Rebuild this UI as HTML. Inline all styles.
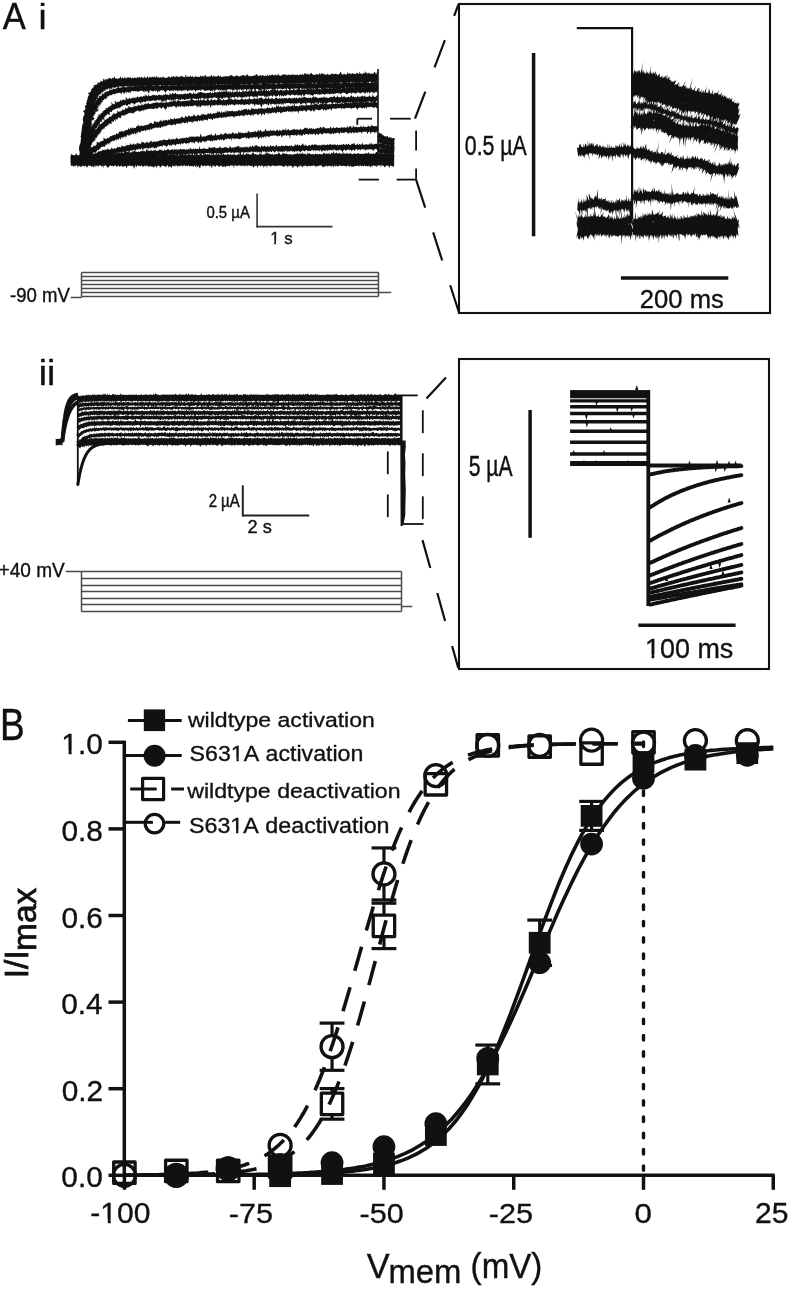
<!DOCTYPE html>
<html><head><meta charset="utf-8"><title>Figure</title>
<style>html,body{margin:0;padding:0;background:#fff}svg{display:block;will-change:transform}text{font-kerning:none;font-family:"Liberation Sans",sans-serif}</style>
</head><body>
<svg width="791" height="1289" viewBox="0 0 791 1289">
<rect width="791" height="1289" fill="#fff"/>
<g transform="translate(2.80,29.00) scale(0.9179,1)"><text font-size="37.68" fill="#111" stroke="#111" stroke-width="0.38">A</text></g>
<g transform="translate(38.62,29.00) scale(1.0344,1)"><text font-size="35.45" fill="#111" stroke="#111" stroke-width="0.34">i</text></g>
<path d="M70.7 155.7l.6-1.6 .6 .1 .6 .9 .6 .2 .6-.2 .6-.1 .6 .6 .6-.8 .6-1.3 .6 .3 .6 1.8 .6-.7 .6 .6 .6-.3 .6-.1 .6-.4 .6 .8 .6 0 .6-.6 .6-.2 .6-.8 .6 1.3 .6-.3 .6-1.5 .6 1.3 .6 .4 .6-.8 .6-.4 .6 1.8 .6-1.1 .6 .8 .6-.6 .6 .4 .6-.4 .6 .5 .6-.3 .6-.6 .6 1.1 .6-.8 .6 .6 .6 .1 .6-1 .6-.2 .6 .7 .6-.2 .6-1.1 .6 1.9 .6-.4 .6-.3 .6-.8 .6 .7 .6 .2 .6 .3 .6-.6 .6-.5 .6 .9 .6 0 .6-1.4 .6 1.7 .6 .1 .6-.6 .6 .4 .6 .5 .6-.4 .6-.7 .6 .4 .6 .6 .6-.5 .6 0 .6-.7 .6 .6 .6 .5 .6-.6 .6-.7 .6-.6 .6 .2 .6 .8 .6 .5 .6 .5 .6-1.1 .6-.3 .6 0 .6 .8 .6-.9 .6-.3 .6 1.5 .6-1.2 .6 1.3 .6-1.5 .6-.6 .6 .3 .6 1.4 .6-.1 .6-1.1 .6 1.4 .6-.4 .6 .5 .6 .4 .6-.2 .6-.7 .6 .4 .6 .1 .6 .3 .6-.2 .6-1.2 .6 .9 .6-.8 .6 1.2 .6-1.5 .6 .1 .6 1 .6-1.9 .6 2.4 .6-.5 .6-1.1 .6 .1 .6-1.5 .6 2.1 .6 .2 .6 .1 .6-.3 .6 .7 .6-.1 .6 .2 .6-1.1 .6 1.3 .6-1.1 .6 .6 .6 .1 .6-2.2 .6 .9 .6 .7 .6 .3 .6 0 .6 0 .6-.9 .6 .6 .6-.2 .6 1.1 .6-.7 .6-.1 .6 .3 .6-.8 .6 .7 .6 .6 .6-.2 .6-.1 .6-1.9 .6 2.2 .6-.2 .6-1 .6 .6 .6-.1 .6-.1 .6-1.5 .6 1.5 .6-1.3 .6-.4 .6 1.6 .6 .5 .6 0 .6-.2 .6 0 .6 .5 .6 0 .6-1.6 .6 1.6 .6-.7 .6 .7 .6-.4 .6-.1 .6-.3 .6 .6 .6 0 .6 .3 .6-.4 .6 .3 .6-.4 .6 .1 .6 .5 .6-.7 .6-.9 .6 .5 .6 .2 .6 0 .6 .7 .6-.5 .6 .4 .6-.4 .6-.6 .6 .3 .6-.6 .6 1.5 .6-1.3 .6 1.4 .6-1.9 .6-.2 .6 .3 .6 1.2 .6-.1 .6-1 .6 1.3 .6-.8 .6 .6 .6 .3 .6-.8 .6 .9 .6-.2 .6 .2 .6-.6 .6-.3 .6 .1 .6 .4 .6-.7 .6 .9 .6-1.6 .6 .8 .6 .6 .6-.2 .6 .3 .6 .4 .6 0 .6-2.7 .6 2.6 .6-1 .6 .4 .6-1 .6 0 .6 .7 .6 .1 .6-1 .6 2 .6-1.3 .6 1 .6-2 .6 2.1 .6-.3 .6 0 .6 .1 .6-.3 .6-.3 .6-.8 .6 1.5 .6 0 .6-.1 .6-.8 .6-.9 .6 1.6 .6-.3 .6-.3 .6 .2 .6-.4 .6 .8 .6-.4 .6-1.5 .6 1.4 .6 .3 .6 0 .6-.8 .6 1.1 .6-.3 .6-1.2 .6 .4 .6 .9 .6 .6 .6-1.4 .6-.1 .6 1.1 .6-1 .6 .7 .6 .2 .6-1.8 .6 1.5 .6 .5 .6-.5 .6 .6 .6 .1 .6-.5 .6 .3 .6-1.1 .6 1.2 .6-.2 .6-.2 .6-.7 .6 .4 .6-.9 .6 1.4 .6 .1 .6-.1 .6-.2 .6 .3 .6-.5 .6 .5 .6-1.6 .6 .3 .6 1 .6-1.3 .6 1.6 .6-.1 .6 .2 .6-1.2 .6 .9 .6-3.8 .6 2.8 .6 1.1 .6 0 .6 .2 .6-2 .6 .8 .6 .8 .6 .6 .6-2 .6 1.2 .6 .6 .6-3.3 .6 2.6 .6-.2 .6 1.1 .6-.1 .6-.9 .6 .8 .6-.7 .6 .6 .6-2.9 .6 1.7 .6-1.8 .6 3.1 .6-.9 .6 .4 .6 .5 .6-2.1 .6 1.2 .6 0 .6 .9 .6 .2 .6-.4 .6-1.2 .6 1 .6 .2 .6-1.1 .6 1.3 .6 .1 .6-.8 .6 .2 .6-.1 .6-2.6 .6 2.2 .6 .5 .6 .4 .6-1 .6 .8 .6 .1 .6-2.6 .6 2.7 .6-.3 .6-1.3 .6-.3 .6 .5 .6 .3 .6-1.2 .6 1.9 .6 .7 .6-1.2 .6 1 .6-.1 .6-1.5 .6 1.3 .6 0 .6 .1 .6-.2 .6 .5 .6-.3 .6 .4 .6-.9 .6 .3 .6-.1 .6 0 .6-1.4 .6 2 .6-1.1 .6 .7 .6-.2 .6-.2 .6 .8 .6-.2 .6-.4 .6-.8 .6 .8 .6 .6 .6-1.8 .6-.9 .6 2.3 .6-.1 .6 .1 .6-.1 .6 .2 .6-1.5 .6 1.5 .6-.1 .6 .1 .6-.5 .6 .2 .6 .4 .6-.7 .6 1 .6-.3 .6-.6 .6 .8 .6-.5 .6-1.1 .6 .5 .6-.3 .6 .8 .6 .6 .6-.4 .6 .2 .6-.8 .6 1 .6-1.7 .6 1.8 .6-1.7 .6 1.5 .6-1.2 .6-.1 .6 1.4 .6 0 .6-1.9 .6 1.1 .6-1.7 .6 .8 .6-.4 .6 1.4 .6 .2 .6 .4 .6-1.5 .6 .1 .6 1 .6-.3 .6 .6 .6-1.5 .6 1.4 .6-.7 .6-1 .6 1.6 .6 .3 .6-1.1 .6-.3 .6 1.1 .6-.4 .6 .4 .6 .1 .6 0 .6-.9 .6-.7 .6 1.7 .6 .1 .6-.5 .6-1.6 .6 2.3 .6-1.3 .6-1.6 .6 2 .6 .7 .6 0 .6-2.8 .6 2.1 .6-1.1 .6 1.1 .6 .1 .6-.1 .6-1 .6 .8 .6-.5 .6 1.3 .6 .2 .6-.8 .6-.9 .6 1.7 .6-1.2 .6-.2 .6 .3 .6 .7 .6-2 .6 2.4 .6-1.1 .6 .8 .6-1 .6 .1 .6 .4 .6 .5 .6-.3 .6 .3 .6-1 .6 1.1 .6-.2 .6-1 .6 .1 .6 .5 .6 .5 .6 .1 .6-.9 .6 0 .6 .2 .6 .6 .6 0 .6-.5 .6 0 .6 0 .6 .7 .6-1 .6 .9 .6 .2 .6-.5 .6 .6 .6-1 .6-.5 .6-.2 .6 .8 .6 .7 .6-1.5 .6 1 .6-.8 .6 .2 .6 .3 .6-.9 .6 1 .6 .3 .6-.5 .6-.2 .6 1.1 .6 .2 .6-.6 .6-.5 .6 0 .6 0 .6 .5 .6 .2 .6-.3 .6-.6 0 5.4-.6-.1-.6 1-.6 .3-.6-.5-.6-.4-.6-.1-.6-.2-.6-.2-.6-.2-.6 2-.6-1.3-.6 .5-.6 .2-.6-.8-.6 1.4-.6-.8-.6 .4-.6-1.3-.6 1.8-.6-1.3-.6 .5-.6 .7-.6 .2-.6-.9-.6-.9-.6 1.1-.6-.9-.6 .8-.6-1-.6 .2-.6 1.1-.6-1.3-.6 0-.6-.1-.6 .2-.6 0-.6-.2-.6 .4-.6-.3-.6 1.3-.6-1.7-.6 2.1-.6-1.9-.6 .8-.6-1.1-.6 0-.6 0-.6 .3-.6 .5-.6 .6-.6-1.1-.6 .2-.6 0-.6 0-.6 1.4-.6-1.7-.6 0-.6 .2-.6 .2-.6-.2-.6 .2-.6 .3-.6 .3-.6-1.1-.6 .5-.6-.3-.6 1-.6-.5-.6 .4-.6 .9-.6-2-.6 1.6-.6-.2-.6-1.3-.6 .2-.6-.2-.6 .3-.6 .5-.6-.5-.6 .5-.6 .4-.6-.4-.6-.7-.6 .9-.6-.2-.6 2.2-.6-3-.6 .5-.6 .3-.6-.7-.6 1.1-.6-1.2-.6 1.3-.6-1-.6 .2-.6-.7-.6 1-.6-.5-.6 0-.6-.4-.6 .9-.6-.9-.6 2-.6-1.9-.6-.2-.6 .9-.6-.5-.6 0-.6 .1-.6 .1-.6-.4-.6 .4-.6 0-.6-.1-.6 .8-.6-1-.6 1.1-.6-.6-.6 .8-.6 .6-.6-1.9-.6-.3-.6 2-.6-1.2-.6-.1-.6-.3-.6-.2-.6 .2-.6 .4-.6 .2-.6 .1-.6 .3-.6 0-.6 .7-.6-.8-.6-.4-.6 0-.6 1-.6-1.2-.6 .2-.6 .5-.6 0-.6-1-.6 .8-.6-.2-.6-.3-.6 .6-.6-.7-.6 1-.6-1.2-.6-.1-.6 1.1-.6-.3-.6-.7-.6 .1-.6-.2-.6 2-.6-1.7-.6 .3-.6-.9-.6 .5-.6 1.2-.6-.6-.6-.9-.6 .6-.6-.5-.6 .3-.6 .3-.6 .2-.6 .6-.6 2-.6-3-.6 1.4-.6-1.8-.6-.1-.6 1.1-.6 .7-.6-1.1-.6 .8-.6 1.1-.6-2.1-.6 .3-.6 1-.6-1.5-.6 .9-.6 .3-.6-1.3-.6 1.4-.6-1.1-.6-.3-.6 1-.6-.8-.6 1.7-.6-.8-.6-1-.6 .7-.6 .6-.6-1.2-.6 0-.6 0-.6 .2-.6 .6-.6-.3-.6 .1-.6-.6-.6-.2-.6 .8-.6-.6-.6-.4-.6-.1-.6 .3-.6 .9-.6-.6-.6-.3-.6 1.2-.6-1.4-.6 .2-.6 .4-.6-.1-.6 .3-.6 .4-.6-1.4-.6 1.3-.6 .6-.6-.6-.6-1.2-.6 .3-.6 1.1-.6 .4-.6-.4-.6 .2-.6-.2-.6 .5-.6-1.2-.6-.5-.6 .9-.6-.7-.6 .8-.6 .2-.6-1.4-.6 1.1-.6 .3-.6-.9-.6 1.4-.6-1.3-.6 .5-.6 1.5-.6-.7-.6-2-.6 1.9-.6-1.1-.6 1.1-.6-1.1-.6 0-.6 1.4-.6-1.9-.6-.2-.6 .6-.6 .7-.6 .2-.6-1.2-.6 3.4-.6-2.8-.6 .5-.6-.6-.6-.1-.6 .6-.6 .6-.6-1.7-.6 .1-.6 0-.6 1.4-.6-.9-.6 1.5-.6-1.8-.6-.4-.6 .2-.6 .1-.6-.3-.6 .5-.6 .2-.6 1.2-.6-1.2-.6-.4-.6-.4-.6 .7-.6 .5-.6-1.1-.6 0-.6 2.3-.6-1.4-.6-.9-.6 .2-.6 .9-.6 0-.6-1.1-.6 1.1-.6 .9-.6-1.7-.6-.2-.6 .8-.6 .1-.6-1.1-.6 .2-.6 1.9-.6-1.6-.6 .8-.6-1.3-.6 3.1-.6-2.1-.6-.9-.6 .4-.6 1.3-.6-1.9-.6 1.7-.6-.4-.6-1.2-.6 .1-.6 .7-.6-.7-.6 1-.6 1-.6-1.7-.6-.2-.6-.2-.6 2.5-.6-1.5-.6-1-.6 1.7-.6-.7-.6-.7-.6-.4-.6 1-.6 0-.6-.2-.6-.3-.6 0-.6-.4-.6 .3-.6 .6-.6 1.6-.6-2-.6-.4-.6 0-.6 .8-.6-.3-.6 .2-.6-.1-.6-.4-.6 1.3-.6 0-.6-1.6-.6 0-.6 2.3-.6-.7-.6-1-.6 .9-.6-1.4-.6 .4-.6 .3-.6-.3-.6-.6-.6 .3-.6 .2-.6 1.1-.6-.9-.6 .2-.6 .4-.6-1.3-.6 1.1-.6-.5-.6-.5-.6 .6-.6 1.4-.6 .4-.6-1.6-.6 1.8-.6-2.5-.6 .8-.6 .3-.6-.2-.6 .3-.6-.7-.6 .9-.6-1.2-.6 .4-.6-.4-.6 .1-.6 .5-.6-.1-.6-.4-.6 .1-.6-.2-.6-.3-.6 1.4-.6-1.5-.6 1.8-.6-1.4-.6-.1-.6 2.7-.6-1.7-.6-.6-.6 .1-.6-.3-.6 2.4-.6-1.6-.6-1-.6 1.1-.6-.1-.6-.9-.6 .4-.6-.6-.6 1.6-.6-.9-.6 1.2-.6-1.6-.6-.2-.6 .5-.6-.4-.6-.3-.6 .4-.6 .4-.6-.4-.6 2.7-.6-1.7-.6-1.1-.6 1.7-.6-.4-.6-.6-.6-.1-.6-.5-.6 .1-.6 1.7-.6-1.7-.6 1.4-.6-.9-.6 .5-.6-.6-.6-.8-.6 2.1-.6-1.8-.6-.4-.6 1.3-.6-.5-.6-.7-.6 .8-.6-.8-.6 .4-.6 1.2-.6-.7-.6 .2-.6 .6-.6-1.8-.6 0-.6-.1-.6 .6-.6 0-.6 1.4-.6-1.7-.6 2-.6-1.6-.6-.2-.6-.2-.6 0-.6-.2-.6 .5-.6-.1-.6 .2-.6-.1-.6 .1-.6 .3-.6 .7-.6-.6-.6 .5-.6 .1-.6 1.3-.6-2.1-.6 .7-.6-1.2-.6-.1-.6 3.4-.6-3.6-.6 1.1-.6-.9-.6 .1-.6 .8-.6-.8-.6 .1-.6-.1-.6 1.3-.6-.1-.6-1.4-.6 .8-.6-.4-.6-.5-.6 .6-.6 .4-.6-1.1-.6 .8-.6-.6-.6 1.2-.6-1.2-.6 .6-.6-.3-.6 .7-.6-.8-.6 .8-.6-1-.6 .2-.6-.1-.6 0-.6 .9-.6-.5-.6 .4-.6-.3-.6 1.2-.6-1.5-.6-.2-.6-.1-.6-.2-.6 1.6-.6-1.4-.6 .1-.6 .1-.6-.1-.6 .9-.6 1.1-.6-1.6-.6 .2-.6 0-.6 0-.6 .8-.6-1.4-.6 .4-.6-.3-.6-.1-.6 .9-.6 2.3-.6-3.1z" fill="#111"/>
<path d="M70.7 155.8l.6 2.7 .6-.1 .6-1.8 .6 1.3 .6 .2 .6 .3 .6-.1 .6-1.3 .6 1.4 .6-.6 .6-.9 .6 1.3 .6 .5 .6-2.9 .6 2.5 .6 .4 .6-.5 .6 .2 .6-.1 .6 0 .6-.2 .6 .5 .6-.4 .6-.1 .6-.3 .6-.2 .6 .6 .6-.3 .6 .5 .6 .1 .6-1.2 .6-.8 .6 1.6 .6-3.3 .6 1.8 .6 .2 .6-.1 .6 1.4 .6-1.5 .6 .2 .6 .9 .6-.5 .6-.1 .6 .7 .6 .5 .6 .3 .6-.3 .6-.2 .6-.1 .6 .5 .6-1.7 .6 .1 .6-1.4 .6 1.7 .6 .8 .6 .5 .6-.4 .6 .2 .6 .4 .6-.3 .6-1 .6 .2 .6 .5 .6-1.1 .6 1.6 .6-.7 .6 .2 .6-.5 .6 0 .6 .8 .6-1.5 .6 .6 .6 .2 .6 .8 .6-1.2 .6-1.5 .6 .9 .6 1.5 .6-.3 .6 0 .6 .3 .6-.9 .6 .5 .6-.5 .6 .6 .6-.4 .6 .8 .6 .1 .6-.2 .6-1.2 .6-.1 .6 .8 .6 .9 .6-.4 .6-.1 .6 0 .6 .5 .6-1.6 .6 1.3 .6 0 .6-3 .6 3.1 .6 0 .6-.7 .6 0 .6 .2 .6-.5 .6-1 .6 .9 .6 .6 .6 .4 .6-1.2 .6 .7 .6 .4 .6-.2 .6 .6 .6-.2 .6-.4 .6-.9 .6-2.2 .6 2.8 .6-.3 .6 1.1 .6-.2 .6-2.3 .6 2.3 .6-.1 .6 .4 .6-.7 .6 .8 .6-.8 .6-.7 .6 1.4 .6-1.6 .6 .5 .6 .5 .6-1 .6 1.2 .6-.8 .6-1.3 .6 2.4 .6-1.3 .6-.1 .6 1.1 .6-1 .6-.2 .6 .4 .6 .6 .6 .6 .6-1.5 .6-1.2 .6 2 .6 .4 .6-.2 .6-2.2 .6 .1 .6 2.2 .6 0 .6-1.1 .6 .2 .6 .7 .6-1 .6 .9 .6 .3 .6-1.1 .6 .7 .6 0 .6-.1 .6-.5 .6 .8 .6-1.5 .6 2 .6-.5 .6 .5 .6-.4 .6 .4 .6-2 .6 1.8 .6 .2 .6-.8 .6-.6 .6 .3 .6 .7 .6-1.4 .6 .4 .6 1 .6 .1 .6 .3 .6-1.1 .6 0 .6-.1 .6 .5 .6-1 .6-.1 .6 1.8 .6-1 .6 .6 .6 .4 .6-1.5 .6 .4 .6-.1 .6 .3 .6 .8 .6-.5 .6-.8 .6 .4 .6 .5 .6-1.2 .6 .8 .6 .8 .6-2.5 .6 1.6 .6 1 .6-.5 .6-1.7 .6 2.3 .6-.2 .6-1 .6 0 .6 .5 .6 0 .6 .5 .6-.1 .6 .1 .6-.9 .6-.4 .6 1.3 .6 0 .6-1.6 .6 1.6 .6-.1 .6-.6 .6 .5 .6 0 .6-.3 .6 .3 .6 .5 .6-.7 .6-.7 .6 .3 .6 .7 .6-1.9 .6 .5 .6 1.3 .6-.3 .6-2.2 .6 2.2 .6 .1 .6 .2 .6 .3 .6-.8 .6 .3 .6-.3 .6-.5 .6 1.1 .6-.8 .6 0 .6 1 .6-.7 .6 .2 .6 .3 .6-1.6 .6 1.6 .6-1.4 .6 1.6 .6-2.9 .6 3 .6-.8 .6 .3 .6-.8 .6 .1 .6-.6 .6 0 .6 .4 .6 .5 .6 .3 .6 .7 .6-.2 .6-2.8 .6 2.3 .6 .4 .6-.9 .6 .1 .6 .7 .6-1 .6 .8 .6 .2 .6-1 .6 .4 .6 .4 .6-1.4 .6 1.3 .6 0 .6 .4 .6-1.8 .6 1.8 .6 .1 .6-.3 .6-.6 .6 .9 .6-.6 .6-2 .6 .6 .6 1.3 .6 .4 .6 .3 .6-1.6 .6 1.1 .6-.2 .6 .8 .6-.5 .6-1.2 .6 1.7 .6-.3 .6-1 .6-.7 .6 1.4 .6-.7 .6 .4 .6 .2 .6 .7 .6 0 .6-.3 .6 .2 .6-1.5 .6-.3 .6 1.1 .6 0 .6 .4 .6-.8 .6 .6 .6 .7 .6-1 .6-1.2 .6-1 .6 1.7 .6 1.5 .6-1.2 .6-.5 .6 1 .6-1.7 .6 .7 .6-.6 .6 2.2 .6-.3 .6 0 .6-1.1 .6-.2 .6 1.7 .6-.3 .6 0 .6-.2 .6-1.1 .6 1.3 .6-.1 .6 .1 .6-.4 .6 .2 .6 .1 .6 .4 .6-1.6 .6 .2 .6-.3 .6 1.5 .6-.7 .6 .4 .6-.5 .6 .6 .6-.3 .6 .6 .6-.3 .6-.2 .6-1.2 .6 .7 .6-.1 .6-.8 .6 1.6 .6-.1 .6 .3 .6-.4 .6-.3 .6-.1 .6 .6 .6-1.5 .6 1.7 .6 .1 .6-.2 .6 .2 .6 .1 .6-1.8 .6-1 .6 1.4 .6 1.1 .6-.6 .6-.2 .6 .3 .6 .3 .6-2.4 .6 2.1 .6 .8 .6-.1 .6 0 .6-.2 .6-2.5 .6 2.6 .6-.8 .6 .4 .6 .2 .6 0 .6 .2 .6-.9 .6 .1 .6 .4 .6-.3 .6 .3 .6-.2 .6 .4 .6-2.6 .6 1.8 .6 1.2 .6-.3 .6-1.1 .6 .9 .6-.7 .6 .7 .6-.2 .6 .2 .6 .1 .6-1.4 .6 1 .6 .1 .6 .3 .6 0 .6-2.9 .6 2.6 .6-1.7 .6 1.6 .6-1.1 .6 1.3 .6 .5 .6-1 .6 .3 .6-1.4 .6 1.9 .6-.6 .6-.4 .6 0 .6 .3 .6 .6 .6 .3 .6-.9 .6-1 .6 2 .6-2.3 .6 2.2 .6-.2 .6 .3 .6-1.4 .6 .2 .6 .8 .6 .2 .6-.7 .6-.1 .6-1.2 .6 1.6 .6-.1 .6 .5 .6-.6 .6-.2 .6-.2 .6 1.2 .6-.3 .6 0 .6 .1 .6 .2 .6-2.8 .6 1.8 .6 .8 .6-.8 .6-.7 .6 .6 .6-1.3 .6 2.2 .6-.5 .6 .1 .6 0 .6-1.2 .6 1.6 .6 .2 .6-1.5 .6-.7 .6 .5 .6 1.6 .6 0 .6-2.2 .6-.8 .6 3.1 .6-.6 .6-.5 .6-.4 .6 1.2 .6-.8 .6 .4 .6-2.4 .6 1.6 .6 1.1 .6-.7 .6-1.5 .6 .5 .6 2 .6-3.8 .6 3.1 .6-.6 .6-2.1 .6 2.4 .6 1 .6-1.7 .6 1.3 .6 .4 .6-.2 .6-1 .6 .9 .6 .2 .6-1.4 .6 .9 .6 .5 .6-2.2 .6 2.3 .6 0 .6-.5 .6-.4 .6 .9 .6-.6 .6-1.4 .6-.2 .6 1.9 .6-.7 .6-.4 .6 .7 0 4.6-.6 .1-.6-.3-.6 .9-.6 .3-.6-1-.6-.1-.6 .5-.6 .9-.6-1.3-.6 .2-.6 1.5-.6-1.7-.6 .1-.6-.2-.6 1.1-.6-.7-.6 1.2-.6 .3-.6-.9-.6 .6-.6-.3-.6 0-.6 1.8-.6-3.1-.6 1-.6-.8-.6 .9-.6-.6-.6 .4-.6 .2-.6-.6-.6 .2-.6-.2-.6 1-.6-.3-.6-.9-.6-.1-.6 .9-.6-.1-.6 .7-.6-1.5-.6 1.5-.6-1-.6 .4-.6-.9-.6 .1-.6 .8-.6-.5-.6-.1-.6 1-.6 .7-.6-2-.6-.3-.6 .2-.6 1.2-.6 .3-.6-.8-.6 .2-.6-.7-.6 1.3-.6-1.3-.6 1-.6-1.2-.6-.1-.6 .7-.6 .2-.6 .6-.6-1-.6-.3-.6 .7-.6-.1-.6-.8-.6 .4-.6 .8-.6 .6-.6-1.6-.6 1.3-.6 .2-.6-1.5-.6 .5-.6 .3-.6 .5-.6-1.4-.6 1.8-.6-1-.6-.5-.6 .8-.6 .2-.6-.2-.6-1.2-.6 .2-.6 1.1-.6-.8-.6-.1-.6 .2-.6 1.2-.6-1-.6 1.9-.6-1.8-.6-.3-.6 1.9-.6-1.5-.6-.7-.6 0-.6 0-.6 1.6-.6-1.7-.6-.1-.6-.2-.6 .7-.6-.6-.6 1.5-.6 .9-.6-1.4-.6-.2-.6-.7-.6 1-.6-1-.6 2.9-.6-1.1-.6-1.4-.6 1.1-.6-.6-.6-.4-.6-.1-.6 .3-.6-.2-.6 .2-.6-.1-.6 1.3-.6-1.6-.6-.3-.6 .2-.6 .1-.6 0-.6-.4-.6 .8-.6 1.3-.6-1.6-.6 1.6-.6-1.9-.6-.1-.6 .3-.6-.4-.6 0-.6 1.1-.6 .5-.6-.4-.6-.3-.6-.5-.6 .7-.6-.1-.6-.9-.6 .7-.6-.8-.6 1.9-.6 .4-.6-1.7-.6 .8-.6-.4-.6-.4-.6 .9-.6-1.3-.6-.1-.6 2.5-.6-1.3-.6 .1-.6 .2-.6-1.6-.6 0-.6 1.2-.6-1.2-.6 .7-.6-.6-.6 .8-.6-.9-.6 3.3-.6-2.2-.6-.6-.6-.1-.6 1.2-.6 .5-.6-1.8-.6 0-.6 .2-.6 .2-.6-.4-.6 .3-.6 .2-.6 1.2-.6-1.5-.6 1-.6-.4-.6-1-.6 .1-.6 .1-.6 1.4-.6-.8-.6-.5-.6-.2-.6-.3-.6 .6-.6-.3-.6 .1-.6 .3-.6 1-.6-.9-.6-.6-.6 .8-.6 .1-.6-.6-.6 .9-.6-1-.6 1.7-.6-1.6-.6-.4-.6 .8-.6 .6-.6-.8-.6 1-.6-1-.6-.2-.6-.1-.6-.3-.6 1.4-.6-.9-.6 .4-.6 .4-.6-.2-.6 .8-.6-2-.6 .8-.6-.2-.6 .8-.6 .9-.6-1.2-.6-.5-.6 .4-.6-.8-.6 .2-.6 .4-.6 .9-.6-1.2-.6-.4-.6 1-.6-1.1-.6 1.8-.6-1.5-.6-.1-.6 1.3-.6-.4-.6-.4-.6 1.8-.6-1.6-.6 .3-.6-.7-.6-.1-.6 .7-.6 1.2-.6-.9-.6-.9-.6 1-.6-1.3-.6 .3-.6 .7-.6-.7-.6 .3-.6-.3-.6 1-.6-.3-.6-.3-.6-.4-.6 .1-.6 .1-.6-.4-.6 3.2-.6-3.3-.6 1.4-.6-1-.6 .8-.6 .2-.6 .8-.6-2-.6-.1-.6 1.1-.6 0-.6-.8-.6 1-.6-1.1-.6 1.9-.6-2.3-.6 2-.6-1.7-.6 .4-.6-.4-.6 .2-.6 .2-.6 .6-.6 0-.6-1.1-.6 0-.6 0-.6 1.5-.6-.8-.6-.1-.6-.6-.6 0-.6 .9-.6-.5-.6 .5-.6-.6-.6 .9-.6-1.5-.6 .6-.6-.5-.6 2.5-.6-1.9-.6 .2-.6 0-.6-.7-.6 .8-.6 .4-.6 1-.6-2.3-.6 1.6-.6-.7-.6-.6-.6-.1-.6 1-.6 .6-.6-1.1-.6 .4-.6 .2-.6 .3-.6 1-.6-2.5-.6 1.5-.6-1.3-.6 .8-.6-.9-.6 1.1-.6-.4-.6-.7-.6 .7-.6 .4-.6 .3-.6-.2-.6-.4-.6 1.3-.6-2.3-.6 .8-.6-.7-.6 0-.6 1-.6-.8-.6-.1-.6 .3-.6 .4-.6-.1-.6-.6-.6 .8-.6 .7-.6-.8-.6 0-.6-.8-.6-.1-.6 1.3-.6 .8-.6-1-.6-1-.6 .1-.6 1.3-.6-.9-.6 .2-.6-.3-.6-.5-.6-.1-.6 .3-.6 .7-.6 .5-.6-1.3-.6 .4-.6 .2-.6-.7-.6 1.9-.6 .4-.6-.1-.6-1.8-.6 0-.6-.3-.6-.1-.6 1.6-.6 .5-.6 1.4-.6-2.4-.6-.8-.6 .7-.6-.3-.6-.5-.6 .2-.6-.1-.6 0-.6 1.5-.6-1.1-.6 .6-.6-1.2-.6-.2-.6 .4-.6 1.2-.6-1.3-.6 .5-.6 1.1-.6-1-.6 .3-.6 .5-.6-1.1-.6 .3-.6-.2-.6 .2-.6-.9-.6 .1-.6 .7-.6-.6-.6-.2-.6 2.5-.6-1.8-.6-.6-.6 .3-.6 3.2-.6-2.5-.6-.9-.6 1.4-.6-1.1-.6 1-.6-1-.6-.3-.6 1.8-.6-.8-.6-.6-.6-.1-.6-.3-.6-.1-.6 0-.6 .3-.6-.2-.6-.2-.6 .5-.6-.4-.6 3.3-.6-2.7-.6-.4-.6-.2-.6 1.7-.6-.9-.6-.6-.6 .2-.6 .8-.6 .6-.6-1.4-.6 .2-.6 1.6-.6 .3-.6-1.1-.6-1.5-.6 .3-.6 1.8-.6-1.9-.6 .4-.6 .4-.6 .4-.6-1.2-.6 .5-.6 1.4-.6 .1-.6-1.3-.6-.7-.6-.1-.6 1.4-.6 .6-.6-1-.6-.3-.6-.6-.6 .3-.6 .7-.6-.2-.6 .7-.6-1.4-.6 2.3-.6-1.4-.6-.1-.6-.9-.6 .6-.6 .3-.6 1-.6-1.2-.6-.2-.6-.2-.6-.3-.6 .5-.6-.4-.6 .3-.6 .2-.6 .1-.6 1.8-.6-2-.6 .6-.6 2.1-.6-2.7-.6 .1-.6-.1-.6 2.3-.6-2.3-.6-.3-.6 0-.6 0-.6 .7-.6-.9-.6 .5-.6 1.2-.6-1.9-.6 .4-.6 .1-.6 2.3-.6-1.4-.6-.9-.6-.2-.6 .3-.6 1.4-.6-.8-.6 .2-.6-.9-.6 1.9-.6-.6-.6-.9-.6-.4-.6 1.7-.6-1-.6-.5-.6-.3z" fill="#111"/>
<path d="M70.7 161.1l.6-1.1 .6 0 .6-1.2 .6 1.4 .6 1.3 .6-2.1 .6 1.5 .6-1.4 .6 .6 .6 .5 .6-.4 .6 .9 .6-.5 .6-1.2 .6 1.1 .6 .8 .6 .1 .6-.7 .6 .4 .6-.2 .6-.9 .6 .2 .6 .4 .6 .6 .6-.7 .6 .9 .6-1.3 .6 .1 .6 .4 .6-.7 .6-.2 .6 .6 .6 1.1 .6-.7 .6-.8 .6 .2 .6 .3 .6 1 .6-.2 .6-.3 .6 .2 .6-.3 .6 .6 .6-1.1 .6 .5 .6-.6 .6 1.1 .6-1 .6 .7 .6 .4 .6-.5 .6-.1 .6 .1 .6-2.9 .6 3.1 .6 .2 .6-.4 .6 0 .6-.8 .6 1.2 .6-.6 .6-1.7 .6 .7 .6 1.1 .6-2.4 .6 2.4 .6-.3 .6-.3 .6 1.1 .6-.9 .6 .6 .6-.3 .6-.8 .6 1.5 .6-1.2 .6 .8 .6-.1 .6-1.2 .6 1.1 .6 .5 .6-2.7 .6 1.9 .6 0 .6 .6 .6-.3 .6 .5 .6-1.6 .6 1.5 .6-1.6 .6 1.5 .6 0 .6-.6 .6-1.7 .6 .7 .6 .6 .6 .2 .6 .5 .6-.4 .6 .7 .6-.3 .6-.7 .6 .6 .6 .3 .6 .4 .6-1.6 .6 1.6 .6-.6 .6 .3 .6-1.1 .6 .5 .6 0 .6 .6 .6-1.1 .6-.3 .6 1.8 .6-1.2 .6-.4 .6 .5 .6 0 .6 .3 .6-.8 .6 .5 .6-.3 .6 0 .6 1.3 .6-.4 .6-1.4 .6 1.4 .6-1.4 .6 1.8 .6-.4 .6-.3 .6 .6 .6-1.8 .6 1.9 .6 0 .6-.5 .6-2.1 .6 .1 .6 1.8 .6-.4 .6-.4 .6 .7 .6 .5 .6-1.3 .6 .9 .6 .5 .6-.4 .6-1.3 .6 .8 .6-.5 .6 1.7 .6-.2 .6-.6 .6 .1 .6-1.2 .6 1.4 .6-.8 .6-.4 .6 .4 .6-.8 .6 .1 .6 1.6 .6-1.7 .6 1.8 .6-1.1 .6 .6 .6-.2 .6 .7 .6 .1 .6-.4 .6-.8 .6 .5 .6-.6 .6 .1 .6-1 .6 2.3 .6-.6 .6-.8 .6 .6 .6-.1 .6-.5 .6 1.3 .6-.2 .6 .2 .6-.6 .6-.3 .6 .6 .6 .5 .6-2.1 .6 1.4 .6-1.5 .6 1.7 .6-.2 .6-1.3 .6 1 .6-1.1 .6 1.4 .6-.1 .6 .7 .6-.6 .6-.5 .6 .4 .6-.9 .6 .2 .6-.8 .6 2 .6-.8 .6 .3 .6-1 .6 1 .6 .7 .6-1.4 .6-.4 .6 .2 .6-2.4 .6 3.2 .6-1.1 .6 .3 .6 .4 .6 .7 .6-1.2 .6 1.4 .6 .1 .6-.6 .6 .5 .6-.2 .6 .3 .6-.2 .6 .3 .6-2.2 .6 2.3 .6-1.6 .6 .7 .6-1 .6 1 .6 .6 .6-.1 .6-1 .6 .7 .6 .5 .6-2.2 .6 1.7 .6 .5 .6-.1 .6-.5 .6 .1 .6 .7 .6-1 .6 .4 .6 0 .6-1 .6 .3 .6-.9 .6 2.2 .6-.2 .6-1 .6 .8 .6 .3 .6 .1 .6-.3 .6-.4 .6 0 .6 .3 .6 .1 .6-1.3 .6 1.6 .6-1.9 .6 .4 .6-.8 .6 1.4 .6 .1 .6 .8 .6 0 .6-.1 .6 .1 .6-1.1 .6-.2 .6 .2 .6 1 .6-1.6 .6 .5 .6 1.3 .6 0 .6-.7 .6 .1 .6 .3 .6-1.3 .6 1.1 .6-.2 .6 .2 .6 0 .6 .2 .6-.6 .6 .7 .6 .1 .6-.4 .6-2.1 .6 1.7 .6 0 .6 .3 .6 .4 .6-.2 .6-.7 .6 .2 .6 0 .6-.1 .6-.1 .6-1.1 .6 1.5 .6 .2 .6-.9 .6 .1 .6 .3 .6 .9 .6-3.3 .6 3.4 .6-1.2 .6 0 .6-.5 .6-.6 .6 1 .6-.3 .6 .3 .6 .8 .6-1 .6 .8 .6 0 .6 .5 .6-.3 .6-.3 .6-.1 .6 .5 .6-.5 .6 .8 .6-1 .6-.8 .6-.6 .6 1.2 .6 .3 .6 .2 .6-.3 .6 .2 .6 .2 .6 .3 .6-.9 .6 1.1 .6-1.2 .6 1.2 .6-.7 .6 .7 .6-.9 .6 .6 .6 .3 .6-.2 .6-2.3 .6 .5 .6 1.6 .6 .5 .6 .1 .6-.3 .6 .1 .6-.3 .6 .4 .6-.7 .6 .4 .6 .4 .6-1.2 .6 .9 .6-1.1 .6 .6 .6 .6 .6 .1 .6-1.2 .6 .3 .6 .4 .6 .2 .6 .4 .6-.3 .6-1.8 .6 1.6 .6-.3 .6-.2 .6-.5 .6 .5 .6 .6 .6 .2 .6-1.1 .6 .3 .6 .5 .6 .3 .6-.7 .6-.7 .6 1.5 .6-.2 .6-.7 .6-.7 .6 1.5 .6-1 .6-.2 .6-.5 .6-.1 .6 1 .6 0 .6 .9 .6-1.1 .6 1.2 .6-.6 .6-.7 .6 .4 .6-.1 .6-.5 .6 .6 .6 .6 .6-1.3 .6 .2 .6 .5 .6 .3 .6 .6 .6-.2 .6-.2 .6-.9 .6 .6 .6-.4 .6 .7 .6-.8 .6-.5 .6 .8 .6 .9 .6-1.5 .6 .7 .6-.6 .6 .7 .6-1.3 .6-.8 .6 1.7 .6-.7 .6 1.3 .6-.1 .6 .3 .6-.4 .6-.5 .6 .6 .6-.4 .6-1.1 .6 2 .6-2.1 .6 .7 .6 .4 .6 1.1 .6-3.1 .6 3 .6-.8 .6-1.1 .6 .2 .6 1.2 .6-.3 .6-.8 .6 1.6 .6-.9 .6 1 .6-1.3 .6-1.2 .6 .3 .6 1.9 .6-1.1 .6 1 .6-.8 .6-.6 .6-.9 .6 2.4 .6-.1 .6-1.2 .6 1.3 .6-.9 .6 .1 .6 .5 .6-.8 .6 .3 .6-.2 .6 .5 .6 .3 .6-2.1 .6 1.9 .6-.1 .6-.1 .6-.6 .6 .9 .6 .5 .6-1.8 .6 .9 .6 .8 .6-.5 .6 .5 .6-1.1 .6-1.3 .6 2.6 .6-.2 .6-1 .6 1.1 .6-.8 .6 .4 .6 .1 .6-.2 .6-.5 .6-.4 .6 1 .6-1.6 .6 1.9 .6-.4 .6 .4 .6-.4 .6-.6 .6 1.2 .6-.1 .6-.7 .6 .3 .6-.7 .6 1 .6-1.4 .6-.4 .6 2 .6-1.1 .6-.3 .6 1 .6 .2 .6-1 .6 .2 .6-1 .6 .6 .6-.4 .6 .2 .6 1.5 .6-1.3 .6 .6 .6 .8 .6-1.2 .6 .3 .6 .3 0 5.4-.6 .4-.6-.5-.6 .3-.6-.4-.6-.2-.6-.6-.6 1-.6 1.7-.6-1.5-.6-.7-.6-.1-.6-.5-.6 .3-.6 1.5-.6-.5-.6 .9-.6-1.4-.6-.1-.6-.6-.6 .3-.6-.3-.6 2.1-.6-2.3-.6 .2-.6 .4-.6-.5-.6 .1-.6 .9-.6 1.2-.6-2.1-.6 1-.6-.3-.6-.5-.6-.1-.6-.1-.6 .8-.6 1.1-.6-1.6-.6 2.2-.6-1.3-.6-.4-.6-.7-.6 1-.6 .1-.6-.6-.6 0-.6 0-.6 .4-.6-.8-.6 .1-.6 .7-.6 .1-.6-.9-.6 .6-.6 .5-.6-1.2-.6-.3-.6 1.6-.6-.6-.6 .1-.6-.6-.6 .2-.6 .1-.6 .5-.6-.4-.6 .1-.6 .1-.6 .8-.6 .1-.6-.9-.6 .7-.6-1-.6-.5-.6 1.5-.6-.7-.6-.6-.6 .9-.6-1.2-.6 1-.6 .5-.6-.5-.6-.2-.6-.3-.6 .1-.6-.3-.6 .4-.6 .3-.6-.5-.6 .1-.6-.5-.6 0-.6-.2-.6 1.5-.6-.1-.6-.5-.6-.5-.6 1.1-.6-.9-.6-.2-.6 .9-.6 .3-.6-.4-.6-1.1-.6 .6-.6 1.6-.6-1.8-.6 .3-.6-.2-.6 0-.6 .4-.6 .3-.6-.3-.6-.7-.6 .2-.6 1-.6-.4-.6 1.4-.6-1.6-.6 1.5-.6-1.3-.6-.8-.6 .2-.6-.6-.6 .7-.6-.6-.6 1.4-.6-1.2-.6 1-.6-.9-.6 2.3-.6-2-.6 .6-.6-1-.6 0-.6-.1-.6 .8-.6 .2-.6-.6-.6 .4-.6 .2-.6-.3-.6-.8-.6 1.3-.6 0-.6-.4-.6 .4-.6-.4-.6-1-.6 .7-.6 .6-.6-.6-.6 .4-.6 1.5-.6-2.2-.6 1.4-.6-1.6-.6 .1-.6 1.7-.6-1-.6 .7-.6 1.1-.6-1.1-.6-.8-.6 .3-.6-.9-.6 1.4-.6-1.5-.6 2.5-.6 .1-.6-1.6-.6 0-.6-.4-.6-.6-.6 1.1-.6-.8-.6-.2-.6 2.4-.6-1.9-.6-.3-.6 .4-.6-.7-.6 1.8-.6-1-.6 .7-.6-.1-.6-.6-.6 .4-.6-1.2-.6 .8-.6-.9-.6 .4-.6 1-.6-1.5-.6 1.1-.6-.9-.6 .9-.6-.6-.6 .8-.6-1.2-.6 1-.6-.3-.6-.5-.6-.2-.6 1-.6-.8-.6 1.7-.6-1.6-.6 .8-.6-.6-.6-.5-.6 .3-.6 2.6-.6-2.5-.6 .5-.6-.3-.6 .3-.6 1.8-.6-1.7-.6-.3-.6-.6-.6 .1-.6 .9-.6 .1-.6-1-.6-.2-.6 .7-.6 .2-.6 2.1-.6-2.4-.6-.5-.6 .6-.6 .1-.6 .2-.6 1.5-.6-.6-.6-1.7-.6 .6-.6 .5-.6-.4-.6-.7-.6 .3-.6-.5-.6 .4-.6 .4-.6 .3-.6-1.2-.6 .4-.6 1.3-.6-1.6-.6 1.6-.6-1.6-.6 1.1-.6-1.1-.6 .7-.6-.1-.6 .2-.6-.7-.6 .5-.6-.5-.6 .2-.6 .3-.6 .7-.6-.9-.6 0-.6-.3-.6 .3-.6 2.8-.6-3.1-.6 .5-.6-.2-.6-.2-.6 .2-.6-.4-.6 1.6-.6-1.1-.6 .1-.6 .5-.6-.2-.6-.5-.6 1.1-.6 .2-.6 .2-.6-1.3-.6 .4-.6 1-.6-.1-.6-.6-.6-1.3-.6 .7-.6-.1-.6 1.1-.6 .1-.6-1.2-.6 .1-.6-.8-.6 .2-.6 1.2-.6 .6-.6-1.9-.6 1.6-.6-1.6-.6 .3-.6 1.5-.6 1.2-.6-2.1-.6-.8-.6 1.6-.6-.9-.6-.3-.6-.4-.6 0-.6 .9-.6-.6-.6 .9-.6-.7-.6-.3-.6 .2-.6 .6-.6 .2-.6-1-.6-.4-.6 .3-.6 2.4-.6 .8-.6-1.6-.6-1.4-.6 2-.6-1.2-.6-1.3-.6 2.3-.6-.6-.6-1-.6-.6-.6 2.1-.6-1.1-.6-.3-.6 .2-.6-.2-.6 .4-.6 .2-.6-.2-.6-1-.6 .1-.6 1.2-.6-.8-.6-.3-.6 .8-.6-.2-.6-.8-.6 .2-.6 .4-.6-.3-.6 1.2-.6-1.3-.6-.3-.6 1.5-.6-1.2-.6 .4-.6 .4-.6-.1-.6 .5-.6-1.5-.6 .6-.6-.6-.6 1.7-.6-1.5-.6 .9-.6-.1-.6-.6-.6 .3-.6 2.3-.6-1.4-.6 .2-.6-.8-.6 .1-.6 1.7-.6-2.8-.6 .3-.6 0-.6 2.1-.6-.9-.6-.3-.6-.4-.6-.3-.6 .3-.6-.7-.6 .8-.6 .2-.6 1.3-.6-.3-.6-1.1-.6-1-.6 .9-.6 .1-.6-.4-.6 2.6-.6-2.7-.6 .5-.6 1.2-.6-1.6-.6 2.1-.6-.9-.6-.6-.6 .2-.6-.2-.6-.6-.6 1.5-.6-2.1-.6 2-.6-.8-.6-1-.6 .4-.6 .3-.6-.7-.6 1.7-.6-1.8-.6 .7-.6 .8-.6-.7-.6 1.2-.6-2.2-.6 .6-.6 .9-.6-.9-.6 .3-.6 .1-.6-.5-.6-.4-.6 1.1-.6 1.2-.6-2.2-.6 .2-.6 3.5-.6-1.5-.6-1-.6-1.1-.6 .4-.6 .5-.6-.6-.6 .5-.6-1.1-.6 .6-.6 .5-.6-.7-.6 1.8-.6 .9-.6-2-.6-.2-.6 0-.6 .6-.6-.2-.6 0-.6 .5-.6-1.6-.6 .9-.6-.2-.6 .6-.6 .2-.6-.9-.6-.7-.6 .8-.6 1.3-.6-.9-.6-1.2-.6 .5-.6-.2-.6 .5-.6 .6-.6-.3-.6-.9-.6 .8-.6-.7-.6 .1-.6 .2-.6 .3-.6 1.6-.6-.5-.6 .4-.6-.9-.6-1.3-.6-.3-.6 1-.6-.6-.6-.1-.6 3-.6-2.9-.6 1.4-.6-1.1-.6-.3-.6-.2-.6 .1-.6-.1-.6 2-.6-1.8-.6 .4-.6-.3-.6 1.8-.6-2-.6-.1-.6 2.1-.6-.2-.6-1.1-.6 .6-.6 .4-.6-1.5-.6 .3-.6-.2-.6 .2-.6-.6-.6 .4-.6 1.2-.6 .7-.6-.7-.6-1.7-.6 .8-.6 .2-.6 .5-.6-1.2-.6 .8-.6-.8-.6 1.6-.6-1.1-.6 1.4-.6-.9-.6-1.2-.6 1.7-.6-1.7-.6 2.6-.6-2.7-.6 0-.6 1.2-.6-1.3-.6 2-.6-1.4-.6 1-.6-1.2-.6 .6-.6-.5-.6 .2z" fill="#111"/>
<path d="M79.4 160.3l0-3.8 .7-3.7-1.2-3.6 .4-3.3 1.2-3.1 .3-3 .4-2.9-.2-2.8 .5-2.6 .3-2.4 .2-2.4 .5-2.2 .8-2.1-.4-2.1 0-2 .5-1.8 1-1.7 .3-1.6-1.7-2 1.7-1.3 1-1.3-.7-1.6 .1-1.3 1.6-1-.8-1.5 1-.9-.3-1.3 .6-.9 .4-1-.1-1.1 .5-.8 .1-1 .4-.8 1.1-.5-1.8-1.6 .9-.5 1.1-.4 .7-.4 .3-.7 .5-.5-.6-1.1 .5-.5 .9-.2-.3-.8 1.3 .1-.6-1.2 1.5 .5-.1-.8-.2-.9-.3-1 1.4 .6 0-.6 .7 0 .3-.4 .9 .3 .4-.2 .1-.6 0-.7 .9 .5-.8-1.9 1.4 1.4-.3-1.3 .9 .7 .3-.2 .5 0-.2-1.2 .8 .9 .2-.7-.3-1.4 .8 .9 .6 .5 .4 0 .2-.5 .4 .2 0-1.1 .1-1 .5 .5 0-1.3 .8 1.4 .6 1 .2-.8-.1-1.8 .7 1.6 0-.6 .8 .4 .7 .2 .4-1.4 .7 .7 .5-1.3 .8 .7 .6-.4 .6 .4 .8 .7 .5-.8 .6-.7 .7 .9 .5-1.1 .6-1.2 .7 2.3 .6-.2 .6 .1 .7 .6 .6-.2 .6-.3 .6-.5 .6 .4 .6-1.1 .5-1.1 .7 2.2 .6-.1 .6-1.4 .6 1 .6 .6 .6-.4 .6-1.8 .6 2.1 .6-.4 .6 .3 .6-.5 .6-1.4 .6 1.4 .6 .3 .6-.6 .6-.7 .6 1.5 .7 .1 .5-1 .6 .5 .6 .3 .6-.7 .6 .6 .6-.6 .6 .4 .7 .6 .5-1.4 .6-.2 .7 1.3 .5-1.1 .6 .2 .6-.6 .7 1.4 .5-.4 .6-1.5 .6 1.4 .7 .5 .6 0 .5-2.5 .7 2.5 .6-.3 .5-.5 .7 .8 .5-1.5 .6 0 .7 1.7 .6-.5 .5-1.3 .7 1.3 .5-1 .6 .7 .6-.5 .6-.2 .6 .7 .6-1.1 .6 1.1 .6-1.8 .7 2.6 .5-1.2 .6-1.3 .7 2 .5-.4 .6-.7 .7 1.5 .5-.9 .6 .1 .6-.7 .7 1.4 .5-1.7 .7 1.7 .5-2 .7 1.7 .6 0 .6 0 .6 .1 .6-.5 .6 .5 .5-.7 .6-.3 .6-.9 .6 .8 .7 1 .6-.4 .5-1.2 .6 .9 .7 .2 .5-1.8 .6 .4 .7 1.5 .5-1.1 .7 1.1 .5-2.1 .6 1.2 .6 0 .6 .4 .6-.4 .6 0 .7 1 .5-2 .7 1.7 .5-2 .7 2 .5-1.7 .7 1.7 .5-.5 .7 .4 .6 .5 .5-3 .6 1 .7 1.9 .6-.4 .5-1.6 .6 1.2 .7 .4 .5-.4 .6-1.5 .6 1.6 .7 .3 .5-.5 .6-.5 .7 1.1 .6 .2 .5-.9 .7 .8 .5-2.1 .6 1.5 .7 .3 .6-.2 .6 0 .6 .2 .6 0 .5-.6 .6-.6 .6-.3 .7 1.7 .5-1.4 .6 .5 .6 .2 .6-1.2 .7 1.6 .5-2.3 .6 1 .7 1.7 .5-.9 .7 .2 .6 .4 .5-1 .6 .3 .7 .5 .5-.5 .6-1.6 .6 .9 .7 1.3 .6-.2 .5-1.8 .6 1.1 .7 1 .5-1.1 .7 1.2 .5-1 .7 .3 .5-1.2 .6 0 .7 1.8 .5-.9 .6-.4 .7 1.2 .6 0 .6-.2 .6 .1 .6-.4 .6-.1 .6 .1 .6 .3 .5-1.2 .7 1.1 .6-.3 .5-.3 .7 .7 .5-.7 .6-.2 .6 .1 .6-.8 .6 .4 .6-.4 .6 .3 .7 1 .6 .1 .6 0 .6-.5 .6 .5 .5-1 .6 0 .6 .1 .7 .5 .6 .5 .6-.4 .6 .4 .6-.2 .5-1.2 .7 .9 .5-.7 .6-.1 .6-.3 .6 .1 .6 .4 .7 .9 .5-1 .6-1 .6 1.3 .6-2.1 .7 2.7 .6-.2 .5-1.1 .7 1.4 .6 0 .5-.7 .7 .6 .6-.3 .6-.2 .6 .5 .5-1.4 .6 .7 .6 0 .6-.7 .6-1 .6 .4 .7 1.5 .6 0 .6 .2 .6-.2 .5-.5 .6-.3 .7 1.2 .5-.9 .6-.5 .6 .6 .7 .4 .6 .2 .6 0 .5-1 .7 1.1 .6 .1 .5-2.3 .7 2.1 .6-.2 .6 0 .5-1.2 .7 .9 .6 0 .5-.7 .6-.1 .6-.3 .6 .6 .7 .5 .6-.2 .6 .2 .5-1.4 .7 1.6 .5-1 .7 1 .5-2.7 .6 1.7 .7 .8 .6 .1 .6 .3 .6-.4 .5-1 .7 1.3 .5-1.9 .6 .9 .6-.9 .6 .6 .6 .3 .6 0 .7 .3 .5-.6 .7 1.1 .5-.7 .6-.5 .6 .1 .7 .7 .6-.1 .5-.9 .7 1.1 .5-.6 .6-1.1 .7 1.8 .5-1.1 .7 1.3 .5-1.1 .7 .6 .6-.1 .5-.5 .6 0 .7 1 .6-.5 .6-.1 .5-1 .6 .6 .7 .3 .6 .2 .5-1.4 .6 .7 .7 .9 .5-2.3 .6 .6 .6-.3 .6 1.3 .6-.2 .6-1 .7 1.4 .5-.5 .6-.6 .7 1.6 .5-1.7 .6-.5 .6-.2 .7 2 .5-.7 .7 .8 .6 .1 .6 0 .5-.9 .7 .8 .5-1 .7 .8 .5-.9 .7 1.3 .5-.7 .6-1.4 .6 .5 .7 1.6 .5-2.1 .6 .5 .6 0 .7 .9 .5-1.1 .6 .8 .7 .7 .6-.3 .6 .3 .6 .1 .5-1.6 .7 1.3 .6-.2 .6 .5 .6-.3 .5-.6 .7 .9 .5-1.7 .6 .7 .6-.4 .7 .9 .5-.7 .6 .3 .6 .1 .6-.7 .7 .9 .5-.6 .7 .9 .6-.3 .6 .3 .5-.7 .6-.4 .6-1.6 .6-.4 .7 2.7 .6 .4 .6-.2 .6 0 .5-1.5 .7 1.7 .6-.4 .6 .3 .6 .1 .6-.5 .5-2.3 .6 1.3 .7 1.1 .5-1.1 .7 1.3 .5-1.7 .7 1.8 .5-.9 .6-.7 .7 .9 .5-.1 .6 0 .6 0 .7 .1 .6 .6 .5-1.9 .6 .5 .6 .1 .7 1.1 .6-.4 .5-2.3 .7 2.3 .5-.5 .7 .5 .6 .4 .6 .1 .5-1.3 .6 .1 .7 .7 .5-3 .6 2.3 .6-1 .7 1.5 .6 .5 .5-1.9 .7 1.4 .5-.8 .6 .6 .7 .8 .6-.4 .5-.6 .7 .6 .6 0 .6 0 .5-1.3 .6-.8 .6 .7 .7 1.6 .6 0 .5-3.1 .6 1.9 .1 5.2-.6-.1-.5 .8-.6 .4-.7-.5-.5 .8-.6 .5-.6-1.1-.6 0-.6 0-.6 0-.7-.6-.5 2-.6-1.3-.6 .1-.7-.8-.5 1.2-.7-.9-.5 .5-.7-.8-.6 0-.5 1.6-.6-.4-.6 .9-.6-1.2-.6 .5-.6-.5-.7-.3-.6-.3-.6 .1-.6 0-.6 0-.5 .8-.7-.5-.6-.1-.5 .9-.7-1.1-.6 0-.5 .8-.7-.7-.5 1.5-.6-.1-.7-1.4-.5 1.1-.6 1.2-.7-2.6-.5 1.2-.6-.1-.7-.9-.5 2.7-.7-2.7-.6 .2-.6-.1-.6 .4-.6-.1-.5 1.1-.7-1.3-.6-.2-.5 2.4-.6 .6-.7-2.6-.5 .5-.6-.2-.6 .4-.6-.2-.7-.7-.6 0-.6 .3-.5 1.3-.6-.8-.7-.9-.5 2.2-.6-1.2-.7-.3-.5 .1-.7-.5-.5 .7-.6 .4-.7-.7-.6-.2-.6-.1-.5 1.6-.7-1.7-.5 1.5-.7-1-.6-.3-.6 .2-.5 .9-.6 .1-.6-.5-.6 .2-.7-.8-.6 0-.6 .3-.6-.6-.5 2-.6 .5-.7-2.3-.5 .8-.7-1-.5 1.1-.6 .3-.6 .5-.6-.3-.6-.4-.6 .4-.7-1.3-.5 1.3-.6-.3-.6 .8-.7-1.9-.6 .4-.6-.4-.6 .6-.5 .3-.6 .3-.6-.3-.6 .5-.6-.4-.6 0-.6 1.9-.6-1.9-.6 .2-.6-.4-.7-.3-.5 .5-.7-.7-.6 .5-.5 .2-.7-.8-.6 .3-.5 1.4-.6-.7-.6 .6-.7-1.5-.5 1.6-.6-.8-.6-.1-.6 1-.7-1.2-.5 .5-.6 .1-.7-.7-.6 .1-.6 0-.6 .1-.5 1-.7-1-.5 .9-.6-.6-.6 .1-.7-.2-.6-.6-.5 .7-.6 .1-.7-.8-.6 .2-.5 1.1-.7-.7-.5 .2-.6 .9-.7-1.4-.6-.1-.6 .5-.5 1.9-.6-.9-.6-.7-.6-.1-.6-.1-.6 2.6-.7-3.2-.6 .3-.6-.1-.6-.1-.5 1-.6 .3-.7-1.1-.6-.1-.5 1.9-.7-1.7-.6-.1-.6-.1-.5 1.1-.6 .3-.7-1.2-.5 1.6-.6-.3-.6 .4-.6-1.2-.7-.4-.6-.1-.6 0-.5 1.1-.6-.6-.6 .4-.7-.5-.6 0-.6-.6-.6 .7-.5 .3-.6 .6-.7-1.3-.6 0-.6 .5-.5 .9-.6 .3-.6-.9-.6-.1-.7-.4-.6 0-.5 1.8-.6-1.2-.7-.5-.5 .9-.6-.7-.6 .6-.6 0-.7-.8-.5 1.2-.6 .5-.6-1-.6-.1-.7-.4-.5 2.8-.6-2.4-.6 1.2-.6-1.1-.6 .2-.7-.8-.5 1.1-.6-.3-.6 1-.7-1.8-.5 1.8-.6-1.3-.6 .2-.7-1.1-.6 .4-.6-.1-.6-.1-.5 .7-.7-.1-.5 .1-.7-.3-.5 .4-.7-.8-.5 .8-.6 .2-.6 .4-.7-.7-.5 .3-.7-.7-.6 .2-.6-.3-.5 1.6-.6-1-.7-.4-.6 .4-.5 .6-.6-.5-.6 .2-.7-.8-.5 1.4-.6-.6-.7-.3-.6-.5-.6 0-.5 1.2-.6-.4-.6-.1-.6 .8-.6-.3-.6 .1-.6 .6-.6-.7-.7-.7-.5 .6-.6 .2-.6 .2-.6 .4-.7-1.5-.6-.1-.6 .4-.6 0-.6 .1-.6-.7-.6 .1-.5 2-.6-1.1-.6 .4-.7-.8-.6 0-.6-.2-.6-.1-.6 0-.5 2-.7-1.6-.5 1-.6-.3-.6 0-.7-1.1-.5 1.1-.7-.6-.5 .3-.6 0-.6 0-.6 .9-.6-.4-.6 .4-.7-1.5-.5 1.9-.6-1-.6 .9-.6 .6-.7-2.5-.5 2.3-.6-1-.6 .7-.6-.4-.6 0-.7-1-.5 .5-.7-.9-.5 1.8-.7-1.9-.5 1-.7-.4-.5 2.6-.6-.7-.7-1.8-.6 0-.6-.3-.5 .5-.6 .1-.7-.5-.6 .1-.5 1.6-.6-1-.7-.6-.6 .1-.6 .1-.5 .9-.7-1.1-.5 .4-.6 1.4-.7-2.1-.6 .2-.6 .3-.6-.5-.6 .4-.5 1.4-.6 .3-.6-.5-.6 0-.7-1.4-.6-.1-.6-.1-.6 .7-.5 .4-.7-.6-.6-.4-.5 1.2-.6 .4-.6 .3-.7-1.6-.5 .7-.7-.4-.5 .2-.6 2.1-.6-2.1-.6 .3-.7-.6-.5 2.2-.7-2.3-.5 1-.6 .5-.6-.7-.7-.7-.6 .1-.6-.2-.5 1.8-.6-.6-.6 .4-.6-.5-.7-1.2-.6 .1-.5 3.1-.6-2.1-.6-.1-.7-.9-.6 .3-.6 .1-.6-.4-.6 .3-.5 .7-.7-.9-.5 .7-.7-.6-.5 1.3-.7-1-.5 .3-.6 .4-.6 .3-.6-.5-.6-.1-.6 1.7-.6-1.6-.7-.5-.5 .3-.6 .9-.6-1.1-.6 2-.6-1.7-.6 .4-.7-1-.6 0-.5 .4-.6 .3-.6 .4-.6-.8-.6 1-.6-.5-.6-.6-.6 .3-.6 .1-.5 3.1-.7-2.2-.6-.6-.6 0-.5 1.7-.7-2-.5 1.5-.7-1.8-.5 3-.6-1.3-.6-.6-.7-.7-.6-.2-.5 .9-.5 1.8-.6-.7-.7-.9-.6-.8-.4 1.7-.7-.9-.6-.2-.6-.2-.5 .6-.7-.5-.2 2-.9-1.7-.4 .7-.5 .8 0 0-.1 .8-.7-1.7-.3-.1-.1 .9-.4-.6-.3 .1 0 .9-.4-.2-.5-.7-.2 .1-.3 .3 0 .5-.5-.3-.2 .2 0 .7-.6-.7 .3 1.3-.6-.6-.5-.3-.2 .2-.3 .1 0 .6 .3 .9-1.1-1 0 .5 .8 1.6-1.3-1.1-.6-.3 .3 .9-.1 .3-.4 .2-.1 .4-.2 .3-.5 0-.1 .4-.7 0 .1 .6-.9-.1 .8 1.2-.9-.1-.3 .4 1.3 1.4-1.7-.4-.8 .3-.3 .5-.6 .4-.1 .7-.4 .6 3 2-1.1 .3-2.3 0 1.3 1.3-1.8 .3 .2 1.1-.5 .8-.1 1 .9 1.4-1.3 .8-.5 1-.9 1.1-.2 1.3-.4 1.3-.4 1.3 1.4 1.9-1 1.4-1 1.5 .7 1.8-1.2 1.7 .2 2-1.2 1.8 .5 2.2-1.2 2.1-.5 2.3 .5 2.6-.5 2.5-.6 2.7 .3 2.9-.6 3-.7 3.1-.3 3.3 .2 3.5 .2 3.7-1.3 3.8z" fill="#111"/>
<path d="M81.5 160.5l.3-3.9 .3-3.6 .3-3.5 .3-3.3 .3-3.2 .3-3 .3-2.8 .3-2.8 .3-2.5 .3-2.5 .3-2.3 .3-2.3 .3-2.1 .3-2 .3-1.9 .3-1.8 .3-1.8 .3-1.6 .3-1.6 .3-1.5 .3-1.4 .3-1.4 .3-1.3 .3-1.2 .3-1.1 .3-1.2 .3-1 .3-1 .3-1 .3-.9 .3-.8 .3-.9 .3-.7 .3-.8 .3-.7 .3-.7 .3-.6 .3-.6 .3-.6 .3-.6 .3-.5 .3-.5 .3-.5 .3-.4 .3-.4 .3-.5 .3-.4 .3-.3 .3-.4 .3-.3 .3-.3 .3-.3 .3-.3 .3-.3 .3-.3 .3-.2 .3-.3 .3-.2 .3-.2 .3-.2 .3-.2 .3-.2 .3-.2 .3-.2 .3-.1 .3-.2 .3-.1 .3-.2 .3-.1 .3-.1 .3-.1 .3-.2 .3-.1 .3-.1 .3-.1 .3-.1 .3-.1 .3-.1 .3 0 .3-.1 .3-.1 .3-.1 .3 0 .1-.1 .6-.1 .6-.1 .6-.1 .6-.1 .6-.1 .6-.1 .6-.1 .6 0 .6-.1 .6 0 .6-.1 .6-.1 .6 0 .6 0 .6-.1 .6 0 .6-.1 .6 0 .6 0 .6 0 .6-.1 .6 0 .6 0 .6 0 .6-.1" fill="none" stroke="#111" stroke-width="2.6"/>
<path d="M77.8 160.1l1-2.9 1.1-2.8 .5-2.7 0-2.7-.4-2.7 .8-2.4 .3-2.3 .7-2.3 .5-2.1 0-2.2 .1-2-.3-2 1-1.8-.2-1.9 .7-1.6 .4-1.7 .3-1.6-.2-1.6 .7-1.4 .8-1.3 .3-1.4 .3-1.3-2-1.8 2.3-.8-.6-1.4 1.4-.8-.1-1.2-1.9-1.7 2.4-.4-.2-1.1 .7-.8 .5-.8 .5-.8 .5-.8-.2-1 .6-.7-1.6-1.5 2.6 .2-.3-.9-1-1.3 2.2 .3-.5-1.1 .5-.5-.5-1-.4-1.1 2.2 .6 .4-.4 .5-.4-1.1-1.5 .7-.2 .2-.5 .7-.2 .5-.3 .8-.1 0-.6 0-.7 0-.7 .6-.1 1.2 .5-.3-.9 .8 .1-.3-1 1.1 .7 .2-.5-1-2 .6 0 1 .7 .2-.5 .8 .5 .1-.5 .8 .4-.3-1.2 .6 .3 .3-.3 .7 .4-.4-1.6 .1-.7 1.2 1.8-.4-1.8 .6 .3 .6 .7 .2-.5 .3-.3 .5 .8 .1-1.5 1.1 .9 .6-.4-.5-4.1 1.7 3.5 .8 .6 .5-1 .5-.6 .7-.1 .5-1.1 .9 1.4 .5-.5 .6-.7 .8 1.6 .5-1.1 .6-.5 .5-.7 .8 .7 .6 .2 .6-.3 .7 1.3 .5-1.5 .7 .8 .6 0 .5-2.3 .7 1.4 .7 1 .5-2.1 .6 .8 .7 .5 .6 0 .6 0 .5-.7 .7 .6 .6 .1 .6 .7 .6-1.3 .6 .9 .6 .6 .6-.8 .6-.5 .6-.7 .6 1.4 .6 0 .6 .1 .6-.1 .6-.3 .6-.1 .6 .6 .6-1.9 .7 2 .5-.4 .6-.3 .6 .2 .6-.2 .6 0 .7 .2 .6 .5 .6-.1 .5-1.7 .6 0 .6-1 .6 1.3 .7 1.2 .5-.7 .7 .8 .6-.5 .5-2.2 .6 1.4 .7 .6 .6 .5 .6 .1 .6-.7 .6 .1 .6 .4 .6-.2 .6-.3 .6 0 .6 .6 .5-1.2 .6 .3 .6-.4 .6-1.1 .7 2.5 .6-.8 .5-.4 .7 .3 .5-.8 .7 1.4 .5-2 .7 1.3 .5-1.1 .7 1.5 .5-1.2 .6-.4 .6 .6 .7 1.4 .6-.6 .5-1.3 .7 .9 .5-1 .6 .4 .7 .6 .6 .6 .6-.2 .6 .4 .5-1.7 .6-.3 .6-.2 .7 2.3 .6-1 .6 .7 .5-1.4 .6-1 .7 2 .6 .5 .6-.4 .5-1.3 .6 .2 .7 .7 .5-.5 .7 1.4 .6-1 .5-.1 .7 0 .5-1.4 .6 0 .7 1.5 .6 .5 .5-1.4 .7 1.8 .5-1.4 .7 .5 .5-.6 .7 .8 .6 .1 .6 .5 .5-1.2 .7 .8 .5-1.3 .7 1.5 .5-1.1 .6-.4 .6-.2 .6 .5 .6-1.2 .7 1.6 .5-.8 .6 .6 .7 .1 .6 0 .6 .7 .5-1.8 .6 .8 .6-.6 .7 1 .5-1 .7 1.6 .6-.7 .6 0 .6 .4 .6 .5 .5-1.4 .7 1.1 .5-.8 .7 .1 .6 .3 .5-3 .7 3.5 .6 0 .5-1 .6 0 .7 .6 .6-.1 .6 .3 .5-1.3 .6-.1 .7 1.5 .6-.1 .6 .1 .6 .1 .5-2.7 .6 1.2 .7 .5 .6 0 .6 .8 .6 0 .6-.4 .5-1.5 .7 2 .6-.6 .6 .1 .5-2.4 .7 1.9 .5-.1 .7 .7 .5-1.2 .7 .6 .6 .6 .6 .2 .6 .1 .6-.3 .6-.4 .5-.8 .7 .5 .5-.8 .7 1.6 .6-.2 .6-.1 .6 .1 .6 .3 .5-1.9 .6 .5 .7 .3 .5-.2 .7 .8 .6 .1 .6-.1 .6 .2 .5-1 .6 .1 .7 .5 .6 .3 .5-1.5 .6 .4 .6-.5 .6 .4 .6 0 .7 1.4 .6-.6 .5-2.1 .7 2.5 .5-.9 .6-1.4 .6 1.2 .7 1.3 .5-1.7 .7 1.7 .6-.7 .6-.1 .6 0 .6 .3 .6-.3 .6 .5 .5-1.1 .7 1.3 .6-.2 .6-.6 .6 .7 .5-1.1 .6-.3 .7 1.4 .5-2.7 .7 1.8 .5-1.3 .7 2 .6-.8 .6 .6 .6 .1 .6-.8 .6 .3 .5-1.4 .6 1 .6-.1 .6 0 .7 1.1 .6-.8 .6 .4 .6 .4 .6-.3 .6-.1 .6-.4 .6 .6 .6-.1 .6-.2 .6 .3 .5-1.7 .7 .9 .6 1 .6-1.1 .6 .2 .6 .5 .6-.4 .5-1 .6-.2 .6-.4 .7 1.5 .6 .2 .6-.3 .6 .5 .5-1.6 .7 1.5 .5-.9 .7 .4 .6 .1 .6-.1 .6 .9 .6-.4 .6 0 .5-1.2 .7 1.5 .6-.3 .5-1.6 .7 1.5 .6-.2 .6 .4 .5-1.2 .7 .9 .6-.4 .5-.6 .6-.2 .6-.9 .6 1.4 .6-1.1 .7 2 .6 .1 .6-.2 .6-.3 .5-.6 .6 0 .6-1.1 .7 1.3 .6 .6 .6 .3 .6-.6 .5-1.2 .6 .6 .7 .5 .5-.7 .6-1.1 .7 2.1 .6 .2 .5-2.6 .7 2.4 .6 .2 .6-.8 .6 .4 .6-.2 .6 .2 .6 .1 .6-.6 .5-.2 .7 .5 .5-1 .7 1.6 .6-.5 .6 .4 .6-.9 .5-.8 .6-.2 .7 1 .6 .2 .5-.4 .6-.5 .7 .9 .5-.8 .7 1 .6-.1 .5-1.2 .6 .4 .7 .7 .6 .6 .5-1.5 .6 .3 .7 .6 .6 .6 .5-1.3 .7 1.1 .6-.6 .5-.6 .7 1.4 .5-2 .6-.4 .7 1.5 .6 .2 .6-.2 .6 .5 .5-3.1 .7 2.6 .5-1.4 .6 .4 .7 1.3 .6-.1 .6 .5 .5-1.6 .7 .9 .5-.6 .7 1 .6-.4 .5-.7 .7 .7 .6 .5 .5-1.8 .7 .9 .6 .1 .6 0 .5-.7 .7 1.5 .5-1.1 .6-1.7 .7 2.5 .5-1 .6 .2 .6-.4 .6 .1 .7 .4 .5-.4 .6-.8 .7 1.6 .5-1.4 .7 1.6 .5-1.2 .7 .8 .6-.3 .6 .6 .6-.3 .6-.1 .6 .6 .5-2.8 .7 2.5 .6-.1 .6 0 .6-.3 .5-1.3 .7 1.4 .6 .4 .5-1.9 .7 2.2 .5-2 .6 .6 .7 1 .6-.5 .6 .6 .6-.6 .6 .5 .5-1 .7 1 .5-.9 .7 .2 .5-1.2 .6 .5 .7 .7 .5-.5 .7 .4 .6 .4 .6-.2 .5-1.3 .7 1 .6 .7 .6-.2 .6 .2 .6-.1 0 5.1-.5 1.5-.7-1.8-.6-.3-.5 2.3-.6-.4-.7-1.8-.6 .2-.5 1.5-.7-1.7-.6 .8-.6-1-.6 .5-.6-.5-.6 .6-.5 .8-.7-1.2-.6 .7-.6-.4-.5 .9-.6 .3-.7-1.4-.5 1.4-.7-1.5-.5 2.4-.6-.9-.6 .4-.7-2-.6 .5-.6 .3-.5 1-.6-.4-.7-.6-.5 .5-.6 .7-.6 2.3-.7-3.2-.5 .8-.7-1.4-.5 1.3-.7-1.2-.6 .5-.6-.1-.5 .7-.7-1.3-.6 .2-.6 .1-.5 .7-.6 .2-.7-.5-.6-.5-.6-.1-.6 .7-.5 .4-.7-.9-.6 0-.6 .4-.5 .4-.6 1.6-.7-2.7-.6 .6-.6 .2-.6-.2-.6 .3-.6-.3-.5 2.2-.6-.9-.7-.8-.6-.4-.5 1.4-.7-1.4-.5 2.4-.7-2.3-.6-.1-.5 2.5-.6-1.2-.7-1.7-.6 .9-.6-.3-.5 1.1-.6-.3-.7-1.2-.6 .3-.6 .1-.6 .1-.5 .4-.6 .3-.6-.2-.6 .7-.6-.3-.7-.9-.6 .3-.6-.6-.6 .3-.6-.3-.6 .2-.6 .2-.5 1.5-.7-2.2-.6 .5-.6-.5-.6 .8-.6-.6-.6 .4-.5 .7-.7-.9-.6 .2-.6-.4-.6 .5-.6-.6-.5 1.2-.7-1.2-.6 .9-.5 .3-.6 .6-.7-1.5-.6 .1-.5 .9-.6 2.6-.7-3.1-.5 .4-.6 .1-.7-.8-.6 .5-.6 0-.6-.4-.6 .2-.5 .9-.7-1.1-.6-.2-.5 1.7-.7-1-.5 .5-.6-.1-.7-.7-.6-.2-.5 .8-.6 .1-.7-.4-.6 0-.6-.8-.6 .4-.6 .4-.5 1-.6 .2-.7-1-.6-.5-.6 .5-.5 .5-.7-1.2-.5 2.6-.7-2.2-.6-.5-.5 1.3-.7-.8-.5 1.1-.6-.1-.6-.2-.7-1.2-.5 1.5-.7-.6-.6-.9-.6 .1-.5 1.3-.7-1.4-.6 .6-.5 1.8-.6-1.1-.7-1.2-.6 .6-.6-.7-.5 1.2-.7-.6-.6 .5-.5 1.4-.7-1.6-.6-.7-.5 1.3-.7-1.4-.5 1.7-.7-1.4-.6 .6-.5 .4-.7-.3-.6-.9-.6 .8-.6-.1-.5 .3-.7-.9-.5 1.8-.7-1.3-.5 .9-.7-.9-.6 0-.6-.4-.6 0-.6 .3-.6 .3-.6-.7-.5 2.1-.7-1.9-.5 1.2-.7-1.3-.5 1.1-.6 .4-.7-.6-.6-.9-.5 1.6-.7-1.7-.6 .7-.6 0-.6-.5-.6 .7-.5 .7-.7-.8-.5 1.4-.7-1.6-.6 .1-.5 1.5-.7-1.4-.6 .3-.6 .1-.6-.1-.5 1.4-.6-1-.7-1.3-.6 .9-.5 2.4-.7-2.4-.6-.5-.6 .5-.5 2.6-.7-3.2-.6 0-.6 .5-.6-.1-.5 1.2-.7-1-.5 .5-.6 .4-.7-.7-.5 .4-.6 0-.7-.5-.6 .3-.6-1-.6 .6-.5 1-.7-.9-.5 .5-.7-.8-.6 .4-.6-.7-.6 0-.5 1-.7 0-.6-.8-.6 .1-.5 1.6-.7-.9-.5 .7-.7-1.7-.6 .4-.6 .4-.6-.7-.5 1.3-.6-.1-.7-.3-.6-.8-.6 .4-.6 .3-.6 .2-.6-.9-.6 .7-.6-.2-.5 1-.7-1.3-.5 .9-.7-.4-.5 1.9-.6-1.5-.6 .4-.7-.7-.6-.6-.5 1-.7-.6-.5 .9-.7-.7-.6-.1-.6 .1-.6-.4-.5 1.1-.7-1.1-.5 1-.7-.5-.6-.4-.5 .8-.6 .3-.6 .5-.6-.5-.6 1.2-.6-1.4-.7-.7-.6 .4-.6-.9-.6 .6-.6-.5-.5 1.5-.7-1-.6-.4-.5 1.2-.6 .3-.6-.4-.6 .8-.7-1.9-.5 1.2-.6 .2-.7-.7-.5 1.1-.7-1.3-.6-.3-.6 .4-.6-.1-.6 .3-.5 .7-.6 .2-.7-1.4-.6-.1-.6 .2-.5 2-.7-1.4-.6-.9-.6 .6-.6-.4-.6 .9-.6-.2-.6-.5-.6 .6-.6-.6-.5 1.8-.6-.8-.7-1-.6 0-.5 3-.6-2-.7-1.2-.6 .6-.6 0-.5 1.6-.7-2.1-.6 .9-.5 .9-.7-1.4-.6-.4-.5 1-.7-.2-.6-.7-.6-.1-.6 .8-.5 1.3-.7-1.5-.6 .1-.6-.6-.6 0-.6 .4-.6 0-.6-.2-.5 2.2-.7-1.9-.6 .1-.5 .6-.7-1-.6 .1-.6 .5-.6-.7-.6 .1-.5 1-.7-1.1-.6 .9-.6-.6-.5 1.8-.6-1-.7-.9-.6 0-.6 .1-.6 .5-.6 0-.6-.4-.6 .3-.6-.4-.5 1.7-.7-1.5-.5 .5-.6 .8-.6-1.1-.7-.5-.5 .7-.7-.3-.5 1.5-.6-1.1-.6-.1-.6 .1-.6 .2-.7-.9-.5 .4-.6 .4-.6-.2-.6 .9-.6-1.1-.6 .6-.6 0-.6 .5-.6-.6-.6-.2-.6 .2-.6-.2-.6 .8-.6-.7-.6 1.1-.6-1.6-.6 .4-.6 .4-.6-.4-.6-.3-.6 .7-.5 .8-.7-1.1-.5 .1-.7-.2-.5 .4-.6-.3-.6 .2-.5 1.5-.6-.9-.7-.5-.5 .4-.6 .1-.5 .9-.7-1.3-.4 1.7-.8-1.4-.4 1.1-.6-.3-.7-.6-.4 .9-.2 1.7-1-1.7-.3 1.3-.9-1.2-.2 1.2-1-1.2-.5 .4-.2 1-.4-.9 .2 1.3-.5-.3-.3-.2-.4-.1-.4-.1-.1 .5-.5-.4 .6 1.8-.5-.3 0 .5-1.1-1.2-.3 .1-.2 .2 .4 1.3-.9-.8 .2 .8 .1 .7-1.1-1 .4 1 0 .5-1.4-1-.1 .4 .8 1.4-1.1-.7-.2 .3 .3 .9-1.2-.6 .4 .8-.1 .5-1.3-.5-.2 .4 .4 .8-1-.1-.3 .4 .9 1.2-.9 0-.6 .2 .5 1-.3 .4-.8 .2-.2 .6 0 .6 1.5 1.5-2.9-.7 .1 .8 0 .8-.6 .6 .4 .9-.8 .6 .2 .9-.4 .8-.2 .8-.8 .7-.8 .8 .6 1.2-.7 .9 .7 1.3-1.4 .8-.2 1.1 .3 1.3-1.2 1.1 .1 1.3-.4 1.3-.5 1.4 .5 1.5 0 1.6-.4 1.5-.6 1.6 .4 1.8-1.6 1.6-.2 1.8 .1 2 1.6 2.2-3 1.7 .2 2.2 1.6 2.6-2.2 2 1 2.6-1.6 2.4 .1 2.7 1 2.9-2.4 2.6 .6 3.1z" fill="#111"/>
<path d="M81.5 160.5l.3-3 .3-2.9 .3-2.7 .3-2.7 .3-2.5 .3-2.5 .3-2.3 .3-2.3 .3-2.2 .3-2 .3-2 .3-2 .3-1.8 .3-1.8 .3-1.7 .3-1.7 .3-1.5 .3-1.6 .3-1.4 .3-1.4 .3-1.4 .3-1.2 .3-1.3 .3-1.2 .3-1.1 .3-1.1 .3-1.1 .3-1 .3-1 .3-.9 .3-.9 .3-.9 .3-.8 .3-.8 .3-.8 .3-.8 .3-.7 .3-.7 .3-.6 .3-.6 .3-.6 .3-.6 .3-.6 .3-.5 .3-.6 .3-.5 .3-.4 .3-.5 .3-.4 .3-.5 .3-.4 .3-.4 .3-.3 .3-.4 .3-.4 .3-.3 .3-.3 .3-.3 .3-.3 .3-.3 .3-.3 .3-.2 .3-.3 .3-.2 .3-.3 .3-.2 .3-.2 .3-.2 .3-.2 .3-.2 .3-.2 .3-.2 .3-.2 .3-.1 .3-.2 .3-.1 .3-.2 .3-.1 .3-.2 .3-.1 .3-.1 .3-.2 .3-.1 .1 0 .6-.2 .6-.2 .6-.2 .6-.2 .6-.2 .6-.1 .6-.1 .6-.2 .6-.1 .6-.1 .6-.1 .6-.1 .6-.1 .6-.1 .6-.1 .6 0 .6-.1 .6-.1 .6 0 .6-.1 .6 0 .6-.1 .6 0 .6-.1 .6 0" fill="none" stroke="#111" stroke-width="2.6"/>
<path d="M79.4 160.2l-.7-2.3 .7-2 .2-2 .1-1.9 .2-2 .3-1.8 .7-1.7 .8-1.6 .2-1.7 0-1.7 .1-1.6 .4-1.5-2.2-2.1 2.5-1-.3-1.5 1.7-1.1-.1-1.4-.2-1.4-.1-1.3 1.7-.9 .2-1.2 .1-1.2 .7-1-1.3-1.5 1.4-.8 .1-1-.8-1.4 .4-1 .9-.7 .2-.9 .6-.8 1.3-.5 .2-.9-1.4-1.5 2.2 0 0-.9-.2-1-1.4-1.4 1.6-.2 .7-.5 .5-.6 .4-.6 .5-.5-2.1-1.9 3 .8 .1-.7-.2-.8 0-.8 .2-.6 1.5 .3-.9-1.4-.3-.9 1.3 .2 .8-.1-.5-1.1 .1-.6 1.4 .4 .2-.5 .2-.5-.6-1.2 1.1 .3-.2-.9 .9 .2 .8 0-.3-.8 .6-.2-1.2-1.9 2.2 1.7-.3-1 .9 .3 .1-.5 .8 .2 0-.5-.2-1 .6 0-.2-.9 1.3 1.1 .2-.5 .3-.2 .4-.1-.3-1.2 .9 .7 .2-.3-.3-.9 1.1 .4 .6-.5 .4-.7 1.1 .4 .6-.3 .6-.4 .2-1.4 1 .6 .5-.5 .9 .6 .7-.2 .2-1.5 .7 .1 .9 .7 .7-.1 .7 .1 .2-1.7 .9 1 .6-.4 .2-2.3 .9 1.3 .8 1.1 .6-.5 .6-.2 .7 .6 .3-2.2 .9 2 .5-1 .5-1.7 .8 1.4 .6 .5 .7 .4 .5-.7 .7 .6 .6 0 .6-.7 .6 .5 .6-1.3 .6 .6 .7 .6 .5-1.1 .6 .6 .7 0 .6 .3 .6 0 .6 .1 .5-3.1 .7 1.9 .5-1.1 .7 2.1 .6-1.6 .6 1 .6-1.3 .6 1.5 .6-.1 .6-.5 .6-.4 .6-.3 .6 .7 .6-1.4 .6 1.2 .6-.4 .6 .2 .6 .8 .7 .4 .5-2 .6 1.5 .6-.5 .6-1.2 .6 .8 .6-.5 .6 1.3 .6-.9 .6-.4 .6 .6 .6 .3 .6-.4 .6 .6 .7 .5 .5-.8 .6 .1 .6-.1 .6-.8 .6 .6 .6-.9 .6-.4 .7 2 .5-.7 .7 .7 .6 .2 .6-.9 .6 0 .5-.5 .6-.1 .7 1.2 .6-.4 .5-1.1 .7 .9 .5-.4 .7 .8 .6 .1 .6 0 .6 .3 .6-.1 .6-.4 .6-.4 .6 .7 .6 0 .6-.4 .6-.6 .6 .9 .6-.5 .5-1.4 .7 1.9 .6 0 .6-1.1 .6 1.3 .5-1.5 .6-.9 .7 1.8 .5-1.4 .6 0 .6-.6 .7 1.6 .6 .3 .6 .4 .6-1.3 .6 .9 .6 .6 .6-.9 .6 .3 .5-1.1 .7 .3 .6 .6 .6 .6 .6-.5 .6 .3 .6-.9 .6 .5 .6-.5 .6 1.1 .6-.6 .6-.6 .6 .9 .6-.2 .6-.5 .5-1.1 .7 1.7 .6-.7 .6 0 .6-.3 .6 .9 .6 .1 .6 .3 .6-.3 .6-.2 .6-.4 .6-.1 .6 .1 .5-.8 .6-.6 .7 1.9 .6-.3 .6 .6 .6-.3 .6-.9 .6 .3 .6 .2 .6-.6 .6 1.3 .6-.3 .6-.7 .6-.4 .5-1.2 .6 .7 .7 .8 .6 .7 .6 .1 .5-1.3 .7 .8 .6-.6 .6-.2 .6 1 .6 .3 .6-1.3 .6 .4 .6 .8 .5-1.9 .7 1.5 .6 .2 .6-.1 .6-.5 .5-2.1 .7 3.1 .6-.4 .6-.6 .5-1.1 .6-.4 .7 1.9 .5-1.1 .7 1.7 .5-2.1 .7 1.5 .6-1 .6 .5 .6-.1 .6 .7 .6-1 .6 .8 .6 .2 .6 .1 .6-.4 .6 .1 .6-.6 .6 .2 .6-.4 .6 .3 .6-.5 .6 .7 .6-.7 .6 .9 .6-.7 .6 .4 .6 .8 .6-.2 .6-.6 .6 .8 .5-2 .6 .3 .7 .4 .6 1 .6-.1 .6 .3 .6 .1 .6-.9 .6 .4 .6-.4 .6 .1 .5-.8 .7 1.5 .5-2.1 .7 2 .6 .1 .5-1.6 .6-.1 .6 .1 .7 .2 .5-.6 .7 1.2 .5-1.5 .7 1.6 .5-.9 .7 1.2 .6-.7 .6 .7 .6 .1 .6-1 .6 .4 .6 .6 .6-1 .6 .8 .5-1.8 .6-.2 .7 1.1 .5-.6 .7 .8 .6 .5 .6-.1 .6-.2 .6-.4 .6-.1 .6-.1 .6 1.3 .6-.2 .6-.4 .6 .4 .5-2 .7 1.6 .5-2.3 .7 2.9 .6-1.3 .6 1.2 .6-.3 .6 .4 .6-.3 .6-.7 .6 .4 .5-1.7 .7 1.3 .6 .4 .6 0 .6 .3 .6-.6 .6 .4 .6-.8 .6-.4 .5-1.4 .7 2.9 .6-1.2 .6 .1 .5-.5 .7 .5 .5-.7 .6 .1 .7 1.1 .6-.8 .6 .8 .6 0 .5-1.5 .7 1.8 .6-1.3 .5-1 .7 2.1 .6-.3 .6-.4 .6 1 .6-1.3 .6 .6 .6 .2 .6-.8 .6 1.1 .6 .2 .6-1.4 .6 1.4 .6-.6 .5-1.4 .7 2 .6-.2 .6-1.3 .6 .6 .6 .6 .6-.9 .5-.9 .7 .8 .6-.3 .5-.1 .6-.3 .7 .9 .6 0 .6-.1 .5-1.4 .7 1.5 .6 .8 .6-.9 .5-1.7 .7 1.7 .5-.9 .7 2 .6-.2 .6-.5 .6-.5 .5-1.3 .7 1.1 .5-.7 .6-.2 .7 .8 .5-1.2 .7 1.1 .6 1.2 .6-1.2 .6 .1 .5-.4 .7 1.2 .6-.8 .5-1.3 .7 1.5 .6 0 .6 .9 .5-1.5 .7 .6 .6 .4 .6 .1 .6-.7 .6 .2 .6 1 .6-.9 .6-.5 .6 .8 .6 .3 .6-.8 .6 .2 .6-.7 .6 1.6 .6-1.3 .5-.6 .7 1.8 .6-.5 .6 .1 .6-.2 .6-.1 .6 .4 .6 .1 .6-1 .5-.8 .7 1.4 .5-2 .6 .5 .7 .7 .5-.7 .7 1.1 .5-.8 .7 1.2 .6-.3 .6-.7 .6 .6 .6 .3 .6-.1 .6 .5 .5-1.9 .7 .7 .6 1.1 .6-.7 .6 .3 .6-.4 .6 .1 .6-.5 .6 .9 .6-.5 .6-.1 .6 .1 .6 .6 .6 .1 .5-2.1 .7 2.1 .6-.6 .5-1.2 .7 1.3 .6 .3 .6-.6 .6-.4 .6-.1 .6-.1 .6 .1 .5-.6 .7 1.9 .6-1.5 .6 .6 .6 1 .6-.1 .6-.4 .6-.2 .5-2.6 .7 1.8 .6 .9 .6 .3 .5-1.8 .6-.9 .7 1.3 .6 1.4 .6-1.2 .6 1.1 .6-1 .1 6.9-.6 1.6-.6-1.1-.7-1.5-.6 .2-.6 .1-.6-1-.6 1.2-.5 .9-.7-1.8-.6 .3-.5 1.4-.7-1.9-.5 1.5-.7-1.6-.6 .7-.6 .3-.6 0-.6-.6-.6 .2-.6 .5-.6-.9-.6 .2-.6 .4-.5 .9-.7-1.4-.6 .5-.5 1.4-.7-.6-.5 .2-.7-1.3-.6 .9-.5 .4-.7-.8-.6-.3-.6 .2-.5 1.6-.6 .2-.6-.8-.7-1.1-.5 1.4-.7-1.9-.6 1.1-.6-.8-.5 1.3-.7-.6-.6-.6-.6-.3-.6 .2-.6 1.1-.6-.3-.5 .8-.7-.6-.6-1.2-.6 .4-.6-.1-.6 1-.5 1.1-.7-1.8-.6 .2-.6 .2-.6-.5-.5 1.3-.6 0-.6 1.9-.7-3-.6 .1-.5 1.4-.7-1.4-.5 1.5-.7-2.2-.5 2.1-.7-1.5-.5 1.7-.7-1-.6-.2-.5 .8-.7-.9-.6-.4-.5 2.4-.7-2.9-.5 1.9-.7-1.5-.6 .1-.6 0-.6-.4-.6-.1-.6 1.4-.5 .4-.6 .3-.7-1.3-.6 .6-.5 .4-.7-.3-.5 .4-.7-1.3-.6 .1-.6-.5-.6 .4-.6 0-.5 2.2-.6-.7-.7-.6-.6-.4-.6 .4-.6-.9-.6 .4-.5 .8-.6 .2-.7-1.4-.6-.3-.6 .5-.6 1-.5 .8-.7-2.1-.6 1-.6 0-.6-.8-.6 .9-.6-.8-.6 .1-.6 .6-.6-.7-.6 .5-.6-.3-.5 1.2-.7-1-.6-.1-.6-.1-.6-.4-.6 .1-.6 .7-.5 1.6-.7-2.6-.6 .5-.6 .1-.6-.2-.6 .3-.6 0-.6-.3-.5 1.4-.7-1.5-.6 1-.6-.3-.6-.7-.6 .7-.5 2.8-.6-1.6-.7-1.1-.6 0-.6-.5-.6-.4-.6 1.4-.6-1-.6 .3-.6-.5-.6 .3-.6 .6-.6-.5-.5 1-.7-.5-.6-.6-.6 .1-.6-.2-.6 .4-.6-.5-.6 1-.6-.2-.6-.6-.6-.1-.6 .2-.5 2-.6-.8-.7-.8-.6 0-.6 .7-.6-.1-.6-.5-.6-.5-.6-.4-.6 1.1-.6-.8-.6 .8-.6-.2-.6 .3-.6-.9-.6 .1-.6 1-.6-.3-.5 1.6-.7-1.9-.6 .1-.6 .5-.6-.1-.6-1.1-.6 1.5-.5 1.1-.6-.8-.7-.8-.6 .3-.6-1-.6-.1-.6 0-.6 1.1-.6-.1-.5 1.3-.7-1.8-.6-.7-.6 .3-.6 .8-.5 1-.6 .4-.7-1.7-.6 .2-.6-.8-.6 .9-.6-.2-.6-.4-.5 2-.7-.9-.6-.9-.6-.1-.6-.4-.6 1.6-.6-.7-.6-.1-.6 .3-.5 .9-.7-1.3-.6-.5-.6 0-.5 1.7-.7-1.5-.6 .7-.6-.1-.5 .7-.7-1-.6 .3-.6-.7-.6 1.1-.5 .9-.7-1.8-.5 1.7-.7-1.3-.6-.2-.6 .5-.6-1-.6 .2-.6 .2-.6-.4-.6 1-.6-.4-.5 1.4-.7-1.4-.5 1.8-.7-1.6-.6 .6-.6 .1-.6-.3-.6-.1-.6-.6-.5 1.4-.6-.1-.7-1.1-.6-.2-.6 .7-.6 .4-.6-1-.6-.1-.6-.1-.6 .6-.6 .5-.5 1-.6-.5-.7-1.7-.6 1.2-.5 1.7-.7-2.3-.5 1.9-.7-1.1-.6-.5-.6 .4-.6-.7-.6 .4-.6 .2-.6-.1-.6 .1-.6 .3-.6 .1-.6-.1-.6-1.2-.6 .5-.6-.5-.6-.2-.6 .5-.5 1.4-.7-1.4-.6 .1-.6 0-.6 .2-.6 .5-.6-1-.6 .5-.5 1.1-.6 .5-.7-1.4-.6-.8-.6 .1-.5 1.4-.7-1.2-.6 .7-.6-.1-.6-.6-.6 .9-.6-1-.5 1.4-.7-1-.5 1.5-.7-1.3-.6-.7-.6 1-.6-.9-.6-.1-.5 2-.7-1.8-.6 .8-.6-.8-.5 1.8-.7-1.2-.6-.1-.6 .5-.6-1.1-.6 .9-.5 1.3-.7-1.7-.6 .2-.6-.3-.6 .7-.6-1.1-.6 .4-.6 .7-.6 .3-.6-1-.6 .1-.5 1-.7-.7-.6 .2-.5 .5-.7-.8-.6-.6-.6 0-.6 .5-.6 .5-.5 1-.6 1-.7-2.2-.5 1.1-.7-1.5-.6-.2-.6 .7-.6-.6-.6-.1-.6 .3-.5 .8-.6 .6-.7-1.6-.5 1.7-.6 .8-.6-1.4-.7-1.2-.5 1.8-.7-1.7-.5 .9-.7-.6-.5 1-.6-.1-.6-.3-.6 0-.7-.5-.6-.3-.6 0-.5 2.8-.6 .3-.6-1.5-.6-.8-.6-.6-.6 1.7-.6-1.8-.6 2.8-.6-2.6-.6 1-.6 .4-.6-1.4-.6 .5-.6-.3-.6-.2-.6 .3-.6 .2-.6 .6-.6-.5-.6 .8-.6-.4-.6-.3-.6-.6-.6 1-.6-.5-.6-.3-.6 .5-.6-.4-.6 .1-.6-.2-.6 .4-.5 1.1-.5 .4-.7-1-.5 1.6-.6-1.1-.7-.6-.5 .5-.5 .9-.8-1.3-.5 .3-.4 2-.7-1.4-.5 1-.8-1.3-.6-.5-.5 .7-.3 2.1-.9-1.8-.5 .1-.7-.3-.5 .3-.6-.2-.4 1-.8-.8-.6 0-.5 .6-.5 .1-.4 .9-.8-.5-.5 .2-.8-.5-.5 .4-.4 .7-.5 .2-.6 .2-.6 0-.7 0-.6 .3-.3 .7-.7-.1-.7 .2 .3 .7-.6-.3-.4 0 .6 1.4-1-1 .1 .9 .2 .7-.4 .1-.9-.7 .7 1.4-1.2-.8-.4 0-.3 .2-.1 .4-.1 .5-.2 .3-.7-.2-.3 .2-.4 .3 .6 1.1-.4 .1-.2 .4-1.1-.4 .1 .6 .6 1-.9-.1-.2 .4-.5 .2 .4 .9-1.1-.2-.4 .3 1.6 1.6-2.4-.9-.3 .4 .1 .8-.6 .2 2 1.9-2.4-.7-.4 .4 2.4 1.9-1.1 .2-1.1 .1 .7 1.1-2.2-.3-.1 .7 0 .7 .1 .9-1.5 .2 .9 1.2-1.1 .4-.7 .6 .2 1 1.1 1.3-.5 .8-.7 .7-1.4 .5-.3 .9 .1 1.1 .3 1.2-.5 .9 .3 1.2-.8 .9 1.2 1.5-1.6 .8-1.4 .9 .3 1.4 .1 1.3-.7 1.2-1 1.2 .4 1.5-.3 1.5-.9 1.3 0 1.6 .9 1.7-1.2 1.5-.8 1.5 .6 1.9 1.3 2-2.9 1.4 .7 2-1.1 1.8 .6 2.1-.9 1.9 1 2.3z" fill="#111"/>
<path d="M81.5 160.5l.3-2.1 .3-2.1 .3-2 .3-1.9 .3-1.9 .3-1.8 .3-1.7 .3-1.7 .3-1.7 .3-1.6 .3-1.6 .3-1.5 .3-1.5 .3-1.4 .3-1.4 .3-1.4 .3-1.3 .3-1.2 .3-1.3 .3-1.2 .3-1.1 .3-1.1 .3-1.1 .3-1.1 .3-1 .3-1 .3-1 .3-.9 .3-1 .3-.8 .3-.9 .3-.8 .3-.9 .3-.7 .3-.8 .3-.7 .3-.8 .3-.7 .3-.6 .3-.7 .3-.6 .3-.7 .3-.6 .3-.5 .3-.6 .3-.6 .3-.5 .3-.5 .3-.5 .3-.5 .3-.5 .3-.4 .3-.5 .3-.4 .3-.4 .3-.5 .3-.4 .3-.3 .3-.4 .3-.4 .3-.3 .3-.4 .3-.3 .3-.3 .3-.3 .3-.3 .3-.3 .3-.3 .3-.3 .3-.3 .3-.2 .3-.3 .3-.2 .3-.3 .3-.2 .3-.2 .3-.3 .3-.2 .3-.2 .3-.2 .3-.2 .3-.2 .3-.2 .1 0 .6-.4 .6-.3 .6-.3 .6-.3 .6-.3 .6-.2 .6-.3 .6-.2 .6-.2 .6-.2 .6-.2 .6-.2 .6-.2 .6-.2 .6-.1 .6-.2 .6-.1 .6-.1 .6-.2 .6-.1 .6-.1 .6-.1 .6-.1 .6-.1 .6-.1" fill="none" stroke="#111" stroke-width="2.6"/>
<path d="M77.8 159.5l2.1-.6-2.1-1.8 2.2-.6 0-1.2 1-.9-.8-1.3 .3-1.1 0-1.1 .5-.9 1.3-.7 .1-1 .1-1-.4-1.1 1.4-.6-.6-1.2 1.4-.5-.2-1 .9-.6 .3-.9-.6-1.1 1.2-.5 .4-.7 .2-.8 .3-.8 .4-.7-.5-1-.9-1.3 .6-.6 1.8 0-.7-1.1-.3-1 .4-.6 1.3-.2-1.7-1.6 1.9 .2 1.1-.3 .1-.6 .3-.7-.4-.9 1-.2 0-.8 .9-.2 .3-.5-.2-.8 .5-.5 .6-.3 .5-.4-.3-.9 1 0-.2-.8 .9-.1-1.3-1.6 1.7 .5 .4-.3 .4-.4-.8-1.2 1.4 .4 .3-.5-.2-.7 .2-.6 .9 .1-1.3-1.7 1.8 .9 .1-.6-.2-.8-.4-1 1.5 .7 .5-.1 .4-.4 .1-.5-.1-.7 .7 .1 .3-.4 .7 .1 .2-.5-.2-.7 .4-.3 .5-.1 .5-.1 .1-.5-.1-.7 .7 .1 .7 .2-.2-.5 1-.1-.6-2 1.4 .5 .9-.1 .5-.6 .3-.9 1.2 .4 .2-1 1 .1-.2-1.7 1.5 1-1.2-3.6 2.2 2.4 .8 0 .7-.1 .3-.8-.4-2.6 1.2 .7 1.4 1.6 .1-1.6 .9 .6 .7-.2 .7-.1 .4-.7 .2-1.5 1.4 1.9 .3-1.1 .4-.7 1 .7 .3-1.3 .9 1.1 .8 .1 .5-.3 0-2.7 .7 .2 1.1 1.9 .6-.3 .6-.1 .4-1.3 .9 1 .7 .3 .4-.8 .8 .5 .4-1.3 .8 1.2 .5-1.2 .8 1 .4-1 .8 .7 .5-.9 .7 .8 .3-2.1 .8 1.1 .7 .4 .5-.3 .7 .1 .5-.6 .6-.2 .7 .1 .7 .7 .5-.7 .5-.7 .7 .6 .7 .3 .3-2.9 .8 2.2 .5-.7 .7 .4 .7 1 .6-.6 .4-2.3 .8 2.6 .6-.4 .6 .1 .6-.1 .6-.8 .6 .5 .5-1.4 .7 1.1 .6-.1 .6-.1 .6 .6 .6-1 .6 .7 .7 .2 .6 0 .5-.6 .6-.7 .6 .7 .6 .2 .6-.5 .7 .9 .6-.3 .6 .1 .5-1 .7 .8 .6-.2 .5-1.3 .6 .1 .7 1.1 .6-.4 .5-.2 .7 .9 .6-.3 .6 .2 .5-2.9 .6 1.8 .7 .5 .6-.2 .5-2.1 .7 1.8 .5-.4 .6-.2 .7 .6 .5-1.6 .6 .9 .7 .9 .6 .4 .6-1.1 .6 1 .6-.1 .6-.3 .6 .4 .6-.4 .6-.2 .6 .4 .6 .3 .6-1.2 .6 1.1 .6-.7 .6-.6 .6 .3 .6 .5 .6 .3 .6-1.5 .6 1.4 .6-.4 .6-1.1 .6 .4 .6-.2 .6-.2 .6 1.4 .6-.2 .6 .1 .5-2.7 .7 2.8 .6-.1 .6-1.2 .6 .9 .6 .3 .6-.2 .6-1.2 .6 .6 .5-1.5 .7 1 .6-.6 .6-.2 .6 .3 .6 .1 .6 .5 .6-.2 .6 .3 .6-.4 .6 .8 .6-.1 .6-.5 .6 .7 .6-1 .6 .6 .6-.1 .6-.3 .6 .5 .6-1 .6 .5 .6 .8 .6-.3 .6-1 .6 1.1 .6-.1 .6-1 .6-.7 .6 1.2 .6-.7 .6 1.1 .6-1 .6-.1 .6 .2 .6-.6 .6-.2 .6 .7 .6 .5 .6-1.5 .6 1 .6-.7 .6 .8 .5-2.3 .7 1.6 .6 .5 .6-.7 .6-.1 .5-.8 .7 2.3 .6-1.5 .6 1.2 .6 .3 .5-2.4 .7 1.7 .6 .7 .6-.3 .5-2 .7 2.2 .6 .1 .6-1.3 .6 1 .6-.9 .6 .5 .6-.4 .5-2.3 .7 2.5 .6 .5 .6-.3 .6-1.3 .6 1.8 .6-.7 .6 .4 .6 0 .6-1.7 .6 1.2 .6-1.4 .6 1.8 .6-.6 .6-.3 .6 0 .6 .5 .6 .3 .6-1.5 .6 1.3 .6-1.6 .6-.1 .6 1.8 .5-2.2 .6-.3 .7 2.5 .6-2.1 .6 2.2 .6-1.1 .6-.2 .6-.1 .6-.6 .6 1.1 .6 .7 .6-.5 .6-.1 .6-.8 .6 .3 .6 1 .6-1.9 .5-1.1 .7 1.9 .6 1 .6-1.7 .6 .5 .5-1.9 .7 1.7 .6 1.1 .6-1.2 .5-1.3 .7 2.4 .6-.2 .6-1 .6 1 .6 .4 .6-1.4 .6-.1 .6 0 .6 .2 .5-2 .7 2.7 .5-2.1 .6 .1 .7 1.7 .6-1.3 .6 1.1 .6 .4 .6-1.4 .6 .8 .6 .9 .6 .1 .6-1.1 .6-.2 .6 .3 .6-.2 .6 .8 .6 .1 .6 0 .6-1 .6 1 .6-.5 .6-.4 .6-.8 .6 .4 .6 1 .6 .2 .6-.1 .6-1.5 .6 .7 .6 .8 .6-.8 .6 .2 .6 .3 .6-.5 .6-1 .6 1.2 .6-.9 .6 1.2 .6-.5 .6 .4 .5-3.1 .7 2.8 .6-.7 .6-.9 .5-.4 .7 2 .6 0 .6-.3 .6 .2 .6-.2 .6-.3 .6 .6 .6-.7 .6-.8 .6 1.6 .6 .1 .6-2.2 .5-.8 .7 1.7 .5-1.1 .7 .5 .6 1.8 .6-1.4 .6 .8 .5-2 .7 1.2 .6 1.3 .6-.5 .6-1.6 .6 1.8 .6 .2 .6-1.3 .6 .7 .6-.6 .6 .1 .6 .4 .6-.3 .6-.7 .6 1.4 .6-.7 .6 .7 .6-.1 .6-.6 .6 .4 .6-.1 .6-.9 .6 .1 .6-.4 .6 1.3 .6-1.5 .6 .3 .6 .7 .6 .5 .6-1.3 .6 .3 .6-.2 .6 0 .6 1.2 .6-1.2 .6 1.2 .6-.2 .6-1 .6 0 .6 .7 .6-.4 .5-2.7 .7 3.2 .6-1 .6-.5 .6 .5 .6-.1 .6 .9 .6-1.3 .6 1.6 .6-.4 .6-.4 .6-.3 .6 .7 .6-.8 .6-.4 .6 1 .6 0 .6-.2 .6 .2 .6-1.5 .6 1.8 .6-1.4 .6 .1 .6-.1 .6-.1 .6 .4 .6 .6 .6-.9 .6 .6 .6 .3 .6 .2 .6-1.5 .6-.6 .6 .1 .6 .3 .6 .9 .6 .7 .6-.3 .6-.6 .6-.5 .6 1 .6-.5 .6-1.1 .6 .6 .6 1 .6 .2 .6-.5 .6-.4 .6-.5 .6 .1 .6 .6 .6-.6 .6 1 .6 .1 .6-1.6 .6 0 .6 1.2 .6-.9 .6 .2 .6 0 .6 .9 .6-.7 .6 .2 .6 .6 .5-2.6 .7 2.5 .6-.5 .6 .1 .6-.8 .6-.3 .2 6.7-.6-1.3-.6 1.1-.6-1.1-.6 .8-.6 1.2-.6-1.4-.6 .8-.6 .8-.6-1.4-.6-.6-.6 1.1-.6-.4-.6-.1-.5 2-.7-1.9-.6-.6-.6 1.9-.6-1.2-.6-.3-.6 .4-.5 1.7-.7-.8-.6-1.4-.6 .7-.6-.2-.6-.5-.6 .7-.6 .6-.6 .2-.6-.7-.6 .3-.6-.9-.6 .5-.6-.6-.6 1-.6 .4-.6-.3-.6 .8-.6-1.8-.6 1.2-.6-1.2-.6 1-.6-.9-.5 2.3-.7-1.7-.6-.3-.6 .5-.6 .3-.6-.6-.6 1.1-.6 .2-.6 .2-.6-.1-.6-1.1-.6-.1-.6-.3-.6-.2-.6 .3-.6 .1-.6 0-.6 1.2-.6 .2-.6-.5-.6-1-.6 .6-.6 .1-.6-.5-.6 .5-.6-.4-.6 .2-.6 1-.6-1.4-.6 1.3-.6-.3-.6 .7-.6-1.6-.6 1.1-.6 0-.6-.4-.6 .6-.6-.1-.6-1-.6 1.6-.6-1.5-.6 .5-.6 .1-.6-.2-.6 1.5-.6-.8-.6-.4-.6 .2-.6-.1-.6-.5-.6 1.3-.6-1.4-.6 1.6-.6-.6-.6 .6-.6-1.1-.6 1.1-.6-1.6-.6 .5-.6 .3-.6 .1-.6-.3-.6 .2-.6 .8-.6 .1-.5 .8-.7-.7-.6-.2-.6-.7-.6 1.6-.6-2.2-.6 .7-.6-.1-.6 .6-.6-.9-.6 .1-.6 .1-.6 .1-.6 1.2-.5 1.2-.7-1.1-.6-1.5-.6 .4-.5 2.9-.7-2.7-.6 .8-.6-.1-.6-.8-.6 .3-.5 1.5-.7-2.1-.6 .1-.6 .7-.6-.1-.6 .4-.6 0-.6-.8-.6 0-.6-.1-.6 .3-.6-.4-.6 .6-.6 .9-.6-.5-.6-.9-.6 .5-.6-.5-.6 .2-.6 .4-.6 1-.6-.5-.6-.6-.6 1-.6 .2-.6 0-.6-1.2-.5 2-.7-1.6-.6 0-.6-.7-.5 2.6-.7-2.5-.6 .2-.6 1.1-.6-.3-.6 .5-.6 0-.6 0-.6-1.2-.6 .2-.6-.3-.6 1.8-.6-.5-.6-1-.6 .4-.6-.2-.6 1-.6-.9-.6-.3-.5 2.4-.7-2.1-.5 2.1-.7-1.5-.6 .3-.6 .4-.6-.3-.6-.9-.6-.1-.6 .1-.6-.1-.6 .3-.6-.3-.6 .9-.6-1-.6 .2-.6-.2-.6 .5-.5 2.7-.7-2.1-.6-.1-.6-.2-.6 1.1-.6-1.4-.6 1.4-.6-.5-.6-.4-.6-.3-.6-.3-.6 0-.6 .8-.6 .6-.6-.1-.6-1.3-.6 .9-.6-.8-.6 1.6-.6-.7-.6-.5-.6 .8-.6 .1-.6-.4-.6 1.1-.6-.9-.6 .2-.6 .9-.6-1.5-.6 .4-.6-.9-.6 .7-.6 .8-.6 .2-.6-1.4-.6 .3-.6-.2-.6 .3-.6 1.6-.6-1.4-.6-.1-.6 0-.6 .5-.6-.2-.6 .4-.6-.9-.6 1.5-.5 1.3-.6-.6-.7-1-.6-.9-.6 0-.6 .5-.6-.8-.5 2.2-.7-2.2-.6 .7-.6 .7-.6 .6-.6 .2-.6-.7-.6-.7-.6-.2-.6 1.2-.5 1.7-.6-1-.7-.5-.6-1.3-.6 .8-.6-1.2-.6 .6-.6-.4-.6 .2-.6-.4-.6 1.5-.6-.8-.6 .1-.6 .2-.6-.4-.6 .8-.6-1.1-.6 1.6-.6 .3-.6-1.4-.6-.3-.6 1.4-.6-.7-.6 .3-.6 .3-.6 .5-.6-1.9-.6 1-.6-.7-.6-.1-.6 1.6-.6-.9-.6 .2-.6-.5-.5 2-.7-.9-.6-.9-.6 .9-.6-.2-.6-.3-.6-.3-.6 .5-.6-.6-.6-.3-.6 1.3-.5 .7-.6 .5-.7-1.7-.6-.6-.6 .4-.5 1.3-.7-1.3-.6 .3-.6 .2-.6 0-.6 .3-.6-.1-.5 .9-.7-.3-.6-1.2-.6 .6-.6 .4-.6-1.4-.6 1.5-.5 .2-.6 .1-.7-.9-.5 1.1-.7-1.7-.6 .2-.6-.2-.6 .1-.5 1.8-.7-1.8-.6 .7-.5 .9-.6 .2-.7-.7-.5 .7-.7-.7-.6-.9-.5 1.7-.6-.1-.7-1.1-.5 .6-.7-.4-.6-.4-.5 1.1-.6-.1-.6 .8-.5 1.5-.8-2.8-.5 .9-.5 1-.6 0-.7-.2-.6-.2-.7-1.6-.6 0-.6 .2-.4 1.6-.8-1.7-.6 .1-.6 0-.5 .3-.5 1.5-.8-1.8-.4 1.7-.7-1-.6-.5-.6 .3-.6 .3-.6 .3-.6-.8-.5 1.3-.6 .1-.7-.9-.6 0-.6 0-.6 .2-.5 .6-.7-.5-.5 .8-.5 .3-.6 .5-.8-1.6-.5 .5-.5 1.1-.6 0-.7-.7-.5 .5-.4 1.3-.7-.7-.7-.7-.7-.2-.6 0-.4 .9-.7-.4-.6 0-.4 1.2-.7-.9-.4 1.5-.5 .4-.8-1.2-.8-.9-.4 1-.8-.6-.6-.1-.4 .9-.4 .8-.6 0-.8-.8-.6 .3-.2 1.7-.7-.6-.4 .8-1-1.1-.7-.4-.5 .3-.5 .7-.8-.7-.6 .3-.2 1.3-.7-.3-.5 .3-.5 .6-.6 .1 0 1.7-1.5-2-.2 1.1-.5 .3-.5 .3-1-.6-.2 1-.8-.2-.6 .2-.5 .5-.7 .1-.5 .5-.6 .3-.7 .2 .1 1.3-.9 0-1-.3-.3 .8-.3 .8 .6 1.8-1.2-.3-.6-.5-.8-.5 0 .6-.4 .2-.1 .4-.6-.1 .1 .7-.8-.3 .7 1.3-1.2-.7-.3 .3-.1 .5 .5 1-1-.3-.4 .2 .8 1.2-1.3-.6 1.6 2-.9-.3-1-.3-1.2-.3 .4 .9-.1 .5-.9-.2 .5 1 .4 .9-1.8-.8-.4 .3 .2 .7-.2 .5 .3 .9-1.5-.5 0 .6 1.3 1.5-1.8-.6 .4 .9-1.1 0 .4 .9-1.3-.1 .6 .9 0 .7-1.3-.1-.4 .5-.2 .6 .7 1-.3 .6-.7 .3 0 .7-.4 .5 .6 1.1-1.8-.2-.5 .6-.3 .6 .5 1-1 .3 .2 .9 .8 1.1-1.7 .1-.4 .7 1.3 1.3-1.6 .2-.5 .7-.2 .8-.8 .6 2 1.6-.8 .6-1.7 .3-.5 .8 1.1 1.3 .1 1 .3 1-2.7 .1 .9 1.3-1.4 .6 1.5 1.5-2.2 .4-.4 .9 .7 1.3-1.3 .8-.4 1 1.2 1.5-.5 1-.9 .9 1.9 1.8z" fill="#111"/>
<path d="M81.5 160.5l.3-1.1 .3-1.1 .3-1.1 .3-1.1 .3-1.1 .3-1 .3-1 .3-1 .3-1 .3-1 .3-.9 .3-.9 .3-.9 .3-.9 .3-.9 .3-.9 .3-.8 .3-.8 .3-.8 .3-.8 .3-.8 .3-.8 .3-.7 .3-.8 .3-.7 .3-.7 .3-.7 .3-.7 .3-.7 .3-.7 .3-.6 .3-.6 .3-.7 .3-.6 .3-.6 .3-.6 .3-.6 .3-.5 .3-.6 .3-.6 .3-.5 .3-.5 .3-.6 .3-.5 .3-.5 .3-.5 .3-.5 .3-.4 .3-.5 .3-.5 .3-.4 .3-.4 .3-.5 .3-.4 .3-.4 .3-.4 .3-.4 .3-.4 .3-.4 .3-.4 .3-.4 .3-.4 .3-.3 .3-.4 .3-.3 .3-.4 .3-.3 .3-.3 .3-.4 .3-.3 .3-.3 .3-.3 .3-.3 .3-.3 .3-.3 .3-.3 .3-.3 .3-.2 .3-.3 .3-.3 .3-.2 .3-.3 .3-.2 .1-.1 .6-.5 .6-.5 .6-.4 .6-.5 .6-.4 .6-.4 .6-.4 .6-.4 .6-.4 .6-.3 .6-.3 .6-.4 .6-.3 .6-.3 .6-.3 .6-.3 .6-.3 .6-.2 .6-.3 .6-.2 .6-.3 .6-.2 .6-.2 .6-.3 .6-.2" fill="none" stroke="#111" stroke-width="2.6"/>
<path d="M77.1 158.8l2.6 .1 .2-.8 .2-.8 .8-.5 .1-.8 .2-.8-.5-1 .3-.8 .8-.4 .1-.8 .4-.6-.2-.9 0-.8 .6-.5 .5-.6 1.3-.1 .4-.6-.8-1.2 1.1-.1-.8-1.2 1.5 0-.9-1.2 1.6 .1 .3-.5-.7-1.1 1.1-.2-1-1.3 .4-.5-.5-1 .2-.5 1-.2 1.4 .1 .2-.5 .1-.6-1.2-1.5 2.6 1 .4-.4 .2-.5-.9-1.3 1.6 .4-.1-.8 .4-.3-.3-.9-.9-1.3 1.5 .4 .8-.1 .4-.3 .3-.4 .2-.5 .4-.4 .7-.1-1.8-2 2.2 1.1 .1-.5-.2-.9 1.2 .4-.1-.7 .1-.6 .7 0 .3-.3 .1-.5 .2-.5 .4-.3-.2-.8 1.1 .4-1.1-1.7 1.7 1-.7-1.3 .1-.5 1.6 1 0-.6 .7 0-.3-.9 .5-.1 .6 0 .4-.1-.7-1.5 1 .5 .6 .1 .4-.2-.3-.9 .4-.2 .4-.2 .1-.1 .7-.5 .8-.3 .6-.4 .5-.6 .9-.2 .7-.3-.2-1.6 1.2 .4 .7-.4 .8 0 .4-.7 0-1.5 1.4 .9 .1-1.2 .2-1.1 1.4 .9 .9 .3 .4-.8 .7-.1 .5-.5-.3-2.4 1.6 1.7 .5-.5 .8 .1 .7-.1 .3-.8 .9 .3 .4-.8 .3-1.1 1.1 1 .7 .1 .5-.6 .4-.9 .4-.8 1.1 1.2 .2-1.4 1.1 1.1 .2-1.5 .1-1.7 1.1 1.4 .7 0 .8 .4 .7 .2 .5-.8 .8 .7 .5-.5 .2-1.9 1.1 1.7 .4-.9 .8 .8 .5-.7 .7 .3 .5-.9 .7 .5 .3-1.6 1 1.7 .5-.8 .7 .5 .6 0 .2-2.7 1.1 2.5 .4-1 .8 .8 .3-1.6 .8 .8 .4-1.5 .9 1.5 .4-1.2 .8 1.1 .4-1.6 .6 .1 .8 1.5 .6-.6 .7 .5 .5-.9 .6 .4 .6-.2 .5-.7 .7 .3 .6-.2 .6-.2 .6 .3 .5-1.3 .7 .9 .6-.2 .6 .1 .7 .5 .5-.7 .7 .6 .6-.1 .5-1.5 .7 1.8 .5-1.3 .7 1.1 .6-.7 .6 .7 .6-.3 .6 .1 .7 .1 .3-2.9 .8 2.5 .7 .2 .6 0 .5-.3 .6-.1 .6-.7 .6 0 .7 .6 .4-2.1 .7 1.3 .7 .7 .5-1.5 .5-1.1 .7 1.8 .5-1.8 .8 2.7 .6-.4 .5-.7 .6-1.5 .7 1.6 .5-1.1 .7 1.3 .6-.2 .6 .1 .6 .1 .6 .4 .6-.8 .6 .2 .6-.4 .6 .6 .6-.4 .6-.5 .6 .5 .6 .2 .5-1.4 .7 1.7 .6-.8 .6 .1 .6-.4 .6-.6 .6 0 .5-.4 .7 .6 .5-.9 .7 1.1 .6-.2 .6 .9 .6-.6 .6 .3 .6-.4 .6 .3 .6-.2 .6 .1 .6-1.6 .6 2.2 .6-.8 .6-.9 .6 .2 .6 1.4 .6-.4 .6-1 .6 .2 .6-.3 .6 .9 .6 .7 .6-1.1 .6 .9 .6-2.3 .6-.5 .6 1.9 .6 .3 .6 .6 .6-.3 .6-1 .6-.9 .6 1.3 .6 .8 .6-.9 .6 .3 .6 0 .6-1 .6 1.2 .6 .3 .6-.4 .6-.8 .6 .3 .6 .3 .6-1 .6-.7 .6 .9 .6 .8 .6 .3 .6 0 .6 .1 .6-1.9 .6 1.5 .6 .3 .6-.8 .7 .9 .5-.3 .6-.3 .6-.5 .6-.3 .6 .6 .6-.3 .6-2 .6 1.8 .6 .8 .6-2.1 .6 2.3 .6-.2 .7 .3 .5-1.5 .6 1.1 .6-1.5 .7 1.8 .5-.7 .7 .6 .5-.8 .6 .4 .6 .2 .7 .3 .5-.4 .6-.2 .6-1.1 .6 .3 .6 .3 .6 .5 .7 .3 .5-.4 .6 0 .6-.8 .7 1.3 .6 0 .5-1.1 .7 1.1 .5-1.2 .6-1.1 .6 1.2 .6 .3 .6 .3 .7 .2 .5-.7 .7 .8 .5-.5 .6-1 .6 0 .6 .3 .6 .8 .6-.8 .6-.1 .6 .5 .7 .6 .5-1.4 .6 .1 .6 0 .6 .1 .6-1.5 .6 1.3 .6 .1 .7 1.3 .5-.5 .6 0 .6-.3 .6-.4 .6-1.2 .7 2.3 .5-1.2 .7 1.2 .5-3 .6 2.3 .6 .3 .6-.2 .6-.3 .6 .2 .6-.6 .6 .2 .7 .9 .5-.2 .7 .3 .5-1.1 .6-.2 .6-.9 .6 1.7 .6-1 .7 1.5 .5-.7 .6-.2 .6-.2 .7 .9 .5-1.6 .7 1.3 .5-.7 .6 .4 .6 0 .6-.3 .6 .1 .6 .1 .6 0 .6-.6 .7 1.1 .6-.1 .5-1 .6 .7 .6-.9 .6 .4 .6 .3 .7 .6 .5-.6 .6 .2 .6-.9 .7 1 .5-.8 .6-.3 .7 1.3 .5-1.1 .6-.1 .7 1.2 .5-.7 .7 .5 .5-1.2 .6 .3 .6 .1 .6 .5 .6-.2 .6-1 .6 .9 .6-1.3 .6 1.1 .6-.6 .6-.1 .6 .3 .6 .4 .6 .1 .7 .4 .5-1 .6 .7 .6-.1 .7 .4 .5-1.1 .7 1.2 .6 .1 .5-1.8 .7 1.5 .5-2.9 .7 2.8 .5-.9 .6-.6 .6 .8 .6-.4 .7 1.2 .5-.4 .7 .5 .6-.2 .6-.1 .5-1.1 .7 1.2 .5-.3 .6-.4 .7 .6 .5-1.5 .7 1.4 .5-1.9 .6 1.8 .7 .2 .5-1.4 .7 1.5 .6-.2 .6 0 .6 .2 .6-.1 .5-.8 .6 .2 .6-.5 .6-.1 .6 .6 .6-.4 .6-.3 .6 0 .6-1.4 .6 1.9 .7 .5 .5-.6 .6 .2 .6-2.3 .6 2.2 .6 .1 .7 .4 .5-.9 .6 .6 .7 .2 .5-2.9 .7 3 .5-.8 .6 .1 .6-1.5 .6 1.7 .6-.7 .7 1.3 .6-.2 .5-.4 .6-.1 .7 .3 .5-1.1 .7 1.2 .5-.5 .6-.7 .6-1.2 .6 .8 .7 1.7 .5-1.4 .6 .1 .7 1.1 .5-.4 .7 .3 .5-.7 .7 .9 .5-.6 .6-1.4 .6 1.3 .7 .7 .5-1 .6-.1 .7 1 .5-1.2 .6-.6 .6 .4 .7 1.2 .5-1.3 .6-.4 .7 1.9 .5-1.2 .7 1 .5-.4 .7 .3 .5-.8 .7 .7 .5-2 .6 .6 .7 1.3 .6 .1 .6 .1 .5-1 .6-2 .6 2.5 .6-.2 .7 .6 .6 0 .5-.3 .6-.5 .6-1.1 .6 1.5 .2 6.1-.7-1.4-.6-.2-.5 .4-.6 1.3-.6 .4-.7-1.9-.5 .9-.6-.5-.6 .3-.6-.2-.6 .8-.6 0-.7-1.4-.5 .6-.7-.4-.5 .5-.6 0-.6 .2-.7-.6-.5 1-.6-.3-.6-.1-.6 .5-.6 .1-.6-.4-.6 .8-.6 .7-.7-2.5-.5 1.5-.6-.3-.6 .5-.7-1.3-.5 .4-.6 .4-.6 .4-.6 .7-.6-1.6-.7-.3-.5 2-.6-1.1-.6 1.9-.6-1.3-.6-1-.6-.2-.6 .7-.6 .1-.6-.5-.6 1.3-.7-1.8-.5 .6-.7-.6-.5 1.1-.6 .3-.6-.6-.6 .2-.6 .8-.6-1.1-.6 1.2-.6-1.1-.6-.3-.7-.4-.5 1.9-.6-1.3-.6 1.4-.6-.5-.6-.3-.6-.1-.6-.5-.6 .8-.6 .6-.7-1.9-.5 .9-.7-.7-.5 .3-.6 .7-.6 .1-.6-.1-.7-1-.6 0-.6-.1-.5 1.3-.7-1.1-.5 .4-.6 .4-.6 1.7-.6-1.6-.6 1.4-.6-1.2-.6-.8-.6 .8-.6 1-.6 .9-.6-1.7-.6-1-.6 1.1-.6-.1-.7-1.4-.5 1-.6 1.2-.6 .1-.7-2.2-.6 .3-.6 0-.5 .5-.6-.2-.6 2.1-.6-1.2-.6-.7-.6 .2-.6 1.4-.6 .5-.6-2.2-.7-.2-.5 .5-.7-.6-.6 .1-.5 .6-.7-.8-.5 1-.6 1.2-.6-.9-.6-.7-.6-.1-.6 .5-.6-.3-.6 .1-.6 .8-.6 .2-.6 .4-.7-1.8-.6-.3-.5 .9-.7-.9-.5 1.4-.6-.5-.6 0-.6 .2-.6-.4-.6-.2-.6 1.7-.6-1.4-.7-.3-.5 .6-.6-.4-.6 1.5-.7-1.8-.6-.1-.5 .4-.7-.2-.6-.2-.6 .3-.6-.3-.5 .6-.6 .2-.6-.4-.7-.4-.5 1.9-.6-.2-.6-.9-.7-.5-.5 2.1-.7-2-.5 .9-.6-.2-.6 .9-.6-1.4-.6-.1-.6 1.2-.6-.4-.6 .8-.7-1.6-.5 1.6-.6-1.1-.6 0-.6-.1-.6 0-.6 .2-.6 2-.6-2.3-.7-.5-.5 .8-.6 1.8-.6-.3-.7-2-.5 .8-.6 .5-.7-1.3-.5 .6-.6-.4-.6 1.9-.7-2.2-.5 .9-.6 1.7-.6 1.7-.6-1.8-.6-1.1-.6-.2-.6-.3-.6 .8-.6-.2-.6-.4-.6 0-.6-.4-.6 .1-.6 3-.6-2.4-.7-1.1-.5 .7-.6 .2-.7-1-.6 0-.6 .2-.5 1-.6-.3-.6 .7-.6-1-.6-.1-.6 .5-.6-.4-.6 1.1-.7-1.5-.5 1.4-.6 0-.6-.4-.7-.8-.5 .7-.6 .2-.7-1-.5 1.4-.6-1.1-.6-.1-.6 1.3-.6-1.1-.6 .2-.7-.6-.5 .8-.6-.1-.6 .7-.6 .5-.6-1.2-.6 .7-.6-.7-.7-.5-.6 .1-.5 1.1-.6-.3-.7-.8-.5 .6-.6 1.1-.6-1.4-.6-.1-.6 1.4-.6 .8-.6-2.1-.6 .9-.6 0-.6-.8-.6 1.9-.6-1.1-.6-.4-.6-.6-.6 1-.6-1-.6 .8-.6-.5-.6 .7-.6 0-.6-.2-.6-.7-.6 .3-.6 .8-.6-.2-.6-.2-.6 .4-.6-.9-.6 1.9-.6-2-.6 2.3-.5 1.2-.7-3.4-.6 .5-.6-.1-.6 1.6-.6-1.3-.6-.3-.6 .6-.6-.3-.6 1.1-.6-1.2-.6-.1-.6 .8-.6-1.1-.6 1.6-.6-1.6-.6 1.9-.6 .4-.6-.1-.6-2.2-.6 1.3-.5 1.7-.7-1.8-.6 .5-.6-1-.6-.2-.6 .2-.6-.4-.6 .3-.6 1-.6-.5-.6 .3-.6-.2-.6-.1-.6 .5-.6-1-.6 1.1-.6-.2-.6-.5-.6 0-.6 1.1-.6-1.2-.6 .5-.6 .5-.5 .6-.7-1.4-.5 1-.7-1.3-.6 0-.6 .5-.5 .8-.6 0-.7-1.2-.5 1-.7-.4-.6 .2-.6-.4-.4 2.4-.7-1-.7-1.5-.6 .4-.6-.4-.6 0-.6 .4-.6-.1-.5 .3-.6 0-.6 .6-.7-.7-.6-.1-.5 1.3-.6-1-.7-.3-.4 2.2-.7-.8-.3 2.8-.9-2.8-.4 1.4-.8-1.5-.6-.7-.6 .2-.5 .9-.5 1-.7-1.1-.7-.5-.6-.3-.6-.1-.6 .6-.5 .1-.5 1.4-.6-.4-.8-1.2-.5 .9-.6-.6-.5 1.2-.6-.2-.6 0-.6-.1-.7-.7-.5 .8-.7-.4-.5 .5-.7-.7-.5 .8-.7-.3-.6 0-.6 .1-.4 .9-.8-1.1-.4 1.5-.6 0-.7-.9-.4 1.3-.6 0-.8-1-.4 1.3-.7-.6-.3 1.5-.9-1.3-.5 .6-.4 .8-1-1.7-.5 .6-.7-.3-.4 .6-.6 .4-.6-.2-.3 1.3-.9-1.1 0 2.4-1.1-1.7-.2 1.5-.8-.8-.7 .1-.8-.7-.3 1.2-.8-.8-.5 .6-.8-.4-.2 1.1-.9-.4-.3 1-.8-.7-.3 1-.7 .1-.3 .8-1.1-.9-.3 .9-1-.8-.5 .3-.2 1.2-.7-.1 .3 2.1-1.1-.8-.7 0-1.1-.6-.1 1.1-.6 .3 0 1.3-1.1-.6-1.1-.5 .8 2.6-1.9-1.9-.1 1.1 0 1.3-1.5-1 0 1.2-1.4-.8 1 2.6-1.6-1 .1 1.3-1.5-.8-.7 .3 .7 2.1-1.1-1.2 0 .6-.6-.1-.5-.1 .5 1.2-.5 0-.2 .4-1.1-.7 .6 1.2-1.1-.6-.2 .4-.4 .1 .8 1.5-1.5-1 .7 1.2-.4 .3-1.2-.6-.1 .4-.4 .2 .6 1.2-1.3-.6-.2 .4-.3 .2 .7 1.2-1-.2-.3 .3 .1 .7-.6 .1 .8 1.2-1.7-.8 .3 .8 .1 .7-.6 .1-1.1-.2 .9 1.2-.9-.1-.4 .4-.3 .4 .2 .7-.6 .2-.2 .5 .1 .7-1.3-.3 .3 .8-1 0 1.6 1.6-2-.6 0 .6 1 1.3-1.6-.4-.3 .5-.4 .4-.5 .4-.5 .3-.1 .7 .1 .7 .2 .7-1.2 0-.2 .6 .5 1-.9 .2 1.6 1.6-1.1 .1-1 .2-.8 .3 .2 .8-.9 .3 .5 1-1.2 .2 1.3 1.3-1.8-.1 1.2 1.4-.7 .4-.7 .5 .2 .9 .2 .8-.9 .4-.3 .7-1.4 .2 .8 1.2-1.4 .2 2 1.7-2 .1-.9 .5z" fill="#111"/>
<path d="M81.5 160.5l.3-.8 .3-.7 .3-.7 .3-.8 .3-.7 .3-.7 .3-.7 .3-.7 .3-.6 .3-.7 .3-.7 .3-.6 .3-.7 .3-.6 .3-.6 .3-.6 .3-.6 .3-.6 .3-.6 .3-.6 .3-.6 .3-.6 .3-.5 .3-.6 .3-.5 .3-.5 .3-.6 .3-.5 .3-.5 .3-.5 .3-.5 .3-.5 .3-.5 .3-.5 .3-.5 .3-.4 .3-.5 .3-.5 .3-.4 .3-.5 .3-.4 .3-.4 .3-.5 .3-.4 .3-.4 .3-.4 .3-.4 .3-.4 .3-.4 .3-.4 .3-.4 .3-.4 .3-.4 .3-.3 .3-.4 .3-.3 .3-.4 .3-.3 .3-.4 .3-.3 .3-.4 .3-.3 .3-.3 .3-.4 .3-.3 .3-.3 .3-.3 .3-.3 .3-.3 .3-.3 .3-.3 .3-.3 .3-.3 .3-.3 .3-.2 .3-.3 .3-.3 .3-.3 .3-.2 .3-.3 .3-.2 .3-.3 .3-.2 .1-.1 .6-.5 .6-.5 .6-.5 .6-.4 .6-.4 .6-.5 .6-.4 .6-.4 .6-.4 .6-.4 .6-.4 .6-.3 .6-.4 .6-.3 .6-.4 .6-.3 .6-.3 .6-.3 .6-.3 .6-.3 .6-.3 .6-.3 .6-.3 .6-.2 .6-.3" fill="none" stroke="#111" stroke-width="2.6"/>
<path d="M79 158.1l1-.2-.3-1.5 1.6 .2 .5-.7 .1-1.1 1.7 .5-.7-2 1.5 .3 .1-1.1 1.3 .2 1-.2-.7-1.9 .6-.6 .1-1.2 2.2 1.3 0-1.2 1.2 .2-.8-2.2 1.2 .2 1.3 .4 .7-.3 .4-.8 .2-1 1.6 .9 .3-.8 .8-.1 .4-.8 .6-.5-.5-2 1 0 1.3 .7 .5-.5 .9 .2 .3-1 .5-.6 1 .4 .6-.5 .7-.1 .5-.6-.5-2.3 1 .3 1.4 1.2 .8 0 .2-1.1 .6-.3 1 .3 .5-.4 .8-.1 .2-1 .5-.6 .8 .1 .7 0 .3-1 .8 .2 .7-.2 .6-.3 .5-.5 .9 .6 .5-.6 .2-1.3 1.1 1 .5-.6 .8 .3 .2-1.4 .4-.7 .6-.1 .9 .3 0-1.7 1.4 1.8 .2-1.4 1.1 1.3 .5-.6 .4-.9 .9 .7 .3-1.1 .7 .1 .7 0 .6-.2 .6-.3 .1-1.8 1.1 1.4 .7 .1-.1-2.4 1.4 2.3 .1-1.7 1 .9 .2-1.3 1.1 1.3 .5-.7 .7 .3 .7 .1 .4-.8 .4-.9 .5-.5 .8 .4 0-2.2 1.4 2.5 .3-1.2 .8 .6 .7 .3 .3-1.5 1 1.5 .6-.4 .6-.1 .5-.4 .7 .2 .6-.1 .6-.4 .5-.4 .7 .3 .6-.3 .6-.2 .6-.2 .4-1 .7 .5 .5-.9 .5-.3 .8 .5 .8 .8 .6-.2 .6-.3 .4-.8 .3-1.8 .6 .2 1 1.4 .6-.1 .3-1.4 .9 1.4 .7 .2 .5-.9 .6 .1 .3-1.5 .8 .5 .4-.7 1 1.7 .6-.2 .2-2.1 .9 1.4 .6 0 .5-.9 .7 .3 .6-.2 .5-.4 .9 1.3 .5-.6 .4-1.2 .9 1.4 .5-.4 .2-2.2 .9 1.1 .6 0 .6 0 .7 .7 .5-.7 .6-.4 .5-.8 .9 1.6 .4-1 .7 .1 .6-.1 .7 .6 .4-1.1 .6 0 .7 .5 .7 .1 .4-1.2 .7 .3 .4-1.2 .7 .4 .7 .9 .7 .4 .6-.3 .5-.3 .4-1.9 .7 .6 .7 .7 .6-.2 .7 .6 .3-2.4 .8 1.5 .5-.9 .8 1.5 .5-.9 .7 .4 .5-.8 .7 .8 .5-.4 .3-2.6 .9 2.1 .6-.3 .7 1.1 .6-.2 .6-.1 .4-1.5 .8 1.1 .4-1.2 .8 1.3 .6-.2 .6 .1 .5-1.4 .6 .2 .7 .6 .4-1.3 .7 .3 .7 .6 .6-.2 .6 .1 .6 .3 .6-.1 .6-.3 .5-1 .5-.5 .8 .9 .6 .2 .6-.6 .4-1.1 .8 1.6 .7 .2 .5-.7 .6-.3 .6 .1 .6 0 .7 .5 .4-1 .7 .2 .6-.3 .5-.3 .4-2.2 .9 2.3 .5-.9 .6 .2 .7 .9 .7 .4 .3-2.7 .9 2.4 .5-.2 .5-1 .7 .8 .6-.1 .4-2.1 .9 2.4 .6-.3 .3-2.6 .7 1.3 .7 .5 .5-.6 .7 .1 .6 .6 .6-.6 .5-.5 .7 .9 .5-1 .7 .6 .7 .8 .5-.8 .7 .4 .6 .2 .5-.6 .6-.1 .7 .6 .5-.9 .6-.3 .7 .8 .4-1.6 .8 1.4 .6 0 .4-1.6 .8 1.1 .5-.1 .5-1.4 .7 1.1 .6-.9 .6 0 .6 0 .6 .5 .5-1.6 .8 2.5 .6-.7 .4-1.4 .7 1 .7 .8 .6-.8 .6 .5 .4-2.5 .6 .4 .7 1.2 .6-.5 .7 1.1 .5-.7 .6-.4 .7 .6 .6-.1 .6 .6 .6-.8 .5-.9 .7 .9 .6-.1 .5-.4 .7 .2 .6 .1 .5-1 .7 .8 .6 .4 .6-.1 .6 .1 .6-.5 .6 .6 .6-.3 .6-.5 .6-.3 .5-.7 .7 1.1 .6-.3 .6-.5 .6 1.1 .6-.2 .6-.2 .5-1 .6-.5 .7 1.7 .6-.5 .6-.7 .6 .5 .6 .1 .4-2.6 .7 1.2 .7 .7 .4-1.8 .7 .2 .7 1.4 .6 .8 .5-1.5 .7 .2 .6 .9 .6 0 .6-.4 .6-.5 .6 0 .6 .3 .7 .8 .5-1.4 .7 1.1 .4-2.1 .8 2.1 .5-.8 .5-1.3 .7 1.7 .6-.9 .6 .7 .6-.4 .6 0 .5-1.5 .7 1.7 .7 .3 .3-4.2 .8 3.1 .7 .9 .5-.7 .6 .1 .6 .4 .7 .3 .6-.1 .5-.6 .6-.2 .6 0 .7 .4 .5-1.6 .6 1.2 .6-.9 .6 .5 .7 .8 .5-.4 .6-.3 .7 .5 .4-2.8 .8 2.6 .6 0 .5-.4 .6-.3 .7 .8 .5-1 .6 .4 .6-1.1 .7 1.5 .5-.9 .6-.2 .7 .9 .5-1.7 .6 .8 .5-1.4 .7 1.6 .6-.7 .5-1.7 .8 3 .6-.5 .6 .4 .5-.9 .6-.5 .6 .5 .6-.3 .6-.8 .7 1.7 .5-1.8 .7 1.9 .5-2 .6 1 .6-.1 .7 .3 .6 .2 .6 .4 .5-1.2 .7 1.2 .6-.9 .6 0 .6 .7 .6-.3 .5-.8 .6-.6 .7 .9 .5-.5 .7 .7 .6 .2 .6-.1 .5-.8 .7 .9 .6-.6 .5-1 .7 1.3 .6 .1 .6-.1 .6 .1 .6-.1 .5-1.5 .7 1.3 .6-.4 .6 .4 .6 .1 .6-.4 .6-.5 .6 .3 .5-.9 .7 .8 .5-1.7 .7 2.2 .5-1.3 .7 .7 .6 .5 .6-.4 .5-1.3 .7 1.5 .5-1.1 .7 .8 .5-1.5 .6 0 .7 1.8 .5-1.6 .6-.3 .7 .9 .5-1.1 .7 2 .6-.3 .6-.8 .5-.6 .7 1.6 .6-1.3 .5-.9 .7 1 .6 .9 .6-.1 .6-.2 .6-.4 .6 .7 .6-.3 .5-1.2 .7 1.1 .6-.3 .6-.1 .5-.9 .7 1.4 .6 .2 .6 0 .6-.1 .6 .1 .5-3 .7 3 .6-.3 .5-2.1 .6-.7 .7 1.9 .6 .2 .6 .8 .6-.2 .6 0 .6 0 .2 5.7-.6-1.6-.6 1.4-.5 .8-.7-1.8-.6 .9-.6-.3-.6 .4-.6 .3-.6-1-.6 .2-.6-.5-.6-.1-.6 .7-.6 .2-.6-.9-.6 .9-.6-.7-.6 .2-.5 2.1-.7-1.6-.6-.4-.5 1.3-.6 .1-.7-1.3-.6 1.1-.6 0-.6 0-.6-.4-.6-.8-.6 .9-.6-.8-.6 .9-.6-.2-.5 2.3-.7-1.8-.6 .1-.6-1.3-.6 .3-.6 0-.6 .8-.6-.4-.6 .1-.6 0-.5 1.3-.7-1.4-.6 .2-.6 .1-.6-.1-.6-.4-.6 .9-.6-.9-.6 0-.6 .1-.6 .4-.6 .5-.6-.2-.6-.3-.6 .5-.6-.6-.6 .4-.5 .9-.7-1.4-.6 0-.6 0-.6 .4-.6-.4-.6 .6-.6-.5-.6 .6-.6-.1-.6 .5-.6-.8-.6 .7-.6-.7-.6 .1-.6 .2-.6 .5-.4 2.1-.8-2-.6-.7-.6 .4-.6 .1-.5 1.2-.7-1.5-.5 1.2-.6 0-.6 1.1-.7-1.8-.5 .4-.6 0-.6 1.7-.7-2.3-.6 .1-.6 .1-.6 .3-.5 .6-.6 .2-.6-.2-.6 0-.6 .5-.7-1-.6 .2-.6-.4-.6-.1-.5 .9-.6 .9-.5 .9-.7-1.2-.7-1.3-.5 1.1-.6 .8-.6-1.1-.6 1.3-.6-1.1-.7-.8-.6 .4-.6 .1-.6-.1-.5 1.6-.6-.3-.6-.1-.6-.7-.7-.4-.6 0-.5 .8-.6 .5-.6-.8-.6 .3-.7-.6-.5 .6-.6 0-.6 .3-.4 2.6-.9-3.3-.5 1.6-.6-1.4-.6 1.3-.6-.9-.6 .2-.6-.1-.6-.1-.6 1-.6-1.1-.6 .1-.5 1.6-.7-1.4-.6-.2-.6 .3-.6 .7-.7-1.1-.6 0-.5 .6-.6-.1-.6-.1-.6 .8-.6-.6-.6 .8-.6-1-.6 .7-.6 0-.5 1.2-.7-.8-.5 .8-.7-1.6-.6 .4-.6 .4-.6-.8-.6 .4-.6 .4-.5 1.1-.6-.4-.7-1.1-.6 0-.6 .7-.6-.1-.6-.6-.6 .8-.6-.1-.5 1.4-.7-1.5-.6 0-.5 1.2-.7-.5-.6-.9-.5 1.9-.7-1.7-.6 0-.6 .2-.5 2.1-.6-.2-.7-1.2-.6-.1-.6 .4-.4 2.4-.7-1.6-.7-1.5-.6 .6-.6-.3-.4 2.2-.8-2.1-.5 1.5-.6-.6-.7-1-.6 .3-.6 .4-.6 .1-.6-.6-.4 2.5-.8-2.1-.4 1.7-.8-1.4-.5 .5-.6 .9-.7-1.7-.5 1.1-.7-.8-.6-.1-.5 1.5-.7-.9-.6-.5-.6 .3-.5 1-.6-.2-.6-.2-.5 1.4-.8-1.6-.5 .4-.7-.1-.5 .1-.7-.1-.5 1.2-.7-1.4-.5 .6-.6 0-.6 .2-.6 .4-.7-.6-.5 .2-.5 1.5-.8-1.4-.4 1.2-.7-.4-.7-.9-.5 .5-.7-.5-.5 .4-.7-.3-.5 1.1-.7-1.1-.5 .5-.6 .3-.7-.5-.5 .5-.5 1.6-.8-1.8-.5 .3-.6 .4-.6-.1-.6 0-.7-.1-.4 1.1-.8-1.2-.6 .2-.6 0-.6 .1-.5 .8-.6-.5-.6 .7-.7-.7-.5 .5-.7-.5-.4 1.4-.7-.8-.6-.1-.6 .3-.4 1.7-.7-.5-.7-1.4-.5 1.1-.8-1-.5 .8-.6-.6-.7-.1-.4 1.2-.5 .9-.7-.6-.7-.7-.5 .8-.7-.9-.5 1-.7-.9-.4 2-.7-1-.5 1-.8-1.8-.5 1.1-.6-.3-.5 1.1-.8-1.3-.6 .1-.4 1.8-.7-1.2-.6 .4-.6 .2-.6-.4-.7-.7-.4 1.7-.7-.5-.6 0-.4 1.1-.7-.2-.8-1.3-.5 .7-.6-.3-.6 .4-.7-.7-.5 .9-.3 1.8-1-2.3-.5 .9-.5 .4-.6 0-.6 .5-.7-1.1-.7 0-.6 .1-.5 .7-.7-.6-.3 1.9-.7-1-.7-.5-.5 1.2-.7-.6-.6-.2-.5 .6-.7-.4-.6 .3-.3 1.5-.7-.3-.8-1.1-.6 .2-.5 .5-.6 .2-.6 .3-.6-.3-.7-.2-.5 .7-.7-.8-.7-.1-.5 .7-.6-.2-.6 .2-.4 .9-.7-.3-.5 .8-.8-1-.4 .9-.6 .1-.7-.2-.5 .4-.5 .6-.9-1.2-.2 2.1-.7-.4-.8-.9-.4 1.2-.9-1.3-.2 1.6-.9-1.2-.6 .4-.6-.1-.6 .2-.6-.1-.5 .7-.6 .2-.7-.4-.6 .2-.2 1.8-.9-1.3-.6-.1-.6 .4-.3 1.3-.8-.6-.8-.7-.4 1-.8-.8-.3 1.1-.7-.1-.4 .8-1-1.3-.5 .7-.5 .3-.6 .2-.6 .2-.8-.7-.6 .3 0 2.1-.9-.9-.5 .3-1-1-.5 .5-.4 .8-.4 .8-1-1.2 .2 2.7-1.1-1.3-.9-1.1-.3 1.1-.4 .9-1-1.1-.7-.2-.3 1.1-.5 .5-.7-.2-.9-.7 .1 2.3-1-1.1-.5 .4-1-.9-.4 .7-.1 1.8-1.1-1.5 0 2.1-1-1-.7-.2-.3 1-1-.8 .1 1.9-1.3-1.4-.5 .3 .4 2.7-1.8-2.7-.3 1-.2 1-.6 .2-.9-.5-.9-.4 .1 1.8-1.3-1.2-.4 .6-.4 .6-.4 .7-1.2-1-.5 .5-.5 .4-.7 .1-.1 1.2-1.1-.8 .3 2-1.4-1.1 .3 2-1.5-1.5-.6 .4 .3 1.8-1.4-1.2-.5 .5 0 1.4-.8 0-.1 1.1-1.4-1-.5 .5-.7 .2-.8-.1-.4 .8-.4 .5 0 1.3-1.5-1 .3 1.8-1-.3-.8 .1-.4 .7-.2 .9-.8 .1-.3 .9-.6 .4-1.5-.8-.4 .7-.2 1-.9 .1 0 1.1-1 0 .3 1.5-1.8-.8-.4 .6-.8 .3-.8 .4 .1 1.2-.4 .8-.8 .4 .8 1.9-1.3-.1-1.7-.5-.3 .9-.8 .4z" fill="#111"/>
<path d="M81.5 160.5l.6-.6 .6-.7 .6-.6 .6-.6 .6-.6 .6-.6 .6-.6 .6-.5 .6-.6 .6-.5 .6-.5 .6-.6 .6-.5 .6-.5 .6-.5 .6-.5 .6-.5 .6-.4 .6-.5 .6-.5 .6-.4 .6-.4 .6-.5 .6-.4 .6-.4 .6-.4 .6-.4 .6-.4 .6-.4 .6-.4 .6-.4 .6-.4 .6-.3 .6-.4 .6-.4 .6-.3 .6-.3 .6-.4 .6-.3 .6-.4 .6-.3 .6-.3 .6-.3 .6-.3 .6-.3 .6-.3 .6-.3 .6-.3 .6-.3 .6-.3 .6-.3 .6-.2 .6-.3 .6-.3 .6-.3 .6-.2 .6-.3 .6-.2 .6-.3 .6-.2 .6-.3 .6-.2 .6-.2 .6-.3 .6-.2 .6-.2" fill="none" stroke="#111" stroke-width="2.6"/>
<path d="M80.3 157.7l.9 .3 .7 0-.3-2.6 1.1 1 1 .8 .5-.5 .3-1.1 1.1 1.1 .6-.3 .1-1.6 1 .8 .5-.3 .6-.5 .9 .7-.1-2.2 .6-.2 1 .7 .1-1.6 1.4 2.3 .4-.7 .7-.1 .7 .1 .6-.2 .5-.3 .6-.4 .7 .3 .4-1 .7 .2 .3-1.2 .8 .2 .5-.4 .9 .9 .3-1.3 .8 .5 .6-.1 .4-1.1 .6-.1 .7 .4 .4-1.3 1.1 1.9 .2-1.8 .9 1.2 .6-.2 .3-1.7 .8 .9 .6 0 .7 .2 .7 .3 .5-.5 .8 .4 .1-2.3 .8 .6 .9 1.2 .5-.3 .7 .1 .3-1.3 .9 1.1 .6-.3 .5-.4 .7 .3 .2-2 .8 1 .7 0 .5-.5 .7 .4 .7 .3 .5-.7 .3-1.9 .9 1.9 .4-1.2 .8 1 .7 .1 .5-.8 .7 .7 .3-1.7 .8 1 .4-1.3 .8 .7 .5-.4 .7 0 .7 .6 .2-2.4 .8 1.1 .7 .3 .7 .4 .5-.5 .4-1.2 .7 .6 .9 1.3 .4-1 .7 .2 .6 .4 .4-1.6 .7 .4 .5-.9 .8 1.2 .6-.1 .6-.2 .7 .5 .5-.4 .4-1.6 .5-.8 .9 1.7 .4-1 .7 .3 .8 1.5 .5-.7 .5-.8 .6-.2 .8 1 .3-2 .9 2 .6-.3 .5-.5 .6-.6 .5-.4 .5-.9 .9 2 .6 0 .5-.5 .6-.7 .7 .8 .5-.4 .7 .2 .6-.2 .6 .1 .6-.3 .6 0 .6 0 .5-.5 .6-.4 .6-.4 .7 .8 .5-.5 .7 .5 .5-1.1 .6-.1 .6 .1 .6-.1 .7 .4 .6 .3 .6-.2 .6 0 .6 0 .6 0 .4-1.5 .6 0 .8 1.3 .6-.1 .4-1.5 .9 1.8 .5-.5 .5-1 .7 .4 .6 .3 .7 .4 .5-1.1 .6 .4 .5-1.4 .6 .3 .7 .8 .7 .5 .5-.3 .7 .2 .5-1 .7 .7 .5-.3 .5-.8 .7 .7 .5-.9 .8 .9 .5-.3 .6-.6 .7 1.1 .4-2.1 .8 1.6 .6 0 .5-.6 .6-.4 .7 .8 .4-1.9 .6 .4 .8 1.2 .4-1.5 .7 .9 .5-.8 .7 .5 .6-.1 .7 .7 .5-1.3 .7 1.2 .5-.5 .6-.8 .6 .7 .7 .3 .5-.8 .7 .9 .5-.6 .4-2.8 .7 1.2 .8 2.1 .6-.2 .6-.3 .6-.1 .6 .3 .6-.2 .6 .1 .6-.4 .6-.1 .5-1.2 .7 1.3 .5-1.2 .6 .1 .6-.6 .7 1 .4-1.3 .6-.1 .8 1.3 .6 .1 .6 .3 .6-.7 .6 .4 .5-.7 .5-2.2 .8 3.1 .6-.2 .6-.8 .6 .6 .6 .1 .6-.6 .6 .5 .5-1.8 .6 .1 .7 .7 .6 .2 .6 .5 .6-.5 .5-1.1 .6 .4 .6-.2 .6-.9 .6 .6 .7 1 .6-.3 .6 .5 .5-1.1 .7 .3 .6 .2 .6 .1 .6 .4 .5-1.6 .6-.8 .7 1.3 .6-.1 .7 1 .5-.4 .6-.4 .6-.1 .6 .6 .6-.1 .6-.3 .5-1.9 .6 .8 .7 .7 .5-1.3 .7 1.5 .6 .1 .6-1.1 .6 1.1 .6-.3 .6 .2 .7 0 .5-.8 .6 .4 .6-.2 .7 .6 .5-.4 .5-2.4 .7 1.2 .5-.3 .8 1.6 .5-1 .6 .6 .6-.5 .6-.2 .6 .2 .6 0 .6-.3 .6-.3 .5-.9 .7 1.5 .7 .2 .5-.8 .6-.3 .5-1.1 .7 .8 .6 1.1 .5-2.1 .7 .5 .6 .6 .7 .9 .6 .3 .5-1.4 .6 .9 .7 0 .5-1.6 .5-1.7 .7 2.3 .6 .4 .6-.5 .6 .7 .6-.8 .7 1.1 .5-1 .6-.8 .6 1 .6-.1 .7 .6 .5-.6 .6-1 .7 1.8 .5-1.2 .7 .9 .6 .1 .5-1.1 .6 .5 .6-1.4 .7 1.8 .6-.3 .6 .1 .5-1.9 .7 2.2 .6-.2 .6-.5 .5-1.1 .6 .7 .6-.8 .7 1.4 .5-1.1 .7 1.1 .4-3.2 .8 3.1 .6 0 .5-1 .6-.7 .7 1.2 .6 .6 .6-.2 .6-.1 .6-.5 .6 .2 .6-.2 .5-.6 .6-.2 .6 0 .7 .5 .6 .6 .5-1.1 .7 1.1 .6-.7 .6-.1 .6 .7 .6-.2 .6 0 .5-1.4 .7 1.3 .6-.3 .6 .4 .6-.3 .6-.6 .6 .2 .5-1.3 .6 .1 .6-.4 .7 1 .5-1.1 .6 .8 .7 1.3 .6-.7 .5-1.2 .7 1.4 .6-.6 .6 .1 .5-.7 .7 1.1 .6 .4 .5-1.4 .7 1.3 .6-.1 .6-.2 .5-1.2 .7 1.2 .6-.9 .6 .1 .5-.7 .7 1.4 .6-.7 .5-1 .6 0 .7 1.3 .5-2.1 .7 2.4 .5-2.2 .6 .6 .6-.2 .7 1.6 .6-.5 .6 .6 .6 0 .6-.4 .6-.2 .6 .1 .6 .3 .6 .1 .5-1.9 .7 .7 .6 1.2 .6-.2 .6-.2 .5-1.5 .7 1.7 .6 0 .6-.6 .6 .3 .6-.5 .6-.4 .6 .4 .6 .4 .6 .2 .6 0 .6-.7 .6 .6 .6-.8 .6 0 .6 .6 .6-.3 .6-.1 .6 0 .6-.3 .6 .9 .6-.6 .6 0 .6-.1 .5-1.7 .7 2.4 .6-1.1 .6-.4 .6-.5 .6-.1 .6 1.5 .6 .3 .6-.4 .5-2.4 .7 1.9 .6 .5 .6-.3 .6-.3 .6 .5 .6-1 .6 1.4 .6-.4 .6-.4 .6 .1 .6 .5 .6-1.8 .6 1.9 .6-1.4 .6 1.4 .6-1 .6-.9 .6 1.4 .6 0 .6 .1 .6-.3 .6 .1 .6 .1 .6-.7 .6 .3 .6-1.4 .6 1.4 .6-.1 .6 .3 .6-.7 .5-1.9 .7 1.4 .6 1 .6-.7 .6 0 .6 .3 .6 .1 .6-.3 .6 .3 .6-.1 .6 .7 .2 4.7-.6-.2-.6-.1-.6 1.6-.6-.4-.6-.8-.6 1.7-.6-1.2-.6-.5-.6 0-.6 .6-.6 .2-.5 1.5-.7-1.2-.6-1.6-.6 .7-.6 .1-.6 1.9-.6-.5-.6-1.9-.6-.2-.6 1.1-.6-1-.6 .4-.6 .3-.6-.5-.6 .9-.5 1.5-.7-2-.6 .3-.6-.4-.6 .1-.6 1.2-.6-1.7-.6 1.2-.6 .4-.6-.3-.6-.1-.6-.9-.6 1.1-.6 .5-.6-.6-.6-.9-.6 .7-.6 .9-.6-.3-.6-.9-.6 .5-.6-.3-.5 2.2-.7-2.5-.6 1.1-.6-.8-.6-.4-.6-.1-.6 .3-.6 .8-.6 .1-.6-.4-.6 .2-.6-.8-.6 1.2-.6-1.2-.6 .1-.5 1.9-.7-1-.6 .1-.6-.8-.6 0-.6 .2-.6 1-.6-.5-.6-.2-.6 .6-.6 .3-.6 0-.6-.8-.6 .3-.6 .6-.6-.8-.5 1.6-.7-1.3-.6-.1-.6-.6-.6 .5-.6-.3-.6 .8-.6-.3-.6-.3-.6-.3-.6 .4-.6 0-.6 1-.6 0-.5 .2-.7-.4-.6-1.1-.6 .6-.6 .2-.5 1.8-.7-1.8-.5 1-.7-1.6-.6 1.2-.5 1-.7-1-.6-.4-.6-.6-.6 .5-.6 .5-.6 .2-.6-.3-.6-.9-.6 1.3-.6-1.2-.6 1-.5 .3-.7-.3-.6-.4-.6-.2-.6-.2-.6 .4-.5 .8-.6 0-.7-.9-.6 .6-.5 .8-.6 1.2-.7-1.7-.6-.6-.5 1.6-.6-.4-.7-1.3-.6 .2-.5 .9-.6 0-.6 1-.7-1.8-.5 .7-.6 .4-.7-.7-.5 .5-.7-.3-.6 .1-.6-.2-.6 0-.5 .6-.5 3.1-.8-3.7-.6-.1-.5 1.4-.7-1.7-.5 1.1-.6 .3-.7-1.4-.5 1-.7-.4-.5 .8-.7-1.1-.5 2-.7-1.9-.4 3.3-.8-3.3-.6 0-.5 1.2-.7-.5-.6-.3-.5 1.4-.6-.6-.6-.4-.7-.4-.6 .1-.6 0-.6 .1-.6 0-.6-.3-.5 .8-.7-.6-.5 .6-.7-.3-.6-.1-.5 1.4-.6 .2-.6-.7-.7-.5-.5 .7-.7-.6-.6 0-.4 2-.8-2.3-.5 1-.6 .8-.6-1-.6 .2-.5 1.8-.8-2.3-.5 .7-.5 1-.7-.5-.5 1.5-.6 .1-.8-2.6-.6-.1-.5 .9-.6-.3-.6 1.2-.6-1.3-.6 0-.6 0-.6 .8-.5 .7-.8-1.6-.5 1.4-.7-1.3-.5 .7-.5 1.2-.7-.4-.6-.3-.6-.8-.6 .5-.5 1-.8-1.8-.5 .5-.7-.2-.5 .7-.6-.4-.6-.1-.6 .8-.6-.4-.5 1.2-.7-.8-.5 1.3-.7-1.2-.5 .8-.7-.8-.6-.1-.6 .2-.6 .1-.6 .4-.6-1-.5 1.4-.7-1.1-.6-.3-.6 .2-.4 3.3-.8-3.3-.6 .3-.6 .9-.6-.5-.6-.5-.6 .2-.6-.1-.6 0-.5 1.2-.7-1.1-.6 .5-.5 1-.7-.5-.5 1.2-.7-1.9-.6 .5-.5 .8-.7-.7-.6-.4-.5 1.3-.7-.4-.6-.5-.6-.2-.6 .4-.5 1-.7-.5-.6-.4-.5 1-.6-.1-.7-.6-.6-.2-.4 2.2-.8-1.9-.5 .9-.6 0-.6-.1-.7-.7-.6-.1-.6 .5-.6-.4-.6-.1-.5 1.4-.7-.7-.5 1.2-.7-1.2-.4 2-.8-1.9-.6 .1-.6-.4-.5 1.4-.5 .6-.7-.7-.5 .9-.8-1.9-.4 2.3-.6-.3-.7-1.1-.7-.4-.6 .2-.6-.4-.6 .5-.4 1.8-.7-.8-.6-.6-.7-.6-.4 1.6-.8-1.1-.6-.2-.6 .2-.6-.1-.4 1.6-.7-.4-.6-.2-.6 .1-.6 .1-.5 .7-.7-.4-.6-.3-.7-.7-.5 1.1-.6-.6-.5 1.5-.8-1.6-.5 .3-.5 .9-.6 .8-.8-1.7-.5 .7-.6 .2-.6 0-.6-.2-.7-.3-.4 1.5-.5 .9-.9-2.3-.4 1.6-.7-.7-.6-.3-.6 0-.6 .3-.4 1.7-.7-1.2-.7-.4-.4 1.4-.9-1.8-.5 .2-.4 1.9-.8-1.2-.4 1.1-.6 .6-.8-1.4-.5 .2-.7-.7-.6 .2-.6 .2-.4 1.4-.8-1.1-.5 .6-.7-.3-.6-.2-.5 1.1-.7-.9-.4 1.7-.8-1.9-.4 2.1-.6-.3-.5 .6-.8-.9-.5 .6-.5 1.1-.9-2.1-.4 1.1-.8-1.5-.4 1.4-.7-.3-.5 .5-.6 .2-.8-1.1-.4 1.6-.5 .2-.8-1.2-.7-.2-.6 0-.5 .8-.6 0-.6-.2-.6 0-.4 1.6-.5 .5-1-2.4-.6 .3-.3 1.8-.8-1.1-.6-.2-.6 .2-.6 .2-.5 .5-.7-.4-.6-.1-.5 .9-.5 .9-.9-1.6-.4 .8-.8-.7-.4 1-.6-.1-.7-.3-.4 1.3-.8-1.3-.5 1-.3 1.4-.6 .2-.9-1.7-.7-.1-.5 .5-.6-.2-.7-.3-.2 2.7-.6-.2-.8-.9-.8-.9-.5 .7-.7-.7 0 3.1-1.2-2.8-.5 .7-.4 .8-.9-1.3-.6 .2-.6 .2-.3 1.3-.8-.8-.6 .3-.7-.4 0 2.7-1.1-2.4-.6 .6-.7-.5-.5 .4-.4 1.1-.6-.1-.9-.9-.3 1.4-.5 .4-.4 1-1-1.8-.7 0-.1 2-.7-.3-1-1.6-.5 .6-.7 0-.2 1.4-.5 .8-1.1-2-.1 2-.8-.8-.8-.3-.6-.1-.1 2-.8-.7-1-1.1-.1 2-.8-.7-.8-.7-.6 .2-.6 .4 0 2-.9-1-.7-.1-.7-.3-.3 1.2-.9-.7-.4 .8-.9-.7-.2 1.3-.8-.3-.3 1-1-1.1-.3 1-.8-.4-.6 .1-.4 .9-.3 1-.7-.3-.8-.2-.9-.5 0 1.8-.9-.7-.2 1.1z" fill="#111"/>
<path d="M81.5 160.5l.6-.2 .6-.3 .6-.2 .6-.3 .6-.2 .6-.2 .6-.2 .6-.3 .6-.2 .6-.2 .6-.2 .6-.2 .6-.2 .6-.2 .6-.2 .6-.2 .6-.2 .6-.2 .6-.2 .6-.2 .6-.1 .6-.2 .6-.2 .6-.2 .6-.2 .6-.1 .6-.2 .6-.2 .6-.1 .6-.2 .6-.2 .6-.1 .6-.2 .6-.1 .6-.2 .6-.1 .6-.2 .6-.1 .6-.2 .6-.1 .6-.2 .6-.1 .6-.2 .6-.1 .6-.1 .6-.2 .6-.1 .6-.1 .6-.2 .6-.1 .6-.1 .6-.2 .6-.1 .6-.1 .6-.2 .6-.1 .6-.1 .6-.1 .6-.1 .6-.2 .6-.1 .6-.1 .6-.1 .6-.1 .6-.2 .6-.1" fill="none" stroke="#111" stroke-width="2.6"/>
<path d="M81.1 158.6l.5-.4 .2-2.3 1.1 2.2 .6-.2 .6-.2 .6-.2 .6-.2 .5-.3 .6-.6 .6 .3 .6-.4 .8 .8 .5-.3 .7 0 .5-.2 .7 .2 .6-.2 .5-.7 .4-1.5 .7 .3 .5-.3 .8 1.1 .7 .2 .5-.7 .7 .9 .4-1.8 .6 .1 .9 1.6 .2-3 .9 2 .3-2.4 1 3 .3-2.5 .8 1.9 .5-1.5 .7 1.5 .6-.6 .4-1.8 .9 2.5 .6 0 .5-1.3 .5-.8 .5-.7 .8 1.5 .5-.8 .5-1.2 .9 2.5 .6 .1 .5-1.3 .6-.1 .7 1.3 .4-2.7 .8 2.4 .5-1.7 .6 .7 .7 1 .6-.8 .6 .5 .5-1.5 .7 1.2 .6 .3 .5-1.5 .7 .5 .5-.3 .7 1.1 .6-.8 .6 .6 .6 .1 .5-1.9 .8 2 .5-.2 .5-1.6 .6-.5 .7 .9 .5-1.4 .7 1.9 .6-.6 .6 .3 .6-.3 .7 .9 .6-.1 .5-.2 .6-.4 .7 .4 .5-1.6 .7 1.7 .5-1.6 .6 .2 .5-1 .7 1.9 .6-1.1 .6 .9 .7 .4 .6-.2 .5-.5 .7 .4 .6 .1 .5-.7 .6 0 .6-.2 .7 .4 .5-.9 .6 0 .7 1 .6-.3 .5-.5 .7 .9 .5-1.1 .5-2.1 .7 1 .6 1.2 .6-.2 .6 .2 .7 .4 .6-.2 .5-1.6 .6 1.3 .7 .1 .6 .3 .5-.7 .7 .5 .5-1 .7 1.5 .5-2.6 .7 2.4 .6 0 .6-.3 .6-.2 .6 0 .5-.8 .6-.4 .7 .7 .5-1 .7 1.9 .6-.9 .6 .9 .6-.2 .6-.5 .5-1 .7 1.3 .6-.5 .6 .1 .6-.4 .5-1.2 .7 1 .5-.3 .7 1.2 .6-.6 .6 .2 .6-.6 .6-.3 .5-.1 .7 1.2 .6-.6 .6-.6 .6 .5 .6 .4 .5-1.5 .7 1.7 .6-.8 .6-.5 .6 1.1 .6-.3 .6-.6 .6 .1 .5-1 .7 1.6 .6-.4 .6-.6 .6 .4 .6 .1 .6-.3 .6 .7 .6 .2 .6-.9 .6 .4 .6 .2 .6-.4 .6-.2 .6 .7 .5-1.7 .7 .3 .6 .8 .6 .1 .6 .2 .6-.9 .6 0 .6 .9 .6-.4 .6-.9 .6 1 .6 0 .6-.1 .6-.5 .6 .7 .6-.1 .5-3.6 .7 3.3 .6 .5 .6-.2 .6-.3 .6-.1 .6-.1 .6-.1 .6 .2 .6-1.2 .6 1.6 .6-.2 .6 .2 .6-.4 .6 .2 .6-.6 .5-2.3 .7 2.1 .6-.3 .6 .2 .6-.2 .6-.3 .6 .3 .6-.9 .6 .7 .6-.6 .6 .6 .6 .7 .6-.1 .6-.5 .6 .3 .6 .4 .6-.8 .6-.4 .5-1.1 .7 1.6 .6-.3 .6 1 .6-1 .6 .5 .6 .1 .6-1.6 .6 1.1 .6-.1 .6-.6 .6 .7 .6 .1 .6 .4 .6 .2 .6-.1 .6-1.1 .5-1.6 .7 1.9 .6 .4 .6 .5 .6-1 .6 .1 .6 .5 .6 .2 .6-2.1 .6 1.6 .6-1.1 .6 .6 .6-.5 .6-.3 .6-.5 .6 .6 .6 1.5 .6-.4 .6-1 .6 1.1 .6 0 .6-.1 .6-.4 .6 0 .6 .7 .6-1.7 .6 1.7 .6-.6 .6-1.1 .6 1.5 .6 .2 .6-.5 .6-.2 .6-1.6 .6 1.1 .6 .9 .6-.7 .6-1.5 .6 .7 .6 1 .6-.2 .6-1.2 .6 .5 .6-1.6 .6 .9 .6 1 .6 0 .6 .2 .6-.4 .6 .7 .6 .4 .6 0 .6-2 .6 .7 .6 .4 .6 .5 .6-.3 .6-1 .6 .4 .6 .7 .6 .3 .6 .1 .6-1.6 .6 1.1 .6 .3 .6-.4 .6 .4 .6-1.8 .6 .6 .6 .8 .6-.2 .6-.2 .6-.4 .6 .9 .6 .1 .6 .3 .6-1.6 .6-.6 .6 .7 .6 1.4 .6-.4 .6-.6 .6 .2 .6 .7 .6-.1 .6-1.2 .6-.1 .6 .8 .6 .1 .6-.5 .6 .4 .6-.2 .6-.2 .6-.9 .6 1.5 .6-.2 .6-.4 .6 .4 .6 .2 .6-1.1 .6 1 .6 0 .6-1.4 .6 1.1 .7 .5 .6-.1 .5-.3 .6 .1 .6-2.2 .6 1.1 .6-.2 .6 1.3 .6-2.1 .6 .8 .6 1.1 .6-1.4 .6 .7 .6 .6 .6-.1 .6-.4 .6-2.4 .6 1.3 .6 .5 .6-.2 .7 1.6 .5-.3 .6-1.6 .6 1.3 .7 .5 .6 .1 .5-.8 .6 .4 .6-.9 .6 .5 .7 .7 .5-1.5 .6 .8 .6-1.4 .6 1.2 .6-.1 .6 .1 .6-1.4 .6 1.2 .6-1 .6 1 .6 .4 .7 .2 .5-.2 .6-.7 .7 1 .6 .1 .5-.9 .7 .6 .5-1.4 .7 1.5 .5-1.4 .7 1.4 .5-1.3 .7 1.2 .5-.4 .6-.4 .7 .7 .5-1.3 .6 1 .7 .1 .5-.6 .6-.6 .6-.1 .6 1.2 .6-.3 .6 0 .6-.2 .6 .3 .6-.2 .6-.1 .6 0 .6 .3 .7 .4 .6 .1 .5-1.5 .7 1.5 .6 0 .5-.8 .7 .4 .6-.1 .6 .5 .5-1.6 .7 1.2 .5-.5 .6-.7 .6 .8 .7 .4 .6-.1 .5-.8 .6-.1 .7 1 .6-.4 .5-.9 .6 .4 .7 1.1 .6 0 .6 0 .5-.8 .6-.9 .6 .5 .6 .2 .6-1 .6-.1 .7 1.9 .6 .1 .6-.7 .6 .7 .5-2 .7 1.9 .6 .1 .5-1 .6 .1 .7 .7 .6-.6 .6 .7 .5-2.4 .6 1.2 .7 1.1 .6-.1 .6 0 .6 .1 .6-.8 .6-.1 .6 .6 .6 .2 .6-.1 .6 0 .5-.9 .6-.7 .7 1.9 .5-3.1 .7 3 .6-1.1 .6 .8 .6 .3 .5-1.3 .7 .7 .6-.3 .5-.4 .7 .6 .5-.7 .7 .8 0 5-.6 .5-.6-.2-.6-.5-.6-.1-.6-.2-.6 1.1-.5 .3-.6 1.1-.7-1.8-.6 .3-.6-.2-.6-.2-.6 0-.6-.1-.6 0-.6 .2-.5 .7-.7-1-.5 .9-.7-.5-.5 1.3-.6-.6-.7-1.4-.6 .6-.6-.2-.6-.3-.6 .5-.6-.3-.5 1.6-.7-1.3-.6-.2-.5 1.1-.7-.9-.5 1.2-.7-1.6-.6 .1-.6 .1-.5 .7-.6 1.4-.7-1.7-.5 .7-.7-.8-.5 1.1-.6 1-.6-1.5-.7-.4-.5 1.4-.7-2-.6 .3-.5 .6-.7-.5-.5 1.1-.6-.1-.6 .3-.7-1.6-.6 .7-.5 1.2-.7-1.3-.5 3.3-.6-1.5-.6-.8-.7-1.2-.5 .8-.7-1-.6 .4-.5 1.4-.7-1.4-.5 .4-.6 .7-.6-.4-.6-.3-.7-.7-.6 0-.6 0-.5 1.9-.7-1.6-.6 0-.5 .7-.6-.4-.7-.3-.5 .8-.6 .2-.7-1.2-.5 1.8-.6-.6-.7-1.2-.5 .7-.6 1.5-.6-1.2-.6 .4-.7-1-.5 .2-.6 1.5-.6 .1-.6-1.4-.7-.7-.5 .6-.6 1.8-.6-1.9-.6 .1-.6 .3-.6-.2-.6 .2-.6 .7-.6-1.1-.7-.1-.5 1.7-.7-1.8-.6 0-.5 .3-.6 .2-.6 .6-.6 .2-.6-.9-.6 1.2-.6-.8-.6 .8-.7-1.4-.5 .1-.7-.3-.5 .9-.6 .2-.6 .6-.6-1-.7-.5-.5 .3-.6 .9-.6-.4-.6 2-.6-1.9-.6 1-.6-1.6-.6 .9-.6-.4-.6 .2-.6 .4-.6-.1-.6-.8-.6 2-.6-1.2-.6-.2-.6 .7-.6-1.1-.7-.5-.5 1.4-.7-1.4-.5 .7-.6 .8-.6-.5-.7-.9-.5 2.3-.6-1.4-.6-.6-.7-.3-.5 1.5-.6-.6-.6 0-.6-.2-.6 1.6-.6-1.8-.6 .9-.6-.1-.6-.4-.6 .4-.6-1.1-.6 1.8-.6-.2-.6-1.3-.6-.2-.6 0-.6 1.5-.6-.4-.6 .8-.6-1.1-.6-.5-.6-.3-.6 1.5-.6-.3-.6-.6-.6-.2-.6 .5-.6 .7-.6-.8-.6-.2-.6 .3-.6 .7-.6 .4-.6-1.5-.6 .3-.6-.2-.6 .6-.6-.9-.6 .1-.6 2.3-.6-1.3-.6-.1-.6 .9-.6-1.3-.6 .2-.6-.3-.6 1.2-.6-1.5-.6 1.5-.6-1-.6 .1-.6-.4-.6 .5-.6 .4-.6-.7-.6-.3-.6 .1-.6 .3-.6 .7-.6-.2-.6-.3-.6 .6-.6 .3-.6-1.1-.6 .2-.6 .7-.6-.6-.6-.2-.6 1-.6-.2-.6 .1-.6-1.1-.6 .3-.6 .4-.6 .8-.6 1.1-.6-1.4-.6-.7-.6 .5-.6-.1-.6-.3-.6 .4-.6-.5-.6 .3-.6 1.5-.6-1.6-.6 .7-.6-.9-.6 .3-.6 1.1-.6-1.3-.6 .8-.6-.9-.6 .1-.6 .2-.6 .4-.6-.5-.6 .9-.6-1-.6 .2-.6 .6-.6-.3-.6 .7-.6-.5-.6 0-.6 1.3-.6 .2-.6-.6-.6 0-.6-.8-.6 .9-.6-1-.6 1.1-.6-1.2-.6 1.8-.6-1.8-.6 .3-.6 .3-.6-.4-.6 .9-.6 0-.6 .1-.6 .4-.6-1.5-.6-.1-.6 1.9-.6-1.2-.6-.6-.6-.1-.6 .4-.6-.3-.6 .3-.6 .3-.6-.6-.6 .5-.6 .5-.5 1.5-.7-2.2-.6 .4-.6 .1-.6 .3-.6-.8-.6 .6-.6-.2-.6-.4-.6 .3-.6 .1-.5 1.7-.6-.2-.7-.7-.6-.3-.5 1.4-.7-2-.6 .2-.6 .5-.6 .9-.6-1.4-.6-.1-.6 .1-.6 0-.6 .3-.6-.5-.6 .3-.6 1.2-.6-.8-.6 .3-.5 1.8-.7-2.1-.6 0-.6-.1-.6 1.2-.5 1.8-.7-1.8-.6-1.4-.5 2.7-.7-1.4-.6 .1-.6-1-.6 .2-.5 2.3-.7-1.6-.6 .1-.6-1-.6 .1-.6 1-.5 1.2-.7-1.9-.6 .1-.6-.5-.6 .6-.5 .8-.7-1-.6-.2-.6 .2-.6 .1-.6-.3-.6 .8-.5 2.1-.7-2.1-.6-.3-.6-.4-.6 .2-.6 0-.5 1-.7-1-.5 2.8-.7-2.5-.6 .5-.6-.4-.5 1.1-.6-.3-.7-1-.5 1.2-.7-.5-.6-.3-.5 .7-.7-.1-.6-.1-.5 .7-.7-1-.6-.1-.6 .4-.5 1.6-.6-.5-.7-1-.6-.4-.4 2.9-.7-1.8-.6-.2-.5 1.6-.8-2-.5 1.6-.6-.7-.6-.6-.6 .5-.7-.6-.5 1.5-.6-.9-.5 1.5-.8-2.2-.5 1.4-.6-.8-.6 0-.5 2.9-.8-3.5-.5 1.6-.5 .8-.7-.9-.6 0-.7-1.1-.5 .3-.6-.2-.5 1.9-.8-2.2-.5 .7-.6 0-.7-.6-.5 1.4-.6-.3-.6-.1-.6-.1-.6-.2-.6 .8-.6-.2-.6-.7-.6 .1-.6 .5-.7-.7-.5 .7-.6 .4-.6-.3-.6 .6-.6-.3-.5 .9-.7-1.2-.5 1-.7-1.3-.5 1.5-.7-.8-.4 2.1-.8-2.1-.4 1.8-.7-1.1-.6-.2-.6 .2-.6 .3-.6-.5-.7-.2-.6 .1-.4 1.9-.6 0-.8-2.1-.6 .4-.4 1.7-.7-1.3-.7-.5-.6-.1-.4 1.7-.7-1-.6 .6-.6-.8-.7-.3-.5 1.1-.6-.6-.6 .6-.7-.9-.3 2.4-.8-1.3-.6-.6-.4 1.8-.8-1.1-.5 .1-.4 1.8-.9-2.1-.5 1-.6-.3-.7-.4-.5 .4-.7-.4-.6 .1-.5 .6-.6 .2-.6-.3-.7-.1-.4 .9-.5 .8-.8-1.1-.5 .8-.5 .3-.6 0-.8-.8-.3 1.5-.7-.4-.7-.5-.7-.6-.5 .6-.6 0-.6 .2-.4 1-.5 .5z" fill="#111"/>
<path d="M81.5 160.5l.6-.1 .6-.2 .6-.1 .6-.1 .6-.1 .6-.1 .6-.2 .6-.1 .6-.1 .6-.1 .6-.1 .6-.1 .6-.1 .6-.1 .6-.1 .6-.1 .6-.1 .6-.1 .6-.1 .6-.1 .6-.1 .6 0 .6-.1 .6-.1 .6-.1 .6-.1 .6-.1 .6 0 .6-.1 .6-.1 .6-.1 .6 0 .6-.1 .6-.1 .6 0 .6-.1 .6-.1 .6 0 .6-.1 .6-.1 .6 0 .6-.1 .6-.1 .6 0 .6-.1 .6 0 .6-.1 .6-.1 .6 0 .6-.1 .6 0 .6-.1 .6 0 .6-.1 .6-.1 .6 0 .6-.1 .6 0 .6-.1 .6 0 .6-.1 .6 0 .6-.1 .6 0 .6-.1 .6 0" fill="none" stroke="#111" stroke-width="2.6"/>
<path d="M81.4 158.4l.6-.2 .5-.9 .7 .7 .6-.5 .5-.4 .6-1.6 .7 2.4 .5-1.3 .6-.1 .7 .5 .6 .8 .5-1.4 .6-1 .7 2.3 .6-.6 .6 .3 .6 .4 .6-1.1 .6-.2 .6 .7 .6-.2 .6-1 .6 1.4 .6-.4 .6-.1 .6-.2 .6 .7 .6 .3 .6 .1 .6-.6 .6-1 .6 1 .6-.5 .6 .4 .6-.3 .6 .2 .6 .2 .6-.2 .6-.5 .6 .2 .6 .4 .6 .2 .6-1.8 .6 1.3 .6-.9 .6 1.4 .6-1 .6-.7 .6 1.4 .6 0 .6-1 .6 1.1 .6 .4 .6-.1 .6-.7 .6 0 .6-.1 .6-.8 .6 .8 .6 .2 .6-.3 .6 .2 .6-.4 .6 .3 .6-.1 .6 .3 .6-1.2 .6-.1 .6 .3 .6 .5 .6-1.1 .6 .2 .6 1.1 .6 .3 .6-.6 .7 .9 .5-1.7 .7 1.7 .5-.4 .7 .1 .5-.4 .6 .2 .6-.6 .6 .3 .7 .7 .5-1 .6-.1 .6-1.5 .6 1.6 .6-1.9 .6 2.3 .6-.2 .6-.6 .6 .7 .7 .1 .5-1.2 .7 1.4 .5-1.5 .6 1.1 .6-2 .6 1.6 .7 .7 .6 0 .6-.3 .6 .4 .5-.8 .7 .7 .6-.2 .5-.5 .7 .6 .5-1.5 .6 .2 .7 1.5 .5-1.5 .7 1.1 .6 .4 .6-.1 .5-1.1 .6 .2 .6-.2 .7 .6 .5-.6 .6 .1 .7 .2 .6 .6 .6-.7 .6 .3 .6 .5 .6-.7 .6 0 .6 .3 .6-.4 .6 0 .5-2.7 .7 3.3 .6-.2 .5-2.1 .6 1.3 .7 .8 .6-.4 .6 .7 .5-1.3 .6-.4 .6 .5 .7 .8 .5-.7 .6-2 .7 3 .5-2.1 .6 .8 .6-.1 .6 0 .7 1.3 .5-2 .7 1.8 .6-.7 .6-.1 .5-1 .7 2 .6 0 .6-.2 .6-.1 .6 0 .5-2.2 .7 1.3 .5-.9 .7 1.8 .5-1.9 .7 1.6 .6-.7 .6 1.2 .5-2.6 .7 2.6 .6-.9 .6 .8 .6 0 .6-.4 .6-.3 .6 .4 .5-1.2 .7 1.1 .5-1.3 .7 1.5 .6-.5 .5-2.9 .7 2.7 .6 .2 .6 .1 .5-1 .7 1.2 .6-.9 .6 .1 .6 1.1 .5-1.9 .7 1.6 .6-.6 .6 .6 .5-2.5 .7 2.3 .5-2.2 .7 2.2 .6-.1 .6-.1 .6 .3 .6-1.3 .5-.3 .6-.1 .7 1.5 .6 0 .6-.2 .6-.7 .6 .2 .6 .5 .6-.1 .6 .3 .6-1 .6 1.4 .6-.5 .6-.8 .5-1.6 .7 2.5 .6-.3 .6 .5 .6-1.3 .6 .5 .6-.3 .6 .2 .6-.2 .6-.4 .6 1.5 .6-.6 .6 .3 .6-.9 .5-1.6 .7 2.5 .6-1.1 .6-.3 .6 1.4 .6 .3 .6-1 .6 .8 .6 0 .6-1.3 .6 .8 .6-.1 .6 .3 .6 0 .6-.6 .6 .5 .6 .2 .6 .3 .6-.4 .6-.4 .6 .3 .6 0 .6 .5 .6-.7 .6 .6 .6-.2 .6-.2 .6-.5 .6-1.1 .6 1.9 .6-1 .5-2.3 .7 3.4 .6-.1 .6 .1 .6-.7 .5-2.5 .7 2.6 .6 .7 .6-.3 .6-1.2 .5-1.2 .7 1.7 .6 .3 .6-.2 .6-1 .6 1 .6 .4 .6-.3 .6 .6 .6-1.5 .6-.3 .6 .2 .6-.9 .6 2.2 .6-.7 .6-.1 .6 .9 .6-.2 .6 .4 .6-.6 .6 .4 .6 0 .6 .1 .6-2 .6 1.2 .6-.6 .6 1.3 .6 0 .6-.4 .6-.4 .6 .9 .6-1.1 .6 .8 .6-.2 .6-2.4 .6 1 .6 .2 .6 .6 .6 .2 .6-.9 .6 1.8 .6-1.1 .6 .6 .6-1.3 .6 1.8 .6-.2 .6 .2 .6-.9 .6 .1 .6 .1 .6-.3 .6 .6 .6-.9 .6 .1 .6-1.3 .6 .6 .6 1.3 .6 0 .6 .4 .6-.1 .6-.6 .6-1.2 .6 .6 .6 .1 .6 .5 .6-.2 .6 0 .6 .4 .6-.2 .6 .5 .6-.4 .6 .4 .6-.4 .6-.2 .6 .8 .6-.4 .6 .2 .6 .2 .6-.8 .6 .4 .6-.3 .6 .2 .6-.6 .6 .7 .6-1.3 .6-.3 .6 1 .6 .7 .6-.8 .6-.9 .6 1.1 .6-.1 .6-.1 .6-1.7 .6 2.4 .6-1 .6 .7 .6-.4 .6 .9 .6 .1 .6-.1 .6-.1 .6-2.5 .6 2.1 .6-.7 .6-.5 .6 1 .6 0 .6 .1 .6 .6 .6-.5 .6-.3 .6 .6 .6 0 .6 .2 .6-1.7 .6 1.1 .6 .4 .6-.2 .6 0 .6 .4 .6-1.2 .6 .8 .6-.4 .6 .7 .6 0 .6-.3 .6 .1 .6-1.5 .6 .6 .6-1.2 .6 2.1 .6-.4 .6-.4 .6-.2 .6 .6 .6 .5 .6-1 .6 .7 .6-.3 .6 .7 .6-1.4 .6-.6 .6 1.1 .6-.4 .6-2.2 .6 1.8 .6 1 .6-.5 .6-.1 .6-1.3 .6 1.6 .6-.1 .6-.2 .6 .2 .6-.8 .6 .9 .6 .8 .6-1.4 .6 1.2 .6-.3 .6-1.9 .6 1.7 .6 .3 .6-1.4 .6 1.6 .6-.7 .6-.1 .6 1 .6-1.8 .6 1.4 .6 .4 .6-.9 .6-.6 .6 1.2 .6-.2 .6 .5 .6 0 .6-.3 .6-.9 .6 .8 .6-.3 .6-.3 .6 .8 .6 0 .6-.8 .6 .3 .6-.8 .6 1.3 .6-.4 .6 .2 .6 .3 .6-.6 .6 .4 .6 0 .6-.4 .6 .3 .6-.4 .6-.6 .6 1 .6-1.5 .6 1.4 .6-.4 .6-.7 .6-.6 .6 1.8 .6 .2 .6-.5 .6-.1 .6 .1 .6 .6 .6-.2 .6-1.3 .6 1.2 .6-.1 .6-.5 .6-1.3 .6 0 .6-.2 .6 1.2 0 5.4-.6-.3-.6 1.2-.6 .2-.6-.2-.6-1-.6 1.2-.6-1.1-.6-.1-.6 .5-.6 .7-.6 0-.6-.2-.6-.9-.6 .8-.6-.5-.6 0-.6-.1-.6 .3-.6-.4-.6-.3-.6 .3-.6-.3-.6 .2-.6 .6-.6-.7-.6 .6-.6 .2-.6 .5-.6 1.1-.6-2-.6 .9-.6 1.2-.6-2.5-.6 .8-.6 .4-.6 .3-.6-1.3-.6 1.1-.6 .7-.6-.9-.6 1.7-.6-2.5-.6 .3-.6-.5-.6 .8-.6 .2-.6 .7-.6-1-.6 .2-.6-.2-.6-.6-.6 .5-.6 .1-.6 .5-.6 1-.6-1.2-.6-.7-.6 .2-.6-.5-.6 .3-.6-.2-.6 3.1-.6-2.2-.6 .4-.6-1.4-.6 .5-.6 .2-.6 .5-.6-.9-.6 .5-.6 0-.6-.9-.6 .6-.6 .5-.6-.8-.6 .7-.6 .6-.6-.6-.6-.1-.6-.8-.6 .5-.6-.2-.6 1.6-.6-1.2-.6 .8-.6-1.5-.6 .1-.6 2-.6-1.8-.6 .8-.6 .6-.6-1.6-.6 .1-.6 .4-.6 .1-.6 .4-.6-.8-.6 1.9-.6-1.4-.6 .9-.6-1.2-.6 1.6-.6-1.4-.6 1.1-.6-1-.6-.1-.6 1.9-.6 .3-.6-1.6-.6-.2-.6-.7-.6 0-.6 .8-.6 .9-.6-1.4-.6-.4-.6 .8-.6 1.2-.6-.8-.6-1.3-.6 .6-.6 .1-.6 1.5-.6-1.2-.6 .1-.6-.1-.6 .9-.6-1.4-.6-.1-.6 .1-.6-.4-.6 .2-.6 .3-.6 1-.6-1.4-.6 1.3-.6-1.2-.6 1.1-.6-1.2-.6 .9-.6-.7-.6 .6-.6-.3-.6 0-.6 .2-.6-.8-.6 0-.6 .6-.6-.4-.6 .4-.6 .7-.6-.7-.6 .5-.6-.5-.6 .1-.6-.4-.6 1.1-.6-.4-.6-.4-.6-.1-.6 2.7-.6-2.6-.6-.5-.6 .1-.6 .5-.6 .2-.6 1-.6 .1-.6-1.6-.6 1.4-.6-1.2-.6 .1-.6 .9-.6 0-.6-1.2-.6 1.5-.6 0-.6-1.5-.6 1.3-.6-1.2-.6 .1-.6 0-.6 .3-.6-.1-.6-.1-.6 .7-.6 .8-.6-1.6-.6 .1-.6-.5-.6 .8-.6-.7-.6 .3-.6-.2-.6 .7-.6 1.5-.6-1.8-.6-.3-.6 1-.6-.8-.6 .1-.6 .7-.6 .4-.6-.1-.6-.9-.6 .2-.6-.7-.6 1.6-.6-1-.6-.4-.6 .3-.6 .3-.6 .5-.6-.1-.6-1.2-.6 .3-.6 0-.6 1.7-.6-1.9-.6 .7-.6-.1-.6-.4-.6 .4-.6-.3-.6-.3-.6 .1-.6 1-.6-.9-.6-.2-.6 1.4-.6-1.2-.6 .9-.6 .1-.6 .4-.6-.4-.6-.6-.6-.6-.6 1.8-.6-.8-.6 .8-.6-1.5-.6 1.1-.6-.3-.6-.8-.6 0-.6 .9-.6-.3-.6 1.2-.6-1.2-.6 .1-.6 .2-.6-.3-.6 1.1-.6-1.5-.6-.1-.5 2.5-.7-1.5-.6-.1-.6-.2-.6 .3-.5 1.2-.7-.8-.5 1.7-.6-1-.7-1.2-.6-.9-.6 1.1-.6-1.1-.6 1.1-.6 .5-.6-.8-.6 0-.6 0-.5 1.5-.7-1.8-.6 1.2-.6-.6-.6-.7-.6-.4-.5 2-.7-2.1-.6 .9-.5 1.9-.7-2-.6 .5-.6-.1-.6-.7-.6 .4-.6-.5-.6 .4-.6-.6-.6 .1-.6 0-.6-.1-.6 .5-.5 2.5-.7-2.6-.5 1.4-.7-1.1-.6 .2-.6-.4-.6-.5-.6 .9-.5 1.3-.6-.3-.7-1.1-.6-.2-.5 2.4-.7-1.7-.6-.4-.6-.7-.6 .8-.6-.7-.6 1-.5 2.5-.7-3.5-.5 1.8-.7-1.8-.6 .8-.6 .2-.5 .6-.7-1-.6 .6-.6-1.1-.5 1.7-.7-1.6-.6-.3-.5 3-.7-2.4-.6-.4-.6 .1-.6 1.1-.6-.8-.6 0-.6 .1-.5 1.3-.6-.3-.6 1.4-.6-.8-.7-1.2-.6-.1-.6 .3-.5 .9-.6-.7-.6 .9-.6-.7-.7-1.2-.6-.1-.5 2.4-.7-2.5-.6 .3-.5 3.2-.6-2.3-.7-.2-.6-.8-.6 .4-.6 .1-.5 1-.7-1.2-.6 .1-.6 .3-.6 .1-.6-.2-.6 .2-.5 .4-.7-.4-.5 .1-.7-.8-.6 .4-.5 1.1-.7-1.2-.6 .1-.6-.4-.6 .2-.6 .3-.5 1-.6-.7-.7-.5-.5 .8-.6-.3-.7-.6-.5 1.8-.7-2-.6 .6-.6 .1-.5 .4-.6 1.4-.7-2.2-.5 1.6-.6-1.1-.6 1.5-.6-.9-.7-1.2-.5 3.1-.6-1-.6-.9-.7-1-.5 .8-.7-.7-.5 1.2-.6 .2-.6-1-.6 .8-.6-.8-.6 .9-.7-1.3-.5 .4-.6 .3-.7-.8-.5 2.5-.6-1.5-.6-.2-.6 .5-.6-.8-.6 1-.7-1.2-.5 2.1-.7-2.1-.5 .3-.6 .8-.6-.5-.6 1.8-.6-1.5-.6-.8-.6 .2-.6 0-.6 2.6-.6-.8-.6-1.9-.6 1.4-.6-.6-.6 1-.6-1.8-.6 0-.6 1.3-.6-1-.6-.4-.6 1-.6 0-.6 1.4-.6-1.5-.6 2-.6-2.5-.6 0-.6-.3-.6 1.4-.6-.2-.6 .2-.6-.4-.6-.4-.6-.2-.6 .6-.6-.7-.6 .8-.6 .5-.6-.9-.6-.3-.6 .2-.6 2-.6-1.9-.6-.4-.6 .1-.6 .3-.6-.4-.6 .3-.6-.3-.6 .6-.6-.2-.6-.2-.6 1.6-.6-1-.6 .4-.6-.4-.6 .3-.6-.4-.6-.3-.6 .8-.6-.8-.6 .2-.6 .9-.6 .4-.6-.5-.6-.2-.6-.3-.6-.3-.6-.1-.6 1.1-.6-.7-.6 .7-.5 .5-.7-.8-.6-.5-.6 .8-.6-.2z" fill="#111"/>
<path d="M81.5 160.5l.6 0 .6-.1 .6 0 .6 0 .6 0 .6-.1 .6 0 .6 0 .6-.1 .6 0 .6 0 .6 0 .6-.1 .6 0 .6 0 .6 0 .6 0 .6-.1 .6 0 .6 0 .6 0 .6-.1 .6 0 .6 0 .6 0 .6 0 .6-.1 .6 0 .6 0 .6 0 .6 0 .6-.1 .6 0 .6 0 .6 0 .6 0 .6-.1 .6 0 .6 0 .6 0 .6 0 .6-.1 .6 0 .6 0 .6 0 .6 0 .6 0 .6-.1 .6 0 .6 0 .6 0 .6 0 .6 0 .6 0 .6-.1 .6 0 .6 0 .6 0 .6 0 .6 0 .6-.1 .6 0 .6 0 .6 0 .6 0 .6 0" fill="none" stroke="#111" stroke-width="2.6"/>
<path d="M379.2 132.5l.5 .6 .6 .2 .5 .5 .7-.1 .7-.1 .1 1.6 .6 .3 .9-.6 .2 1.1 .6 .2 .6 .4 .8-.4 .5 .5 1.1-1.2 .2 1.2 .4 .8 .7 0 .7-.2 .8-.5 .1 1.7 1.2-1.4 .1 1.5 .9-.6 .7-.1 .6 .2 .4 .6 .6 .1-1.4 4.6-.8 .2-.6 0-.3-1.2-.8 .2-.9 1-.4-.9-.5-.5-.4-.8-1 .8-.4-.8-.5-.5-.7 0-.6-.1-.9 .5-.9 .5 .1-2-1.3 1.5 0-1.8-.5-.4-.8 .2-.9 .4-.1-1.4-1.2 1.2-.5-.6-.3-1-.5-.5-.7-.1z" fill="#111"/>
<path d="M378.5 138.5l.7 0 .7-.1 .5 .4 .8-.4 .4 .8 .8-.4 .5 .4 .6 .1 .4 .9 1.2-1.7 0 2.1 .6 .1 .8-.7 .4 1 .8-.6 .4 .8 .7-.2 .9-.7 .2 1.3 1-1 .2 1.4 1.3-2.4 0 2.2 .6 .3 .6 .2 .6 .2 .6 .1-1 3.8-.7 .1-.6-.1-.9 .8-.5-.3-.5-.6-.5-.5-.6-.4-.7 .3-.6-.4-.9 1-.7 .2-.4-.9-.3-1.2-.6-.2-1.4 2.4 0-2.2-.6-.1-1.5 2.5 .4-3.5-.6 0-.5-.6-1 1.1-.2-1.4-.9 .7-.4-.9-.8 .3-.4-.6z" fill="#111"/>
<path d="M378.5 143.1l.5 .4 .6 .1 .8-.5 .5 .4 .7-.3 .7 0 .5 .4 .6 .3 .7-.4 .8-1 .2 2.1 .5 .4 .8-.9 .4 1.4 .6-.3 .8-.6 .7-.2 .3 1.2 .6 .3 .7-.6 .5 .6 .7-.3 .5 .6 .7-.2 .5 .5 .8-1.2 .4 1.4-.8 4.1-.8 .6-.3-1.3-1 1.6-.4-1.3-.8 1.2-.4-1.2-.7 .3-.4-1.3-.7 .7-.4-1.1-.7 .3-1 1.5-.4-.9-.4-1.4-.9 1.2-.4-1-.7 .3-.8 .7-.2-1.9-.6 .1-1.2 2 0-2.4-.8 .7-.5-.7-.7 .2-1.1 1.7-.4-1.1z" fill="#111"/>
<path d="M378.4 147.5l.5 .8 .7-.7 .5 .9 .6 0 .7-.4 .5 .5 .8-1.2 .5 .8 .5 1.1 .6-.3 .6 .2 .8-1.2 .4 1.2 .6 .5 .7-.9 .7-.7 .5 .7 .5 1.2 .6-.5 .7-.1 .5 .7 .7-.7 .5 .4 .7-.4 .6 .1 .8-1.9 .2 3.1-.6 4.5-.5-.7-.8 1.2-.4-1.3-.7 .9-.5-1.1-.6 .2-.6-.4-.6-.4-.7 1-.6-.1-.4-1.3-.8 .6-.5-.3-.8 1-.7 .6-.4-1.5-.5-.9-.7 .7-.6-.1-.6-.2-.7 .5-.5-.4-.7-.1-.5-.3-.6-.5-.6 .1-.7 .6z" fill="#111"/>
<path d="M378.2 153.3l.6-.8 .6 .4 .6 .1 .6-.5 .6 .8 .6 .2 .6-1 .5 1.2 .7-.8 .5 1 .7-1 .6 .3 .6 .5 .6-.2 .6-.4 .6 .4 .6-.7 .6 .9 .5 .3 .7-.7 .6-.1 .6 .2 .5 1.1 .7-.7 .5 .7 .6 .1 .6-.1-.2 3.8-.7 .4-.6 .6-.6-.4-.5-1.1-.7 .7-.5-.6-.7 .3-.5-.4-.6-.1-.7 .2-.6 0-.5-.3-.6-.2-.7 .6-.7 .9-.4-1.6-.6-.1-.8 1.3-.5-.3-.6-.3-.5-.9-.7 1-.6-.8-.7 1.6-.5-1.8-.7 1.4-.5-.7z" fill="#111"/>
<line x1="378.00" y1="69.00" x2="378.00" y2="160.00" stroke="#111" stroke-width="1.6" />
<line x1="357.30" y1="118.70" x2="372.00" y2="118.70" stroke="#111" stroke-width="1.8" />
<line x1="357.30" y1="118.70" x2="357.30" y2="124.90" stroke="#111" stroke-width="1.8" />
<line x1="390.10" y1="118.70" x2="410.70" y2="118.70" stroke="#111" stroke-width="1.8" />
<line x1="416.10" y1="130.60" x2="416.10" y2="150.40" stroke="#111" stroke-width="1.8" />
<line x1="416.10" y1="168.60" x2="416.10" y2="179.60" stroke="#111" stroke-width="1.8" />
<line x1="358.60" y1="179.60" x2="379.00" y2="179.60" stroke="#111" stroke-width="1.8" />
<line x1="396.60" y1="179.60" x2="416.10" y2="179.60" stroke="#111" stroke-width="1.8" />
<line x1="415.00" y1="118.70" x2="458.60" y2="4.20" stroke="#111" stroke-width="2.2" stroke-dasharray="29 26"/>
<line x1="416.10" y1="179.60" x2="459.00" y2="312.50" stroke="#111" stroke-width="2.2" stroke-dasharray="29.5 26"/>
<line x1="257.10" y1="193.50" x2="257.10" y2="227.30" stroke="#333" stroke-width="1.6" />
<line x1="256.30" y1="226.60" x2="332.50" y2="226.60" stroke="#333" stroke-width="1.6" />
<g transform="translate(206.40,217.80) scale(0.8943,1)"><text font-size="16.71" fill="#111" stroke="#111" stroke-width="0.39">0.5 µA</text></g>
<g transform="translate(270.14,243.70) scale(0.9669,1)"><text font-size="17.39" fill="#111" stroke="#111" stroke-width="0.36">1 s</text><rect x="0.87" y="-2.26" width="3.39" height="3.30" fill="#fff"/><rect x="6.00" y="-2.26" width="3.13" height="3.30" fill="#fff"/></g>
<g transform="translate(10.06,302.00) scale(0.9494,1)"><text font-size="19.57" fill="#111" stroke="#111" stroke-width="0.37">-90 mV</text></g>
<line x1="70.70" y1="297.50" x2="81.50" y2="297.50" stroke="#4a4a4a" stroke-width="1.5" />
<line x1="81.50" y1="272.50" x2="81.50" y2="297.50" stroke="#4a4a4a" stroke-width="1.5" />
<line x1="81.50" y1="272.50" x2="378.50" y2="272.50" stroke="#4a4a4a" stroke-width="1.5" />
<line x1="81.50" y1="276.50" x2="378.50" y2="276.50" stroke="#4a4a4a" stroke-width="1.5" />
<line x1="81.50" y1="280.50" x2="378.50" y2="280.50" stroke="#4a4a4a" stroke-width="1.5" />
<line x1="81.50" y1="284.50" x2="378.50" y2="284.50" stroke="#4a4a4a" stroke-width="1.5" />
<line x1="81.50" y1="288.50" x2="378.50" y2="288.50" stroke="#4a4a4a" stroke-width="1.5" />
<line x1="81.50" y1="292.50" x2="378.50" y2="292.50" stroke="#4a4a4a" stroke-width="1.5" />
<line x1="81.50" y1="296.50" x2="378.50" y2="296.50" stroke="#4a4a4a" stroke-width="1.5" />
<line x1="378.50" y1="272.50" x2="378.50" y2="296.50" stroke="#4a4a4a" stroke-width="1.5" />
<line x1="378.50" y1="292.50" x2="391.30" y2="292.50" stroke="#4a4a4a" stroke-width="1.5" />
<rect x="459" y="4" width="311" height="309" fill="none" stroke="#111" stroke-width="2.1"/>
<g transform="translate(464.85,155.30) scale(0.7762,1)"><text font-size="27.43" fill="#111" stroke="#111" stroke-width="0.45">0.5 µA</text></g>
<line x1="533.60" y1="53.00" x2="533.60" y2="236.30" stroke="#111" stroke-width="3.5" />
<path d="M576.8,28.2 L632.1,28.2 L632.1,219.0" fill="none" stroke="#111" stroke-width="2.2" />
<path d="M577 148.4l.2-1.9 .7 2 .3-.5 .4-.1 .3-.9 .3-.6-.2-2.6 .7 1.3 .3-.7 .2-1 1.2 3.1 .6 .7 .5-.3 .6 .6 .3-.9-.3-3.4 1.4 4 .2-1.3 .2-1.3 .5-.4 .4-.7 1.1 3.2 .3-1.3 .6 .8-.2-5.7 1.2 5.5 .5-.7 .3-3.1 .8 3.2 .4-2.4 .6 .8 .6-.8 .5 1 .5 2.3 .8-4.4 .2 4.5 .5-.1 .5 .1 .8-2 .3 1.6 .9-2.7 .3 1.6 .6-.7 0 2.7 .5 .2 .7-1.3 .8-1.2 0 2.4 .9-2 .2 1.1 .2 1.1 .5 .2 .6-.6 .7-1.2 .4 0 0 2.1 .7-1.6 .3 .6 .2 1.2 .7-1.3 .1 2 .6-1.9 .2 1.5 .5-.4 .7-4.8 .1 4.6 .3 .5 .4 0 .4-.1 .4-4.5 .3 1.5 .5 3.2 .4-.1 .3-1.1 .4 .3 .5 .8 .1-3.5 .7 3.4 .4-.1 .3-1.2 .5 .3 .5 1 .5 .1 .4-.4 .5 .3 0-2.8 .6 .7 .7 1.6 .1-2.4 .7 1.5 .4-1 .7 2 .3-1.7 .4-.5 .3-1.8 .9 3.9 .4-.8 .2-4.9 .8 5 .5 .4 .5-1 .5 1 .4-5.4 .5 2 .5 1.4 .5 1 .6-3.9 .4 4.7 .5-.2 .5-2.4 .5 .9 .5-.7 .4 1.7 .5-.8 .3 1.9 .6-1.6 .4 .7 .5-2.3 .4 1.6 .6-2.6 .2 3.3 .5 .6-.4 8.8-.5 .4-.5-.6-.3-1.9-.5-.3-.6 2.6-.3-2.4-.5 1.5-.7 4.2-.3-2-.2-4-.7 5.3-.3-3.1-.4-1.2-.4 1.1-.4 1.3-.4-.8-.4-1.8-.4 .6-.5-.3-.2 5-.5-4-.5-1.3-.2 3.3-.6-3.4-.5-.6-.2 2.4-.6-1.7-.1 2.6-.3 1.5-.6-1.7-.3 .5-.3 .8-.9-2.9-.1 2.2-.6-.9-.7-2.1-.4 .7-.5-.3 .1 4.4-.9-3.1-.4 .6-.6-1.1-.4 1-.6-.7-.3 1.6-.1 4.6-1.1-6.5-.5 .3-.5-.9-.4 4.1-.6-2.7-.5 .5-.6 4.2-.4-5.1-.5 0-.6 .4-.7 2.3-.3-2.7-.6 1-.7 .7-.1-3.1-.9 2.6-.3-1.1-.4-.6-1.2 3.5-.3-1.2-.5-.1 0-2.4-.5-.1-1.1 2.9-.9 1.4 .8-5.2-.6 .4-.5 .3-.8 1.2 0-1.7-.7 1-.2-1.1-.2-1.2-.8 2-.3-.3-.2-1.5-.6 1.3-.3-.3-.3-.9-.4 .6-.4 .5-.5 2.8-.2-4.9-.4 2.6-.3-1.8-.4-.1-.4-.1-.3 1-.4-.4-.5-.9-.2 .9-.4 .4 .8 7.4-1.5-7.1-.1 1.8-.7-1.9-.4 .1-.6-.7-.2 1.3-.3 .5-.8-1.5 .2 2.7-.8-1.3 .4 3.8-1.3-3.5-.1 1.6-.9-1.7-.8-1.2-.3 .8-.2 1.2-.3 1.3-1.1-3.1-.4 .6-.3 1.3-.6-.2-.3 1.1z" fill="#111"/>
<path d="M577.8 202l.7-4.9 0 6.2 .4-1.7 .3-1.1 .4 2.8 .4 .4 .2-1.4 .4 .5 .1-1.9 .3 0-.2-2.7 1.1 3.4 .8 1.6 .2-.6-.3-2.7 1.3 3-1.1-5 1.6 3.9 .5-.1-.4-2.4 1.2 2 .7 .7-.9-4.1 1.6 3.1-.3-2.6-.7-3.7 1.5 2.6 1.6 3.7 .2-1.1-.8-5.1 .4-1 1.7 4.2 .5-.5 1 2.3 .2-2 .8 1.5 .7 .8 .3-3.1 .6 .3 .6-2.9 .6 3.6 .7-1.7 1.1-7.3 .1 8 .3 2.9 .9-3 .3 2.2 .6-.2 .4 .6 .9-1.2 .8-1.1-.4 3.6 .9-1.3 .7-.6 .5 .2 .7-.4 .2 .8 1.3-2.4-.5 3 .1 1.4 1.1-2.1 .1 1 0 1.7 .7-1 .4 0 .8-1.4-.2 2.5 .5-.2 .2 .7 1-3.1-.2 3 .5-1 .2 1.7 .5-.8 .5-2.4 .4-.4 .2 3.3 .3-.3 .4 .7 .3-2.4 .4 .4 .3-.5 .6 2.5 .4-.4 0-3.1 .7 2.3 .4 .3 .4-.6-.2-3.7 .9 2.7 .3-.8 .5 .1 .3-.7 .9 2.3-.2-3.6 .6 .4 1.1 3.8 .4-.3 .2-2 .4-.8 .8 1.7 .3-1.6 .7 2 .4-1.9 .6 2.3 .4-3.1 .5 .8 .6 1.8 .4-6.8 .6 6.9 .5-.1 .5-1.4 .6-2.4 .4 4.2 .5-.7 .7-3.6 .2 4.1 .5-.4 .5-.6 .5 .1 .6-2.4 .3 2-.7 8.8-1.5 12 .5-11.1-.5 .2-1.1 8.9 .2-7.7-.4 0-.4 .7-.3-3.3-.5 1.8-.3-.6-.5 3.1-.3-4-.4 1.4-.3 1.4-.4-1.1-.5-2.7-.4 .8-.1 2.9-.3 1.2-.8-4.3 0 3.9-.8-3.2-.3 .8-.6-1.7-.3 1.3-.6-1.4 0 2.8 1.6 12.4-2.8-14.1-.4 .6-.3 .6 .6 7.2-1.7-7.9-.4 1-.3 1.4-.9-2.7-.2 2.1 .6 11.2-1.9-13.4-.4 1.5-.6-.9-.4 3.1-.6-3.4-.6 5.9-.5-2.9-.5-2.1-.8 3.3-.4-2.2-.8 1.8-.5-1-.4-1.4-.2-2-.8 1.6-.6 .1-.7 .6 .1-2.6-1.2 2.4-.2-1.3-.5-.2-.7 .5-.3-.8-.5 .1-.2-1-.7 .9-2.3 5.5 2-7.7-.7 .7-1.1 2.2 .5-3.4-.9 1.9-.5 .4 0-1.9-.8 2.1 0-2-.2-1-.3-.2-.5 1-.4 .4-.3-1.4-.4 2.1-.3-1.3-.3 .1-.4-.6-.3 1.5 .1 3.3-.6-2.2-.5-1.7-.3 .3-.6-.8 .2 2.2-1-2.3-.2 .6 .4 3.2-1.1-2.5-.7-.9 .2 2-.2 .7-1-1.6-.8-.8 .1 1.8-.8-1-.6-.1 .6 3.3-1-1.5 1.5 6.8-2.8-7.4 .8 5-2-5.2-.1 1.5-.4 .8-.8-1.1-.7-.4-.2 1.9-.1 3.8-1.3-5.6-.6-.2-.3 4.9-.6-.3-.7-3.7-.6 .8-.4-1.7-.6 .9z" fill="#111"/>
<path d="M577.7 216.8l.5-2.5 .3 3.5 .6-3.5 .3 3.4 .5-2.1 .4-.4 .4 2.6 .5-5.1 .4 2.2 .4 1.5 .4-.5 .4 1.3 .5 .6 .4-.1 .3-1.1 .5 .7 .3-1.7 .6 2.4 0-4.3 .5 .2 .7 3.3 .3-1.1 .6 1.8-.9-11.4 1.7 10.9 .3-1.4 .5 .5 .5 .5 .3-1.4 .6 .7 0-3.6 .8 2.7 .6 1.5 .3-1.5 .7 1.4 .3-1.4 .2-3.6 1 5.1-.1-7.7 .6 .6 .8 4.9 .6 2 .5-.3 .5-.2 .5 .1 .7-2.8 .3 3.1 .5 .4 .5 0 .5 .1 .8-2.3 .7-.6 .1 2.6 1.6-6-.6 6.4 .6-.6 .6-.2 .4 .4 .8-.8 .1 1.5 .4 .4 .5-.1 .6-.2 .7-.9 1.4-3.1-.1 2.3-.1 1.9 1.3-2.9-.7 4 .4 .2 1.5-4-.4 3.3 1-2.3-.1 1.9 .4 .1 .2 1.2 .5-.6 .3 .5 .3 .5 .7-3.3 .3-.2 .2 2.1 .3 .7 .3-.3 .3-.8 .5 2.2 .2-2.1 .2-.6 .1-2 1 4.7-.2-3-.1-2.7 .6 1.7 .6 1.2 .9 2 .1-1.2 .8 1.1 .1-.9 0-1.4 1.1 1.8 .4 0-.7-3.3 1.6 3 .2-.9 .5 .1 0-1.4 .9 1.2 .7 .4-1.2-4.9 2.1 4.3 .5 0-.3-2.6 1.1 1.8-.2-2.4 .5-.4 1.3 2.6 .4-.6 .6 .2 .1-1.9-.2-4.5 .8 .5 .9 2.2 1.5 11.2 .4 5.7-.8-3.6-.6-1.6-.4 .1-.5-.7-.4 .3-.4 .1-.3 .3 .1 1.7-1.2-2.5-.1 1 0 1.5 .3 2.3-1-1.5-.5-.3-.4 .4-.6-.2-1-1.5-.5 .2 1.3 5.1-2-4.1-.3 .6-.1 1.5-1.1-1.8-.9-1 0 1.8-.9-1.3-.2 1.3-.4 1.1-.9-1.5-.5-.3-.3 2.2-.8-2.3-.5 .8-.5 .5-.4 5.3-.7-4.1-.6-2.5-.6 1.1-.6 .6-.6 .2-.7 1.2-.3-1.9-.9 2.2-.4-1-.7 .7-.1-2.5-.7 .8 0-2.2-.6 .3-.6 .1-.5-.2-1.1 2.3 .1-2.2-.2-1.1-1 1.8-.3-.7-.2-.8-1 1.7-1.5 3.7 .7-4.1-.3-.4-1.7 4.9 .6-4.1-.5 .7 .4-3.5-.7 1.3-.2-1.2-.7 2-.2-1.3-.4 0-.4 .4-.4 1.1-.4 .3-.3-1.4-.2-2.1-.5 5.3-.3-3.9-.4-.7-.3 2.4-.4 .3-.5-2.4 .3 10.4-.8-7-.7-3.1-.5-1.2-.3 .9-.4 .2-.4 .2-.5-.3-.3 1.3-.4 .1-.4 .4-.2 2-.9-2.9-.3 1.1-.4 .4-.6-.5-.5-.1-.3 1.3-.9-3.3-.4 .4-.3 1.7-.2 4.8-.9-5.7-.5-1-.4 3.2-.4 2.1-.6-4.1-.5 1.5-.5-2.1-.5-.3-.5 0-.4 .1-.5 1.3-.5-.4-.6 4.6-.4-3-.4-2-.4-.9-.5 1.5-.4-1.1z" fill="#111"/>
<path d="M576.7 224.6l0-1.5 0-1.9 .6 .5 .9 1.6-3.3-12.8 4.1 12.4 .4-.5 .3-.5 .8 .8 .6 .4-.5-3.4 .8 .8 1.1 2.4-.9-5.8 1.3 3.2 .7 .4 .3-.8 .7 .9 .7 .9-.1-3.6 .8 1.3 .9 2.5 .5 .1 .1-3.1 .9 2.8 .1-3.2 .8 2.4 .2-3.9 .8 4 .4-1.7 .5 1.2 .5 .3 .4-2.4 .5-1.3 .5 2.2 .5 .6 .5 1.1 .4-2.5 .5 .2 .5 1.8 .4-2.5 .5 1.3 .4 .8 .5-1.6 .4 .1 .5 1.6 .4-.2 .5 .8 .4-1.9 .5 2.5 .3-4.5 .5 4.2 .4-3.1 .5 .4 .4-.9 .5-2.3 .5 4.2 .5 .9 .4-.4 .5-.7 .5 2.2 .5-2.3 .5-1.1 .4 1.5 .5 1 .6-1.8 .7-4.2 .4 3 .3 2.7 .5 .5 .6-1.3 .3 1.8 1.1-4.1 .3 1.9 1.1-3.3-.2 4.3 .5 .6 .4 .6 .5-.1 1.1-2-.3 3.1 .6 .1 .8-1.1 0 1.7 1.5-3.1 .7-.2 .2 1.1-.5 3 .7-.7 3.6-8.8-2.3 8 .7-.5 .1 1.3 1-1.6 .4 .1 2.2-5.3-1.6 6.1 .2 .9 .4 .1 1.2-3.2 0 1.7-.3 2.6 .4-.3 .2 .7 .3 .7 .5-.7 .6-2.8 0 2.8 .3 .8 .4-.2 .3-.1 .4 .4 .1-2.4 .6 2.3 .2-1 .5 1.2-.2-3 .8 2.2-.5-3.3 1 2.5-.1-1.6 .9 1.4 3.2 10.2-1-1.6-.8-.5-.6-.3-.6-.1-.5 .4-.4 1-.5 .5-.4 2.7-.8-2.5-.6-.6-.6-.2-.6 1.8-.6-.7-.6-.4-.7 1.1-.3-2.4-1.2 4-.1-3.2-.4-.6-.4-.6-.7 .4-1 1.9-.1-1.9-.5 .1-.2-1.4-.9 1.1 0-1.5-1.4 2.7-.2-.9 .2-2.1-1.5 2.7 .7-3.4-.6 .4-.6 .3-1.5 3.2-.4-.4 .8-3.6-1.5 3.3 .6-3.5-.4-.1-.5 .1-.1-.9-.7 1-.2-1-.8 1.8-.1-1.6-.3-.6-.8 2.6-.1-1.9-.4-.2-.5 1.3-.2-2-.4 0-.5 .5-.3-.6-.4-.1-.6 3-.5 6.9-.3-5.6-.3-4.3-.5 2.7-.4-2.6-.4 4.1-.5-2.8-.4-1.6-.5 .2-.4 1.2-.4-.6-.5 .5-.4 1.2-.5-.6-.4 2.3-.5-2.7-.4 3.4-.5-2.4-.5-2-.4 .4-.5 .5-.4 1.2-.5-1.2-.4-.5-.5 1.3-.4 8.9-.5-9.6-.4-1.1-.4 1-.4 1.6-.5-2.7-.4 0-.4 1.3-.4-.1-.3 2-.6-2.7-.4-.2-.4 .2-.4 .2-.2 2.1-.3 .7-.6-1.5-.6-1.7-.3 .7-.5-.3-.2 1 .5 4.4-1.2-3.5 .1 2.1-1.3-3.5-.3 .4-.4 0 .2 2.7-1.2-3 .2 2.4-.8-1.2-.6-.3 2.3 9.4-2.2-5.9-.8-.9-.5-.2 .1 2.2-.4 .6-.9-1.3-1.1-2z" fill="#111"/>
<path d="M578.4 226.9l.4 .4 .4-.4 .3 1 .4-.3 .3 1.1 .5-.9 .5-1.1 .2 1.1 .3 1.3 .5-2.2 .4-1.5 .3 2 .4-2.9 .4 3.7 .3-1.8 .5 2.7 .3-1.9 .4-.2 .4 .9 0-4.2 .6 2.3 .8 2.5 .4-.3 .4 .2 .2-1.5 .7 1.1 .3-.8 .5 .4 .5 .6-.5-6.2 .9 2.8 .6 .4 .8 2.1 .6 .7 .1-2.9 .8 2.4 .4-.3 .4-1.1 .5 .6 .4-1.3 .7 1.7 .4-.8 .5 .6 .3-4.6 .7 5 .5-2.1 .5 2.2 .5-.1 .5 .2 .5-1.5 .5-.2 .5 .5 .4 1.1 .5 .2 .5-.8 .5-.4 .4 .8 .7-2.7 .3 2.1 .4 .2 .5 .2 .4 .5 .8-4 .3 2 .3 1.8 .3 .6 .7-2.6 .4 1 .3 1.2 .5-.2 .4-.2 .4 .8 .5-2.3 .4 1 .5-1.2 .3 2.2 .6-3.8 .3 4.4 .4-.5 .4 .3 .5-4.3 .4 3.8 .5-3.1 .4 1.4 .4 1.6 .4-3.1 .5 3.2 .5-.2 .4-.8 .4-.1 .5 1.7 .5-.7 .4-1.8 .5 2.4 .4-1.5 .5-4.1 .5-1.2 .4 6.8 .5-3 .5 .5 .4 0 .5 1.5 .4 1 .5-.3 .5-2.4 .6-2.8 .3 4.4 .5 0 .4 .4 .6-2.3 .4 2.4 .5-1.5 .5-.8 .4 0 .6-2.9 .1 6.4 .6-2 .4 1.3 .4 .2 .5-1.3 .3 1.4 .5-1-.3 11-.4-2.9-.4-.1-.6 3.4-.6 2.1-.2-5.2-.5 .1-.6 1.8-.4-.3-.3-2.2-.6 1.6-.4-1.2-.4 .2-.5 1-.4-.9-.5 1.4-.5 1.2-.3-3.4-.4 .4-.5 .7-.4-1.6-.4 .9-.4 .2-.5 3.2-.5 6.1-.4-10.1-.4 .4-.4 1.5-.5-1.1-.4-.7-.4 1.4-.5 .4-.4 0-.5 .7-.4-1.3-.5-.2-.5 .5-.4-.9-.5 1.5-.5-1.4-.4-.6-.5 1.2-.5-1.3-.4 1-.5 1.2-.5-1.3-.5 2-.4-3.3-.5 .7-.5 1.4-.7 2.7-.3-3-.6 2-.2-4.1-.5 1.3-.4-.8-.8 3.4-.1-3.8-.5 .8-.6 1.5-.4-1.5-.5 1.1-.3-1.7-.4-.2-.5 1.1-.5 .4-.4-.9-.5 1.6-.4-.7-.5 2.1-.2-3.7-.4-.1-.5 1.1-.4 1.7-.4-2.8-.4 .6-.4 1.7-.4-.6-.4-1.8-.3 1.9-.4 1-.5-2.4-.5-.8-.3 1.3-.5-.3-.3 1.2-.5-.7 .4 5.9-.8-2.7-.5-1-.6-.9-.6-.9-.6-.9-.3 .9-.6-1.1-.5 .3 .1 3.3-.9-2.9-.3 1.2-.4 .9-.2 2-.7-1.1-.5 .4-.8-3.5-.4 1.7-.5 0-.6-1.1-.4 1.1-.5 1.5-.5 2.8-.6-3.6-.6 .3-.6 1.7-.5-1.8-.4-2-.9 4.2-.6-.2-.4-1.4-.7 1.4-.3-1.6-.3-1.7-.3-1.3-1.5 5z" fill="#111"/>
<path d="M634.3 70.6l.7-.5-.2 2.2 .9-1.3 .5-.3 .3 .6 0 1.6 1.3-3-.4 3.3 1.1-2.5 .5-.4 0 1.8 1.2-3.2-.2 2.7 .4 .2-.1 2.4 3-12.4-1.5 9.2 .3 .9 .9-3.1-.3 4.5 .6-1.1 .8-3-.2 4.6 .6-2 .3 1.5 .3 1 .6-2.3 .2 2.3 .9-5.1 0 4.7 .6-2.2 .4 .7 .3 1.5 .6-1.5 .3 2.7 .7-4.3 .3 2.6 1.1-8.1-.2 8.7 .5-.3 .7-2.2 .3 1.6 .4 1.3 .9-3.4 .1 3.2 .7-1.2 .6-.6 .8-1.5-.3 4.9 1-2.4 .4 .9 .1 2 .6-.6 .9-1 .9-1.2 .3 1-.1 2 .4 .5 .5 .3 .8-.5 1.3-1.9-.3 2.2 .1 1.1 .6-.1 1.6-2.1-.2 1.8 2.3-3.3-1.5 4.2 2.9-4.2-1.6 4 .4 .5 1.3-1.2 1-.7 .6 0-.8 2.5 .6 .1 .6 0 .6 0-.3 1.5 .6 0 .8-.4-.4 1.8 1.5-1.6-.1 1.2 1.6-1.9 .2 .6 0 1 2.1-3-2.4 5.5 .6 0 .4 .2 .5 0 .5 0 .8-.7 .8-.6 1.3-1.9-1.5 4.7 .4 0 .6-.2 .3 .4 .2 .7 1-1.3-.1 1.3 .8-.9 .2 .9 .4 .2 1.1-2.2-.1 2.1 .8-1.3 .5-.2 .3 .6 .5-.3 .3 .6 1.1-2.1-.6 4.1 1-2.1-.2 2.5 1-1.9-.1 2.3 .9-1.7 .2 1.1 .5 0 .7-.8 3.4-10.5-2.9 12.1 .9-1.4 .8-.9 0 1.6 .2 1.2 .5 .1 .7-.9 .1 1.3 1-1.5 1.6-3.7-1.2 5.5 .6-.2 .2 .8 .8-1 .1 1.3 1.6-3.7 .5-.2 .3 .6-.6 3.6 1.7-4.5-.7 4.5 .6-.8 .2 1.1 .6-.7 1.1-2.6-.2 2.8 .1 1.2 .5-.2 .8-1.8 .3 .8 .8-2.2-.2 3.5 .4 .2 1-3.4 .3 .3 1-4.3-.6 7.3 .6-1.1 .3 1.2 .5-.9 .3 1.1 1-5.2-.1 4.9 .8-2.9 .6-1.9 0 4.4 .3 1.4 .6-1.3 .4 1.3 .7-2.3 .7-2.4 .1 4 .3 .9 .5-.1 .5 .1 .8-1.9 .4 .5 .6-.2 .4 .5 .6-.2 .5 .1 1.4-3.6-.7 5.4 .9-1.5 0 2.1 1-1.5 .3 .9 1.5-2.7 0 1.6-.4 2.8 1-1.2 1-.8 .1 1.2-.1 1.6 1.5-2.1 .6 0 0 1.2 .4 .5 .7-.2 .2 .8-.1 1.3 1.3-1.2 .5 .2 .1 .9 1.5-1.6-.3 1.6-.4 1.7 2.5-3.3-1.1 3 1.8-2.3-.5 2 .1 .9 .3 .5 .2 .7 .5 0 1.8-2.3-1.1 3.1 .8-.5 .1 .9 .8-.6 .6-.2 .2 .8 .3 .4 1.7-2.7-.8 2.8 .6-.1 .7-.5 .5-.2 .3 .5-2.8 7.2-.8 .6-.6 .1-.7 .3 .2-1.7-2.5 4.3-2 3-.2-1 1.7-4.9-.2-.9-2.2 3.2 1.5-4.1-1.4 1.5 1-3-1.9 2.4 1.1-3.2-1.3 1.3-1 .6 .7-2.3-1.3 1.2-.3-.4-1.1 1 1.1-3.1-.7 .1-1.1 1.1 0-1.1-.1-.8-.6 0-1.1 1-.6 .1-.3-.4-.3-.3-.2-.7-2.6 4.4 .8-2.5-.2-.8-.1-.7-.5 .1 .2-1.5-.1-.9-1.5 2.8 .5-2.5-.8 1 .2-2-.3-.3-.8 1.5 0-1.9-.6 .7-.6 .9-.6 1-.1-1.4-.2-.9-.5 .3-.4 .1-.4-.1-.3-1.2-.8 2.7-.1-2.5-.4 .1-.6 1.3-.3-1.3-.5 .1-.3-.9-.9 4.1-.1-3.6-.4-.1-.6 .7-.8 3.9 0-4.4-.4-.9-.5-.1-.8 2.4-.5 .2-.1-2.6-.5 .1-.6 .6-.6 .3-.2-1.4-1.7 6.6 .1-3.5 0-2.8-.5 .3-.7 .8-.3-.9-.3-1.1-1.5 4.2 .2-3-1.4 3.2 .3-3-.2-.9-1.2 2.2 .4-2.9-.9 1.1-1.1 2.2 .2-2.3-.5 0-.4-.5-.8 1.2-1 1.4 .5-3.1 .1-1.9-1.2 2.3 .1-1.9-.3-.6-1.9 4.8 .4-2.9 .3-2.6-.7 .5-.3-.5-.9 1.7-.2-1.1-1 2.1-.5 .1 .2-2.8-1.7 4.7 .2-2.6-.2-1.1-.2-.8-.3-1-.5 .3-.3-.9-1.8 4.7 0-1.8 .2-2.6-1.1 2.4-.6-.1-.2-.8-1 1.4 .7-4.1-1.1 1.7 .2-2.2-.6 .1-.5 0-.3-.6-1.1 1.2-.7 .3 .5-2.4-1 1-.6 0-.5-.3-2.1 3.2 1.6-4.7-.3-.6-.6 0-.8 .4-1.2 1.1 .1-1.3-2.1 2.7 1.6-4-1.2 1-.8 .2-.4-.4-.2-.6-1.1 .9-.7 0 .4-1.7-1 .7 .3-1.5-1.4 1.4 1.2-3.1-.5-.2-1.1 .9-1.1 1.1-.1-.8 .5-2-.7 .3 0-1-1.5 2.1 .2-1.5-.7 .4-.9 1 .5-2.1-1.1 1.5 0-1 0-1.2-.7 .6-.8 1.1-.1-.8-.4 .2-.3-.5-.6 .9-.3-.6-.3-.1 .1-2.2-1 3.1 0-2.4-.8 2.3-.8 3.6 .4-6.2-.5 1.1-.8 3.7 0-4.3-.2-1.7-.6 1.8-.4-.7-.3-1.2-.5 .1-.5 1.5-.6 2-.2-3.3-.7 2.6-.2-2.7-.6 .8-.7 3.4-.2-3.8-.4-.6-.6 1.5-.4-1.3-.5-.2-.6 1-.6 1-.3-1.4-.5 .2-.3-1.6-.9 2.3-.7 1.1 .1-3.1-.5-.2-.9 1.9-.4-.5-.5 .1-.3-1.1-.9 1.5 .1-2.2-.5-.1-.4-.3-.6 .4-.3-.9-.8 1.1-.4-.2-1.4 3 .8-4.6-1.3 2.9-.2-1.2z" fill="#111"/>
<path d="M633.5 77.4l.4 .4 .5-.2 .4 .3 .5-.3 .7-2.1 .5 .3 .5-.4 .2 1.7 .3 1.2 1.3-4.9-.1 3.4 1-3.3-.1 3.7 .7-1 .1 2.1 .7-1.4 .4 .5 1.3-4.3 0 3-.2 3.4 .6-.7 .5-.2 .3 1.1 .5-.4 .7-1.1 .7-.8 .1 2 .9-1.8-.1 2.2 .7-.6 .6-.6 .3 .7 .5-.3 .3 .8 .5 0 .3 1 1.5-4.6-.4 4 .3 .6 .5-.1 .3 .7 .8-1.2 .2 1.2 1.6-4.5-.8 4.9 .6-.3 .4 .5 .7-1.1 .3 1 .7-.8 .6-.4 0 1.8 .9-1.4-.1 2.2 2.3-6.4-1.2 6 .6-.3 .5-.2 1.4-2.6-.1 2.1 .4 .3 0 1.5 .9-1 1.4-2.3-.9 4.1 .6-.3 .7-.4 .7-.4 .8-.4 .4 .4-.5 2.4 1-.9 .4 .3 2.7-4.8-2.2 6.3 1-.9 .4 .3 .1 1.1 1.7-2.3 .9-.6-1 3.1 1.2-1.2-.5 2.2 .5 .1 1.5-1.8 .7-.1-.1 1.1 1.7-2.1-1.5 4 .9-.7 .2 .8 .6 0 4.2-7.1-3.3 7.3 .4 .4 .4 .3 .6-.2 1.2-1.4-.2 1.5 2.7-4.7-2.5 6.5 4.9-9.9 1.1-1.6-4.3 11 .7-.5 .5 0-.1 1.3 1.2-1.8-.2 1.6 .1 1 1.7-3.7-.5 2.8 .1 1.1 .9-1.5-.1 1.7 .5-.1 .4 .1 .3 .7 .6-.7 .2 .9 .4-.1 .7-.9 .6-1 0 2.4 .6-1.1 .4 .1 .1 1.9 .8-1.9 .2 1.1 .7-1.2 .2 1.4 .7-1.8 .1 2.5 .7-2 .1 2.5 .6-.7 .7-1.7 .9-2.9-.2 4.6 .4 .2 .7-1.7 .7-.9 .1 2.2 .5-.1 .3 1.2 .7-1.4 .6-1.1 .6-.4 0 2.6 .3 1 .6-.4 .8-1.8 0 2.3 .8-1.5 .5-.1 .2 1.4 1.4-4.7-.1 2.9 .6-.4 .5 0 0 2.2 .4 .3 .5-.2 .7-1 .4 .6 1-2.3-.3 3.4 .7-.9 .3 .8 .5-.1 .5-.3 .7-1 1.9-5.9-1.5 8.2 1.3-3.1 .1 1.3 .4 .6-.1 2.4 .4 .2 1.2-3-.2 2.8 1.2-2.6 .1 1.5 .4 .5 .8-1.4-.1 2.5 .9-1.5 .6-.3 .6-.5-.2 2.6 .8-.8 .1 1.4 2-4.9-1.2 5.7 .5 0 2.3-5.3-.7 3.8 .4 .3 .6 0 .5 0 1.1-1.3-.3 2.2-.1 1.7 .6-.1 1.8-2.8-1 3.5 2.8-4.9 .2 .9-1.6 4.7 .8-.3 .3 .5 2.1-3.2-1.2 3.7 .4 .4 1.5-1.8 .7-.2-.3 1.6-.1 1.4 .7-.1 .7-.3 .1 .8 .7-.1 1.8-2.2-.5 1.9-.4 1.8 3.4-5.4-1.4 3.7 .2 .7 .1 .9 1.2-1.4-.9 2.9 .7-.4 1.5-2-4.5 9.5-1.7 2.1 .9-2.9-1.6 2 .9-3-.7 .1-.8 .4-.3-.4-3.3 4.9 0-1 2.5-5.7-.5-.3-1.2 1.2 .1-1.4-.4-.2-.6 .1-.8 .4-.1-.8-1.2 1.1-1.4 1.7 1.8-4.5-1 1-.8 .5-.7 .4 .8-2.8-1.7 2.5 .6-2.3-.5 0-.8 .7 .2-1.8-2.3 4.3 .6-2.4-.1-1.1 0-1-.4-.3-.3-.6-1.5 2.9-1.3 2.5 .8-3.5 .1-1.9-1.4 3.1 .8-4-1.1 1.9 0-1.4-2.9 8.6 2.2-9.5-.6 .5-.6 .4-.9 2-.3-.9-.1-1.2-1.4 3.7 .6-4.4-.3-.8-1 2.5-.4-.2-.1-1.6-.4-.2-.7 .7-.2-1-.2-1.1-1.1 2.7-.7 .9 .2-2.8-.8 1.3-.8 1.4 .2-2.8-.3-.8-1.3 3.9 .6-4.9-1.1 2.8-.1-1.7-.6 1-.6 .4-1.5 4.8 1.2-7.7-.5 .4-.6 .5-.7 1.4-.4-.3-.1-1.8-1.5 5.6-1 3.1 1.2-9.1-.5 .4-.3-.9-1.6 6.5 .4-5-.2-1.2-.6 .7-.5 .2-.2-1.4-.5 .4-.8 2.4-.2-1.9-.5 .2-.8 2.8-.3-1-.2-2.2-.3-1.4-.7 2.1-.5 .1-.1-2.7-1 3.6-.4-.8 0-2.9-.7 1.6-.7 1.3 0-2.9-.8 1.7-1.5 4.7 .6-5.4-.2-1.6-.4-.3-.8 1.1-.4-.4-1.3 3-.1-1.7-.5 0-.1-1.6-.3-.8-1.4 2.7-.7 .4-.8 .4 1-4.3-.6 .1-.4-.5-.4-.3-1.9 3.3 .1-1.8 .1-1.4-2.6 4.5 1.4-4.4-.6-.1 .2-1.6-.9 .6-1.1 1 .1-1.2-.1-1-.9 .6-.2-.8-1 .8-.6 0 0-1-1.5 1.6 .5-2-1.8 2.3 1.6-4.1-.5-.2-.7 .4-2.7 4.1 1-2.9 .7-2.5-2.3 3.5 1.1-3.4-1.6 2.4-2.7 4.6 3.2-7.8-3.6 6.7 2.5-6.5-.4-.3-.3-.7-.9 1.1-.6 .3-1.1 1.5 .5-2.5-1.5 2.7 .1-1.4 .4-2.3-1.2 2 .5-2.8-.3-.5-1.1 1.8 .1-1.7-.6 .3-.2-.8-.6 .6-.6 .4-1.1 2 .5-3.3-.6 .6-1.2 2.5 .6-3.7-.5 0-.9 1.6 0-1.6-.5 0-.4-.2-.7 .8-1.4 3.6 .7-4.7-.3-.5-.4-.2-2 6.2 .4-3.8 0-1.8-1.6 4.5 .7-4.9-.6 .6-.5 .2-.4-.1-1.5 4 .8-5.1-.5 .1-.4-.4-1.1 2.7 .2-2.9-1.2 3.5-.4-.1 .3-3.8-.9 2.2 .1-2.8-1.2 3.6-.2-.7-.8 1.8 0-2.7 0-2.2-.4-.2-.4-.4-.6 .8-.8 2.5 .1-3.3-.5 .3-.6 .9-.2-1.7-.5 .2-.4 .2-1.4 6.2 .3-4.8-.4-.5-.9 2.8 .2-4.4-.6 .6-.3-.6z" fill="#111"/>
<path d="M634.6 79.2l-.3 3.3 1-2.3 1.5-3.9-1.3 7.2 .9-1.6 .6-.7 .2 1.2 .1 1.5 .4 .1 1.2-2.7 0 1.7 .6-.1 .3 .4 .5 .2 .3 .8 .9-1.9 .8-1 .1 1.2 .5 .3 .1 1.5 .6-.7 2.1-5.9-1.2 6.5 .2 1.1 1.1-2.3-.1 2 .6-.1 1-1.9 .3 .9-.3 2.7 1.4-3-.1 2.2 .6-.3 .3 .5 .7-.6 0 1.6 1.1-1.7 1.4-2.7-1 4.6 .3 .5 1.7-3.3-.8 3.9 .8-1 .9-.8 .3 .4 .7-.3-.2 1.8 1.5-2.4-.5 2.6 2.2-4.6-1.2 4.7 1.4-2.3-.9 3.7 2.3-4.7-.2 1.8-.4 2.5 .1 1.1 1.8-3.4-.6 3 .4 .2 1.5-2.8-.8 3.6 1.4-2.7-.6 3.1 1.6-3 5-13.3-5.3 16.8 1.4-2.7 0 1.4-.1 1.7 .5 0 .3 .5 .6-.3 1.2-2.6 1.6-4.3-.7 4.2-.3 2.9 .4 .1 1-2.4 .7-1-.6 4.4 .9-1.8 .2 .7 .4 .6 .3 .7 .6-1.2 .2 1.5 .6-.8 .7-1.4 .7-1.4 .1 1.9 1.5-6-.5 5.2 .2 1.9 .3 .5 .4 .6 .8-2.4 .3 1.1 .7-1.5 .1 2.6 1.1-4-.3 4.8 1-3.2 .2 1.8 .3 1 .6-.8 .2 1.6 1.2-3.6-.2 3.6 1.1-3.4 1.2-3.2-.3 4 .1 1.9 .7-1.1 .3 .9 .5 .3 1.2-2.9-.1 2.5 .3 .9 .7-.9-.2 2.6 1.1-2 .1 1.7 .8-1.1 .7-.5 0 1.7 1.7-3.5-1.1 4.7 .8-.7 .8-.8 .5 0 .1 1.2 .3 .6 .8-.7 1.4-2.3-1 4 .7-.4 .4 .4 1.8-3.3-.4 2.4 1.4-2.3-.7 3.1 .2 .9 1.4-2.2-.3 1.9 2.1-3.8-.4 2.2 .4 .3 1.1-1.6-.8 3.4 1.3-2.1 .3 .8-.8 3.2 .8-.8 .2 .9 .4 .3 .6-.3 3.4-8-2.1 7.2 .2 .8 .5 .1 1-1.6-.5 2.7 .9-1.1 1.3-2.6-.1 2-.4 2.5 2.8-7-1.7 6.7 .4 .3 .4 .3 .6-.6 .3 .5 .4 .4 .3 .5 1.3-2.9-.5 3.4 .6-.5 .4 .5 .7-.9 .4 .1 1.1-2.3 .5-.4-.5 4 .7-1 .5-.1 .9-2.2 .4 .5 .5-.5-.4 3.9 .7-1.1 .8-1.3 1.4-4.6-.6 5 0 2.1 .3 .8 .6-.9 1.6-5.8-.7 6 .3 .6 1-2.5 .3 .6 .1 2 .6-.6 .6-.8 .3 1 .6-.9 .6-.5-.1 2.9 1.2-3.9 .3 .9 .5-.5 .1 2.3 .2 1.4 .9-2.1 .7-1.1 .1 1.6 .3 .9 .6-.2 1.1-3.2-.1 2.7 .3 1 1.3-3.5-.4 3.7 .5 .1 .2 1.5 1.4-4-.5 4.1 .6-.3 .6-.2 .3 .4 .7-.5 .4 .5-1.8 6.4-.6 .5-.5-.2-.3-.3-1.2 2.8-.3-.7 0-1.7-.6 .8-.6 .4-.7 1.3-.3-.7-.1-1.8-.9 2.2 0-2.2-.6 .7-.4 0-.3-1-.2-1.1-1.2 3.8 .3-4.2-1 3.3-.4-.4-.6 .6 0-2.3-.1-1.8-.9 2.2 0-2.8-.9 2.6 0-2.7-1.6 6.2 .6-5.7-1.3 4.4-.1-2.3-.1-2-.3-.8-.5 .4-.4-.4-1.6 5.2 .7-5.7-.7 .9-.5 .2-1.2 3.6 .2-3.2-.3-1.1-.8 1.3 .1-2.4-.6 .5-1.2 3-.2-1.4-.6 .4 .3-3.2-.5 .2-.7 .6-.2-.8-.4-.6-1.6 4 0-1.7-.7 .5-.3-.8-.5 0 .3-2.6-.6 .2-.9 1.5-1.4 2.7 .8-4.2-1.4 2.7 .1-1.9-.7 .7 .4-2.8-1 1.4-.2-1-.8 .7-.1-1-.4-.6-1.1 1.7 0-1.4-.2-.9-1.2 1.9 0-1.4-.8 .5-2.1 4.3 1.9-6.4-1.3 2.1-1 1.2-.1-1.1 .7-3.1-.6 0-4.3 9.6 2.3-7 .4-2.4-1.2 1.8-.2-.9 .3-2-1.5 2.4 .5-2.4-.6 .1-.6 .3-.4-.3-1.5 2.8 .9-3.9-.6 .3-.8 1-.1-1.3-1.8 3.8 1-4.1-.3-.6-.3-.4-1.7 3.7 .5-3-.4-.1-1.1 2-.1-1.2 0-1.5-.6 .4-.7 1.2-.6 .4-.6 .8 .1-2.1-.5 .1 .1-2.3-.4-.1-.7 .8-1 3 .1-2.8-.1-1.5-.9 2.1-.3-.7-.3-.7-.6 1.1-.4-.6-.6 .9-.3-1-.8 2.6 0-3.3-.5 .6-.6 .6-.1-2.3-.5 .8-.7 1.1-.3-.9-.5 .1-1.1 3.5-.3-1.3-.2-1.5-1.2 3.8 .6-5.9-.4-.1-.5 .1-.4-.9-.8 1.7-.8 1.3-.1-1.9-.7 .9-.6 .5-.5-.2-.3-.7 .1-2.4-.8 .8-1.4 3.5 .5-3.9-1.2 2.5 .4-3.2-.5-.1-.9 1.4-.7 .3-.6 .2 .4-2.6-.4-.5-1.9 4 .8-3.8-.5 .1-.9 1-.6 .2-.3-.6-.8 .7 0-1.4-1.4 2.3 0-1.5-.8 .7 .8-3.4-3 6.5 1.4-4.9-.2-.9-4.1 9.7 2.3-7.7 .9-3.7-1.1 1.8-1.2 1.9 1.1-4.5-1.6 3.1 .5-2.7-1.8 3.6 1-4.2-.5-.1-.2-.6-.9 1.2-1 1.4-.5 .3-.6 .5 .6-3.6-.5 .1-1.4 3.3-1 1.7 .8-4.5-.3-.5-.1-1.3-.8 1.2-1 2.1-.3-.6 .2-2.5-.3-.8-1 2-.7 .9-.1-1.3-.6 .5 .1-2.1-.5 .2-.6 .4-1 2.4-.4-.4 0-2-.2-1.3-.6 .6-1.6 4.6 .9-5.7-.4 0-1.2 2.7 .2-2.7-2.6 9.1 1.4-8-1.2 2.8 .5-4-1.2 3.2 .4-3.9z" fill="#111"/>
<path d="M633.1 87.1l.5 .2 .5-.7 .7-3.4 .3 3.7 .6-.3 .6-.7 .4 1.5 .8-2.6 .3 2 .9-2 .4 1.3 .1 2.1 1.7-5.1 .1 2.2 1.3-2.5-1.2 6.7 .5-.2 .4 .7 2.1-4.9-.7 3.9 1.5-2.7-.4 2.8-.1 1.7 2.7-5.5-1.3 4.6 1-1 0 1.3 .6 0-.1 1.6 .8-.7 1.2-1.8-.4 2.4 .8-.7 1.7-2.9-.9 3.5-.2 1.6 .6-.3 .9-1 .6-.3-.4 2.4 1.7-3.3-.9 3.6 1.7-3.5-.8 3.7 2.2-5.4 .1 .8 .1 1.2 .7-.9-.6 3.6 1.1-2.4 .3 .4-.2 2.2 2.8-9.5-2.1 10.7 1-2.4 1.1-3 0 1.8 .1 1.8 .2 1.1 .4 .2 .2 1.4 1.6-5-.5 4.3 .5-.1 .4 .4 1-2.1 .7-.9-.3 3.4 .8-.9 .5-.1 .8-.9 1.7-4-1 5.5 .4 .4 .5 .2 .7-.6 .4 .5 .9-.8-.1 1.6 1.4-2.3-.7 3.4 1.3-1.7 1-1.2-.4 2.5 .5 .1 .3 .6 1.2-1.5-.2 1.6 1.3-1.7 1.1-1.3-1.7 5.2 4.3-8.8-3.2 8.7 1.1-1.3 .9-1-.4 2.2 .7-.5 .1 .7 .9-1 0 1.3 .9-1.3 .1 .8 .8-1-.2 1.9-.2 1.9 .5-.1 .6-.6 .9-2.2-.1 2.3 .2 1.1 .5-.8 .4 .2 .4-.2 .3 1.1 .7-2.1 .5-1.3 .4-.6 .2 2.2 .3 .9 .6-1.7 .2 2.8 .5-.5 .6-3.8 .4-1.9 .3 3.5 .5 .1 .5-1.6 .6-4.6 .2 6.8 .5 .2 .4 1.8 .5 .1 .7-4.4 .3 4 1.1-7.3-.1 7.1 .9-3.7 .2 3.2 .5-.4 .6 0 .6-.3 .2 1.5 .7-.8 .8-.8 .2 1.2 .8-.8 .4 .6 .2 1.3 .6-.3 1.3-2-.1 1.8 1.2-1.6 0 1.4 .1 1.4 .6-.1 1.4-2.1-.8 3.3 .5 .1 .3 .7 1.4-2.2-.4 2.2 .5 .2 .7-.4 1.6-2.6-.3 1.9 .8-.8-.5 2.6 .2 .7 .8-.8 .1 1 1.6-3 .5-.2-.7 3.3 .7-.9 1-1.6-.8 3.7 .5-.1 .8-1.1 3.1-10-1.6 7.5-.6 3.8 .8-1.4 1.3-4-.1 2.2 .6-1 .1 1.6 .6-.7 0 2 .2 1.6 2.6-12.8-1.4 10.9 .4 .4 1.3-5.1-.8 7.8 1.3-4.9-.1 3.7 .4 .3 .3 1 1-2.5 1.1-2.9-.4 4.5 .9-2-.3 3.7 .7-.7 .5 0 .7-.6 .7-.4 .3 .7 .3 1.1 .4 .4 .8-.8 .2 1 1-1.3 2.4-4.7-2.1 6.9 .7-.3 1-1.1-.3 2 1-1 .9-.5-.2 1.5 .4 .4 .8-.5 .5 .2 .4 .2 .9-.8 1.5-2-.7 2.6 .8-.6 1.1-1.4-.9 3.2 1.9-3.2-1.3 4.1-2.7 6.4-1.3 1.7 .2-1.7-.9 .7-.3-.5-1 .8 0-1-.1-1.1-3.7 6.8 .4-2 1.4-4.3-1 1-.7 .6 1-3.4-.7 .3-1.3 2-.2-.7-.3-.6-.4 0-1.4 2.5 .9-3.5 .1-1.6-1 1.4-1.3 2.6 .2-1.8 .4-2.5-.4-.4-.8 1.3-.4 .1-.2-.8-.4-.1-.8 1.2 0-1.7-1.6 5.5 .5-4.6-.5 .5-1.3 5.1 .7-6.7-.7 1.8-.5 .5-.9 2.3 .4-5.1-.4-.3-.6 .5-1.3 4.9 .2-4.1-.1-2.1-.8 1.8-1 2.2 0-2.5-.6 .5-1.1 2.7-.7 .3-.2-1.6 .4-3.6-.3-.8-1 1.7-3.4 9.3 2.5-9.9-1.2 2.1 .7-3.9-.9 1.1 0-1.5-.5-.1-1.8 3.2 .5-2.8-1.3 1.9 .3-2-.2-1-.4-.2-.5-.1-1.4 2.1-1.1 1.4 1.3-4.3-.7 .3-.8 .8-.6 .3-.9 .8 .5-2.3-.2-.8-.9 1.2 0-1.5-.8 1.3-.8 1-.6 .6 .1-1.8 0-1.5-1.5 4.3 .8-4.5-.5 .1-.5 .5-.4-.2-.7 1.6 .1-2.6-.5 .5-.6 1.9-.2-2-.5 .7-.2-1.3-.5 1.2-.4-1.2-.5 1.7-.4-.3-.3-1.7-.7 4.7-.3-2.9-.4-1.8-.4 .3-.5 1.4-.4-.9-.5-.8-.6 3.5-.7 3.1-.1-5.9-.6 1.5-.4-2-.5 0-.7 1.7-.6 .4-.7 1.5-.2-2.6-.5-.4-1 2.5-.5-.3 .3-4-.7 .9-1.4 3.1 .1-2.4-.1-1.6-.4-.8-.5-.1-1.7 3.6-.5-.4 .6-3.3-.3-.7-.9 1-.3-.5-.5-.3-.3-.5-1.2 1.6-.3-.7-.9 .9-.2-.9 .4-2-.9 .9-.1-1.1-2.9 5.5 2.1-6-.7 .3-.3-.4-.4-.2-1 1.2-.6 .2-.3-.2-1.7 3.3 1.1-4.3-.3-.6-1.6 3.7 .8-4-.8 1.1 0-1.4-.4-.2-.2-.6-.8 1.2-.6 .6-.3-.4-.8 1.5 .4-3.8-.6 .7-.7 1.2-.3-.8-.3-.6-.3-1-.7 1.3-.3-1.1-.3-.5-.9 2 0-2.3-.8 1.3-.9 1.7-.2-1.5-.2-.9-.5-.2-.5 0-1 1.7-.7 .4 .3-2.6-.4-.7-2.7 6.9 1.5-6.4-.8 .8-.2-.9-1 1.1-.8 .7-.1-1.4-2.4 4.9-.2-1 1.5-5.1-1.3 1.7-.9 .8 1.3-4.4-1.9 3.4-.1-1.1 .8-3.2-.8 .6-1.8 3 1.1-3.8-.5-.1-.8 .8-.1-.9-.3-.6-.7 .7-.3-.4-2.4 5.4 1.8-6.4-1.4 3.1-.6 .5 .7-3.8-.4 0-.8 1.6-.5 .4-.4 .1 .1-2.5-.4-.1-.4 .2-.5 .5-.2-.8-.6 1.6-.4 .6-.3-1.5-.4-.4-.5 2.7-.3-2.8-.4 .3z" fill="#111"/>
<path d="M633.8 100.2l0 2.4 .7-1.3 .5-.2 0 2.4 1.1-4.3-.1 3.7 .3 1.1 .5 0 .5-.7 .5-.6 .7-2.1 .3 1 .2 2.5 .9-4.5 .2 2.8 .4 0 .3 2 .5-1.1 .7-2.1 .3 1.3 .4 1 .4 .2 .9-4.7 .2 3.2 .4 .5 .6-1.1 .4 .7 .5-.5 .4 1 .3 1.5 .3 .8 .7-1.6 .4 1.1 .5-.6 1-2.7 1.1-3.2-.4 5 .1 1.9 .9-1.9 .7-.7 0 2.2 .6-.6 1.1-2.4 .2 1.4-.3 3.1 2-5.4-.9 4.9 1-1.6 .5 .1 .1 1.6 1.4-2.9 0 1.8-.3 2.3 .5 0 .6-.2 .6-.3 .5 .3 1.5-2.7 0 1.5 .1 .9 .6-.1-.5 2.7 1.5-2.5 .3 .6-.2 1.8 .4 .2 1.5-2.4-.6 2.8 .3 .7 .9-1 .7-.5-.3 2.1 1.3-2.1 1.5-2.8-1 4.1 1-1.4-.4 2.5 1.1-1.6-.1 1.6 .6-.2 0 1.3 .7-.6 1.9-3.9-1 4.3 .8-.9 .9-1.1 .3 .5-.2 2.1 1.1-1.7 .6-.3-.3 2.1 .9-1.1 .7-.5-.5 2.8 .8-.9 1-1.5-.3 2.6 .8-1 .8-1.2-.1 1.9 .5-.1 0 1.6 1-1.6-.1 1.8 .7-.5 2.5-6.4-1.7 7 1.1-2.2-.4 2.9 .5 0 .6-.2 .4 .1 2.9-8.1-1.6 7.2 .3 .3 .1 1.7 1-2.2 .3 .9 .9-1.7-.3 2.7 .5 .2 .5-.3 .8-1.5 .1 1.7 .9-2.1 0 2.3 .2 .9 1.6-5.3-.5 4.7 1-3.2-.2 3.5 .4 .1 .4 .4 .6-.7 .6-1.3 .2 1.5 .5-.3 .6-.8 .5-.6 .7-2.5-.2 5.4 .5-.4 .5-.9 .5-.6 1-5.1 .1 3 .1 3.7 .8-4.4 0 4.9 .4 .4 .6-.9 .3 1 .8-4.2 .2 4 .9-5.5 0 5 .5 .1 .4 .6 .4 .5 .6-1.6 .6-1.5 .2 3.2 .6-1.6 .6-.4 .2 1.9 .5-.3 .5-.2 .6-.9 .3 1.2 1-2.5 .1 1.8 .8-1.3 .3 .7 0 2.3 .5 .4 .5-.4 1.2-2.6-.4 3.3 .7-.8 .7-.4 .4 .4 .8-1.2 .7-.4-.2 2.4 1.7-3.8-1 4.5 .8-.5 .5-.2 .2 1 1.1-1.7 1.5-2.7-.7 3.4 .5 .2 .5 0 .4 .3 2.2-4.3-.4 2.4-1.2 4.5 .7-.6 .6-.1 1.4-2.2-.2 1.9 .7-.6-.1 1.5 .1 1.2 .5 .1 .8-.9 1.3-2.1 0 1.5-.1 1.5 .4 .4 2.5-5.4-1.6 5.8 .3 .4 1.2-2 .9-.9 1.5-3.1-1.1 4.5-.2 2.2 .3 .5 1.7-3.6 .1 1.3 .3 .6 .3 .5 0 1.4 .7-.4 .9-1.5 .1 1.2 .5 .1 .9-1.4-.1 2 .8-1.1-.2 2.3-2.1 6.5-.9 1.3-.3-.9 .7-3.6-1 1.5-.5 0-.2-.8 0-1.6-1.3 2.3-1.2 2.2 1.2-5.1-1.1 1.8 0-1.5-.8 .7-.5 0-.8 .8-.9 1 0-1.3-.3-.6 .3-2.4-2.4 5.1 .3-2.1-1 1.3 .7-3.4-3.8 8.6 2.2-7.2 .2-1.9-.1-1-.7 .6-1.4 2.2 .5-2.6 .1-1.7-1.3 2.1-.1-1.2-.9 1 .3-2-.3-.5-.7 .3-.9 1.1-.9 1.1 0-1.2-.4-.4-3.8 9.1 3.1-9.8-1.9 3.9 .9-3.9 .1-1.6-.8 1-.5-.2-1.8 4.3 1.3-5.7-.6 .5-1.1 2 .5-3.2-3.5 11.5 2.4-11-1.1 2.6 .3-3.1-.2-.7-.8 1.4-.3-.8-.6 .6-.3-.2-.4-.3-.8 1.7 .1-3-.7 1.3-.9 3.2 .3-4.6-.6 1-.4-.2-.8 2.8-.4-.5-.1-2.8-.5 .8-.5 .3-.3-1.7-.6 2.2-.4-.8-.7 2.2-.1-3.3-1.1 6.9 .2-6.7-.4-.6-.6 1.5-.5 .1-.4-.5-.5 .6-.4-1.3-.4-.9-.4 .1-1 4.4 .1-4.6-.6 .9-.3-1.1-.6 .3-.4 0-.7 1.3-1 3.3-.1-2.5-.1-2.5-.4-.1-.7 1.2-1.2 3.5 .5-4.8-.4-.4-1 2.3-.3-1-.9 1.6 .3-3.4-1.2 2.9 .2-2.5-.4-.5-.9 1.5-.5 .2 .1-2.4-.4-.2-.6 .5-.5 0-2.6 7.3 1.3-6.3-.1-1.3-.3-.6-.5-.1-.9 1.2-1.3 2.9 .7-4.1-1.3 2.8 .5-3.5-.4-.1-.4-.3-1 1.6-.1-1.5-1.6 3.5 .8-4.1-.8 1.1-.2-1.1-1.6 3.6 .2-2.2-.2-1.1-1.2 2.1 .7-3.6-.4-.3-.4-.2-.6 .1-1.4 2.9 .6-3.3-2.1 4.4 1-4.2-1.3 2.3 .2-2.2-.4-.2-.2-.8-.9 .9-.2-.8-1.4 2.2 .8-3.3-1.8 3.4-2.5 5.3 2.6-8.4-.1-1-.8 .6-.3-.6-.5 0-1.3 2.1 .4-2.4-.2-.7-1.1 1.5-.9 .8 .1-1.4-1.2 1.7 .7-3.2-1 1.4-.2-.8-.6 .2-.6 .3-.2-.9-.1-1.1-1.2 2.1-.2-.9-1 1.5 .7-3.5-.4-.2-.9 1.4-2 5.1 .5-3.4 .1-1.7 .1-2.2-.6 .6-1.4 3.7 .7-4.5-1.4 3.7 .3-3-.3-.8-.9 2.3 .1-2.8-.5 .1-.7 1.8-.2-1.7-.4 0-.6 1.1-.2-1.5-.6 .8-.3-1.2-.4 .1-.7 1.6-.6 2-.1-3-.5 .1-.4-.6-.8 4.3-.3-1.9-.4-1-.6 1.9-.3-1-.7 1.7 0-4.3-1 6.1 .1-6.1-.9 3.8-.1-3.6-.6 1.3-.5 1.1-.7 1.4-.2-1.9-.3-1.6-.4-.8-1.1 4.8-.5-.2 .2-4.9-.8 2-.3-1.2-.6 .8-.1-1.9z" fill="#111"/>
<path d="M634.2 113l1.4-3.8-.3 2.8 .4-.1 .7-1.5-.5 4.1 .8-2.1 .6-1.3-.1 2.7 .6-2.1 .1 3.2 .3 .6 .6-2.5 .3 .8 .5-4.2 .2 2.3 .4 3.1 .4 .5 .2-4.1 .5 2.6 .4-.7 .5 1.9 .3-.6 .1-2.9 .6 1.4 .6 2-.2-4.8-.1-3.5 1.2 5.1 .6 1.6 .5 .3 .6 .8 .4-.6 .2-1.6 .6 .9 0-2.8 1 3 0-3.4 .6 .6 .6 .8 .6 .8 .4-1.1 .6 1.2 .6 1 .6 .6 .3-3.4 .7 2.2 .5 .4 .6-1.1 .5 1 .5-.1 .6-.9 .6 .1 .7-.8 .2 2.8 1.1-3.4 0 3.1 .7-.4 .5 .3 .7-.7 .2 1.5 1.4-2.3 .4 .6-.3 2.3 .7-.2 .4 .5 .5 .4 1.3-1.4 .2 .8 .3 .8 .8-.4 1.6-1.7-1.1 3.2 .4 .3 .9-.4 2.5-2.9-1.1 2.8 0 1.1 .1 .9 .9-.4 .4 .4 .1 .9 1.2-1 1.3-.9-.1 1 0 1.1-.5 1.7 .5 .2 2.3-2.7-.2 1.3-.8 2.1 .6 0 .2 .7 .5 0 3-4.4-.8 2.4-.4 1.6-.3 1.6 .7-.5 .8-.6-.1 1.4 .7-.6 .6-.5 .3 .3 0 1.3 .4 .2 .5-.4 .4 .1 .2 .8 1.5-4.5-.3 2.8 1-3.3-.4 4.1 .4 .1 .2 1.1 .6-1.5 .4-.9 .2 1.7 .6-2.2 .2 2.5 .4 .1 .4-.6 .4 1.5 .4-.3 .4-2.7 .4 2.3 .4-4.3 .3-2.2 .6 5.6 .3-1.6 .5 2.6 .5-.4 .4 .7 .4-1.1 .3-2.1 .6 1.9 .5 1.2 .5-.3 .4 .2 .3-2.9 .5 0 .5 .7 .5 1.7 .5 .5 .5-.3 .4-.4 .5 .7 .5-.4 .4-1.6 .5 .2 .5 .9 .5-1.3 .5 .7 .5-2.6 .7-3.5 .3 5.3 .4 1.9 .6-1.5 .4 1 .7-1.8 .3 1.9 .8-2.4 .2 2.4 .5 0 .8-1.7 .2 2 .7-1.1 2.5-10.8-.6 6.7 0 2.9-.3 3.8 1.3-3.3-.4 3.5 .7-.6 .5 .1 2.1-5.4-.2 2.7 .1 1.4 .1 1.5 .2 1 .4 .5 .6-.2 .4 .5 1.3-2.1 0 1.5 1.3-2-.7 3.3 .9-1 .3 .7 1.2-1.4 1-1.2-.7 2.9 .4 .5 .2 .8 1-1.1 .8-.4-.3 1.7 3-5.3-1.5 4.5 .3 .6 .6-.3 1.1-1.3-.6 2.5-.1 1.4 1.5-2.1 .5-.1 .9-1-.7 2.8 1.4-2.1-.4 2.1 .5 0 .4 .1 .4 .2 .7-.6 2.2-5.3-1.9 7 .9-1.6 .1 1.3 0 1.4 1-2.1 .2 .8 1-2.2 .3 .3-.1 1.9 .4 0 .3 .6 .1 1.8 1-3.1 .1 1.9 .5-.7 .6-1.6 .1 2.3 .2 1.6 .6-1.4-.9 8.5-.4-1.1-.6 1.2-.5-.4-.6 1-.4-1-.5 .2-.5-.2-.9 1.9-.7 1.1 .3-4.3-.5 0-.6 .4-.5-.4-1.5 3.8 .4-3.7-.3-.6-.5 0-1.5 2.6-.1-1.3-.6 .1-.7 .4-.3-.8-.4-.4 0-1.4-.5-.4-1.5 2.3-.2-.8-2.9 5.3 1.3-4.2 1.2-4.1-.6 .2-.5-.3-.3-.6-.2-.7-1 1-2 3.1 .5-2.1 .4-2.1-.5-.1-.8 .5-.5 0 .2-1.6-.8 .6-.6 .3 .1-1.5-.6 .3-.2-.7-.5 0-1.5 2.5 .1-1.5-4.2 10.1 3-9.2-.5 .1-.7 .8 0-1.4 .3-2.1-.7 .6-1.1 2.3 .5-2.9-.1-1.5-.6 .8-1.1 2.8-.5 .6 .1-2.3-.1-1.7-.7 1.6-.3-.7-.8 2.6 0-2.7-.4 .4-.6 .9 0-2.7-.7 2.3-.2-2.3-.4 .3-.4 0-.5 .4-.3-.3-.5 .5-.4-.7-.4 1.7-.4 3.3-.4-3.9-.4-1.8-.5-.1-.3 4.1-.5-3.4-.4 2-.4-.8-.4 1.6-.4-1.1-.5-.1-.5-1.4 0 7-.9-6.9-.4 .6-.2 3.6-.3 3.6-.8-6.4-.5-.8-.5-1-.3 3.5-.6-1.3-.5-1.7-.4 1.4-.5 .5-.5-1.9-.5 4.6-.5-5.5-.5 .5-.5-.1-.5 .3-.6 3.5-.4-3.3-.6 1.5-.6 1-.3-2.5-.4-1.1-.8 2.1-.8 1.1-.2-2-.8 1.4-.5-.3-1 1.5 .5-4.1-.5-.3-1.9 4.2-.3-1 .3-2.5-.2-1.2-.9 .8-.3-.8-1.2 1.5-.8 .2 .5-2.4-1 .8 .3-1.8-2.9 4.2 1-3 .5-2.1-1.8 2.1 .4-2-2.1 2.5 .2-1.5 .4-1.7-.9 .4 .1-1.2-.6-.1-1.4 1.1 1-2.5-1 .6-1.3 .9 .2-1.1 .1-1.1-1.1 .6-.8 .3 .5-1.7-.8 .4-1.4 1.2 1-2.4-1.4 1.4-1.2 1.1-.9 1 .8-2.6 .7-2.2-.6 .1-1.5 2.3 1.1-3.3-1.4 2.3 .5-2.5-1 1.7-.3-.4 .1-1.3-3.1 9.3 .8-3.6 1-5.4-.2-.5-.3-.8-1.1 4.7 .2-3.8-.7 3.6-.1-2-.3-.4-.4 1.8-.3 .6-.3-4.9-.4 .2-.4 0-.2 3-.4-.6-.5-1.6-.1 2.7-.6-1.2-.2 1.3-.4 0-.9-2.9-.2 1.4-.4 .2-.2 1.2-.9-2.3-.5-.4 .2 4.1-1-3.4-.5 .1-.3 .8-.7-1.5 .3 6-.9-2.5-.8-2.8-.5-.3-.2 3.3-.5 .6-.6-1.1-.3 4.6-.8-5.6-.5 1.3-.6 0-.5 1.4-.6-.7-.5-1.7-.6 1.3-.4-1.9-.5-.6-.8 2-.3-1.8-.5-.3-.7 1.3-.9 1.7-.3-1.3-.3-1.1-.5-.5-.1-1.7-2.6 8z" fill="#111"/>
<path d="M634 118.8l2.5-5.5 .5 .1-1.7 5.9 1.4-2.2 .2 .8 1-1.5-.6 2.9 .9-1.1 2.1-4.6-1 4.2 .4-.2 .1 1.1 2.2-5.6-1.4 5.8 .1 1.1 .6-.4 .6-.8 .4-.3 .5-.9-.2 3.1 .4 .1 .7-2.5 .1 2.4 .7-3.1 .1 3.2 .8-6.7 0 5.5 .3 1.8 .4-1.3 .4 1.4 .4-2.2 .4 1.3 .3-2.8 .5 1.9 .4 .6 .5 .2 .4-.6 .4 .5 .4-.7 .6 1.5 .5 .2 .4-1.6 .5 .5 .5 .6 .5-1.6 .5 1.7 .5 .3 .5-1 .6-.1 .6-1.4 .5 .6 .7-.8 1.2-4-.3 5.7 .4 .9 .8-.9 .3 1.3 .5 0 .5 .4 1.4-2.4-.2 2.2 .9-.6 2.7-5.1-.9 3.8 .6 .3-.3 1.9-.2 1.8 .5 .2 2-2.7 2.4-3-1.8 4.3 1-.6-.8 2.5 3-4.1-.9 2.7-.2 1.3-.1 1.3 1.4-1.4-.9 2.6 1.2-1.2-.4 1.8 .9-.6 .3 .4 1.3-1.5-.3 1.5 .3 .4 1.6-2.4-.9 2.9 .8-.8 .3 .4-.2 1.6 .9-1.5 .6-.6 0 1.3 .7-1.2 .2 .2 .7-1.4-.4 3.4 1.1-4.2-.4 4.6 .9-4.6 0 3 .4-.7 .3 .3 .4 .2 .3 2.2 .4-2.5 .4 .5 .2-6.2 .7 7.8 .4-.5 .3-2 .4-.6 .6 2.5 .4-.4 .4-.8 .5 .6 .5-.5 .5 1.5 .5-1.2 .4-5 .5 2 .6 .7 .5 1.5 .5 1.4 .4 1 .6-.7 .5 .4 .5 .1 .7-2.4 .3 2.6 .5-.3 .6-.2 .3 1 1.1-2.9 .1 2.1 .5 .1 .7-.7 .9-1.3-.2 2.7 1.2-2.2 .6-.2-.4 3 .5 0 .8-.7 .6-.3 .1 1.3 .8-1.1 .3 .6 4.4-11.8-3.8 13.1 1-1.5 3.4-8.9-2.8 10.2 .6-.5 1.1-1.9-.5 2.8 1.1-2.1-.4 3.1 1.1-2.1 .5-.5-.2 2.7 1.7-4.7-.6 3.8 .9-2-.4 3.8 .7-1.2 .4 .4 .2 1 .8-1.3 .4 0 .8-1.3-.1 2.3 .3 .9 .5 0 .7-1 .2 1.4 1.1-2.9 .3 1.1 .1 1.6 .5-.3 .5 .2 .6-.5 1.1-1.8 0 2 1.5-3.4-.8 4.5 .3 .8 .9-1.3 .2 1.1 .5 0 .3 .7 .5 .1 .3 .7 1-1.3 .5 0 .9-.7-.3 2.1 1.5-2.6-.6 2.9 1.3-1.9 .5 0-.4 2.5 1.3-2.1 .8-.7-.3 2 .3 .5 .8-1 .1 1 0 1.2 .7-.6 .6-.3-.2 1.9 1-1.9 .6-.7-.3 2.5 .3 .4 .9-2.2 0 1.7 .6-1.1 .2 1.1 .4-.1 .8-4.1 .2 .9 0 4.2 .4-1 .4-1.2 .5-7.2 .2 9.3 .4-2.1 .4 1.4 .3-2.2 .4 0 .6 10.9-.4 1-.6-2.6-.5 .5-.5 1.9-.6-.1-.6 3.6-.4-4.2-.6 .3-.4-1.4-.7 1.3-.5-.4-.3-1.6-1.2 3.6 .2-3.9-.6 .3-.9 1.3-1 1.7 0-2-1.2 2 .4-3.4-.4-.1-1.8 3.6 1-4.6-1.4 2.2-1 1.4-.5-.2 .5-2.7-.1-1.2-1.8 3 1-3.8-1.8 3.3 .1-1.5-2.3 4.3 1.2-4.3 .6-2.7-2.3 4.6 1-3.9-.7 .6 .2-1.8-.4-.3-1 1.6-.5 .1-3.3 8.5 2.9-10-.4-.3-.4-.1-.6 .5-1.3 2.9-.7 1.1 .8-4.6-.3-.7-.8 1.6-.6 .7-.2-1.1 0-2.2-1.5 4.6-.1-1.3 0-2.4-.4-.2-.6 .7-.3-1-.8 1.6 .1-2.7-1.1 2.6-.6 .7 .1-2.7-.6 .4-.9 1.7-.5-.2-.4-.2-.4-.5-.9 1.4 .5-3.8-.6 .2-.2-1.1-.9 1.6-.2-1.1-.5 0-1.3 2.3-1.3 2.5 .4-2.9-.7 .7-.2-1 .2-2.1-.3-.6-.2-1-1.7 4-.3-.4-.4-.3 .7-3.8-1.4 3.3 .1-1.8-1 1.9 .6-3.9-2.3 7.5 1.1-6.1 0-1.8-.6 .7-.4 .3-.6 .8-.3-.3-.1-1.7-1.2 6.1 0-2.6-.3-.2-.3-1.2-.3-1.4-.5 3-.3-3.1-.4 4-.3-1.5-.5-2.2-.4 .1-.3 2.9-.4 0-.6-4-.3 2.2 .2 10.5-1.1-11.1-.5-.7 0 8.9-.7-2.5-.8-6.9-.4 1.8-.5 .7-.5-1.1-.6 4.1-.4-5.6-1 10.4-.1-9.8-.7 1.6-.6 .4-.3-2-.6 0-.6 .4-.6 .2-.3-1.6-.4-.3-1.6 3.3-.1-1.6-.9 .6 .2-2.1-3.9 8.1 2.9-8.9-.5-.1-.5-.3-.5-.2-1.8 2.3-.1-1.1-.1-1.1-.6 0-.9 .4 .6-2.1-.6-.2-.9 .5 .3-1.5-1.2 1-1 .6 .2-1.2-1.1 .8 .8-2.4-1.7 2.1-.1-.7-.6 .1 .1-1.1 .3-1.6-1.3 1.7 .4-1.9-.4-.1-.5 .2-.6 .3-2.1 4.9 1.4-5.1-.3-.3-.2-.7-.9 2 0-1.3-1.2 4.3 .3-3-.3 .2-.3-.7-.1-2.4-.4 .9-.3-.6-.4 .8-.4-.2-.4-.2-.3 3-.4-1.4-.5-2.1-.4 1.3-.4-.1-.5-1-.3 1.3-.6-1-.3 2.3-.6-3.1-.4 1.8-.5 .6-.5-1.8-.5 .4-.5-1-.5 .3-.5 1.7-.5-.5-.6 1.6-.6 .2-.4-1.8-.5-.8-.4-.5-1.6 7.8-.1-4.2 0-2.9-1 2.3 .1-3.3-.7 .7-.5-.3-.6 .3-1 1.3-.4-.5-.9 1.3 .2-2.6-.7 .5-.3-.6 .2-2.1-1.3 2-1.4 2.4 1.2-4.6-1.3 2-.1-1.2-.6 .4-1.1 1.5-.5 .1z" fill="#111"/>
<path d="M632.2 145.6l.7 1.8 .5 .2 .5-.1 .6 1.6 .5 0 .5 .1 .5-.2 .5-.2 .5-2.5 .5 2.4 .6-1.8 .5 2.2 .6-1.4 .5 1.5 .7-2.1 .9-2.1 0 3.8 1-2.2 .1 2.7 1.2-3.5 .4 1.3 0 2.3 1.9-5.1 .6 .2-1.1 5.6 1.7-3.5-.2 2.3 .3 .8 .3 .5 .6 .1 1.2-2.2 0 1.6 .4 .3 .2 .9 .3 .6 .6-.5 .2 .8 1.1-2 .2 .7 .3 .7-.1 1.9 .9-1.6-.1 1.7 1.1-2.5-.1 1.8 .6-.7 .4 .1 .5-.6 .1 1.5 1.2-4.8-.6 6 .4-.3 2-12.7-1 11.1 .4 .4 .3 .6 .4 1 .5-1.9 .3 1.9 .4 .1 .6-1.2 .4-.7 .5-.5 .4 .8 .6-.9 .4 .9 .3 2 .6-1.1 .4 1.1 1.2-7.3-.3 7.7 .6-.2 .4 .2 .9-2 .5 .1 .7-1 .3 1.3 .3 1.1 1.2-2.6-.4 3.9 1.4-3.3 .6 .1-.4 3.2 .8-.8 .4 .4 .9-1-.1 2 .6-.2 .4 .3 .3 .6 .9-.9 .4 .2 .7-.5 1-1.1-.8 3.3 .6-.2 .7-.5 .5-.3 .1 1.1 .3 .5 .4 .3 1-1.8 .9-2-.2 2.1-.1 2.2 1.2-3.6 0 1.3 0 2.3 1.1-4.4 .2 .1 0 2.5 .3 .4 .3 .2 .3 1.6 .4-.3 .4-1 .3 .5 .4-.1 .4-.3 .2-1.5 .5 1.5 .1-4.2 .8 4.7 .3-1.2 .5 .4 .5 1 .1-2.9 .6 1.5 .6 .9 .5-.2 .2-2.8 .7 2.6 .4-2.1 .5-.6 .6 1.2 .6 1.5 .5-.8 .6-2.3 .6 1.6 .5 1.6 .5 .1 .9-2.7 .3 2.3 .4 .9 .6 .1 .5 .4 1-1.6 .8-.7 0 2 1-1.1 .6-.1-.2 2.4 .6 0 1.5-2.2 .3 .8-.2 1.8 .9-.7 0 1.3 1.4-1.6 0 1.3 1.9-2.6-1.6 4.2 2.8-4.2-1 3 0 1.1 .5 .1 1.3-1.7-.6 2.3 .6-.2 .3 .4 .4 .2 1.6-2.7-.1 1.1 .1 .9-.3 1.9 .4 0 1.7-4.3-.9 4.3 .4-.5 1-2.5-.6 3.9 .7-1.7 .1 1.9 .5-1.4 .2 1.1 .4-.1 .3 .5 .4-.2 .3-.9 .4 .1 .3-2 .4 1.3 .2-3 .5 2.5 .4-.3 .6 2.4 .5-.1 .2-1.9 .4-.2 .6 .8 .6 1 .2-2.5 .7 2.5 .3-2.8 .7 2.8 .3-2.6 .6 0 .5 .7 .6 1.1 .5-2.4 .5 2.8 .8-4.2 .4 2.3 1.2-6.6-.2 8.7 1.1-4.9 .3 2.4 .4 1.4 .7-.8 .1 2.3 .6-.3 1-1.9 .3 1 .5 .4 .1 1.5 .7-.6 1.6-3.1 .3 .9 1.1-1.5-.3 2.4-.4 2.5 .4 .4 1-1.4-3 8.4-1.8 3.5 .8-3.5-.9 1 0-1.1-1.4 2.6 .3-2.2-1.5 3.2-.8 1.4 .4-2.3 0-1.5-.6 .8-.5 .8 .4-3.7-.6 1.4-.4 0-.4 .8-.5 .8 .2-4.1-.8 4.6-.1-3.2-.3 .1-.4 2.1-.3 1.4-.3-1-.4-1.5-.4-.4-.4-.6-.5-1.1-.2 2.2-.2 1.6-.5-.2 .5 8.4-1.5-10.4 .3 7.4-1.4-8.7-.2 2.2-.6-.7-.5-.5-.6-.3-.5-.2-.4 2.2-.6-2.5-.5-.2-.5 2.3-.6-1.3-.5-.2-.5-.8-.7 1.1-.9 3.3 0-4.7-.6 .2-.6 .1-.6 .2-3.1 9.8 1.8-9.4-.7 .3-1 1-.3-1-.6-.1-.4-.5-.5-.4-.2-1-.6 0-2.2 3.3 .9-3.1-.1-1.1-1.7 2.2 1.1-3.2-.4-.5-.6 0-2.5 3.8-.4-.3 1.6-4.1-.4-.3-1.7 2.4 1.1-3.4-1 1.1 .1-1.3-.9 1.2-1.7 3 .6-2.5 .4-2-.4-.1-.8 1.2-.4 .4 .2-2.1-.5 .2-.2-.5-.8 2.2-.4 .6 0-2.2-.3-.9-.4 .8-.4 1.8-.3 1-.3 0-.4-2.6-.3 2.4-.4-1.2-.3 .9-.5-2.3-.3 1.4-.6-1.3-.4 .2-.1 2.7-.7-2.3-.6-.9-.4 .9-.5-.9-.4 1.1-.6-1.2-.3 2.5-.6-.7-.4 3.9-.7-4.2-.5 .2-.6 .3-.5-.7-.5-.8-.6 .5-.6 .6-1 3.5 .1-4.8-.8 1.1-.9 2.1 0-3.3-1.5 4.2 0-2.5 .1-2.5-.7 .3-.4-.2-.7 .3-1.3 2.3-.4-.4 0-1.9-.9 1-.1-1.1-3.1 7 .9-4 1-4.1-.3-.5-.1-1-.7 .4-.3-.3-.8 .9-.4-.3-.8 1-.4 0 .2-2-.2-.8-1.3 2.9 0-1.5-.1-.9-.3-.6-.5 .5-.5 .4-.3-.5-.4 .2-.5 .3-.2-1.3-.6 1.7-.3-.8-.4 .2-.7 2.8-.2-2.1-.5 1.8-.5 1.1-.2-3-.6 2.8-.3-2.6-.6 1.5-.2-3.9-.6 2.3-.4-1.2-.4-.9-.5 .5-.5-.6-.5 .5-.8 2.1-.2-2-.9 2.3-.1-2.6-.5-.6-.8 1.7-.3-1.1-.7 .4-.1-1.8-.4-.5-1.1 2.3-1 1.5 .4-3.4-.9 1.3-.2-1.1-1 1.3-.1-1.4-.1-1.2-.9 1.1 0-1.6-.6 .1-1.7 3.7 .5-3 0-1.4-.5-.1-.3-.4-1.7 3.6 .6-3-.5-.1-.6 .7-.4 0-.7 .9-.5 .6-.3-.2-.2-.5-.1-1.5-.3-.6-.3-.5-.5 1.6-.2-1.3-.5 1.2-.3-.6-.4 .2-.3-1.1-.3-.7-.4 1.4-.4 .5-.3 0-.4 0-.3 2-.4-1.1-.5-1-.6-1.5-.2 2.1-.6-1.2z" fill="#111"/>
<path d="M634.7 189.4l.4-.1 .3 .6-.1 2.2 .6-.8 .1 1 .8-1.7 .7-1.7-.2 3.3 1.2-5.3-.2 3.4 0 3.1 .4-.4 .5-1.3 .2 1.6 .6-8 .2 6 .3-3 .4 3.1 .4-.4 .2-1.8 .7 4 .4 .1 .3-.6-.1-4.3 .6 1.9 0-3.2 1.3 5.7 0-2.4 .3-1.2 .7 1.4 .7 1.5 .2-1.8 .6 .8 .6 .9 .5-.4 .5-.1 .5 0 .5-.1 .5 .9 .5-.5 .5-.5 .5-.5 .6-.6 .7-3.1 .3 4.8 .7-1.5 .8-3.1 .2 4.1 .5 .4 .6-.6 .7-.9 .5 .6 .3 1.2 1-2.2 .8-.6-.1 2.2 .3 1.1 .6-.4 1.1-1.6-.4 2.9 1.2-2.2-.3 2.5 .5 0 .8-.9 0 1.6 2.1-5.2-.6 3.5-.2 2 1.2-2.4-.1 1.9 .8-1.7 .1 1.3 .3 .5 .6-.9 .5-.6-.1 2.4 .6-1.2 .4-.5 .5-1.7 .1 1.9 .2 1.9 .5-1.7 .3 1.4 .4-3.1 .3 1.4 .1-5.4 .7 7.5 .3-1.4-.9-12.1 1.5 10.6 .7 2.5 0-2.8 .6 1.2 .7 1.6 .2-1.1 .4-.6 .6 1 .1-2 .7 1.4 .2-1.7 .8 1.7 .2-1.7 .8 1.9 .6 .4 .4-.3 .5 .2 .5-.3 .5 .2 .5-.1 .5-.5 .5-1.6 .5-.5 .6 .7 .5 1.9 .5-.2 .6-1.8 .6-.3 .3 2.2 .6-.1 1-4.1 .2 3 .5-.1 .3 1.2 .4 .4 .5 .1 .7-.7 .6-.4 .7-1.2 .4 .7 .3 .6 2.1-6.9-.6 4.6-.1 2.5 .7-1.2 .1 1.3 .4 .3 .4 0 .5-.6 .3 .7 .5-.3 .4-.7 .2 1.7 .4-.7 .3 1.6 .4-.1 .3 .1 .6-3.1 .2 1.9 .4-.9 .4 .2 .4 2.7 .4-1.2 .4 .4 .4-.1 .4 .2 .2-2.3 .4-.6 .6 2.5 .3-1.3 .7 1.9 .3-.8 .5 .5 .3-2 .6 1.5 .4-1.1 .3-2.1 .8 3.9 .4-2.5 .6 1.5 .5-.1 .5 .9 .5-4 .6 .3 .5 2.3 .6-.5 .6-1.1 .6-.1 .4 1.1 .6 .1 .4 1.1 .9-1.7 .2 1.8 .8-1 0 2.2 1.9-5.2-.8 5 .3 .9 .6 0 .3 .4 1.3-2.3 0 1.6 .2 1 1.5-2.9-.4 2.9 1.2-2.2-.5 3 1.4-2.9-.4 2.8 .9-1.4 0 1.2 .5 .1 .3 .5 1.1-2.7-.3 2.7 .3 .5 1-3 0 1.9 .1 1.6 .7-2.6 1.2-8.1-.7 9.7 .4-1 .2 2.2 .4-3.9 .4 3.4 .3-1.5 .4 2 .2-2.9 .2-.5 .2-.9 .5 1.1 .6 1.1 .5 .7 .2-1.1 .8 2.1 .1-1.6 .7 1-.2-2.8 .3-.7-.9-5.3 2.3 7.2 .3-.5 0-2.1 3.1 12.9-.8-1.5-.2 1.2-.9-1.9 .2 2.9-.7-.8-.4 .4-1-2-.5 0-.3 .7-.3 1.4-1-2.3-.1 2.6-.5 .3-.7-1.1-.4 1.6-.8-3-.5 1.3-.6 .4-.5 .3-.6 0-.6 0-.6 .1-.5-.8-.5-.2-.9 1.8-.2-2.6-.3-.8-1.2 2.9-.5-.7 .1-2.6-.7 .9-.4-.5-1.2 2.2-1.7 3.5 1.3-5.7-.8 .6-.7 .5 .4-2.6-3.7 9.3 2-7.2 .4-2.8-.8 1.1-2.3 5.8 1.2-5.4 0-1.3-.3-.3-.3-.5-.9 1.8 .1-2.1-.7 1-.1-1.1-1.2 4.1 .1-2.6-.4 .4-.1-1.8-.5 1.3-.5 .8-.3-.3-.2-2.3-.5 3.2-.3-3.3-.4 3.1-.3 .3-.5-2.5-.4 .1-.3 .8-.5-.7-.4-.3-.3 2-.5-.8-.5-.7-.5-.2 .1 5-1-5.3-.4 .9-.6-1.1-.4 .6-.4 1.5-.6-1.5-.4 1.2-.5 .1-.6-1.1-.5 .1-.5 0-.5 1-.5-1.9-.5 0-.6 1.2-.7 1.6-.4-.8-.5-.8-.6 .8-.4-.9-.3-1.4-.6 .5-.7 1.3-.3-1.1-1.1 2.8 .1-2.9-1.1 2.5-.3-.6-.1-1.6-.1-1.7-.5 .2-.5 .2-1.8 6.1 .8-5.7-.4-.4-.7 1.6-.1-1.7-.6 1.2-.2-1.5-.5 1.2-.2-1.5-.4-.3-.4 .8-.4-.1-.3-.5-.4-.3-.4 .2-.3 1.6-.4-1.7-.3 3-.3-.5-.6-3.2-.5 .1 0 3.2-.6-1.8-.5-.9-.4 .4-.5-.4-.2 1.4 .2 3.7-1.1-3.8-.3 .8-.8-1.5-.4 .3-.4 .6-.5-.6-.4 .6-.5 .1 .1 4.9-1.2-5.4-.4 1-.5 0-.5 1.4-.6-1-.5 .5-.5 7.1-.6-8.4-.6 .6-.5 .3-.6 .2-.4-2-.8 2.2-.6 .3-.1-2.6-.9 1.6-1.1 2.8 .3-4.3-.5 .1-.5-.4-.3-.6-1 1.5-.7 .7 .1-2.2-.9 1.2-.1-1.1-.7 .4-1.4 2.7 .3-2.4 .1-1.8-1.5 3.3-.3-.4 .3-2.5-.6 .7-.5 .1 0-1.5-.5 .4-.5 .4-.3-.4-.6 1 .1-2.3-.5 .5-.8 3.2 .1-3.2-.5 1.2-.2-1.6-.4 .7-.4 3.2-.4-4.4-.2 3.5-.5-3.5-.1 4.3-.6-2.4 .4 7.6-.9-5.5-.7-2.2-.3 .2-.1 2.4-.5-.8-1-3.2 0 2.4-.7-1.2-.3 1.3-.6-1-.5 0-.5-.2 .2 5.5-1.1-4.6-.6-.5-.2 3.5-.9-4.7-.3 4.2-.7-3.4-.4 4.2-.6-3.4-.6 .2-.5-.1-.5-.3-.7 1.2-.3-2.1-1.8 9 .1-5 0-3.6-1.1 2.8-1.1 2.4 .5-4.8-.2-1.5-1.4 3.5 .3-3.5-1.6 3.9 .9-4.9z" fill="#111"/>
<path d="M633.3 219.1l.5-.5 .4 .5 .4 .1 .7-5.7 .4-1.7 .1 6.7 .4 0 .3 .7 .4-.1 .4-.1 .4 .4 0-3.9 .2-.2 .8 3.2 .2-.9 .4-.3 .1-.9 .9 2.2-.4-3.3 1.3 3.4-.8-4 1.6 3.7-.4-2.4 1.1 1.7-.7-3.2 1.2 2-1.1-4.3 2.2 4.7-.5-2.8 1.5 2.7-.7-3.3 .6 .2 1.3 2 .1-1.3 1.2 1.9-.3-2.5 .3-1.2 1.4 3.1 .1-1.7 .4-.9 1 2.1 .2-2.1 1 2.1 0-3.5 .4-2.4 1.1 4.7 .6 .9 .6-.3 .5 .3 .7-2 .5 .9 .6 .2 .9-2.3 .3 2.4 1.5-4.3-.6 5.5 .7-.5 .9-1.2 .2 1.2 1.7-3.1 .5 .4-.9 3.9 1-.8 0 1.3 .4 .3 .9-.7 .6-.1 .9-.9 .2 .8-.4 2.1 .9-.8 .4 .3 1.1-1.5-.1 1.6 1.6-3-.8 3.2 .1 .9 .8-1-.1 1.6 1-1.7-.1 1.5 1.6-4.4 .8-2.3-1.3 7.2 .5-.8 .4-.5 .4 0 .2 .6 .4 .1 .4-1.5 .2 2.5 .4-2.9 .3 1.2 .3-.1 .3-2 .3 1 .6 2.5 .3-1.2 .5 1.1 .3-.9 0-2.2 .3-.3 1.1 3.8 .3-.6 .2-1.5 .7 1.2 .5 .3 .1-1.6 .1-2.1 .6 .7 .6 .9 .8 1.6 .4-.7 .5 .2-.1-3.2 .5 0 1 3.1 .3-1.2 .7 1.1 .3-1.2 .5 .4 .6 .4-.1-4 .9 3.1 .6 1.1 .5-.2 .2-2.1 .8 2.2 .2-1.9 .5-.5 .5 1.1 .5 0 .3-1.6 .6 2 .3-2 .6 1.8 .4-.4 .5 .1 .1-2.6 .7 1.7 .4-.4 .6 2 .2-2.4 .1-2.5 .9 4 .1-2.5 .4-.1 .4 .1 .6 .7 .6 1 0-2.2 1 3 .2-1.7 .6 1.2-.6-6.2 1.1 3.7 1 2.9 .3-1-.1-3.1 .5 .1 .8 1.5 .3-1.4 .9 2.6 .3-1.2 .6 .7 .7 1.5 .4-1.6 .2-3.8 .8 4.3 .6 .4 .5-.2 .6-5.9 .5 5 .5 1.1 .5 .6 .5-.3 .8-1.8 .4 .8 .6-.3 .3 1.7 .6-.4 .7-.7 1.4-3.2 1.3-2.4-1.5 7.6 1.3-2.5-.3 2.6 1.1-1.4 .3 .7 1.4-2.4-.9 4 1.6-2.7 0 1.3-.2 1.9 1.8-3.1-.6 2.7 1.5-2.4 .3 .5-.1 1.5 .6-.5-.3 2.1 1-1.4 .1 .8 .1 1 .6-.4 .6-.9 .8-1.6-.5 3.5 .4-.2 .5-.3 .5-1.3 .3 0 .4-.8 .2 1.4 .3 .3 .3-1.5 .3 1.6 .3 0 .4 .6 .1-2.1 .6 2 0-2-.2-2.6 .8 2.3 .5 .7 .8 1.4-.6-3.5 1 1.9-.2-2.1 1.5 3.4-.3-2.4-2.5-8.5 3.8 9.7 3.9 11.2-1.7-3.3-.4 .5 .2 2.1-.7-.5-.9-1-.5 .3-.7-.6 .1 2.8-.7-.5-1.1-2.3-.2 1.8-.8-1.4-.1 3.3-.8-1.1-.4 3.4-.8-3.2-.7-.3-.5-2.3-.6 1.3-.7 .1-.6 .5-.4-1.9-1.1 3.5-.3-2.1-.3-1-1.1 1.8-.6 .1 .4-3.6-1.6 3.4 .4-3.2-.4-.3-.8 .6-1.1 1.6-.4-.7-.8 .9 .7-3.4-1.2 1.7 .3-1.9-1.7 2.8 0-1.2-.4-.2-.3-.4-.2-.9-.6 .6-.3-.3 0-1.6-.6 .7-1.1 2.2 .4-2.6-.4-.2-.3-.2-.4-.1-1.1 3.8 .3-3.6-.7 3 .2-4.3-.7 2.9-.2-1.8-.3-.8-.4 2.5-.3-.9-.3 5.2-.5-7-.4 .4-.2 2.2-.3 .6-.5-1.4-.1 2.6-.6-1.9-.3 .5-.6-1.2 .1 3.4-.7-1.8-.9-2.7-.3 .5-.6-.7 .1 3.2-.8-1.6-.7-1.4-.2 1.3-.1 2.1-.6-.5-.8-2-.5 .1-.3 1.2-.4 .1-.7-1.2-.4 .6-.6-.7-.4 .4-.3 1.6-.6-1.1-.4 .2-.6-.4-.2 2.2-.6-.7-.6-1.8-.4 .8-.5-.5-.4 .7-.5-1-.3 1.7-.5-.5-.5-.9-.1 3-.4 .4-.8-3.5-.3 1.9-.2 1.1-.6-.7-.6-1.4 0 2.7-.9-3.2-.4 .3-.4 .4-.2 1.4-.1 1.6-1.1-3.3-.2 .9 0 2.3-1.1-2.9 .5 4.3-1.1-2.8 0 2.3-1.2-3.6-.2 1.2-.7-1.1-.2 1.5-.3 1.5-.4 .2-.5 0-.6-.4-.6-.3-.4 1.1-.3 2.6-1.1-5.3-.3 2.7-.5 0-.6-.1-.6-2.5-.6 4-.5-4.1-.7 3.1-.3-3-.9 2.4-.4-1.4-.9 2.2 0-3.4-1.2 2.8-.3-1.3-.1-1.8-.8 .9-1.6 3.1 .6-3.7-.9 1 .3-2.4-.6-.1-2.3 4.4 1.4-4.8-1.9 3-.1-1-1.3 1.7 .5-2.5-1 1.1 0-1.2 .6-2.6-.8 .7-.3-.4-.3-.6-1.2 2-.8 .8 0-.9-.1-1-1 1.9-.1-.7-.2-.7 .2-2.1-.6 1.4-.3-.2-.1-1.2-.3-.8-.4 .4-.6 4.7 0-5.4-.4 2.7-.2-.6-.4-.6-.4-1.2-.3 .3-.3 .8-.5-1.1-.4 0 .1 2.4 .5 3.1-.8-1.7-1-2-.4 .1-.3 .3-.4 .3-.3 .3-1-1.5-.3 .5-.5 .2 .3 2.1 .7 3.2-2.5-5.2 0 1.5-.3 .6-.5 .2-1-1.3-.5 .2 3.4 12.8-4.3-12.4-.5 .3-.4 .6 1.4 8.9-2.5-9.1-.2 2.3-1-2.5-.3 1.8-.6-.2-.4 1.5-.4 2.9-.9-5.5-.5 3.4-.6-3.2-.5 1.9-.5-1.1-.7 1.4-.4-1-.6 0-.3-1.7-.4-.6z" fill="#111"/>
<path d="M632.5 222.9l.3-1.4-.2-4.7 1.3 6.5 0-4 .7 1.6 .7 2.3 .4-.8 .3-2.1 .6 1.7 .4-1.8 .7 2.3 .5 .2 .3-2 .5-1.3 .6 2.7 .5 1 .5-1.6 .5 .1 .5 .4 .5-1.6 .5 1.3 .5-1.8 .6-1.5 .3 4.7 .5-1.2 .7-3 .3 2.6 .7-3.3 .1 4.3 .9-4.5 .2 2.3 .4 1.4 .3 1 .5-1 .5 0 .4 .1 .4 .6 .4 .9 .4-.5 .4-1.1 .5-3 .3 3.3 .4-.9 .4 .7 .4 .1 .4-.4 .4 1.1 .3-1.7 .3-1-.1-4.9 .7 4.1 .7 2.7 .3-1.2 .3-.5 .4-.1 .9 3 .3-.7 .1-2 .8 2 0-2.1 .2-1.5 .8 1.7 .5 .2 .5 .3 .6 .5-.1-3.3 .7 1.3 .6 .1 .7 1.3 .1-2.4 .9 2.4 .3-1.6 .6 .9 .5-.9 .7 2.5 .4-2.9 .6 1.7 .5 1 .5-4.1 .6 4 .6-3.4 .9-5.1 .2 5.5 .5 .8 .8-1.8 .8-1.4-.2 5.3 .5-.1 1.8-7.1-.1 3.6-.1 3.4 .9-1.9 0 2.2 .7-.4 .1 1.4 1-1.8 0 1.6 1.8-4.9-.8 5 .9-1.6-.2 2.5 1.2-3.2 .3 .8 .2 1 .3 .5 .3 .7 1.2-4.4-.3 3.5 .4 0 .6-1.2-.1 3.2 .5-.9 .5-.9 .3 .2 .3 1 .4 .7 .4-1.6 .3-3.2 .4 3.1 .4-.3 .4 1.1 .2-1.6 .5 .5 .5 1.5 .2-2 .5 1 .4-.2 .2-1.1 .7 1.8 .3-1.1 .4-.1 .4 0 .1-2.3 1 2.7 .6 .9 .2-1.6 .6 1.1 .5-.4 0-2.6 1 2.7 .1-2.7 .8 2.2 .4-.5 .3-1.8 .8 2.2 .5-.1 .5 .7 .4-2.8 .6 2 .5 .1 .5-1.7 .6 .7 .4 1.1 .5 .5 .6-1.1 .5 0 .5 .1 .6-.7 .4 1.1 .4 0 .6-.8 .9-3 .3 1.6 .2 1.9 1.1-4.2-.3 5.2 .9-2.7 .8-3 .1 2.4 0 3.2 .9-3.8-.1 4.8 .5-.7 .5-1.5 .2 2.1 .5-.9 .5-.8 .3 .2 .4-.6 .4 .4 .4-4.4 .3 4 .3-1.2 .6 3.5 .3-1.6 .5 1.6 .2-1.7 .2-1.8 .5 1.4 .5 .5 .5 .6 .4-.2 .3-1.1 .7 2-.1-3.1 .5 .6 .5-.2 .6 1.1-.1-2.9 .7 .8 .6 .9 .6 .8 .1-2.7 1.1 3.9 .5 0 .2-1.9 .3-1.4 .7 .8 .6 1 .5-.1 .2-4.1 .5-.8 .9 5.6 .4-3.9 .6 3.3 .5-.7 .5 1.7 .6-1.1 .4 .6 .7-2 .4 1 .4 1.4 .5 .2 .5-.3 .9-2.6 .1 3.1 .7-1.8 .7-.9 .2 1.8 .6-.7 .4 .2 .8-1.7 .3 1.2-2 10.6-.4-.4-1 3.1 0-2.3-.5-.1 0-2.4-.4-.1-.8 2.4-.3-.7-.1-2.2-.8 3.1-.3 0-.4-.4-.1-2.7-.5 1.7-.4 .3-.3-1.2-.4-1.2-.4 2.7-.4-2.4-.3 2.6-.4-.2-.5-2 0 3.7-.2 1.8-.7-2.9-.5-1.4-.5-.6-.6-.7 .4 4.7-1-3.3-.3 1.1-.8-2.4 .1 3.4-.4-.1 .2 3.7-1.3-4.4-.8-1.6 0 2.4-1-2.9-.3 1-.4 1.2-.5 0-.3 1-.9-2.7-.4 .6-.3 2.9-.4 1.2-.8-3.4-.4 2.7-.5 .2-.6-.9-.6-2.5-.5 3.2-.5-3.6-.4-.3-.5-.1-.6 1.5-.5-.9-.5 .5-.4-.6-.6 1.1-.4-1.2-.6 1-.7 1.5-.2-2.2-.4 0-.5 .2-.4-.2-.3-1.4-.5 .1-.7 2.1-.5 .6-.3-.8-.2-2.1-.9 5.3-.1-2.5-.5 1.1-.2-3.1-.4 .1-.4 2.2-.4-1.9-.3 2.1-.3 2.6-.5-4.8-.3 .7-.4 .1-.4 .3-.3 .8-.5-1.9-.4 0-.5-.6-.4 .6 .3 4.4-1.1-4.6-.4 .5-.3 .9-.5-.5-.6-.7 .2 3.4-1.2-3.6 .3 3.8-1.1-3.1-.2 1.5-.2 1.8-.9-2.3-.2 1.8-.8-2-.5 .2-.3 2.2-.7-1.3-.5-.3-.5 .1-.6 .2-.5 2.1-.6-2.6-.5-.4-.5 .4-.6 .2-.6 1.5-.5-1-.9 2.9-.6-.1 0-3.7-.5-.2-.4-1.1-.7 .9-.2-1.5-.6 .4-.8 1.6-.1-1.9-1.2 2.7-.4-.5-.6 .5-.5 0-.4-.4-1 2.3 1-5.8-.7 .8-2.3 7.9 1.7-8.9-.4-.2-.9 1.9-.4 0-.4 .2-.2-.9-.4-.2-.2-1.3-.8 3.5-.3-.3-.2-2.2-.3-.7-.4 1.5-.4-.5-.3-.5-.4-.1-.4 .2-.4-.9-.2 2.4-.6-2.5-.3 .9-.1 2.7 .1 3.6-1.4-7.2-.4 .2-.3 .5-.5 0-.3 .6-.3 .7-.3 .5-.7-.7-.1 1.6-.5 .1-.3 .5-1.1-2.9 .2 3.8-1.1-3.3 .4 5-.9-2.2-.9-2.3-.5-.6-.2 2.4-.8-1.8 .1 5.5-.8-2.6-.6-.8-.6-1.3-.4 2.3-.6-2.4-.4 5.9-.6-3.8-.6 2.1-.5-2-.6 5.6-.3-7.8-.5 0-.4-.6-.5-.1-.9 5.6-.3-2-.2-3.6-.5 .7-.6 .8-.3-1.1-.5 .1-.5 1.5-.3-1.8-.6 2.1-.2-3-.5 .2-.4 .5-.4 .2-.5 2.8-.4 2.6-.4-5.2-.4-1.3-.4 1.6-.3 2-.5-3.1-.3 2.4-.3 1.5-.6-2.9-.3 .9-.6-1.5-.3 .6-.4 .7-.6-1.8-.1 2.9-.8-2.8-.1 2.4-.7-1.8 0 3.2-.8-2.6-.2 2.1z" fill="#111"/>
<path d="M633.5 224.1l.2 3.4 .8-5.2 .3 2.8 .2 2.6 .6-2 .4 1 .5-1 .5-.5 .4 1 .5-1.1 .3 1.9 .5 .5 .5-2.1 .4 2 .7-3.8 .3 2.1 .4-.8 .5 .4 .3 2.3 .6-4.3 .4 1.2 .3 3.1 .4 .1 .5-.3 .4-.3 .5-.7 .4 .6 .4 .6 .5-1.8 .4 .9 .4 1.5 .5-3.1 .4 2.1 .4-.1 .5-1.8 .4-6.9 .4 8.9 .5-1.7 .4-.1 .5 2 .4-2.9 .4 2.1 .4-3 .5 2.5 .5 .9 .4 1.3 .4-2.7 .4-.4 .5 1.9 .5 .3 .5 .2 .4-.5 .4-1.6 .5 2.7 .4-2.5 .2-10.1 .7 11 .5 .8 .5 .4 .4-.7 .3-5.9 .6 6.6 .5 .2 .4-.7 .5-1.7 .4 .5 .5 .2 .4-.6 .5 2.2 .4-4.9 .5 1.6 .4 .6 .5 2 .5 .3 .4-.4 .4-5.6 .5 6.7 .5-.2 .4-1.8 .4-.6 .5 1.7 .4-1.4 .5 .5 .4-2.7 .4 1.6 .5 0 .4 .9 .5-.1 .4 1.2 .4-1.7 .4-1.9 .6 3.1 .3-1.4 .5 1.3 .5 1.2 .4-1.3 .5 .9 .4 .5 .2-4.6 .5 .8 .7 3.3 .1-4.3 .7 3.5 .5 .3 .2-2.7 .5 .7 .5 1 .5 .4 .5 0 .2-3.3 .7 3.4 .3-1.8 .4-1 .4-.3 .7 3.9 .1-6.1 .6 2.7 .7 3.2 .5 .2 .4-1.4 .4 .2 .4-1.9 .6 1.6 .4-.9 .4-.8 .5-1.3 .5 1.6 .5 .8 .5-3.1 .5 4.5 .4 .2 .5-2.9 .5 2.8 .5-1.5 .4 1.6 .6-2.1 .4 2.1 .5-1.3 .5 .3 .4 1.4 .5-.8 .5-1.4 .6-1.5 .3 2.6 .5-.6 .4 1.8 .6-2.3 .5-.4 .5 .2 .3 1.9 .8-3.4 .6-1.3-.1 5.6 1.2-6.7-.3 6.9 .6-1.7 .3 1.3 .7-1.6 .5-.6 .2 1.8 .4 .6 .7-2.3 .4 1.1 .5-.7 .3 1.2 .3 1.1 .7-1.9 .4 0 .4 .9 .3 1.5 .6-2 .5-1.3 .2 3.3 .4-.3 .5-.1 .5-.6 .4 .6 .6-3.1 .3 2 .4 .6 .4 1.2 .5-1.9 .4 .2 .4 1.8 .4-.4 .5-2.1 .4-2.1 .4 .5 .4 .9 .5 2 .4-2 .4 1.1 .5 .5 .4-1.6 .4-.8 .5 2.6 .4 .8 .4-1.1 .5 1 .2-4.3 .6 3.4 .5 1.1 .3-1.9 .6 1.4 .2-3.3 .6 2.8 .2-2.8 .7 3.5 .3-1.7 .4-.5 .1-3.8 .3-1.2 1 5.3 .5 .7 .4 .1 .3-1.6 .6 1.5 .5 .7 .5 .1 .4 0 .2-2.2 .4-.8 .8 3.2 .3-1.6 .4-.3 .6 1.7 .4-1.1 0-4 .9 3.7 0-3.4 1 4.1-.3-6 1 4.3 1.3 11.6-.7-2.3-.3 1.1-.8-2.3 0 3.2-.8-2.9 0 4.3-.4 .3-.8-3-.3 1.3-.7-1.8 .1 4.8-.9-4-.5 0-.3 1.7-.7-2.7-.5-.2 0 4-.9-3.3-.4 .2-.2 2.4-.6-.8-.1 3.7-.7-2.1-.6-1.3-.3 1.5-.8-3.3-.3 1.2-.6-1.7-.2 3.5-.7-2.7-.4 .5-.3 3-.6-.8-.5-1.5-.6-2.1-.3 2.9-.6-2-.4 0-.5 .8-.4 3.3-.5-3.7-.5 1-.5-.3-.4-1.6-.5 4.8-.5-2.4-.5 1.1-.5-.4-.4-1-.5 .4-.5 0-.4-1.3-.5-1-.5 2-.5 .2-.4-2.2-.5 .6-.5 .5-.4-1.2-.8 4.2-.3-1.9-.3-1.6-.6 1.3-.5 .1-.7 1.9 0-4.3-.6 1.7-.3-2.3-.4 .1-.5 .1-.4-.3-.6 1.1-.5-.2-.3-.8-.6 .6-.3-.7-.6 .8-.5 .9-.3-1.2-.5-.4-.4 .1-.7 2.6-.4-.8-.9 4.9-.1-3.4-.3-.9-.7 3.3 .1-6.6-.8 4.3-.3-1.5-.4 0-.5 .6-.3-2-.3-1.9-.4 .2-.6 2.4-.4-.2-.4-1-.4-.9-.4 1.8-.4-1-.4 1.7-.5 1.1-.4-2.7-.4 2.7-.4-2.5-.5-.1-.4-1.3-.4 2.1-.4-.4-.5-.5-.3 2.1-.6-3.5-.4 1.8-.5-1-.4-.2-.1 6.4-.7-4.8-.3 2.8-.6-2.5-.5-.4-.4-.1-.4 .4-.5-.8-.5 .3-.5-1.4-.5 .6-.4 .4-.5-.9-.5 .1 0 6.3-.5 .6-.7-5.4-.5-.8-.5-.5-.5 .1-.2 4.5-.6-2.4-.5-.7-.5 0-.5-.6-.5-1-.3 3.5-.4 1.3-.6-2-.5-2.7-.4 .7-.4 2.4-.6-3-.4 2.8-.4-1.3-.5 .4-.5-2-.4 .4-.5-.1-.4 3.9-.5-2.1-.4-1.3-.5 2.3-.4-1.5-.5-1.1-.4 3.1-.5-3-.3 5.8-.6-6.3-.4 2.5-.4 2.3-.5-4.3-.4 4.5-.4-.8-.5-4.2-.5 1.9-.4-1.3-.4 2.7-.5-1.1-.2 7.7-.7-8-.4 2.6-.5-1.8-.5-2.4-.3 4.9-.5-2.7-.4 .6-.5 .1-.5-2.9-.4 1.2-.5 1.4-.4 3.2-.5-2.2-.5-3.2-.4 2.9-.5-2.7-.5 .2-.4-.3-.5-.6-.4 6.3-.5-3.6-.5-2.3-.5 6.6-.4-6.2-.5 1.1-.4-1.5-.5 3-.5-1.6-.4 .1-.5-1.7-.4 .1-.5 1.6-.6 3-.4-3-.4-.4-.5 1.2-.5 0-.4-1.8-.7 4-.2-4.6-.5 .8-.7 4-.4-1.6-.2-3.7-.5 1.4-.6 1.9-.4-1.4-.3-1.7-.7 4-.7 3.2 0-6.7-.5 .1-.4 .2-.4-.5-.5 .8-.4-.9-.5 0z" fill="#111"/>
<line x1="620.90" y1="277.90" x2="728.30" y2="277.90" stroke="#111" stroke-width="3.5" />
<g transform="translate(639.82,308.40) scale(0.9647,1)"><text font-size="26.57" fill="#111" stroke="#111" stroke-width="0.36">200 ms</text></g>
<g transform="translate(38.77,384.60) scale(1.0434,1)"><text font-size="35.86" fill="#111" stroke="#111" stroke-width="0.34">ii</text></g>
<path d="M55.7 438.4l.5 .6 .5 .1 .5-.3 .5 .2 .5-.2 .5 .4 .5-.3 .5-.3 .5-.7 .5 1.1 .5-.4 .5 .4 .5-.3 .5 .4 0 5.7-.5 0-.5 .3-.5 .1-.5 0-.5-.6-.5 .5-.5-.3-.5 .5-.5 .1-.5-.6-.5 .3-.5 .3-.5 0-.5-.2z" fill="#111"/>
<path d="M62.3,442.0 L62.5,438.7 L62.8,435.6 L63.0,432.7 L63.3,430.1 L63.5,427.6 L63.8,425.3 L64.0,423.1 L64.3,421.1 L64.5,419.2 L64.8,417.5 L65.0,415.9 L65.3,414.4 L65.5,413.0 L65.8,411.7 L66.0,410.4 L66.3,409.3 L66.5,408.3 L66.8,407.3 L67.0,406.4 L67.3,405.5 L67.5,404.7 L67.8,404.0 L68.0,403.3 L68.3,402.6 L68.5,402.0 L68.8,401.5 L69.0,401.0 L69.3,400.5 L69.5,400.0 L69.8,399.6 L70.0,399.2 L70.3,398.9 L70.5,398.5 L70.8,398.2 L71.0,397.9 L71.3,397.7 L71.5,397.4 L71.8,397.2 L72.0,397.0 L72.3,396.8 L72.5,396.6 L72.8,396.4 L73.0,396.2 L73.3,396.1 L73.5,395.9 L73.8,395.8 L74.0,395.7 L74.3,395.6 L74.5,395.4 L74.8,395.3 L75.0,395.3 L75.3,395.2 L75.5,395.1 L75.8,395.0 L76.0,394.9 L76.3,394.9 L76.5,394.8 L76.8,394.8 L77.0,394.7 L77.3,394.7 L77.5,394.6 L77.8,394.6 L78.0,394.5" fill="none" stroke="#111" stroke-width="3.6" stroke-linejoin="round"/>
<path d="M62.3,442.0 L62.5,439.5 L62.8,437.2 L63.0,434.9 L63.3,432.8 L63.5,430.8 L63.8,429.0 L64.0,427.2 L64.3,425.5 L64.5,423.9 L64.8,422.4 L65.0,421.0 L65.3,419.6 L65.5,418.3 L65.8,417.1 L66.0,416.0 L66.3,414.9 L66.5,413.9 L66.8,412.9 L67.0,412.0 L67.3,411.1 L67.5,410.3 L67.8,409.6 L68.0,408.8 L68.3,408.1 L68.5,407.5 L68.8,406.9 L69.0,406.3 L69.3,405.7 L69.5,405.2 L69.8,404.7 L70.0,404.2 L70.3,403.8 L70.5,403.4 L70.8,403.0 L71.0,402.6 L71.3,402.2 L71.5,401.9 L71.8,401.6 L72.0,401.3 L72.3,401.0 L72.5,400.7 L72.8,400.5 L73.0,400.2 L73.3,400.0 L73.5,399.8 L73.8,399.6 L74.0,399.4 L74.3,399.2 L74.5,399.0 L74.8,398.9 L75.0,398.7 L75.3,398.6 L75.5,398.4 L75.8,398.3 L76.0,398.2 L76.3,398.0 L76.5,397.9 L76.8,397.8 L77.0,397.7 L77.3,397.6 L77.5,397.6 L77.8,397.5 L78.0,397.4" fill="none" stroke="#111" stroke-width="3.6" stroke-linejoin="round"/>
<path d="M62.3,442.0 L62.5,440.2 L62.8,438.6 L63.0,436.9 L63.3,435.4 L63.5,433.9 L63.8,432.5 L64.0,431.1 L64.3,429.8 L64.5,428.6 L64.8,427.3 L65.0,426.2 L65.3,425.1 L65.5,424.0 L65.8,423.0 L66.0,422.0 L66.3,421.1 L66.5,420.2 L66.8,419.3 L67.0,418.5 L67.3,417.7 L67.5,416.9 L67.8,416.2 L68.0,415.5 L68.3,414.8 L68.5,414.2 L68.8,413.6 L69.0,413.0 L69.3,412.4 L69.5,411.8 L69.8,411.3 L70.0,410.8 L70.3,410.3 L70.5,409.9 L70.8,409.4 L71.0,409.0 L71.3,408.6 L71.5,408.2 L71.8,407.8 L72.0,407.5 L72.3,407.1 L72.5,406.8 L72.8,406.5 L73.0,406.2 L73.3,405.9 L73.5,405.6 L73.8,405.3 L74.0,405.1 L74.3,404.8 L74.5,404.6 L74.8,404.4 L75.0,404.1 L75.3,403.9 L75.5,403.7 L75.8,403.5 L76.0,403.3 L76.3,403.2 L76.5,403.0 L76.8,402.8 L77.0,402.7 L77.3,402.5 L77.5,402.4 L77.8,402.2 L78.0,402.1" fill="none" stroke="#111" stroke-width="3.6" stroke-linejoin="round"/>
<path d="M77 397.4l.1-.7 .4 .3 .2-.7 .2-.6 .6 .8 .4 .3 .2-.6 .4 .1 .2-.6 .5 .8 .2-.9 .4 .1 .3 0 .3-.4 .4 .6 .3-.1 .4 .4 .2-1.3 .4 .8 .3-.3 .3-.6 .4 1 .3 .1 .3-.5 .3-.1 .3-.2 .3 .5 .4 .2 .2-1.2 .3 .4 .3-.6 .4 .7 .3 .6 .3-.7 .3-.7 .3 1.2 .3-1.2 .3 .9 .3-.5 .4 .8 .3 0 .3-.6 .3 .1 .2-1 .4 1.3 .3 .2 .3-.4 .3-1.1 .3 1.4 .3-1.1 .3 1 .3-.3 .3 .1 .3-1.6 .3 1.1 .3-.3 .3 .4 .3-.1 .3 .6 .4-.1 .3 0 .3 .3 .2-.9 .4 .3 .3-.1 .3-.3 .3 .4 .3 .3 .3-.1 .3-.7 .3 .3 .3-.5 .3 .3 .3 .6 .3 .1 .3-.7 .3 .7 .3-.3 .3-.1 .3 .4 .3 .1 .3-.8 .3-.9 .3 1.7 .3-2 .3 2.1 .3-2 .3 1.4 .3-1.1 .3 1.2 .3-1.3 .3 .2 .3 .8 .3 .2 .3 .5 .3 0 .3-.4 .3-1.3 .3 .5 .3 .8 .6 .2 .6-.3 .6-.2 .6 .8 .6-.2 .6 0 .6 .2 .6-1.6 .6 .4 .6 .2 .6-.1 .6 1 .6-1.1 .6 .9 .6 .2 .6-.6 .6 .1 .6 .2 .6 .1 .6-.3 .6-1.6 .6 1.6 .6 .2 .6-.9 .6 1.1 .6-.7 .6 .8 .6-.5 .6 .6 .6-.9 .6 .3 .6 .2 .6 .2 .6 .1 .6-1.2 .6 1 .6 0 .6-.3 .6-.1 .6 .5 .6-.7 .6 .4 .6-.3 .6 .6 .6-.3 .6 .4 .6-1.6 .6 1.1 .6 .5 .6-.3 .6 .1 .6-.2 .6 .2 .6-.4 .6 .7 .6-1.5 .6 1.3 .6 .2 .6-.9 .6 .7 .6-.1 .6-1 .6 1.1 .6-.9 .6 0 .6 1 .6-.4 .6 .1 .6-.8 .6 1.2 .6-.9 .6 .3 .6-.3 .6 .5 .6 .2 .6-1.9 .6 1.7 .6-.4 .6-.5 .6-.9 .6 1.4 .6-.2 .6 .4 .6-.5 .6 .8 .6 .3 .6-.4 .6 .3 .6-.7 .6 .3 .6 0 .6-.6 .6 .6 .6-.1 .6-.5 .6 .2 .6 .5 .6-.3 .6 0 .6 .2 .6 .3 .6-1.1 .6 1 .6-.8 .6 .9 .6-.5 .6 .6 .6-.9 .6 0 .6 .4 .6 .3 .6-.9 .6-.3 .6 .5 .6 .4 .6 .2 .6 0 .6-.4 .6 .2 .6-1.3 .6 1.4 .6-.4 .6 0 .6-.2 .6 .7 .6-.6 .6 1 .6-.5 .6 0 .6-.8 .6-.7 .6 1.4 .6 .4 .6-2.2 .6 1.3 .6 .8 .6-.7 .6 .6 .6-.8 .6 .7 .6-.7 .6 .3 .6 .6 .6-.1 .6-.1 .6-.9 .6 .6 .6 .7 .6 0 .6-.5 .6 .6 .6-.3 .6 .1 .6-.5 .6 .2 .6-1.8 .6 1.7 .6 .4 .6 .2 .6-.9 .6 .4 .6 .4 .6-.2 .6-.8 .6 .6 .6 .1 .6-.7 .6 .3 .6-.3 .6 .3 .6 .2 .6 .6 .6-.2 .6-.9 .6-.1 .6 .5 .6-.5 .6 1.2 .6-.7 .6 .4 .6-.5 .6-.3 .6 1.1 .6-2.3 .6 2 .6-.6 .6 .3 .6 .5 .6-1.2 .6 .4 .6-.6 .6 1.1 .6 .2 .6-.6 .6-.7 .6 1.2 .6-1 .6 .1 .6 .7 .6 .4 .6-.2 .6 .2 .6-2.2 .6 2 .6-.4 .6-.1 .6 .5 .6-.4 .6 .3 .6-.4 .6-.7 .6 1.5 .6-.6 .6-.4 .6-.3 .6-.3 .6 1.3 .6 .3 .6-.3 .6-.6 .6 .4 .6 0 .6 0 .6 .4 .6 0 .6-1.2 .6 0 .6 .4 .6 .1 .6-.4 .6 .9 .6-.5 .6 0 .6 .6 .6 .1 .6-1.2 .6 .9 .6-.2 .6-1.1 .6 1.3 .6 .3 .6-1.4 .6 1 .6-.5 .6 .7 .6 .1 .6-1.5 .6 1.4 .6-.6 .6 .3 .6 .2 .6-.5 .6 .3 .6-.5 .6 1 .6-.2 .6-.5 .6 .5 .6-.5 .6 .5 .6 .2 .6-1.1 .6 .7 .6 .4 .6-1.8 .6 1.3 .6-.6 .6 .5 .6 .3 .6-.1 .6-.1 .6 .6 .6-.9 .6 .1 .6-.1 .6 .5 .6-.5 .6-.3 .6 1 .6-1.5 .6 1.2 .6-.2 .6-.6 .6 .6 .6-.6 .6 1 .6-.2 .6-.1 .6-.4 .6 .7 .6-1.1 .6 .5 .6 .6 .6 0 .6-.8 .6 .6 .6 0 .6-.8 .6-.1 .6 1.2 .6-1.6 .6 1.3 .6 .2 .6-.7 .6 .1 .6 .7 .6-.3 .6-.8 .6 .3 .6 .1 .6 .2 .6-.4 .6 1 .6-.5 .6-.1 .6 .1 .6-.5 .6 .7 .6-.8 .6 .5 .6 .2 .6-.9 .6 .7 .6 .4 .6-.3 .6-.7 .6-.2 .6 1.5 .6-1 .6-.3 .6 0 .6 .8 .6-1.2 .6 0 .6 1.4 .6 .1 .6 0 .6-1.2 .6 .3 .6 .2 .6 .5 .6-.7 .6 .3 .6 .6 .6-.6 .6-.5 .6 .1 .6 .9 .6-1.6 .6 1.9 .6-.2 .6-.5 .6 .2 .6 .1 .6 .2 .6-.3 .6-.2 .6 .6 .6 .1 .6-.8 .6-.1 .6 .8 .6-.1 .6-1 .6 1.1 .6-1.5 .6 1.2 .6-.3 .6-.3 .6 .2 .6 0 .6 .7 .6-.8 .6-.2 .6 .7 .6-.6 .6 .4 .6-.2 .6 .1 .6-.5 .6 .1 .6 .1 .6 .1 .6 .5 .6 .3 .6-.1 .6-.1 .6-.2 .6-.2 .6-.1 .6 .3 .6 .3 .6-.4 .6 .6 .6-.3 .6-.9 .6 .8 .6-.4 .6 .5 .6 .3 .6 0 .6-.1 .6-1 .6 1.1 .6-.7 .6-.1 .6-.6 .6 .7 .6-.3 .6-.1 .6 1.1 .6-.9 .6 .8 .6-.5 .6 .3 .6 .2 .6-.4 .6-1.1 .6 1.3 .6-.2 .6-.1 .6-1.1 .6 1 .6 .6 .6-.8 .6 .4 .6-.5 .6 0 .6 .8 .6-.8 .6 .9 .6 0 .6-1.2 .6-.6 .6 1.4 .6 .5 .6-.5 .6-1 .6 .8 .6-.6 .6 .6 .6 .5 .6-.2 .6-.2 .6-.5 .6 .5 .6-.2 .6 .5 .6 0 .6-.3 .6-.1 .6 .3 .6-.3 .6-.1 .6-1.1 .6 1.8 .6-.2 .6 .3 .6-.1 .6-.5 .6-.5 .6 .6 .6-1.1 .6 .6 .6 .3 .6 .6 .6-.9 .6-.6 .6 .8 .6 .2 .6 .4 .6-.6 .6 .2 .6 .5 .6-.2 .6 0 .6-.7 .6 0 .6-1.3 .6 .8 .6 1.1 .6 .3 .6 0 .6-.2 .6 .2 .6-.2 .6 .2 .6-.2 .6-.5 0 7-.6 .3-.6-.8-.6 .1-.6-.4-.6 .1-.6 .6-.6 .3-.6 0-.6-.3-.6 .7-.6-1.2-.6 .2-.6 .3-.6 .1-.6-.5-.6 .8-.6 .1-.6-.9-.6-.2-.6 .3-.6-.1-.6 .9-.6-.6-.6 .9-.6-1.5-.6 .2-.6 .2-.6 1-.6-.7-.6-.6-.6 .2-.6 .8-.6-.1-.6 .2-.6-.6-.6 .2-.6 .2-.6-.7-.6-.1-.6 .8-.6 .1-.6 .5-.6-.3-.6-.6-.6 .1-.6-.6-.6-.2-.6 1.2-.6 .2-.6-.8-.6-.1-.6 .4-.6 .1-.6 .5-.6-.3-.6-.8-.6 .6-.6 1-.6-1.2-.6 .9-.6-1.5-.6 .5-.6 .3-.6-.3-.6 1.1-.6-1.8-.6 0-.6 .3-.6 1.1-.6 .2-.6-1.2-.6 .8-.6 .3-.6-.5-.6-.5-.6 .7-.6-.5-.6-.2-.6 .4-.6-.7-.6 1.2-.6-1-.6 .2-.6-.1-.6-.1-.6-.1-.6 0-.6-.1-.6 1-.6 .3-.6-.6-.6 0-.6 .1-.6-.8-.6 .5-.6-.5-.6 .1-.6 .2-.6 .7-.6-1.2-.6 .7-.6-.7-.6 .9-.6-.8-.6 .2-.6 .4-.6-.5-.6 0-.6 .7-.6 .4-.6-.6-.6 0-.6 .3-.6-.6-.6 .3-.6 .9-.6-1.1-.6 1.4-.6-1.3-.6-.2-.6 .4-.6-.6-.6 1.7-.6-1.1-.6-.3-.6 .3-.6-.2-.6-.4-.6-.1-.6 1.9-.6-.5-.6-.9-.6-.4-.6 1.2-.6-.8-.6-.1-.6 .3-.6-.4-.6 .1-.6 0-.6-.4-.6 0-.6 .9-.6-.9-.6 .1-.6-.2-.6 2.1-.6-1.8-.6 .3-.6 .2-.6-.6-.6 .5-.6 .1-.6-.7-.6 .1-.6-.1-.6 .7-.6-.4-.6 .1-.6 0-.6 .6-.6-.1-.6-.6-.6 .2-.6 0-.6-.3-.6-.3-.6 1.1-.6-1-.6 .6-.6 .6-.6-.8-.6 .5-.6 .1-.6-.6-.6 1-.6-.8-.6-.5-.6 .8-.6-.5-.6 .5-.6 0-.6-.3-.6-.6-.6 .5-.6-.2-.6 .8-.6-.1-.6-.7-.6 .2-.6-.4-.6 0-.6 1.5-.6-1.6-.6 .6-.6-.6-.6 0-.6 .6-.6-.6-.6 .2-.6 0-.6 0-.6 .1-.6 .7-.6 .6-.6-.4-.6-.5-.6-.6-.6 .5-.6 1.1-.6-1.2-.6 1.9-.6-1.6-.6 .3-.6-1.1-.6 .3-.6-.4-.6 .2-.6-.2-.6 .9-.6-.5-.6 .8-.6-.4-.6 .2-.6-.6-.6-.4-.6 .2-.6 .1-.6 .3-.6 .1-.6 .1-.6-.8-.6 .1-.6 1.3-.6-.7-.6-.1-.6 .4-.6-.9-.6-.1-.6 1-.6 .6-.6-1.6-.6 1.5-.6 0-.6-1.4-.6 0-.6 0-.6 1-.6-1-.6 1.2-.6-1.1-.6 1.3-.6-1.5-.6 .9-.6-.4-.6 .4-.6-.8-.6 .6-.6 .5-.6-1-.6 .6-.6 .2-.6 .4-.6 .1-.6-1.1-.6-.3-.6 .1-.6 .3-.6 .2-.6-.5-.6 .1-.6 .3-.6 .8-.6-1.2-.6 1.2-.6-1-.6 .1-.6 1.1-.6-.9-.6-.6-.6 1.1-.6-.5-.6 .1-.6-.4-.6 .4-.6-.5-.6 .1-.6-.4-.6 .6-.6 .3-.6-.8-.6 .2-.6 1-.6-1.2-.6 0-.6 .2-.6 .5-.6 0-.6-.6-.6 .8-.6-.1-.6-.8-.6-.1-.6 .7-.6-.4-.6 1.1-.6-1.3-.6 .2-.6 .7-.6-.4-.6 0-.6-.3-.6-.1-.6-.2-.6 2-.6-1-.6-.9-.6 .6-.6 .5-.6-.4-.6-.6-.6-.1-.6 0-.6 .3-.6 .3-.6-.2-.6 .1-.6 0-.6-.6-.6 .2-.6 .1-.6 .1-.6 .5-.6-.4-.6 .1-.6-.1-.6 .8-.6-.3-.6-.5-.6 0-.6-.2-.6 .8-.6-.7-.6 .8-.6 .3-.6 0-.6-.7-.6-.7-.6 .5-.6-.4-.6 .5-.6 0-.6-.4-.6 .2-.6 0-.6-.2-.6 1.2-.6-.9-.6 .4-.6-.4-.6 .2-.6 0-.6 0-.6-.7-.6 0-.6 0-.6 .4-.6 .4-.6-.2-.6 .4-.6 .4-.6-1.1-.6 .2-.6-.1-.6 .5-.6-1-.6 .2-.6 .8-.6-.8-.6 .8-.6-.5-.6-.4-.6 .1-.6 0-.6 .2-.6-.3-.6 .6-.6 .3-.6-.4-.6 .3-.6-.4-.6 .1-.6 .1-.6-.7-.6 .5-.6-.5-.6 .3-.6 .4-.6 .4-.6-.3-.6-.4-.6 .2-.6 .2-.6 .9-.6-1.2-.6 .6-.6 .1-.6-.8-.6-.1-.6 .7-.6-.7-.6 .1-.6-.1-.6 .5-.6 0-.6-.7-.6 .7-.6-.4-.6 .8-.6-.3-.6-.2-.6-.5-.6 .4-.6-.1-.6 .2-.6-.1-.6 .7-.6-1.3-.6 .2-.6 .3-.6 .1-.6 .8-.6-1.1-.6 .8-.6-.8-.6-.1-.6 .5-.6-.5-.6 1.3-.6-.8-.6-.7-.6 .3-.6 .1-.6-.3-.6 .1-.6 .3-.6-.5-.6 1.5-.6-.6-.6 0-.6 0-.6-.8-.6 .5-.6 .1-.6-.6-.6-.1-.6 .2-.6 .9-.6-.3-.6 .3-.6-1-.6 .1-.6 .7-.6-.7-.6 .4-.6 .4-.6 .2-.6-.4-.6-.4-.6-.2-.6 0-.6 0-.6 .4-.6 .1-.6 .1-.6-.1-.6 1.3-.6-2-.6 1.3-.6-.6-.6-.6-.6 1.1-.6-.1-.6-.4-.6-.5-.6 .7-.6 .4-.6-1.2-.6 .6-.3 .1-.3-.7-.3 .2-.3 1.3-.3-.8-.3 .1-.3-.7-.3 .5-.3-.5-.3 0-.3 0-.3 .1-.3 .3-.3-.1-.3-.1-.3 .6-.3-.5-.3 .4-.3-.6-.3-.2-.3 .1-.3 .4-.3 .1-.3 .6-.3-1.1-.3 .4-.3-.5-.3 0-.3 1.2-.3-.7-.3-.3-.3 .7-.3-.4-.3 .1-.3 .2-.2 .2-.4-.7-.2 1.2-.4-1.2-.3-.1-.2 .7-.3-.1-.3 .5-.3-.7-.3 .3-.3 .2-.3-.8-.3 0-.3 .4-.3 .7-.3-1.3-.3 .7-.3 .6-.3-.4-.3-.7-.2 1.9-.4-1.7-.3 .3-.2 .6-.3 .1-.3-.8-.4-.3-.2 .4-.3 .2-.2 1.2-.4-1.5-.3 .6-.3-.9-.3 .3-.2 .8-.3-.6-.3 .1-.3-.1-.3 .7-.3-.6-.3-.4-.3 .4-.3-.1-.2 .6-.3-.2-.3-.5-.3-.1-.3 0-.3 .3-.1 .8-.4-.5-.2 .2-.2 .4-.4-.6-.2 .5-.2 .4-.1 .9-.7-1.8-.2 .2-.2 .4-.3 0 0 .8-.3-.1-.5-.7-.3 .2z" fill="#111"/>
<path d="M77.8 400l.3-.1 .3-.1 .3-.1 .3-.1 .3 0 .3-.1 .3-.1 .3-.1 .3 0 .3-.1 .3 0 .3-.1 .3-.1 .3 0 .3-.1 .3 0 .3 0 .3-.1 .3 0 .3-.1 .3 0 .3 0 .3-.1 .3 0 .3 0 .3-.1 .3 0 .3 0 .3 0 .3-.1 .3 0 .3 0 .3 0 .3 0 .3-.1 .3 0 .3 0 .3 0 .3 0 .3 0 .3 0 .3-.1 .3 0 .3 0 .3 0 .3 0 .3 0 .3 0 .3 0 .3 0 .3 0 .3-.1 .3 0 .3 0 .3 0 .3 0 .3 0 .3 0 .3 0 .3 0 .3 0 .3 0 .3 0 .3 0 .3 0 .3 0 .3 0 .3 0 .3 0 .3 0 .3 0 .3 0 .3 0 .3-.1 .3 0 .3 0 .3 0 .3 0 .3 0 .3 0 .3 0 .3 0 .3 0" fill="none" stroke="#111" stroke-width="2.6"/>
<path d="M77.4 404.8l.1-.7 .1-.8 .5 .4 .3-.3 .3-.1 .5 .8 .2-.9 .2-.3 .6 1.1 0-1.7 .4 .3 .4 .5 .4 .5 .3-.2 .3-.2 .2-.8 .5 1.2 .1-1.6 .5 1.4 .2-1 .2-.7 .6 1.7 .2-.2 .3-.4 .3-.7 .3 .8 .3-1.2 .4 1.4 .3 .2 .2-1 .4 .8 .3-.4 .3-.1 .3 .3 .3-.5 .3 .3 .3-.3 .3 0 .3 .7 .3-.1 .3-.8 .3-.5 .4 1.3 .2-.8 .3 .2 .3-.1 .3-.5 .3-1 .3 1.5 .4 .5 .3-.4 .3 .5 .3-.3 .2-1 .4 .5 .3 .2 .3-.4 .3 .9 .3-.6 .3-.1 .3 .7 .3-1.5 .3 .7 .3 0 .3-.4 .3 0 .3 1.1 .3-1.5 .3 .7 .3 .9 .3 0 .3-.6 .3 .6 .3-.6 .3-1 .3 1.5 .3-.1 .3-.6 .3-.1 .3-.1 .3-.3 .3 .1 .3 .9 .3 .1 .3-1.4 .3 1.1 .3-.6 .3-.9 .3 1.7 .3-1.4 .3 .7 .3 .6 .3-.4 .3 .6 .3 .1 .3-.2 .3-.5 .3 .2 .3-.7 .3 .9 .6-.4 .6 .1 .6 .5 .6-.2 .6 0 .6 .1 .6-.1 .6 .1 .6-.6 .6 .8 .6 0 .6-.7 .6 0 .6-.3 .6-.3 .6 .8 .6 .4 .6-.4 .6-.3 .6 .3 .6 0 .6 .2 .6-.5 .6 .6 .6-.3 .6-.1 .6-.2 .6 .6 .6-.2 .6 .2 .6-.1 .6-.3 .6-.1 .6-.1 .6-.2 .6 1 .6-.8 .6 .6 .6 .3 .6-.6 .6 0 .6 .5 .6-.1 .6-.2 .6-.4 .6 .1 .6-.3 .6 .9 .6-.1 .6-.7 .6 .6 .6-.2 .6 .2 .6-.3 .6-.3 .6-.4 .6 1 .6-.6 .6 .1 .6 .2 .6 .3 .6 .1 .6-.2 .6-.5 .6 .7 .6-.6 .6 .7 .6-.5 .6-.1 .6 0 .6-.1 .6 .7 .6-.5 .6 .5 .6-.7 .6 .4 .6-.2 .6 .1 .6-.1 .6-.8 .6 1.3 .6-.1 .6-.4 .6 .3 .6-.4 .6 .7 .6-.7 .6 .5 .6-.4 .6-.2 .6 .4 .6-.4 .6-.3 .6 .4 .6 .3 .6-.5 .6 .6 .6-.4 .6-1 .6 1.3 .6 .3 .6-1.2 .6 .3 .6 .5 .6 .3 .6-.5 .6-.1 .6-.3 .6 .5 .6 .4 .6-.1 .6-1.2 .6 1.1 .6-1.1 .6 1.2 .6-.1 .6 0 .6-.6 .6 .4 .6-.8 .6 1.3 .6-.2 .6-3.1 .6 2.9 .6 .4 .6-.3 .6-.4 .6 .1 .6 .3 .6 .4 .6-.3 .6 .2 .6-.7 .6 .6 .6-.5 .6 .4 .6-.3 .6-.2 .6-.7 .6 .3 .6 1.2 .6-2.3 .6 1.1 .6 1.2 .6-.4 .6-.4 .6 .6 .6-.2 .6-.9 .6 .5 .6 .3 .6-.2 .6 0 .6 .4 .6-1.1 .6 1.4 .6-.1 .6 0 .6-.9 .6-.3 .6-.5 .6 1.7 .6-.1 .6-1.3 .6 1.2 .6-.2 .6 .3 .6-1.4 .6 .1 .6 .5 .6 .6 .6 .1 .6 .1 .6 0 .6 .2 .6-.3 .6-.1 .6-.5 .6 .5 .6-1.3 .6 .1 .6 .8 .6 .2 .6 .4 .6-1.9 .6 1.3 .6-.7 .6-.8 .6 1.5 .6 .3 .6 .1 .6 .1 .6 .1 .6-.1 .6-.1 .6 .2 .6-.1 .6-.1 .6-.2 .6 .4 .6-.4 .6 0 .6-.4 .6 .7 .6-.7 .6 .1 .6 .8 .6-.5 .6 .2 .6-.3 .6 .4 .6-.1 .6-.1 .6-.3 .6 .7 .6-.7 .6 .3 .6 .5 .6-.2 .6-.6 .6-.4 .6 .8 .6-.8 .6 .5 .6 .1 .6 .2 .6 .1 .6-.4 .6-.2 .6-1.1 .6 .3 .6 1.3 .6 .2 .6-.4 .6-.2 .6 .6 .6-.8 .6 .5 .6-.3 .6 .6 .6-.2 .6 .2 .6-.6 .6 .7 .6-.4 .6-.3 .6-.8 .6 .3 .6 .5 .6 0 .6 .7 .6-.7 .6-.2 .6 1 .6-1.4 .6 1.2 .6 .2 .6-1 .6 .7 .6-.7 .6 .7 .6 0 .6 .2 .6-1.5 .6 .5 .6 .9 .6-.2 .6-.5 .6 .4 .6-.2 .6 .7 .6-.3 .6-.2 .6-.4 .6 .7 .6-1.2 .6 1.3 .6-.1 .6 .1 .6-.1 .6-.2 .6-.7 .6-.9 .6 1.3 .6-.2 .6 .6 .6-.1 .6 .1 .6-.1 .6 .1 .6 .2 .6-1.1 .6-.1 .6 1.1 .6-.1 .6-.1 .6 .2 .6-.7 .6 .7 .6 .1 .6-1.3 .6 .9 .6-.1 .6 .2 .6-1.4 .6 1.6 .6-1.1 .6 1 .6-1 .6 1.1 .6-.4 .6-.5 .6 .7 .6 .2 .6-.1 .6-.7 .6 .3 .6 .2 .6-.1 .6-.8 .6 1.1 .6-.5 .6-.6 .6 .9 .6-.3 .6 .3 .6-.1 .6 .2 .6-.3 .6 .5 .6-.1 .6-.8 .6 .5 .6-.5 .6 .5 .6-.3 .6 .7 .6-1 .6 .7 .6 0 .6 .1 .6 .4 .6-1 .6 .4 .6 .5 .6-.2 .6 0 .6-.9 .6 .6 .6 .1 .6-.2 .6-.4 .6 .8 .6-1.1 .6 .6 .6-.2 .6 .7 .6-1.5 .6 1 .6 .3 .6-.3 .6 .3 .6 .4 .6 .1 .6-.5 .6-.1 .6 .2 .6 .2 .6 .1 .6-1.1 .6 .3 .6 .4 .6-.4 .6 .4 .6-.3 .6 .5 .6-.1 .6 .3 .6-.5 .6 .3 .6-1.3 .6 1.5 .6-.8 .6 .8 .6-.2 .6-.1 .6-1.2 .6 1.4 .6 0 .6-.2 .6-.5 .6-.5 .6 1.3 .6-.6 .6-.9 .6 1.4 .6 .2 .6-.6 .6-.2 .6-.7 .6 1.4 .6 .1 .6-.3 .6-.5 .6 .4 .6 0 .6 .1 .6-.7 .6 0 .6 .2 .6 .8 .6-.5 .6 .1 .6 .2 .6-.2 .6 0 .6-.2 .6-.2 .6 .1 .6 .2 .6-.2 .6-.7 .6 1.3 .6-.7 .6 .3 .6 .1 .6-.1 .6 .5 .6-1.2 .6 1.1 .6-1.7 .6 1.8 .6-.7 .6 .2 .6-.3 .6 .1 .6 .3 .6-.1 .6-1.7 .6 1.7 .6-.1 .6-.2 .6 .6 .6-.2 .6-.7 .6 .2 .6-.6 .6 .4 .6-.3 .6 .6 .6-.3 .6 .9 .6 .1 .6-1 .6 1.1 .6-1.4 .6 .9 .6-1.5 .6 1 .6 0 .6 .8 .6-.4 .6 .5 .6-.3 .6 .2 .6-.8 .6-.3 .6 1 .6-.1 .6-.8 .6 .9 .6-1.5 .6 1.2 .6 .2 .6-.3 .6 .6 .6-.4 .6 0 .6-.9 .6 .3 .6 .8 .6-.6 .6 .5 .6-.5 .6 .3 .6 .1 .6-1.2 .6 1.4 .6 .2 0 2.8-.6 .5-.6 .8-.6-.9-.6 .8-.6-1.3-.6 .1-.6 .5-.6-.7-.6 .7-.6-.4-.6-.1-.6-.2-.6 .3-.6 .4-.6-.3-.6 .9-.6-1.3-.6 .6-.6-.2-.6 .8-.6-.9-.6 0-.6 .2-.6-.4-.6 .6-.6-.1-.6-.3-.6 .6-.6-.5-.6-.3-.6 1.2-.6-1.3-.6 .2-.6 .6-.6-.1-.6 .5-.6-.9-.6 .5-.6-.4-.6 .1-.6 0-.6-.3-.6-.1-.6-.1-.6 .8-.6 0-.6-.5-.6-.3-.6 .2-.6 .1-.6-.4-.6 .5-.6-.2-.6-.1-.6 0-.6 .1-.6 .1-.6 .9-.6-.3-.6-.6-.6 .1-.6 0-.6-.5-.6 .2-.6-.1-.6 1-.6-1.1-.6 .9-.6-.1-.6-.8-.6 .3-.6 1.5-.6-1.2-.6 1.3-.6-1.5-.6 .1-.6 .6-.6-.8-.6 .8-.6 .8-.6-1.8-.6 .4-.6 .6-.6 .4-.6-1.4-.6 .2-.6 .2-.6 .2-.6-.1-.6 0-.6 .3-.6-.7-.6 .3-.6-.2-.6-.2-.6 .1-.6 .7-.6-.8-.6-.1-.6 .8-.6-.1-.6-.3-.6 .4-.6 .1-.6-.6-.6 .3-.6 .8-.6-1-.6 .3-.6 0-.6-.2-.6-.3-.6 .2-.6-.1-.6 1.4-.6-1.5-.6 .6-.6 .8-.6-1.4-.6 .4-.6-.2-.6 .1-.6-.2-.6-.3-.6 .3-.6 .7-.6-.7-.6 .2-.6-.2-.6 .5-.6-.8-.6 0-.6 .1-.6 .9-.6-.6-.6-.1-.6 0-.6-.2-.6 .2-.6 .8-.6-.3-.6-.4-.6 .5-.6 .1-.6 .6-.6-1.5-.6 0-.6 2.1-.6-1.1-.6 .8-.6-1.6-.6 .2-.6 .3-.6-.7-.6 1.4-.6-1.1-.6 1.1-.6-1.5-.6 .5-.6 2.1-.6-2.4-.6 .7-.6-.8-.6-.1-.6 1.2-.6-1.1-.6-.1-.6 1.4-.6-1.1-.6 1-.6-.8-.6-.1-.6-.3-.6 1.2-.6-.9-.6 .2-.6-.5-.6 1.1-.6-.4-.6-.1-.6 .3-.6-.8-.6-.2-.6 .5-.6-.2-.6-.2-.6 .5-.6 .5-.6-.4-.6-.1-.6 0-.6-.3-.6 .1-.6 .2-.6 .7-.6-.7-.6 1.2-.6-1.4-.6-.3-.6 .4-.6-.3-.6 .3-.6-.5-.6 .1-.6 1.4-.6-.5-.6-.5-.6-.2-.6 1.1-.6-1.2-.6 1.6-.6-1.5-.6 0-.6 .6-.6 .1-.6 0-.6-.4-.6 1.3-.6-1.1-.6-.6-.6-.1-.6 .2-.6-.1-.6 .1-.6 1-.6-.6-.6-.2-.6 .7-.6-.7-.6 .3-.6 .4-.6-.9-.6 .6-.6-.1-.6-.4-.6-.2-.6 .7-.6 .1-.6-.6-.6 .6-.6-.3-.6-.1-.6 0-.6-.5-.6 0-.6 1-.6 .8-.6-1.4-.6 .1-.6-.4-.6-.1-.6-.1-.6 1.4-.6-.3-.6-.8-.6 1.4-.6 .1-.6-.9-.6-.7-.6 .9-.6-1-.6 .4-.6 .4-.6-.2-.6-.4-.6 .1-.6-.4-.6 1.1-.6 .2-.6-.8-.6-.3-.6 .1-.6-.2-.6 .5-.6-.5-.6 .9-.6-.4-.6 .4-.6 .2-.6-.6-.6-.1-.6 .2-.6 .5-.6-1-.6-.2-.6 .1-.6 1-.6-.6-.6-.1-.6-.3-.6 .3-.6-.1-.6 .6-.6-.6-.6 .6-.6-.1-.6 .3-.6-1-.6 1.4-.6-.1-.6-1.2-.6 1.3-.6-.6-.6 .1-.6 .3-.6 .3-.6-1.4-.6 .4-.6-.1-.6 .1-.6-.5-.6 .5-.6 .3-.6-.3-.6-.5-.6 .3-.6-.1-.6 1.3-.6-.7-.6-.5-.6 .1-.6 1.1-.6-.3-.6-.5-.6-.3-.6-.3-.6-.1-.6 .9-.6-.1-.6-.7-.6 1.7-.6-1.8-.6 1.4-.6-1.3-.6-.1-.6-.1-.6 .5-.6 .6-.6 1-.6-1.1-.6-.9-.6 .1-.6-.2-.6 .8-.6-.4-.6-.1-.6 1-.6-1-.6 .7-.6-.6-.6 .9-.6 0-.6 0-.6-.1-.6-1-.6 0-.6 .1-.6-.3-.6 .2-.6 .4-.6 .1-.6 .2-.6-.5-.6 .3-.6-.6-.6 .1-.6 0-.6 .9-.6 .1-.6-.7-.6-.2-.6 0-.6 1.2-.6 .4-.6-1.6-.6 .2-.6 .3-.6-.1-.6-.3-.6-.1-.6-.2-.6 .4-.6-.4-.6 .5-.6 .2-.6 .2-.6 .1-.6-.5-.6 .3-.6 .1-.6-.4-.6 .7-.6-.7-.6-.2-.6 0-.6-.2-.6 .6-.6 .1-.6-.3-.6-.4-.6 .4-.6-.4-.6 .5-.6-.6-.6 .4-.6-.5-.6 .7-.6 .6-.6-.1-.6-.9-.6-.1-.6 .7-.6 1-.6-1.2-.6-.2-.6 .6-.6-.9-.6-.1-.6 .4-.6 0-.6 1.3-.6-.2-.6-.9-.6-.5-.6 .1-.6-.2-.6 1.3-.6-.6-.6-.7-.6 1.1-.6-.4-.6-.6-.6 .8-.6-.2-.6-.4-.6-.2-.6 .6-.6-.5-.6 0-.6 .5-.6-.3-.6 .1-.6 .5-.6-.5-.6-.3-.6-.1-.6 .1-.6 .1-.6-.3-.6 .3-.6 .7-.6-.9-.6-.1-.6 .5-.6 .3-.6-.8-.6 .2-.6 .1-.6 1.1-.6-1.5-.6 .1-.6 .7-.6 0-.6-.3-.6 0-.6-.3-.6 .7-.6-.9-.6 .6-.6 .3-.6-.1-.6-.1-.6-.4-.6 .3-.6-.5-.6 1.4-.6-1-.6-.2-.6 0-.6 .1-.6-.3-.6 .2-.6 1.1-.6-1.2-.6 1.2-.6-1-.6 0-.6 .4-.6 .2-.3-.7-.3 .1-.3-.2-.3 1.3-.3-.9-.3-.1-.3 .3-.3-.5-.3-.2-.3 .5-.3-.4-.3 .7-.3-.2-.3 .3-.3-.2-.3-.1-.3 .8-.3-.7-.3-.5-.3 .7-.3 .4-.3-.4-.3-.8-.3 .5-.3 0-.3-.2-.3 .1-.3 .1-.3-.6-.3 .6-.3 .6-.3-.8-.3 .3-.3 .1-.3 .1-.3-.1-.3-.1-.3-.2-.3-.4-.3 .4-.3-.4-.3 .7-.3 .5-.3-.6-.3-.4-.3-.2-.3 0-.2 .9-.3 0-.3-.1-.4-.3-.3-.4-.2 1-.4-1-.2 .9-.3 .2-.3-.2-.3-.4-.3-.1-.3 .1-.3 .5-.3-.7-.3-.1-.3 .6-.3 .4-.2 .4-.4-.6-.3-.5-.3-.3-.3 .7-.3-.7-.2 1.5-.3-.2-.4-1-.2 .7-.3-.2-.3-.1-.3-.3-.3 0-.3 0-.3 .6-.1 .7-.4-.8-.4-.4-.2 .8-.1 .8-.5-1.2-.3 0-.3 .1-.3-.1-.3 .1-.2 .2-.3 0-.2 .5-.3 0-.2 .3-.6-.8 0 .9-.3 0-.4-.3z" fill="#111"/>
<path d="M77.8 406l.3-.1 .3-.1 .3-.1 .3 0 .3-.1 .3-.1 .3-.1 .3 0 .3-.1 .3-.1 .3 0 .3-.1 .3 0 .3-.1 .3 0 .3-.1 .3 0 .3-.1 .3 0 .3-.1 .3 0 .3 0 .3-.1 .3 0 .3 0 .3 0 .3-.1 .3 0 .3 0 .3 0 .3-.1 .3 0 .3 0 .3 0 .3 0 .3-.1 .3 0 .3 0 .3 0 .3 0 .3 0 .3-.1 .3 0 .3 0 .3 0 .3 0 .3 0 .3 0 .3 0 .3 0 .3 0 .3 0 .3-.1 .3 0 .3 0 .3 0 .3 0 .3 0 .3 0 .3 0 .3 0 .3 0 .3 0 .3 0 .3 0 .3 0 .3 0 .3 0 .3 0 .3 0 .3 0 .3 0 .3 0 .3 0 .3-.1 .3 0 .3 0 .3 0 .3 0 .3 0 .3 0 .3 0 .3 0" fill="none" stroke="#111" stroke-width="2.4"/>
<path d="M77.3 408.9l.4-.1 .1-.6 .5 .4 .5 .4 .3 0 .3-.2 0-1 .2-.7 .7 1.5 .2-.6 .4 .5 .3-.2 .3 0 .1-1.5 .5 1.1 .3 .1 .3-.5 .4 .4 .1-1.2 .4 .7 .3 .2 .3-.4 .3-.3 .3 .1 .3 .1 .4 .8 .3-.5 .3-.2 .3-.2 .3 .2 .3-.3 .3 .7 .3-.3 .3-1 .3 .7 .3 .5 .2-2 .4 1.9 .3-.4 .4 .3 .2-.8 .3 .5 .4 .3 .3-.3 .2-.7 .4 1 .3 0 .3 .1 .3-.2 .3-.1 .2-1.2 .4 1.3 .3-.5 .3-.4 .3 .8 .3-.2 .3 .1 .3 0 .3-.1 .3 .3 .3-.1 .3 0 .3-.7 .3 .6 .3-.2 .3-.7 .3 .8 .3-.8 .3 .8 .3 .3 .3-.3 .3-.2 .3-.3 .3 .9 .3-.2 .3-.6 .3 .5 .3-.1 .3 .3 .3-1.7 .3 1.7 .3-.8 .3 .5 .3-.1 .3-1.7 .3 2.1 .3-.5 .3 .4 .3 0 .3-.3 .3-1.2 .3 1.5 .3-.2 .3-1.2 .3 1.3 .3 .1 .3-1.2 .3 1.3 .3-.1 .3 0 .6-.8 .6-.1 .6 1 .6-1.4 .6 .6 .6 .5 .6 .2 .6-1.3 .6 .9 .6 .1 .6-.4 .6 .8 .6-.2 .6-.4 .6 .6 .6-1.2 .6-.5 .6 1.7 .6-.3 .6-.7 .6 .9 .6-.7 .6-.5 .6 .4 .6 .7 .6-.4 .6 .3 .6-.9 .6 1.2 .6-.1 .6-1.6 .6 .8 .6-.8 .6 1.3 .6 .2 .6-.2 .6 .3 .6 .1 .6-.3 .6-.7 .6 .9 .6-.3 .6 .4 .6-.9 .6 .7 .6-.2 .6 .1 .6 .2 .6 .1 .6-2 .6 1.9 .6-1.2 .6 .9 .6-.2 .6 .2 .6-.3 .6 .2 .6-.9 .6 1.2 .6 0 .6-.8 .6 .5 .6 .2 .6 .2 .6 0 .6 0 .6-1.2 .6 .4 .6 .6 .6 .3 .6-.1 .6-.9 .6-.1 .6-.5 .6 1.6 .6-.9 .6-.3 .6 1.1 .6-1.5 .6 1 .6-.2 .6-.2 .6 .6 .6 .1 .6-.4 .6 .4 .6-1.2 .6 1.1 .6-.3 .6 .6 .6-.5 .6-.3 .6 .7 .6-.3 .6-.4 .6-.1 .6 .1 .6 .7 .6 .1 .6-.1 .6-.1 .6-.4 .6 .5 .6 0 .6 0 .6 .1 .6-.3 .6-.4 .6-.4 .6 .7 .6 .4 .6-1.2 .6 .4 .6-.6 .6 1.2 .6-.5 .6 .7 .6-.3 .6 .3 .6 0 .6-.5 .6 .4 .6 .2 .6-.2 .6-.2 .6 .1 .6 0 .6 .2 .6-.5 .6-.4 .6 .8 .6 .2 .6-.8 .6 .3 .6-.1 .6-.2 .6 .2 .6 .6 .6-.5 .6 .5 .6-.2 .6-.2 .6 .1 .6 .3 .6-.5 .6 .2 .6 .3 .6-1.2 .6 .6 .6 .2 .6 .1 .6 .3 .6-.4 .6 .3 .6-.6 .6-.7 .6 .7 .6 .3 .6-.3 .6 .6 .6-.5 .6-.6 .6 .8 .6 .4 .6-1.4 .6 1.1 .6-.8 .6-.4 .6 .7 .6 .8 .6-.5 .6 .5 .6-1.2 .6 .1 .6 .6 .6-.3 .6 .8 .6 0 .6-.9 .6 .9 .6 0 .6 0 .6-.8 .6 .4 .6-.3 .6 .3 .6-.3 .6-.6 .6 1.1 .6-.1 .6 0 .6 .2 .6-.2 .6-.3 .6 .5 .6-1 .6 .1 .6 .1 .6 .2 .6-.1 .6 .6 .6 .2 .6-1.2 .6-.2 .6 .7 .6 .6 .6-.1 .6 .1 .6-.7 .6 .3 .6 .3 .6 .1 .6-.8 .6 .6 .6 .1 .6-.8 .6-.3 .6 .3 .6 .8 .6-.3 .6 0 .6 .5 .6-.6 .6 .3 .6-1 .6 .7 .6 .1 .6 .5 .6-1.5 .6 1.5 .6-1.4 .6 1.1 .6 .3 .6 0 .6-.4 .6-.3 .6 .3 .6 .3 .6-.9 .6 .4 .6-.1 .6-.4 .6 .5 .6 .2 .6-.4 .6-.3 .6 0 .6 .9 .6-.4 .6-1.7 .6 1.2 .6 1 .6-.1 .6-1.2 .6 .6 .6 .8 .6-.6 .6 .6 .6-.1 .6 0 .6-.5 .6-.5 .6 .3 .6 .8 .6-1.4 .6 .6 .6 .7 .6-1.2 .6 .8 .6 .5 .6-1.9 .6 1.2 .6 .2 .6-.7 .6 .8 .6-.5 .6-.1 .6 .2 .6 .7 .6-1 .6 .7 .6 .3 .6-.7 .6 .4 .6 .3 .6-.4 .6 .2 .6 .1 .6-.1 .6-2.1 .6 1.8 .6-.7 .6-.2 .6 .6 .6 .6 .6-.1 .6-.7 .6 1.1 .6 0 .6-1.5 .6 .4 .6-.1 .6 .6 .6 .6 .6-.1 .6 .1 .6 0 .6-.1 .6 0 .6-.6 .6 .4 .6 .3 .6-.5 .6 .3 .6-.1 .6-.8 .6 .5 .6 .3 .6-.1 .6-.6 .6 .8 .6-.8 .6 1 .6-.2 .6-.7 .6 .3 .6 .5 .6-1 .6 .9 .6-.3 .6 .3 .6-.4 .6-.3 .6 .6 .6-.4 .6-.5 .6 0 .6 .5 .6 .5 .6-.1 .6 0 .6 .2 .6-.7 .6 .7 .6 0 .6-1.2 .6 1.2 .6-.4 .6 .4 .6-.7 .6 .2 .6 .6 .6-1 .6-.3 .6 .4 .6 .8 .6-1 .6 1 .6 .1 .6-1.4 .6 1 .6-.1 .6 0 .6-.2 .6 .1 .6 .3 .6-.3 .6 .5 .6 0 .6-.8 .6 .8 .6-.1 .6-1 .6 .3 .6 .2 .6-.1 .6 .6 .6 .1 .6-.3 .6 .4 .6-.2 .6-.5 .6 .4 .6 .2 .6 .1 .6-.3 .6-.3 .6 .5 .6 .1 .6-.3 .6-.5 .6 .8 .6-.8 .6 .6 .6-.7 .6 .1 .6 .6 .6-1.4 .6 1 .6 .6 .6-1.4 .6 .2 .6 .5 .6 .3 .6-1 .6 1 .6 .1 .6 .1 .6 0 .6-.5 .6 .5 .6-.6 .6 .5 .6 .2 .6-.2 .6 .1 .6-.2 .6 .1 .6 .2 .6 .1 .6-.3 .6-.4 .6 .4 .6-.3 .6 0 .6-.8 .6 1.3 .6 .1 .6-.4 .6 0 .6-.4 .6 .7 .6-.5 .6 .2 .6-.9 .6-.6 .6 1 .6-.3 .6 .3 .6 .3 .6-.7 .6 .5 .6-1.4 .6 1.5 .6-1.5 .6 1.1 .6-.9 .6 1.5 .6-.2 .6 .6 .6-.1 .6 .2 .6-.6 .6-.7 .6 1 .6 .2 .6-.9 .6-.2 .6 .2 .6 .2 .6 .6 .6-1 .6 .1 .6 1 .6-.7 .6 0 .6-.1 .6-.6 .6 .5 .6-.3 .6 .7 .6 0 .6 .5 .6-.6 .6-.2 .6 .4 .6 .5 .6-1 .6 .9 .6-1.3 .6 .6 .6 .1 .6 .1 .6 .5 .6-.2 .6-.4 .6 .6 .6-.3 .6-.3 0 3.5-.6 .3-.6-1-.6 .2-.6-.2-.6 .3-.6 0-.6 0-.6-.7-.6 .6-.6 0-.6-.5-.6 .6-.6 .1-.6-.7-.6 .3-.6 .1-.6 .3-.6-.2-.6-.4-.6 .2-.6-.1-.6-.1-.6 1-.6-1.1-.6 .7-.6 .5-.6-1.1-.6 .8-.6-1.1-.6 .9-.6-.9-.6 .6-.6-.1-.6 1.1-.6-.6-.6-.7-.6-.1-.6-.1-.6 .4-.6-.1-.6-.4-.6 .1-.6-.1-.6 .2-.6 .4-.6-.2-.6 1.1-.6 .1-.6-1.5-.6 .5-.6-.6-.6 .1-.6 .6-.6-.6-.6 1.9-.6-2-.6 1.4-.6 .4-.6-1.7-.6 0-.6 .1-.6-.2-.6 .1-.6 1.2-.6 .1-.6-.1-.6-1.2-.6-.1-.6 .4-.6 .9-.6 .5-.6-1.2-.6 .2-.6-.6-.6 .3-.6-.1-.6-.2-.6 .1-.6-.3-.6 .2-.6 .1-.6 .7-.6-.1-.6 .3-.6-.5-.6-.3-.6 .4-.6-.7-.6 2-.6-1.7-.6 0-.6 .9-.6-.6-.6-.2-.6 0-.6 .8-.6 .6-.6-1.3-.6-.6-.6 .3-.6 .5-.6-.6-.6-.2-.6 .4-.6-.4-.6 .5-.6 1.4-.6-1.4-.6 .3-.6-.3-.6 .5-.6-.1-.6-.8-.6 .3-.6 0-.6-.1-.6 1.4-.6-.6-.6 .4-.6-.8-.6-.7-.6 .1-.6 .8-.6 0-.6 .1-.6-.4-.6-.6-.6 .2-.6 .6-.6 .2-.6-.3-.6-.6-.6 .3-.6 0-.6 .5-.6-.2-.6-.2-.6-.1-.6 .4-.6 .1-.6-.9-.6 1-.6-.4-.6 0-.6 .2-.6 0-.6-.6-.6 .1-.6-.1-.6 1-.6-1.1-.6 .5-.6 1.2-.6-1.6-.6 .4-.6-.5-.6 1-.6-.6-.6 .9-.6-.5-.6-.5-.6 0-.6-.1-.6 .7-.6-.3-.6 .2-.6-.6-.6 .7-.6 .1-.6-1.1-.6 1-.6-.2-.6-.1-.6-.5-.6 .3-.6 1.5-.6-1.4-.6 .6-.6-1.2-.6 .2-.6 0-.6 1-.6-.9-.6 1.1-.6-1.4-.6 1.7-.6-.8-.6-.1-.6 .4-.6-.3-.6-.7-.6 .2-.6-.1-.6 1.6-.6-1.5-.6 .7-.6 .6-.6-.9-.6-.6-.6 0-.6-.1-.6 0-.6 0-.6 .4-.6-.3-.6 .7-.6 .2-.6-.5-.6-.1-.6-.5-.6 .4-.6 .5-.6 .5-.6-.7-.6-.7-.6 .4-.6 .3-.6-.2-.6 .4-.6 .3-.6-.9-.6 .6-.6-.9-.6 .5-.6-.5-.6 1.2-.6-1.2-.6 .2-.6 .2-.6 .6-.6-.8-.6 0-.6 1.9-.6-1.8-.6-.1-.6 .1-.6-.2-.6 1-.6-.9-.6 .7-.6-.4-.6-.4-.6 .4-.6 .9-.6-1.3-.6 .6-.6-.7-.6 1-.6-.1-.6-.8-.6 0-.6 .2-.6 .5-.6-.7-.6 1.3-.6-.5-.6-.8-.6 1.2-.6-.9-.6 0-.6 .8-.6-.1-.6-1-.6 .4-.6-.2-.6 0-.6 .9-.6-.1-.6-.8-.6-.2-.6 1.2-.6-.9-.6 .8-.6 1-.6-1-.6-.7-.6-.5-.6 .7-.6-.7-.6 0-.6 .6-.6-.1-.6-.4-.6 .4-.6 .1-.6-.4-.6 .5-.6-.5-.6 1.4-.6-1.1-.6 .1-.6-.3-.6-.1-.6 0-.6 0-.6 1.2-.6-1.4-.6 1.2-.6-.9-.6-.3-.6 .7-.6-.7-.6 1-.6 0-.6-1-.6 1.3-.6-.2-.6-.9-.6 .5-.6-.1-.6 .4-.6 .1-.6-1.1-.6 .8-.6 .1-.6-.1-.6 1-.6-.8-.6 .9-.6-1.8-.6 .5-.6-.5-.6-.1-.6 1.2-.6-1-.6 .5-.6-.2-.6-.5-.6 .3-.6 .2-.6 .8-.6-.7-.6-.2-.6 .1-.6-.2-.6 .2-.6-.5-.6 .1-.6 0-.6 .3-.6 .5-.6-.6-.6-.2-.6 .2-.6-.1-.6 1-.6-.6-.6-.1-.6 0-.6 .6-.6-.3-.6 1.3-.6-.9-.6-.8-.6 1-.6-.6-.6-.6-.6 .7-.6-.7-.6 .9-.6-.4-.6-.3-.6 .7-.6-.9-.6 .5-.6 .4-.6-1.1-.6 0-.6 .2-.6-.1-.6 1.3-.6-1.4-.6 .4-.6-.3-.6 0-.6 .3-.6 0-.6-.4-.6 0-.6 .2-.6 .8-.6-.6-.6 1-.6 .1-.6-1.4-.6 .9-.6-1-.6 .5-.6-.3-.6 .9-.6-.7-.6 .2-.6 .3-.6-.6-.6 0-.6-.2-.6 .3-.6 .6-.6 .2-.6-.5-.6 .4-.6-.8-.6-.3-.6 .8-.6-.7-.6 .4-.6-.2-.6-.2-.6 .1-.6-.1-.6 .2-.6 .3-.6-.5-.6 0-.6 .3-.6-.2-.6-.2-.6 .5-.6-.1-.6-.3-.6 0-.6 .2-.6-.1-.6 1.5-.6-1.6-.6 0-.6 1.1-.6-.3-.6-.6-.6 .2-.6-.5-.6 .2-.6 0-.6 .2-.6-.3-.6-.1-.6 1-.6-.5-.6-.1-.6 1.2-.6-1-.6-.5-.6 .9-.6-.3-.6 .8-.6-1.4-.6 1-.6 .2-.6-1.1-.6 .8-.6-.7-.6 .3-.6-.4-.6 .7-.6-.4-.6 1-.6-1-.6 0-.6 0-.6-.5-.6 0-.6 1.9-.6-.2-.6-1.1-.6 .8-.6-.4-.6 .1-.6-.9-.6 .6-.6 .5-.6-1.1-.6 .2-.6 .8-.6-1-.6 .2-.6-.1-.6 .1-.6 0-.6 .3-.6-.6-.6 .4-.6 .1-.6-.5-.6 .1-.6-.2-.6 .1-.6 .2-.6 1-.6-.8-.3-.2-.3 .3-.3-.2-.3 .9-.3-1.3-.3 .7-.3 .1-.3 .7-.3-.5-.3-.9-.3-.1-.3 .8-.3-.7-.3 .3-.3 .4-.3 .7-.3-.9-.3 0-.3-.5-.3 .7-.3-.7-.3 0-.3 .9-.3-.8-.3 0-.3 .2-.3 .2-.3 1.3-.3-1.4-.3 .5-.3 .1-.3-.2-.3-.5-.3-.1-.3 .1-.3-.2-.3 .2-.3 .9-.3 .3-.3-1-.3 0-.3-.4-.3 .7-.3-.7-.3 .8-.3-.7-.2 2.1-.4-2.1-.3-.1-.3-.1-.2 1-.4-.9-.3 .5-.3-.2-.3-.2-.2 .6-.3 .1-.3-.3-.3-.1-.3 .6-.3 .1-.3-.7-.3-.1-.3 1-.3-.2-.3 .2-.3-1-.3 .2-.3 .4-.3-.6-.3 .4-.3 .2-.2 .6-.2 .7-.5-1.7-.3-.1-.2 .7-.4-.5-.3 0-.3 .1-.2 .4-.3 0-.4-.2-.2 .3-.1 1.4-.5-1.5-.2 .4-.3 0-.2 .7-.5-1.1-.1 1.1-.5-.8-.3 .1 .2 1.8-.7-1.6 0 1-.6-.9-.3 0 .2 1.6-.7-1.1z" fill="#111"/>
<path d="M77.8 410.2l.3-.1 .3-.1 .3-.1 .3-.1 .3-.1 .3-.1 .3 0 .3-.1 .3-.1 .3-.1 .3 0 .3-.1 .3 0 .3-.1 .3-.1 .3 0 .3-.1 .3 0 .3 0 .3-.1 .3 0 .3-.1 .3 0 .3 0 .3-.1 .3 0 .3 0 .3-.1 .3 0 .3 0 .3 0 .3-.1 .3 0 .3 0 .3 0 .3 0 .3-.1 .3 0 .3 0 .3 0 .3 0 .3 0 .3 0 .3-.1 .3 0 .3 0 .3 0 .3 0 .3 0 .3 0 .3 0 .3 0 .3 0 .3-.1 .3 0 .3 0 .3 0 .3 0 .3 0 .3 0 .3 0 .3 0 .3 0 .3 0 .3 0 .3 0 .3 0 .3 0 .3 0 .3 0 .3 0 .3 0 .3 0 .3 0 .3 0 .3-.1 .3 0 .3 0 .3 0 .3 0 .3 0 .3 0 .3 0" fill="none" stroke="#111" stroke-width="1.5"/>
<path d="M76.8 413.4l.7 .6 .3-.2 .1-.7 .4 .2 .4 0 .4 .1 .1-.8 .6 .7 .3-.3 .3 .1 .3-.4 .2-.5 .3-.1 .2-.6 .3 0 .5 .7 .2-.7 .4 .1 .4 .6 .2-1.1 .5 1.2 .1-.9 .4-.1 .3-.1 .4 .8 .3-.3 .3 .4 .1-2.5 .5 2.1 .3-.4 .3-.3 .4 .7 .3 0 .3 .2 .3-.1 .3-.1 .3-.1 .3 .1 .3-.4 .3 .1 .3 .1 .3-.8 .3 .1 .3 .7 .3-.6 .3 .3 .3-.2 .3 .6 .3-.2 .3-.5 .3 .5 .3-1 .3 .1 .4 1 .2-.8 .3-.1 .3-.2 .3 .2 .4 .9 .3-.5 .3 .2 .3-.2 .3-.4 .3 .6 .3-.3 .3 0 .3-.9 .3 .9 .3 .3 .3-.4 .3 .1 .3 .2 .3 .1 .3-1.3 .3 .7 .3-.2 .3 .3 .3 .3 .3-.2 .3 .2 .3-.7 .3 .9 .3-.9 .3 .5 .3 0 .3 .4 .3 .1 .3-1.1 .3 .4 .3 .6 .3-.2 .3 .4 .3-.8 .3 .3 .3 .1 .3 .4 .3-.2 .3-.2 .3 .1 .3-.3 .6-.4 .6 .8 .6-.1 .6-.3 .6-.1 .6 .6 .6-1.9 .6 2 .6-.2 .6-1.5 .6 .7 .6 .8 .6-.5 .6-.1 .6 .6 .6-.1 .6-.7 .6-.1 .6-.4 .6 .8 .6-.1 .6 .2 .6 .2 .6 .2 .6-.1 .6-.8 .6 1 .6-.5 .6 .5 .6-1 .6 .7 .6-.6 .6-.2 .6 .5 .6 .6 .6-.4 .6 .3 .6-1.3 .6 .6 .6-.1 .6 0 .6 .8 .6-.1 .6 .1 .6-1.1 .6 .9 .6-.9 .6 .7 .6 .3 .6 .1 .6-.1 .6-.6 .6 .8 .6-.2 .6 .2 .6-.6 .6-.4 .6 .4 .6 .4 .6 0 .6-.2 .6-.2 .6 .6 .6-.3 .6 .3 .6-.8 .6 .8 .6 0 .6-.5 .6 .1 .6-.6 .6-.8 .6 1.8 .6-.2 .6-.6 .6-.2 .6 .9 .6-1.4 .6 1.4 .6 0 .6-.3 .6-1.1 .6 1.4 .6-1.4 .6 1.4 .6 0 .6-1 .6 .3 .6 .5 .6-.3 .6 0 .6 0 .6-.9 .6 1.5 .6-.5 .6 .2 .6 .1 .6 .1 .6-.7 .6-.1 .6 .5 .6 0 .6 .4 .6-.2 .6-.7 .6 .8 .6 .1 .6-1.4 .6 1.1 .6-.6 .6 .5 .6 .4 .6-1 .6 .9 .6 .2 .6-.9 .6 .9 .6-1.9 .6 1.7 .6-1.3 .6 1 .6 .2 .6-.3 .6-.7 .6 1 .6-.1 .6 .1 .6-.5 .6 .5 .6-.3 .6-1.6 .6 1.5 .6 .3 .6-.7 .6 .4 .6 .5 .6 .1 .6-.3 .6-.6 .6 .2 .6 .2 .6-.7 .6 .3 .6 .7 .6 .2 .6-.7 .6 .7 .6-.5 .6 .3 .6 .1 .6-.6 .6-.7 .6 1.4 .6-.1 .6-.4 .6 .2 .6 .2 .6 .1 .6-.9 .6 .2 .6-.7 .6 .7 .6 .5 .6 .1 .6 .1 .6-1.4 .6 1.3 .6-.1 .6 0 .6 0 .6 .2 .6-.3 .6-.1 .6-.3 .6 .5 .6 .2 .6-.2 .6 .1 .6-.3 .6 .4 .6-.3 .6-.1 .6 .5 .6-.4 .6 0 .6-.3 .6 .5 .6-.3 .6 .2 .6-.3 .6-.3 .6-.1 .6 .9 .6-.3 .6-.3 .6 0 .6 0 .6 .1 .6-.1 .6 0 .6 .3 .6-.9 .6 1 .6-.5 .6 .7 .6 0 .6-.2 .6-1.1 .6 1 .6 .1 .6-1.8 .6 .5 .6 1.5 .6-.7 .6 .3 .6-.1 .6-2.1 .6 2.4 .6-1.2 .6 1.5 .6-.9 .6 .4 .6-.1 .6 .5 .6-.5 .6 .1 .6-.1 .6-.5 .6-.9 .6 1.7 .6 .1 .6-.8 .6-.3 .6 .1 .6 .4 .6-.6 .6 1.4 .6-.6 .6-.7 .6 1.1 .6-.5 .6-.5 .6 .6 .6 .6 .6-.4 .6-.2 .6 .1 .6-1 .6 1.5 .6-.6 .6-.5 .6 .8 .6-.4 .6 .6 .6-1.2 .6 1 .6 .1 .6-.1 .6-.2 .6-.8 .6 .6 .6 .5 .6 0 .6-.2 .6-.2 .6-1 .6 0 .6 1.5 .6-.4 .6 .5 .6-.9 .6-.2 .6 .5 .6 .2 .6-.1 .6-1.2 .6 1.6 .6 0 .6 0 .6-.3 .6 .1 .6-.2 .6-.2 .6 .3 .6 .4 .6-1 .6 .3 .6-.5 .6 .8 .6-.4 .6 .2 .6 .2 .6 0 .6 .3 .6-.9 .6 .6 .6 .3 .6 0 .6-.7 .6 .1 .6 .6 .6-.5 .6 .5 .6-.2 .6-1.2 .6 1.1 .6 .1 .6 .1 .6-1.2 .6 .5 .6 .2 .6-1 .6 1 .6 .6 .6 0 .6 0 .6-.6 .6 .6 .6-1.6 .6 1.3 .6-.9 .6 .6 .6 .3 .6 .1 .6 0 .6-1.6 .6 .8 .6 0 .6 .9 .6 0 .6-.3 .6 0 .6-.1 .6-1.2 .6 .6 .6 1 .6-.4 .6 .3 .6-.7 .6-.4 .6 .1 .6 1.1 .6-1.5 .6 1.5 .6-1 .6 .6 .6 .2 .6 0 .6-2.5 .6 2.7 .6-.4 .6 .4 .6 .1 .6-1.1 .6 1.2 .6-.6 .6 .1 .6-.3 .6 .6 .6 .1 .6 0 .6-.1 .6 0 .6 .1 .6-.6 .6 0 .6 0 .6 .2 .6-.5 .6 .8 .6-1 .6 .7 .6-.2 .6 .2 .6 .1 .6-.5 .6 .5 .6-1.2 .6 1.2 .6 .1 .6-.9 .6 .6 .6 .5 .6-.4 .6-.1 .6 .3 .6-.4 .6-.5 .6-.3 .6 .1 .6 .1 .6 .8 .6 0 .6 .2 .6 .2 .6-.6 .6-.3 .6 .7 .6-.1 .6-.7 .6 .6 .6 .1 .6-.4 .6-.4 .6 0 .6-.4 .6 .6 .6-.2 .6 .7 .6-.8 .6 1.1 .6-.8 .6-.1 .6 .3 .6 .7 .6-1.1 .6 .1 .6 1 .6-.2 .6-.6 .6 .5 .6-.2 .6 .4 .6-1.2 .6 1.2 .6-.5 .6-.6 .6 1 .6-.2 .6 .4 .6-.4 .6-.5 .6-1.4 .6 2 .6 .2 .6-.8 .6 .7 .6-.4 .6 0 .6 .2 .6-.1 .6-.5 .6 .6 .6-.5 .6 .6 .6-1.3 .6 1.3 .6-.5 .6 .5 .6 .4 .6-.2 .6-.2 .6-.1 .6 .5 .6-.3 .6-.6 .6 .1 .6-.2 .6 .5 .6-.4 .6 .7 .6-.1 .6 .1 .6 0 .6-.7 .6 .6 .6-2.6 .6 2 .6 .5 .6 .2 .6 .1 .6 0 .6 0 .6-.6 .6 .3 .6-.8 .6 .5 .6-.1 .6-.7 .6 1.5 .6-.3 .6 0 .6-.1 .6-1.1 .6 .5 .6 1 .6-.7 .6-1.3 .6 1.7 0 3.3-.6 .4-.6-.4-.6 .3-.6-.3-.6 .2-.6 .3-.6-.1-.6 .4-.6-.5-.6 1.3-.6-1.1-.6-.7-.6 1.1-.6-1-.6 0-.6 .6-.6-.1-.6-.3-.6 1-.6-1.2-.6 .2-.6 .1-.6 0-.6 .5-.6-.1-.6 .7-.6-1.3-.6 .3-.6 1-.6-1.3-.6 .5-.6 0-.6 0-.6 .5-.6-1.2-.6 .1-.6 .8-.6 0-.6-.7-.6 1.1-.6 .4-.6-1.3-.6-.4-.6 1.2-.6-.8-.6 .4-.6-.4-.6 .9-.6-1.2-.6 0-.6 .4-.6-.4-.6 .1-.6 1.1-.6-1.1-.6-.2-.6 .5-.6 .6-.6-.5-.6-.6-.6 .7-.6-.5-.6-.1-.6 .4-.6 .3-.6-.2-.6-.5-.6 .9-.6-.6-.6 .6-.6-.2-.6-.5-.6 1.3-.6-.8-.6-.3-.6 .6-.6 .6-.6-.5-.6-.9-.6 .7-.6-.8-.6 1.3-.6-.2-.6-.1-.6 .3-.6-1.3-.6-.1-.6 .2-.6 1-.6-.8-.6-.4-.6-.1-.6 1.4-.6-.6-.6 .7-.6-.3-.6-1.1-.6 .3-.6-.4-.6 0-.6 .4-.6 .7-.6-.3-.6-.2-.6 0-.6-.2-.6-.1-.6-.3-.6 1.2-.6 .5-.6-1-.6 .2-.6 .2-.6 .3-.6-.5-.6-.8-.6 1.9-.6-.6-.6-1-.6 .7-.6-.7-.6 .2-.6-.2-.6 .8-.6-.5-.6 .6-.6-1.1-.6-.1-.6 .1-.6 .2-.6-.1-.6 1.8-.6-1.4-.6-.2-.6 .1-.6 .4-.6-.9-.6 1.4-.6-.4-.6-.4-.6 1.5-.6-1.8-.6-.4-.6 .6-.6 .4-.6 .8-.6-1.2-.6 .7-.6-1.1-.6 .2-.6 1-.6 .3-.6-1.7-.6 1.4-.6-.4-.6-.1-.6 .6-.6-1.3-.6-.2-.6 .1-.6 1.3-.6-.7-.6-.5-.6 .8-.6-.4-.6-.6-.6 .6-.6-.5-.6 .2-.6 .2-.6 .6-.6-.6-.6 .9-.6-1.2-.6 .4-.6-.3-.6 1.1-.6-1.3-.6 1.1-.6-.5-.6 0-.6-.4-.6-.3-.6 .3-.6 .2-.6 .4-.6-.6-.6 .8-.6-.6-.6 0-.6-.2-.6 .6-.6-.6-.6 .6-.6-.6-.6 .6-.6-.3-.6-.4-.6 .4-.6-.5-.6 .7-.6-.1-.6 0-.6-.6-.6 .5-.6-.2-.6-.1-.6-.2-.6 .4-.6 .3-.6 .3-.6-.3-.6-.4-.6 0-.6 .7-.6 0-.6 .4-.6-1.2-.6 .2-.6 .3-.6-.7-.6 0-.6 .1-.6 .6-.6-.6-.6 .1-.6 .7-.6-.8-.6 .1-.6 .5-.6 .7-.6-1.1-.6-.1-.6 .7-.6-.5-.6-.1-.6 .9-.6 .4-.6-.5-.6-.6-.6 .1-.6-.3-.6-.2-.6-.2-.6 .1-.6 .1-.6 .4-.6 .6-.6-.2-.6-.2-.6-.1-.6-.5-.6 .2-.6-.2-.6 .3-.6 .7-.6-.8-.6-.2-.6-.1-.6 .1-.6 .2-.6 .2-.6-.5-.6 0-.6 .1-.6 1.7-.6-.5-.6-1.2-.6 .7-.6 0-.6 0-.6-.3-.6-.1-.6 0-.6 .7-.6-.8-.6 0-.6 1.1-.6-1.1-.6 .5-.6-.7-.6 .6-.6 1-.6-.7-.6-.1-.6-.1-.6-.3-.6-.3-.6 .6-.6-.4-.6 .2-.6 .4-.6-.8-.6 .2-.6-.3-.6 .7-.6-.2-.6-.4-.6 1.7-.6-1.8-.6 0-.6 0-.6 .4-.6 .1-.6 .7-.6-.3-.6-.8-.6 .6-.6 .1-.6-.1-.6 .1-.6 0-.6-.9-.6 .1-.6 .4-.6 .6-.6 .3-.6-.6-.6 .4-.6-.6-.6 .7-.6-1.4-.6 .6-.6-.4-.6 .5-.6-.4-.6 0-.6 1.2-.6-.9-.6-.4-.6 1.1-.6-.9-.6-.2-.6 .3-.6 .3-.6-.5-.6 .7-.6 .4-.6-.4-.6-1-.6 .2-.6 .8-.6 .3-.6 .5-.6-1-.6-.2-.6-.6-.6 .5-.6 .3-.6-.5-.6-.3-.6 .8-.6-.3-.6-.3-.6 .1-.6 .5-.6 .4-.6-.7-.6-.1-.6 .1-.6 1.2-.6-1-.6 .2-.6-.2-.6-.3-.6 .8-.6-.8-.6 .1-.6 0-.6 .2-.6-.6-.6 0-.6 .2-.6-.1-.6 1-.6-.1-.6-.9-.6 .1-.6 .7-.6-.2-.6-.6-.6 .8-.6-.2-.6 .2-.6-.9-.6 .5-.6 .1-.6 .6-.6-.3-.6-.7-.6 .3-.6-.4-.6-.1-.6 .2-.6 .2-.6 .9-.6-.5-.6-.1-.6 1-.6-1.7-.6 .1-.6 .5-.6 .2-.6-.8-.6 1.6-.6-1.6-.6 1-.6 .2-.6-1.2-.6 1.6-.6-1.4-.6 1-.6-1.3-.6 .8-.6 .1-.6-.1-.6-.4-.6 0-.6 1.2-.6-1.3-.6 .1-.6-.1-.6 .4-.6 1.3-.6-1.5-.6-.5-.6 .2-.6 1.5-.6-.4-.6-.5-.6 .4-.6-1.1-.6 .3-.6 .2-.6-.1-.6-.2-.6 1.2-.6-1.1-.6 .1-.6-.3-.6 .9-.6-1.1-.6 0-.6 .7-.6-.5-.6 .5-.6 .9-.6-1-.6 .3-.6-.1-.6-.4-.6-.2-.6 .1-.6 .7-.6 0-.6 .1-.6 .4-.6-1.4-.6 .4-.6-.1-.6-.3-.6 .8-.6-.1-.6 0-.6 .1-.6-.7-.6-.1-.6 .2-.6-.1-.6 .4-.6 .1-.6-.2-.6 .5-.6 .7-.6-1.7-.6 2-.6-1.3-.6 .3-.6 .3-.6-.9-.6 0-.6 .4-.6 0-.6-.2-.6 .7-.6-.5-.6 .2-.6-1-.6 1.4-.3-1-.3 .8-.3-.6-.3-.3-.3 .8-.3-.6-.3-.3-.3-.2-.3 .6-.3 .1-.3 .2-.3-.1-.3-.1-.3 .9-.3-.8-.3-.6-.3 .2-.3 .2-.3-.4-.3 .7-.3-.5-.3 0-.3 .2-.3-.4-.3 .1-.3 .7-.3 .6-.3-1-.3 .6-.3-.7-.3 .5-.3-.3-.3 .2-.3 .6-.3-1.2-.3 .2-.3-.2-.3 .4-.2 .6-.4-.7-.3-.5-.3 .4-.2 .3-.3 1-.4-1.4-.2 1.1-.3-1-.3 0-.3-.1-.3 .4-.3 .1-.3 .4-.3-.8-.3-.2-.3 0-.3 0-.3 .9-.2 .4-.4-.7-.3-.3-.3 .1-.2 1-.3-.3-.3-.1-.3 .2-.2 1.2-.4-1.2-.3-.5-.3-.2-.3 .1-.3-.1-.1 1.7-.5-1.6-.2 1-.3-.5-.4-.3-.3 0-.3-.1-.3 0-.2 .5-.2 .4-.4-.4-.3-.1-.2 .2-.4-.2-.3 0-.2 .2-.2 .6-.2 .3-.3-.2-.4-.1-.4-.4-.2 .2-.1 .8-.2 .1-.6-.6-.1 .5-.3 0-.3-.1-.2 .5z" fill="#111"/>
<path d="M77.8 415.5l.3-.1 .3-.1 .3-.1 .3-.2 .3-.1 .3-.1 .3-.1 .3-.1 .3-.1 .3 0 .3-.1 .3-.1 .3-.1 .3 0 .3-.1 .3-.1 .3 0 .3-.1 .3 0 .3-.1 .3 0 .3-.1 .3 0 .3-.1 .3 0 .3-.1 .3 0 .3 0 .3-.1 .3 0 .3 0 .3 0 .3-.1 .3 0 .3 0 .3 0 .3-.1 .3 0 .3 0 .3 0 .3 0 .3-.1 .3 0 .3 0 .3 0 .3 0 .3 0 .3-.1 .3 0 .3 0 .3 0 .3 0 .3 0 .3 0 .3 0 .3 0 .3 0 .3 0 .3-.1 .3 0 .3 0 .3 0 .3 0 .3 0 .3 0 .3 0 .3 0 .3 0 .3 0 .3 0 .3 0 .3 0 .3 0 .3 0 .3 0 .3 0 .3 0 .3 0 .3 0 .3 0 .3-.1 .3 0 .3 0" fill="none" stroke="#111" stroke-width="2.6"/>
<path d="M76.9 419.8l.5 .1 0-.7 .7 .5-.3-1.4 .8 .7 .4 .1-.2-1.3 .5 .2 .4 0 .4 .1 .5 .2 .3-.2 .4 .1 .2-.4 .1-.7 .6 .9 .3-.4 .3-.1 .3 .1 .3-.5 .3 .1 .2-.8 .4 .5 .3-.2 .4 .1 .4 .4 .1-.8 .5 .6 .3 0 .1-1.3 .5 1.4 .3-.6 .3 .1 .3 .2 .3 .1 .2-1.5 .3-.6 .5 2.2 .3-.4 .3 0 .3 0 .2-.6 .3-.8 .4 1.6 .3-.1 .3-.1 .3-1.1 .3 1.2 .3-.4 .3 .1 .3-.2 .3-.1 .3 .5 .3-.4 .3 .4 .3-.2 .4 .2 .2-1 .4 .9 .3-.3 .3 .2 .3 0 .2-1.6 .4 1.6 .3-.3 .2-.6 .3-.3 .4 .3 .3 .9 .3-.6 .3-.3 .3 .4 .3 0 .3 .3 .3-.3 .3-1 .3 1.3 .3-1 .3 .5 .3 .7 .3 0 .3-.8 .3-.2 .3-.4 .3 1 .3-.1 .3-.1 .3-.6 .3 .7 .3-.1 .3 .3 .3-.3 .3-.1 .3 .5 .3-1.6 .3 1.6 .3-.7 .3 .7 .3-.6 .3 .6 .6-.3 .6-.6 .6 .9 .6 .1 .6-1.4 .6 .9 .6-.1 .6 .5 .6-.8 .6 .4 .6-.7 .6-.5 .6 1.3 .6-.2 .6 .1 .6 .4 .6-1.3 .6 .6 .6 .1 .6 .7 .6-.1 .6-.1 .6 0 .6 .1 .6-.4 .6 .2 .6-.1 .6 .2 .6-.8 .6 .3 .6-.1 .6-.1 .6 .1 .6 0 .6 .3 .6 .2 .6-.1 .6 .3 .6-.4 .6-.9 .6 .7 .6 .2 .6 .4 .6-.9 .6 1 .6-.2 .6-.7 .6 .6 .6 .2 .6-.4 .6 .3 .6-.1 .6-.2 .6-.3 .6 .4 .6-1.2 .6 .1 .6 .5 .6 .8 .6-.1 .6 .3 .6-.6 .6 .4 .6-.1 .6-.3 .6 .7 .6-.6 .6-.2 .6 .1 .6 .1 .6 .1 .6 .4 .6-1.2 .6 1.1 .6-.5 .6-.6 .6 .1 .6 1 .6-.4 .6 .4 .6-1.3 .6 .8 .6 .1 .6 0 .6 .3 .6 .3 .6-1.8 .6 1.4 .6-.1 .6-.3 .6 .8 .6-.3 .6 .3 .6-.3 .6-.6 .6 .6 .6 .3 .6-.6 .6 .3 .6-.5 .6 .3 .6 .4 .6-.9 .6 .6 .6 .1 .6-.3 .6 .6 .6-.3 .6-.5 .6 .7 .6-1.4 .6 0 .6 .1 .6 1 .6 .1 .6-.9 .6 .7 .6 0 .6-.8 .6 .6 .6 .5 .6-.3 .6-.8 .6 1.1 .6-.1 .6-.1 .6-.4 .6-.8 .6 .9 .6-.4 .6 1.1 .6-.2 .6 .1 .6-1.3 .6 1.3 .6-.1 .6-.7 .6 .6 .6-1.8 .6 2 .6-1 .6 1.1 .6-.3 .6-1.3 .6 1.1 .6-.7 .6 .2 .6 .9 .6-.2 .6 0 .6 .2 .6-1.1 .6 1 .6-.5 .6 .1 .6-.3 .6 .5 .6-.5 .6 .2 .6 .1 .6-.2 .6 0 .6 0 .6 .7 .6-1.4 .6 1.1 .6 .1 .6-.1 .6-1 .6 .8 .6 .5 .6-.1 .6 .2 .6-.6 .6-.7 .6 1.1 .6 0 .6 .2 .6-.3 .6-1.3 .6 1.1 .6-.2 .6-.4 .6 .7 .6-1.1 .6 1.2 .6-.2 .6-.6 .6 .7 .6-1.4 .6 1.5 .6-.1 .6-.4 .6-.1 .6 .2 .6-.5 .6-1 .6 1.9 .6-.4 .6 .4 .6-.9 .6 .8 .6 .4 .6-.2 .6-.1 .6-.5 .6 .3 .6-.3 .6 .3 .6 .4 .6-1.4 .6 1.4 .6-.3 .6-.2 .6 .1 .6 .5 .6-.2 .6-1.2 .6 .9 .6-.1 .6 0 .6 .5 .6-1 .6 .3 .6-1 .6 .3 .6 1 .6-1.4 .6 1.4 .6-.3 .6 .8 .6-1.2 .6 .7 .6 .2 .6-.4 .6 .6 .6-.8 .6 .4 .6-.5 .6 .6 .6 .2 .6-.1 .6 0 .6-.7 .6-.5 .6 .4 .6 0 .6 .1 .6 .5 .6-.5 .6 .8 .6-.8 .6 .5 .6 .2 .6-.5 .6 .6 .6 0 .6 0 .6-.8 .6 .6 .6-.6 .6 .5 .6-.4 .6 .1 .6 .6 .6-1.5 .6 1.7 .6-1 .6 1 .6-1 .6-.1 .6-1.5 .6 2.3 .6-1.3 .6 1.1 .6 .2 .6 0 .6-.9 .6 .1 .6 0 .6 .8 .6 .2 .6-1.6 .6 1.6 .6-.6 .6 .5 .6 .1 .6-1.1 .6 .7 .6-.1 .6 .2 .6-.1 .6 .1 .6-.4 .6 .6 .6-.2 .6-.5 .6-.4 .6 1.1 .6-.3 .6 .5 .6-1.5 .6 .4 .6 1 .6-.9 .6 .4 .6-.4 .6 .9 .6-.4 .6 .2 .6-.1 .6-.8 .6 1.2 .6-.9 .6 .2 .6 .1 .6-.5 .6 1.1 .6-1.3 .6 .6 .6 0 .6-.3 .6-.3 .6 .7 .6 .2 .6 .3 .6-1.1 .6 .8 .6 .1 .6 .1 .6-.2 .6-.4 .6 .6 .6-1 .6 .7 .6 .3 .6 .1 .6-.6 .6 .5 .6-.2 .6-.2 .6 0 .6-.2 .6 .2 .6-.7 .6 .9 .6-.1 .6 .5 .6-.5 .6 .4 .6-.3 .6-.4 .6 .2 .6-.1 .6 .7 .6-.3 .6-.5 .6 .6 .6-.7 .6 .6 .6-.7 .6 .6 .6-.6 .6 .9 .6 0 .6-.1 .6 0 .6-.5 .6 .6 .6-1.4 .6 1.4 .6-1.6 .6 .6 .6 .5 .6 .4 .6-.2 .6 .2 .6 .2 .6-.9 .6 .2 .6 .7 .6-1.1 .6 .4 .6 .3 .6 .3 .6-1.3 .6 1.1 .6-1.1 .6 1.1 .6-.3 .6 .1 .6 .4 .6-.2 .6-.7 .6 .5 .6-.2 .6-.4 .6 .2 .6 .8 .6-.1 .6 .2 .6-.5 .6 .1 .6-.8 .6-.2 .6 1.1 .6-.9 .6 .7 .6 .2 .6 .1 .6-.8 .6 .7 .6-1.3 .6 .6 .6-.3 .6 1 .6-.7 .6-.1 .6 .5 .6-1.1 .6 .6 .6 .6 .6 .1 .6 .3 .6-.1 .6 0 .6-.3 .6 .5 .6-.1 .6-1.1 .6 .1 .6-.3 .6 .1 .6 1.2 .6-.3 .6-2 .6 1.4 .6 .9 .6-1.1 .6 .8 .6-.4 .6 0 .6 .5 .6-.2 .6 .4 .6-1.1 .6 .7 .6-1 .6 .3 .6 1.1 .6-.5 .6-.1 .6 .7 .6-1.4 .6 1.1 .6 0 .6-.2 .6-.6 .6 0 .6 .3 .6 .7 .6-1.3 .6 .3 .6-.5 .6 .9 .6-.5 .6-.2 .6 .8 .6-.9 .6 1.5 .6-.7 .6 .6 .6 0 .6-1.7 .6 .1 .6 1.2 .6 .1 .6 .3 .6-.3 .6-.5 .6-.1 .6 .4 .6 .2 .6 .2 .6-1 .6 .6 .6-.4 .6 .8 .6-.1 0 3-.6 1-.6-.7-.6 .1-.6 .9-.6-.6-.6-.9-.6 .6-.6-.5-.6 .4-.6 .2-.6-.6-.6 .1-.6 0-.6 .1-.6-.1-.6 1.1-.6-1-.6 .4-.6 .6-.6 0-.6-1-.6 .3-.6 .6-.6-.8-.6 .5-.6-.2-.6 0-.6-.5-.6 1-.6-1.1-.6 .8-.6 .1-.6-.9-.6 .8-.6-.7-.6 .4-.6-.6-.6 .3-.6-.3-.6 .1-.6 .5-.6-.6-.6 .5-.6-.4-.6 0-.6 0-.6 .4-.6 .5-.6-.3-.6-.8-.6 .6-.6 .1-.6 .7-.6-1.2-.6-.2-.6 1.3-.6-1.2-.6 .9-.6-.7-.6 .6-.6-.5-.6-.1-.6 .5-.6 .5-.6-.9-.6 .7-.6-.1-.6-.9-.6 .9-.6 .6-.6-1-.6-.5-.6 1.2-.6-1.2-.6 1.1-.6-.5-.6 .2-.6-.9-.6 .1-.6 1.7-.6-1.5-.6 .2-.6-.4-.6 .8-.6 .3-.6-1.2-.6 .1-.6 .8-.6-.3-.6 .1-.6 .6-.6-.7-.6-.5-.6 .3-.6 0-.6 0-.6-.2-.6 .6-.6 0-.6-.7-.6 .5-.6 .6-.6-.9-.6 0-.6-.1-.6 .7-.6-.5-.6 .3-.6 .2-.6-.9-.6 .3-.6-.2-.6 .3-.6 .8-.6 .6-.6-1.3-.6 .6-.6-.2-.6 .8-.6-1-.6-.1-.6-.1-.6-.5-.6 .6-.6 .3-.6 .1-.6 .6-.6-.9-.6-.1-.6 .1-.6-.5-.6 1.2-.6-.4-.6-1-.6 0-.6 .6-.6-.1-.6 0-.6 .4-.6 .2-.6 1-.6-1.5-.6-.3-.6 .9-.6-.7-.6 .3-.6-.4-.6 .1-.6-.5-.6 .5-.6 0-.6 .2-.6 .6-.6-.6-.6 0-.6 .9-.6-.3-.6 0-.6 .1-.6 .1-.6-.7-.6-.2-.6 .6-.6 .4-.6-.7-.6-.6-.6 1.2-.6-.4-.6-.6-.6 0-.6 .1-.6-.3-.6 .1-.6 .3-.6 .2-.6 .1-.6-.4-.6 .9-.6-.8-.6-.3-.6 .5-.6-.6-.6 0-.6 0-.6 .5-.6-.7-.6 .2-.6 1.4-.6-1.6-.6 .5-.6-.1-.6 .5-.6-.6-.6 .6-.6-.6-.6 0-.6-.2-.6 .1-.6 .7-.6-.1-.6-.8-.6 1.1-.6-.1-.6-1.1-.6 .2-.6-.1-.6 .3-.6-.4-.6 1-.6-.6-.6-.1-.6 .9-.6-.2-.6-.5-.6 .8-.6-.9-.6-.3-.6 .7-.6 .7-.6-1.1-.6 .1-.6 .7-.6 0-.6-1.1-.6 0-.6-.1-.6 .3-.6-.3-.6 1.5-.6-.8-.6 .6-.6-1.2-.6 1.4-.6-.3-.6-.3-.6-.2-.6-.5-.6-.2-.6 1.1-.6-.5-.6-.5-.6 0-.6 1.1-.6-1-.6 1.5-.6-1.2-.6 .9-.6-1.2-.6 .4-.6 .3-.6 .3-.6-1-.6 0-.6 .8-.6-.7-.6 .2-.6-.4-.6 1.1-.6-.4-.6-.3-.6-.3-.6-.1-.6 .3-.6 0-.6 .9-.6-1.3-.6 .2-.6 .7-.6-.6-.6-.3-.6 .9-.6-.6-.6-.3-.6 .5-.6 .5-.6-.9-.6 .3-.6-.1-.6 0-.6 .4-.6-.2-.6-.3-.6 0-.6 .2-.6-.3-.6-.1-.6 .4-.6 1.7-.6-1.7-.6 .6-.6 .2-.6 .5-.6-1.5-.6 1.4-.6-1-.6 .2-.6 .3-.6-1.1-.6 .3-.6 .3-.6 1.3-.6-1.3-.6 0-.6-.3-.6 0-.6-.2-.6 .3-.6 .5-.6-.6-.6 1.3-.6-.9-.6-.7-.6 .4-.6-.3-.6 .1-.6 .4-.6 1.2-.6-1.4-.6-.4-.6 1.8-.6-.2-.6-1.3-.6 .1-.6-.4-.6 .2-.6-.1-.6 .5-.6-.1-.6-.3-.6 0-.6 .2-.6 .7-.6-.1-.6-.2-.6 0-.6-.3-.6 .2-.6-.2-.6 1.2-.6-.4-.6-.2-.6-.5-.6-.5-.6 .2-.6 1-.6-.5-.6 .1-.6-.8-.6 1.3-.6-1.1-.6 .2-.6 .4-.6 1.5-.6-2-.6 .1-.6-.3-.6 .4-.6-.4-.6 .6-.6-.2-.6-.3-.6 .3-.6 .3-.6-.2-.6-.5-.6 0-.6-.1-.6 .7-.6 .2-.6-.9-.6 .1-.6 0-.6 1-.6-.5-.6-.4-.6 .1-.6 .8-.6-.7-.6-.3-.6-.2-.6 .2-.6 .8-.6-.1-.6-.7-.6 .5-.6-.2-.6 .9-.6-.3-.6-.7-.6-.3-.6 .1-.6 1.2-.6-1.3-.6 .8-.6-.9-.6 1.1-.6-.9-.6 .8-.6-.8-.6 .8-.6 .6-.6-.7-.6-.1-.6 .1-.6-.4-.6-.4-.6 .5-.6-.1-.6-.1-.6 .2-.6 0-.6-.4-.6 .5-.6 .1-.6-.7-.6 .5-.6-.6-.6 .9-.6-.3-.6-.3-.6 .8-.6-.7-.6 0-.6-.1-.6 0-.6 .5-.6-.4-.6-.2-.6 .1-.6 .2-.6-.1-.6 .2-.6 .1-.6 .3-.6 .8-.6-1.5-.6 .1-.6 0-.6 .1-.6-.2-.6-.3-.6 .1-.6 .9-.6 .3-.6-1.3-.6 1.2-.6-.8-.6 .7-.6-.7-.6 .5-.6-.7-.6-.1-.6-.1-.6 .6-.6-.4-.6 .9-.6 .3-.6-.4-.6-.3-.6-.1-.6 0-.6 .4-.6-.2-.6-.8-.6 1.1-.6-.7-.6 .4-.6-.1-.6-.4-.6-.1-.6 1.7-.6-1-.6-.6-.6 .2-.6 .6-.6-.4-.6 .5-.6-.4-.6-.3-.6 .2-.6-.3-.6-.1-.6 .4-.6-.2-.6-.1-.6 .6-.6-.1-.6-.3-.6 .4-.3 0-.3 .6-.3-.9-.3 .4-.3-.8-.3 0-.3 .4-.3-.6-.3 .3-.3 .1-.3-.2-.3 .5-.3 .8-.3-.9-.3-.1-.3-.1-.3 .3-.3-.2-.3 2.2-.3-2-.3 1.1-.3-1-.3-.6-.3 1.1-.3-1.1-.3 .3-.3 .4-.3-.8-.3 .1-.3-.1-.3 0-.3 .2-.2 2.2-.4-2.3-.2 1.1-.3-.3-.4-.8-.2 .5-.3 1.2-.4-1.7-.2 .9-.3-.4-.3-.1-.3 1.4-.3-.9-.3-.5-.3 .3-.3 .8-.3-.7-.3-.3-.3 .2-.2 1.2-.4-1.5-.3-.3-.2 1.2-.3 .3-.4-1.4-.3 .1-.2 .9-.4-.7-.2 .6-.3-.4-.2 1.2-.4-.9-.2 .9-.4-1-.4-.5-.2 .2-.2 .9-.3 .1-.4-.7-.2 .3-.3 .1-.1 .9-.5-.7-.3-.1-.3-.2-.3 .1-.3-.3 0 1.4-.3 .2-.5-.8-.3 0-.3-.2-.3-.1 0 1.3-.6-1-.2 .1-.2 .4-.2 .4-.5-.5-.2 .2 .1 1-.4-.3-.5-.3 .1 .9-.8-.8 .3 1.1-.8-.8-.1 .5z" fill="#111"/>
<path d="M77.8 421.4l.3-.2 .3-.2 .3-.2 .3-.1 .3-.2 .3-.1 .3-.2 .3-.1 .3-.1 .3-.1 .3-.1 .3-.1 .3-.1 .3-.1 .3-.1 .3-.1 .3-.1 .3-.1 .3 0 .3-.1 .3-.1 .3-.1 .3 0 .3-.1 .3 0 .3-.1 .3 0 .3-.1 .3 0 .3-.1 .3 0 .3 0 .3-.1 .3 0 .3 0 .3-.1 .3 0 .3 0 .3-.1 .3 0 .3 0 .3 0 .3-.1 .3 0 .3 0 .3 0 .3 0 .3-.1 .3 0 .3 0 .3 0 .3 0 .3 0 .3 0 .3-.1 .3 0 .3 0 .3 0 .3 0 .3 0 .3 0 .3 0 .3 0 .3 0 .3-.1 .3 0 .3 0 .3 0 .3 0 .3 0 .3 0 .3 0 .3 0 .3 0 .3 0 .3 0 .3 0 .3 0 .3 0 .3 0 .3 0 .3 0 .3 0" fill="none" stroke="#111" stroke-width="2.4"/>
<path d="M76.6 427.2l.2-.3 .3-.4 .6 0-.1-.8 .8 .4-.3-1.1 .6 .1 .2-.3 .5 0 .5 .1 .3-.2 .2-.5 .2-.6 .5 .2 .4 .1 .4 0 .4 .1 .3-.1 .1-.9 .6 .6 .1-.8 .4 .2 .3-.3 .2-.3 .6 .8 .3-.3 .1-.9 .5 .9 .4-.1 0-1.4 .5 .6 .3 .2 .4 .1 .3-.1 .2-.7 .2-.4 .5 .8 .3-.2 .3 0 .2-1 .5 1.2 .2-.6 .4 .9 .3-.2 .3-.3 .2-.8 .3-.6 .4 1.5 .3-.8 .3 .3 .4 .7 .3-.5 .2-.6 .4 .8 .2-1.6 .4 1.3 .2-.8 .4 .2 .3 1.1 .3-1 .3 .7 .3-1.2 .3 1.1 .3-.3 .3 .5 .3-1 .3 1 .3-.5 .3 .2 .3-.4 .3 .4 .4 .2 .2-.7 .3 0 .4 .5 .3-.2 .3-.3 .3 .2 .3 .6 .3-.3 .3-.8 .3 .1 .3 .8 .3-.7 .3 0 .3 .1 .3-.1 .3 .5 .3 0 .3-.2 .3 .5 .3-.2 .3 0 .3-.1 .3-.4 .3 .5 .3-.8 .3 1 .3-1.1 .3-.3 .6 .3 .6 .8 .6-.6 .6 .6 .6-.1 .6 .2 .6-.3 .6-.8 .6 1 .6-.9 .6 1 .6-.5 .6 0 .6 0 .6 0 .6-.5 .6 .9 .6 .1 .6-.3 .6 .4 .6-1.5 .6 .7 .6 .2 .6 .3 .6-.7 .6 1.1 .6-.7 .6 .6 .6-.1 .6 0 .6-.3 .6 .2 .6-.2 .6 0 .6-.7 .6 1 .6-.3 .6-.3 .6 .8 .6-.4 .6 .1 .6 .1 .6-.3 .6 .2 .6-1.1 .6-.1 .6-.2 .6 1.2 .6 0 .6-.2 .6 .4 .6-.1 .6 .4 .6-.8 .6 0 .6-.2 .6 .3 .6 .1 .6-.1 .6 .5 .6-1.4 .6 1.2 .6-.1 .6 .5 .6-.3 .6-.1 .6-.5 .6 .8 .6-.2 .6-.4 .6-.2 .6 .6 .6-.4 .6 .4 .6 .2 .6 0 .6-.7 .6 .5 .6 0 .6 .1 .6 .1 .6-.5 .6-.7 .6 1.1 .6-.2 .6-.5 .6-.2 .6 .7 .6 0 .6 0 .6-1 .6 .8 .6 .4 .6-1.4 .6 .7 .6-.2 .6 .7 .6-.2 .6 .4 .6-1.3 .6 1.2 .6-.3 .6 .2 .6 .3 .6-.1 .6-.7 .6 .5 .6-.1 .6-.7 .6 .6 .6-.2 .6-.5 .6 1.1 .6-.1 .6-.2 .6-.6 .6 .5 .6 .6 .6-.8 .6 .5 .6 .3 .6-1.4 .6 .9 .6 0 .6-.5 .6-.2 .6 1.2 .6-.7 .6 .6 .6 0 .6-.8 .6 .4 .6-.5 .6 .2 .6 .2 .6 .1 .6 .4 .6-.8 .6-.1 .6 .9 .6-.1 .6-.3 .6-.7 .6-.7 .6 1 .6 .3 .6 .4 .6-.8 .6 0 .6 .7 .6 0 .6 .1 .6 .1 .6-.2 .6-.4 .6 .5 .6 .1 .6-.1 .6-.2 .6 0 .6 0 .6 .2 .6 .1 .6-.8 .6 .9 .6-.5 .6-1.4 .6 1.3 .6-1 .6 1.5 .6-1 .6 .9 .6-.1 .6-.2 .6-.5 .6 0 .6 .8 .6-.5 .6 .2 .6-1.5 .6 .9 .6 .9 .6 .2 .6-.7 .6-.8 .6 .9 .6 .4 .6-.5 .6-.4 .6 .9 .6-.1 .6-.4 .6 .1 .6-.1 .6 0 .6-.8 .6 .4 .6 .8 .6-.2 .6 .1 .6 0 .6-.2 .6 .3 .6-.9 .6 .4 .6 .5 .6-.1 .6 .3 .6-.2 .6-.4 .6 .3 .6 .3 .6-.8 .6 .4 .6-.1 .6 0 .6 .5 .6 0 .6 0 .6-.2 .6-.6 .6 .3 .6 .3 .6 .2 .6-.1 .6-.2 .6 .4 .6-.4 .6 .1 .6-.6 .6 .7 .6-.6 .6 .4 .6 .1 .6-.5 .6 .6 .6-.9 .6-.2 .6 .3 .6 .3 .6 0 .6-1 .6 1.1 .6 .1 .6-.5 .6 0 .6 .3 .6 .2 .6-.5 .6 .7 .6 .2 .6-1.1 .6 .7 .6 .4 .6 0 .6-.5 .6-1.1 .6 1.7 .6-.8 .6-.4 .6 1 .6 0 .6 0 .6-1 .6 .3 .6-.8 .6 .6 .6 .6 .6-1.1 .6 .3 .6 .7 .6 .4 .6 0 .6-2.3 .6 .9 .6 0 .6 1.2 .6-.1 .6 0 .6-.6 .6 .5 .6 .6 .6-1.1 .6 .6 .6 .3 .6 .1 .6-.6 .6-.8 .6 1 .6 0 .6 .2 .6 .2 .6-.7 .6-.1 .6 .6 .6-.3 .6-.2 .6 .1 .6-.2 .6 0 .6-.6 .6 .7 .6 .5 .6-.4 .6 .5 .6-.4 .6-1.4 .6 1.7 .6-1.1 .6 .2 .6-.2 .6 1.3 .6-1.8 .6 1.8 .6-.1 .6-.9 .6 .9 .6-.2 .6 .3 .6-.5 .6-.5 .6 .6 .6-.2 .6-.9 .6 1.1 .6 .5 .6-.1 .6-.5 .6 .5 .6-.2 .6-.6 .6 .5 .6 .3 .6-1.1 .6 .7 .6 0 .6 .4 .6-1 .6 1 .6-.1 .6-.6 .6 .7 .6-.8 .6 .8 .6-.4 .6-.7 .6 .2 .6 .2 .6 .8 .6 0 .6-1.8 .6 1.3 .6-.2 .6 .4 .6 .2 .6 0 .6-.6 .6 .1 .6-.1 .6-1.2 .6 .8 .6 0 .6 .1 .6-.4 .6 .9 .6 0 .6 .3 .6-1.4 .6 1.6 .6-.6 .6-.4 .6 .4 .6-.9 .6 0 .6 .2 .6 .2 .6 .7 .6-.4 .6 .4 .6-1.4 .6 1.4 .6-.1 .6-1 .6 1.2 .6-.7 .6 .9 .6-1.6 .6 .8 .6-.2 .6 1 .6-.9 .6-.1 .6 1 .6 0 .6-1.1 .6 .3 .6 .8 .6-1.1 .6 .8 .6 .1 .6-.2 .6-1 .6 .5 .6 .7 .6 .1 .6 0 .6-.1 .6-.1 .6-.1 .6-.1 .6-.1 .6 .7 .6-.3 .6 .2 .6-.6 .6-.6 .6 .7 .6-1.2 .6 1.7 .6-.6 .6-.3 .6 .7 .6-.7 .6 .6 .6 0 .6-.9 .6 1.2 .6-1 .6 .8 .6-.1 .6 .1 .6 .1 .6-1.3 .6 1.1 .6 .1 .6-.2 .6-.2 .6 .6 .6-.3 .6 .1 .6 .2 .6-.2 .6-.1 .6-1.5 .6 1.3 .6-.1 .6-.5 .6 .8 .6-.8 .6 1.1 .6 0 .6-1.9 .6 1.5 .6 0 .6 0 .6-.7 .6 1.1 .6-.1 .6-.9 .6 0 .6 1 .6-.3 .6-.8 .6 1.2 .6-.9 .6 .2 .6 0 .6-.4 .6 1 .6 0 .6-.1 .6-1 .6 1 .6 0 .6-.7 .6-.5 .6 1.3 .6-.1 .6 .1 .6-.4 .6 .2 .6-.4 .6 0 .6 .6 .6-.2 .6-.4 .6 .2 .6-.4 .6 .8 0 5.4-.6-1.7-.6 .3-.6-.6-.6-.1-.6 .6-.6 .1-.6-.7-.6 1.5-.6-1-.6 .3-.6 0-.6 .5-.6 0-.6-1.2-.6 .7-.6 0-.6-.2-.6-.2-.6 1.4-.6-1-.6-.7-.6 .1-.6 0-.6 1-.6-1.2-.6 .9-.6-.7-.6 .7-.6-.7-.6 .2-.6 .3-.6 .6-.6-1.3-.6 .5-.6-.5-.6 .2-.6 .5-.6 .3-.6-.8-.6 .5-.6 0-.6-.6-.6 1-.6-.8-.6 1.1-.6-.6-.6-.4-.6 0-.6 .2-.6 .4-.6-.3-.6 0-.6 .6-.6-1.1-.6 .5-.6 0-.6-.2-.6-.4-.6-.1-.6 1-.6-.9-.6 1.9-.6-1.6-.6-.3-.6 .4-.6 .6-.6-1-.6 1.2-.6-.4-.6-.4-.6-.1-.6-.3-.6 1.3-.6-1.4-.6 .1-.6 .7-.6-.8-.6 1-.6-.5-.6 1.8-.6-1.9-.6-.1-.6-.2-.6 .4-.6 .1-.6 .4-.6-1-.6 .8-.6-.7-.6 .9-.6-.6-.6 1.4-.6-1.6-.6 .4-.6 .5-.6-1-.6 1.8-.6 0-.6-.1-.6-1.1-.6-.4-.6 1.3-.6-1.6-.6 .8-.6-.7-.6 .4-.6 0-.6-.1-.6-.1-.6 .7-.6 .6-.6-.5-.6 .3-.6-.5-.6-.8-.6 .2-.6-.3-.6 1.4-.6-1.2-.6 .1-.6 .4-.6 .3-.6-.8-.6 .3-.6 .2-.6-.1-.6-.6-.6 .9-.6-.6-.6-.2-.6 1.2-.6-1.2-.6 .3-.6 .6-.6-.8-.6 1.1-.6-.6-.6-.5-.6 .3-.6 .1-.6 .3-.6-.9-.6 1.2-.6-.2-.6-.9-.6 .4-.6 1-.6-1-.6 .6-.6-.9-.6 0-.6 1.6-.6-.4-.6-1-.6 .5-.6-.3-.6 .2-.6-.1-.6-.6-.6 1.5-.6-1.2-.6 .4-.6-.4-.6 .8-.6-1.1-.6 .1-.6 .5-.6 0-.6-.2-.6 .6-.6-.6-.6-.3-.6-.1-.6 .3-.6 .8-.6-.4-.6-.3-.6 .2-.6 .2-.6 .1-.6-.4-.6-.5-.6 .5-.6 .7-.6 .5-.6-1.5-.6 .3-.6 .7-.6-1-.6-.3-.6 .4-.6 .6-.6 .7-.6-1-.6 .2-.6 .7-.6-1.3-.6 .5-.6-.4-.6 .1-.6 .3-.6-.1-.6-.2-.6 .1-.6-.3-.6-.2-.6 1-.6-.1-.6-.9-.6 .2-.6 .8-.6-.6-.6 0-.6 .5-.6-.2-.6 .1-.6-.1-.6-.6-.6 .2-.6 .5-.6 .1-.6-.5-.6 .7-.6-.5-.6-.5-.6 .6-.6-.7-.6 1.4-.6-1.4-.6 .9-.6 .2-.6 .2-.6-.7-.6-.5-.6 .3-.6-.5-.6 1.1-.6-1-.6 .1-.6-.1-.6 1.5-.6-.7-.6-.6-.6 .6-.6 .3-.6 .2-.6-.6-.6-.6-.6 .1-.6-.2-.6 .2-.6-.3-.6 .3-.6 .4-.6 .8-.6-.3-.6-.4-.6 0-.6-.4-.6 0-.6-.3-.6 .2-.6 .2-.6 1-.6-.6-.6-.8-.6 .8-.6 0-.6-.6-.6-.1-.6 .1-.6 0-.6 1.1-.6-.4-.6-.9-.6 .7-.6-.2-.6 .2-.6-.7-.6 .6-.6 .8-.6-.4-.6 .1-.6-.6-.6 .1-.6-.1-.6 .4-.6-.9-.6 .6-.6 .1-.6-.6-.6 .3-.6 0-.6 1.1-.6-.5-.6 .6-.6-.9-.6-.1-.6-.2-.6 1.2-.6-.4-.6-.4-.6-.7-.6 .7-.6 .6-.6-1.3-.6 .3-.6-.1-.6 .2-.6-.3-.6 0-.6-.2-.6 .9-.6-.7-.6-.2-.6 .3-.6-.1-.6 0-.6 .5-.6 .1-.6-.8-.6 1.9-.6-1.3-.6-.3-.6 .3-.6-.5-.6 0-.6 .8-.6-.5-.6 .1-.6-.1-.6 1-.6-.9-.6-.4-.6 1.8-.6-1.2-.6-.3-.6 .4-.6 .2-.6-.8-.6 .5-.6 .2-.6-.9-.6 .7-.6-.2-.6 .5-.6 1.1-.6-2.1-.6 .9-.6-.2-.6-.1-.6-.4-.6-.3-.6 1.3-.6-1.1-.6-.1-.6 .8-.6 .4-.6 0-.6-.9-.6 1-.6-.9-.6-.3-.6 1.5-.6-1.3-.6-.1-.6-.2-.6 1.1-.6-.3-.6 0-.6 .3-.6-.1-.6-.9-.6-.1-.6 .5-.6-.5-.6 1.4-.6-.8-.6 .3-.6-.3-.6 .5-.6-.5-.6-.5-.6 .2-.6-.2-.6 .8-.6-.1-.6 .4-.6-.9-.6 1.4-.6-1-.6-.2-.6 0-.6 .3-.6-.6-.6 1-.6-1.3-.6 .9-.6-.6-.6 .5-.6 .3-.6-.9-.6 .6-.6 .6-.6-1.3-.6 .8-.6 0-.6 .6-.6-1.2-.6 .8-.6-.6-.6 0-.6 .3-.6-.7-.6 .4-.6 .3-.6-.3-.6 .1-.6 .2-.6-.6-.6 .4-.6 .9-.6-1.4-.6 0-.6 .1-.6 .9-.6-.2-.6-.4-.6-.4-.6 .6-.6-.3-.6 .1-.6-.5-.6 1.8-.6 .3-.6-2-.6 .5-.6-.6-.6 .3-.6 0-.6 .4-.6-.6-.6 .7-.6-.1-.6 .1-.6-.7-.6 1.1-.6 .1-.6-1.1-.6 .9-.6-.8-.6 .1-.6 .8-.6-.7-.6-.2-.6 .6-.6-.5-.6-.1-.6 .4-.6-.2-.6 .4-.6-.4-.6 .1-.6-.4-.6 .8-.6 .4-.6-1.2-.6 .3-.6-.1-.6 1.6-.6-1.7-.6 .9-.6-.7-.6 .5-.6-.2-.6-.7-.6 .8-.6-.9-.6 .1-.6 .4-.6 .5-.6-.9-.6 1.2-.6-.2-.6-.4-.6-.2-.6 .6-.6-1-.6 .6-.3 .6-.3-.9-.3 0-.3-.3-.3 .9-.3-.2-.3-.6-.3 .9-.3-.7-.3-.2-.3-.1-.3 .5-.3-.4-.3 .4-.3 1.1-.3-.9-.3-.7-.3 .2-.3-.2-.3 .1-.3 1-.2 .1-.3 .2-.4-.7-.2 .1-.4-.3-.2 .3-.3-.2-.3-.1-.3-.1-.3 .8-.3-1-.3 1.5-.3-1.4-.3 .1-.3-.2-.3 .7-.3-.2-.3 .7-.3-.4-.3 0-.3-.2-.3-.2-.2 1.2-.4-.9-.2 .5-.4-.4-.3-.6-.3 0-.3 .1-.3 0-.2 .4-.2 1.7-.4-1.7-.3-.4-.3 .7-.3-.4-.3 .1-.3 0-.3-.2-.2 .7-.3-.2-.1 1.2-.6-1.5-.2 .3-.2 .7-.3-.2-.3 .1-.2 .2-.5-.9-.3 .1 0 1.2-.3 0-.3-.1-.1 .7-.6-1.3-.2 .5-.3-.3-.3 .4 .1 1-.8-1.3 .1 .9 0 .8-.6-.6-.2 0-.4 0-.2 .1 .1 .8-.8-.8-.4-.2-.3 .1-.2 .3-.3 .1-.1 .5-.5-.1 .1 .5-.3 .2-.5-.1 .3 .9-.8-.3z" fill="#111"/>
<path d="M77.8 428.6l.3-.2 .3-.3 .3-.2 .3-.3 .3-.2 .3-.2 .3-.2 .3-.2 .3-.1 .3-.2 .3-.2 .3-.1 .3-.2 .3-.1 .3-.1 .3-.2 .3-.1 .3-.1 .3-.1 .3-.1 .3-.1 .3-.1 .3-.1 .3-.1 .3 0 .3-.1 .3-.1 .3-.1 .3 0 .3-.1 .3-.1 .3 0 .3-.1 .3 0 .3-.1 .3 0 .3 0 .3-.1 .3 0 .3-.1 .3 0 .3 0 .3-.1 .3 0 .3 0 .3-.1 .3 0 .3 0 .3 0 .3-.1 .3 0 .3 0 .3 0 .3 0 .3-.1 .3 0 .3 0 .3 0 .3 0 .3 0 .3 0 .3-.1 .3 0 .3 0 .3 0 .3 0 .3 0 .3 0 .3 0 .3 0 .3 0 .3-.1 .3 0 .3 0 .3 0 .3 0 .3 0 .3 0 .3 0 .3 0 .3 0 .3 0 .3 0" fill="none" stroke="#111" stroke-width="2.6"/>
<path d="M76.1 435.6l1.1 .2-1.3-1.8 1.7 .8-.1-.7 1 .3-.1-.8 .5-.1 .5-.2 .3-.2 .1-.5 .3-.4 .5 .1 .6 0-.7-1.7 1 .8-.1-.8 .9 .7 .3-.2 .4 0 .2-.5 .1-.7 .5 .4 .1-.6 .5 .2 .4 0 .4 0 .1-.6 .5 .4 .3-.2 .3-.1 .2-.6 .5 .5 .3 .2 .3-.1 .3-.3 .3 0 .2-.8 .4 .3 .4 .6 .2-1.1 .4 1 .1-1.4 .4 .5 .3-.5 .4 1 .4 0 .3-.1 .3 0 .3-.2 .2-.2 .3-.3 .3 .1 .4 .6 .3-.7 .3 .6 .1-2.9 .5 2.2 .3 .5 .3-.3 .3 .3 .3-1.3 .3 1.3 .3-.6 .3-.4 .4 1.1 .2-.5 .4 .3 .2-.8 .3 .2 .4 .6 .3 0 .3 0 .3 0 .3-.5 .2-1 .4 1.2 .3 .2 .3-.1 .3-.2 .3 .2 .3-.3 .3-.8 .3 1.1 .3-.1 .3-.3 .3-.5 .3-.2 .3 .6 .3 .6 .3-.5 .3-.3 .3-.4 .3 .2 .3 .8 .3-.9 .3 .4 .3-.3 .3 .5 .3 .3 .3-.3 .6 0 .6 .3 .6-.1 .6-1.4 .6 1.4 .6 .3 .6-.8 .6 .8 .6-.6 .6 0 .6 .3 .6-1.2 .6 1.1 .6 .2 .6-1 .6 .4 .6 .7 .6-.5 .6 0 .6 .6 .6-.8 .6-.5 .6 .6 .6 .4 .6 0 .6-.2 .6-.2 .6 .7 .6-.3 .6-.4 .6 .1 .6-.1 .6 .3 .6 0 .6 .3 .6-.5 .6-.6 .6 .5 .6 .2 .6 0 .6 .2 .6 0 .6-1.5 .6 1.7 .6 0 .6 0 .6-.7 .6-.3 .6 .6 .6 .3 .6 .1 .6-1 .6 1.1 .6-.5 .6 .2 .6 .3 .6-1 .6 .5 .6-.2 .6-.2 .6 .7 .6-.5 .6-1.1 .6 .6 .6 .3 .6-.7 .6 1.2 .6-.3 .6-.2 .6 .5 .6-.8 .6 .3 .6 .3 .6-.4 .6 .1 .6 .7 .6 .2 .6-.1 .6-.1 .6-.9 .6 1.1 .6-.9 .6-.1 .6 .3 .6-1.2 .6 1.8 .6-1.6 .6 1.4 .6 0 .6 .1 .6-.1 .6-.7 .6-.4 .6-.1 .6-.6 .6 1.7 .6 .3 .6-.2 .6-.8 .6 .2 .6 .6 .6-.2 .6-.1 .6 .5 .6 .1 .6-.8 .6-.6 .6 .9 .6 .2 .6-1.2 .6 1.3 .6-.1 .6-.5 .6 0 .6-.5 .6 .6 .6-.4 .6 .9 .6-.1 .6 0 .6 .1 .6-.4 .6 .5 .6-.5 .6-.2 .6 .2 .6-.5 .6 .6 .6 0 .6 .4 .6-.7 .6 .6 .6-.1 .6 0 .6-.6 .6 .1 .6 .5 .6-.1 .6-.1 .6 0 .6 .1 .6 .1 .6-.9 .6 1.1 .6-.3 .6-.1 .6 0 .6-.2 .6-.7 .6 1.1 .6-1.4 .6 1.4 .6 0 .6 .1 .6-.3 .6 0 .6-.7 .6 1 .6-.7 .6-.1 .6 .6 .6 .4 .6-1.1 .6 .4 .6 .3 .6 .2 .6-.1 .6-.3 .6-.8 .6 .6 .6 .4 .6 .1 .6-.7 .6 .4 .6-.1 .6 .6 .6-.3 .6-.8 .6 .7 .6-.1 .6 .3 .6-.2 .6-.3 .6 .1 .6 .5 .6 .2 .6-.6 .6-.5 .6-.6 .6 1.2 .6-.7 .6 .4 .6 0 .6-.3 .6 .6 .6 .2 .6 0 .6-.3 .6-.3 .6 .1 .6 .8 .6-.1 .6 0 .6-.8 .6 .7 .6-1.6 .6 1.3 .6 .2 .6-.3 .6 .4 .6-.2 .6-2.1 .6 1.2 .6 .5 .6-1.5 .6 1.2 .6 .7 .6 0 .6 0 .6-.2 .6 .2 .6-.5 .6 .6 .6-.6 .6 .7 .6-.2 .6-.8 .6 1.1 .6 .1 .6-.7 .6 .2 .6 .3 .6-.4 .6-.8 .6 .2 .6-.3 .6 .8 .6 .6 .6-.5 .6 0 .6-.9 .6 1.3 .6-.8 .6-.2 .6 .4 .6 .7 .6-.2 .6 0 .6-.5 .6 .5 .6-.1 .6 .1 .6-.5 .6 .5 .6-.6 .6 .6 .6-.3 .6 .5 .6-.6 .6 .4 .6-.5 .6-.5 .6 1 .6 0 .6-.5 .6 .7 .6 0 .6-.8 .6-.6 .6 1.2 .6-.3 .6-.3 .6-.7 .6 .9 .6-.1 .6 .6 .6-.3 .6-.8 .6-.5 .6 .9 .6 0 .6 .4 .6-.6 .6 .3 .6 .2 .6 .2 .6 .1 .6 0 .6-.2 .6 .4 .6-.7 .6-.3 .6 1 .6-.6 .6 .6 .6-1.3 .6-1.4 .6 2.2 .6-1.1 .6 .9 .6-.3 .6 .4 .6 .1 .6 .3 .6 0 .6 .1 .6-.2 .6 .1 .6-2 .6 1.9 .6-1 .6 1.1 .6-.6 .6 .7 .6-1.1 .6 1.3 .6-1.2 .6 1.1 .6-.1 .6-.3 .6-.3 .6 .7 .6-.2 .6-1.4 .6 1.4 .6-.3 .6-1 .6 .9 .6-.8 .6 1.1 .6-.4 .6 .5 .6-1.6 .6 .5 .6 .5 .6 .7 .6-.2 .6 .2 .6 0 .6-.4 .6-.6 .6 1.1 .6-1.6 .6 .9 .6-.3 .6 .7 .6-.2 .6 .3 .6-.2 .6 .4 .6-.5 .6-.2 .6 0 .6-.6 .6 1 .6-.1 .6 .2 .6-.6 .6 .7 .6-.9 .6 .8 .6-.4 .6 .2 .6 .3 .6-.2 .6 .3 .6-.5 .6 .4 .6-.3 .6 .3 .6 0 .6-.6 .6-.2 .6 .5 .6-.3 .6 .1 .6 .7 .6-.2 .6-.5 .6 .7 .6-.1 .6-.1 .6 0 .6-.9 .6 .9 .6-.2 .6 .2 .6-.4 .6 .6 .6-.2 .6 0 .6-1.7 .6 1.7 .6-.7 .6 .1 .6 .8 .6-.3 .6-.3 .6-.8 .6 .7 .6 .6 .6-.7 .6 .7 .6-.7 .6 .7 .6-.6 .6 0 .6 0 .6-.1 .6-.1 .6 .7 .6-.4 .6-.2 .6-.4 .6-.6 .6 1 .6 .1 .6 .3 .6-.2 .6 0 .6 .1 .6-.3 .6 .6 .6-.8 .6 .3 .6-.4 .6-.2 .6 .9 .6-.4 .6-.2 .6 .2 .6 .5 .6 0 .6 .1 .6-1.5 .6 1.5 .6-.4 .6 .5 .6 0 .6 .1 .6-.2 .6-.1 .6-.1 .6 .3 .6-.8 .6 .7 .6-.1 .6 0 .6-.5 .6 .4 .6-.5 .6 .8 .6-.9 .6-.1 .6-.1 .6 .3 .6 .8 .6 0 .6-2.9 .6 2.8 .6-.9 .6 .5 .6 .1 .6-.3 .6-.1 .6-.9 .6 1.5 .6 .2 .6-.2 .6-.5 .6 .4 .6 .4 .6-1.1 .6 .3 .6 .3 .6 .1 .6 .2 .6-.5 .6 .3 .6 0 .6 .1 .6 .2 .6-.2 .6-.5 .6 .7 .6-.3 .6 .2 .6-.2 .6 .4 0 2.1-.6 1-.6-.8-.6 .3-.6-.8-.6 .6-.6-.3-.6 .7-.6 .2-.6-.4-.6 .8-.6-.2-.6-.1-.6-.8-.6-.2-.6 .6-.6-.9-.6 .2-.6 .1-.6 0-.6-.3-.6 .1-.6 1-.6-.3-.6-.1-.6 1-.6-.9-.6-.5-.6 .1-.6 .3-.6 0-.6-.1-.6 .5-.6-.8-.6 1.2-.6-1.4-.6 .1-.6 .3-.6 0-.6 .7-.6-.1-.6-.6-.6-.2-.6-.1-.6 1.1-.6-1.2-.6 .4-.6-.1-.6 .5-.6-.7-.6 1.5-.6-.4-.6-.5-.6 .5-.6 .2-.6-1.3-.6 .7-.6-.6-.6 1-.6-.3-.6-.3-.6 .4-.6-.9-.6 .6-.6-.2-.6 1-.6-.1-.6-.2-.6-.7-.6 1.4-.6-1.2-.6-.6-.6 .1-.6-.1-.6 0-.6 .8-.6-.8-.6-.1-.6 .7-.6-.7-.6 .5-.6 .1-.6 .1-.6 .3-.6-.6-.6 .7-.6-1.2-.6 .1-.6 .5-.6 .1-.6 .6-.6-.9-.6 .3-.6 .1-.6-.3-.6-.1-.6 0-.6 .3-.6 .3-.6-.5-.6 .4-.6-.3-.6 0-.6 .1-.6-.6-.6 .8-.6-.4-.6-.2-.6 .5-.6 0-.6 .9-.6-1.2-.6 .8-.6-.5-.6 0-.6 .1-.6-.5-.6 .7-.6-.9-.6 1.1-.6-.1-.6-.8-.6-.3-.6 .1-.6 .6-.6-.5-.6 .2-.6 1-.6-.4-.6-.5-.6-.2-.6 1.4-.6-1.6-.6 .4-.6-.2-.6 .2-.6-.3-.6 .5-.6-.3-.6 1.2-.6-1.6-.6 .1-.6 1.1-.6-.1-.6-1.2-.6 .9-.6 .8-.6-.7-.6-.9-.6 .9-.6 .5-.6-.9-.6-.1-.6 .5-.6 1.1-.6-2-.6 1.4-.6-1-.6-.4-.6 .2-.6 1-.6-.8-.6-.4-.6 .2-.6 .4-.6-.5-.6 .2-.6 .1-.6 1.7-.6-2-.6 .4-.6 .2-.6-.5-.6 .2-.6 .8-.6-.3-.6-.5-.6-.5-.6 .1-.6 .1-.6-.1-.6 1.1-.6-1-.6 .8-.6-.4-.6 .3-.6-.6-.6 1.2-.6-1.3-.6 0-.6 .2-.6 1-.6-.3-.6-.5-.6-.3-.6 0-.6 .9-.6-.8-.6-.3-.6 .2-.6 1-.6-1.3-.6 .3-.6 .7-.6-.6-.6 0-.6 .4-.6 .2-.6-.5-.6-.3-.6 1.2-.6-.8-.6 .3-.6-.8-.6 .2-.6 1.2-.6-.7-.6-.1-.6 .1-.6-.8-.6 .4-.6 .7-.6-.9-.6 .7-.6-.1-.6 .1-.6-.3-.6-.3-.6 .3-.6 .5-.6-.9-.6 .1-.6 .1-.6-.4-.6 1.3-.6-1.2-.6 .3-.6-.1-.6 .3-.6-.3-.6-.2-.6 1.6-.6 0-.6-1.3-.6-.2-.6-.2-.6 1.1-.6-1.1-.6 .5-.6 .7-.6-.4-.6-.3-.6-.5-.6 .8-.6-.6-.6 .2-.6-.2-.6 .5-.6-.3-.6-.1-.6 .1-.6 .2-.6 .3-.6-.1-.6-.3-.6-.4-.6 1-.6-.7-.6 .8-.6-1.2-.6 .8-.6-.8-.6 1.5-.6-1.4-.6 .6-.6-.6-.6 .1-.6 .5-.6 .1-.6 .2-.6-.1-.6-.5-.6 .3-.6 .7-.6-1.2-.6 .5-.6-.4-.6 .7-.6-.8-.6 .5-.6-.6-.6 .2-.6-.1-.6 .2-.6 1.1-.6-.8-.6-.7-.6 .5-.6-.1-.6 .6-.6-.7-.6 .3-.6-.4-.6 .5-.6 .2-.6 .3-.6-.7-.6-.5-.6 .2-.6 .5-.6 .3-.6-.5-.6-.5-.6 .9-.6-.5-.6 .8-.6-.3-.6-.5-.6 .3-.6-.5-.6-.2-.6 1.7-.6-.4-.6-.8-.6 .2-.6-.5-.6 .3-.6-.5-.6 0-.6 .6-.6-.1-.6 .8-.6 .2-.6 .2-.6-.9-.6-.6-.6 1.1-.6-1.3-.6 .8-.6 .8-.6-1.5-.6 0-.6 .4-.6 .4-.6-.2-.6-.7-.6 1.1-.6-.4-.6-.5-.6 1.1-.6-.3-.6 .2-.6-.9-.6 .5-.6-.7-.6 0-.6 1.8-.6-1.8-.6 .5-.6-.5-.6-.1-.6 .7-.6-.1-.6-.6-.6 .1-.6 .5-.6 .1-.6-.3-.6 .3-.6 .3-.6-.6-.6 .2-.6 .6-.6 .2-.6-.2-.6 .5-.6-.7-.6 .5-.6-1.4-.6 .5-.6-.1-.6-.3-.6-.1-.6 .4-.6-.2-.6 .9-.6-.6-.6-.3-.6-.1-.6 .2-.6-.1-.6 .8-.6 .1-.6 .2-.6-.6-.6-.6-.6-.1-.6 .5-.6 .2-.6 .2-.6-.8-.6 .5-.6 0-.6 .3-.6-.6-.6 0-.6-.2-.6 .1-.6-.2-.6 .2-.6-.2-.6 .6-.6-.1-.6 .4-.6-.4-.6 0-.6 .3-.6-.4-.6 .1-.6-.3-.6 .2-.6 .7-.6 .1-.6-.9-.6 .7-.6-.2-.6-.4-.6-.1-.6 0-.6 1-.6-1.2-.6 .5-.6-.6-.6 .1-.6 0-.6 .9-.6-.8-.6 .1-.6 .5-.6-.4-.6 1.1-.6-1.4-.6 .1-.6 .5-.6-.4-.6 .1-.6 .1-.6 .4-.6-.9-.6 1.2-.6-.7-.6 1.3-.6-1.8-.6 .5-.6 1.5-.6-1.8-.6 .7-.6-.9-.6 .4-.6-.2-.6 .1-.6 1.1-.6-1.2-.6 .3-.6 .3-.6 0-.6-.8-.6-.1-.6 .1-.6 .1-.6 .5-.6 1.2-.6-1.5-.6 .4-.6-.1-.6 .4-.6-.4-.6-.6-.6 .2-.6 .2-.6 .2-.6-.6-.6 1-.6-.3-.6-.7-.6 .1-.6 .1-.6 .4-.6 0-.6-.5-.3 .1-.3 0-.3-.1-.3 .4-.3-.3-.3 1.1-.3-.8-.3 .5-.3-.5-.3 .4-.3-.7-.3 1.9-.3-1.8-.3-.2-.3 .3-.3 .1-.3-.4-.3 .2-.3 .4-.3-.4-.3 .6-.3-.2-.2 .3-.4-.9-.3 .2-.3 .3-.3 0-.3-.4-.2 1.3-.3 0-.3-.4-.3-.5-.3 .3-.3-.4-.3 .5-.3-.1-.3 0-.3 .4-.3-.9-.3 .5-.2 .9-.4-.8-.3 .3-.2 .5-.3 .2-.4-1.5-.3 .6-.3-.5-.2 .6-.3-.1-.3 .7-.4-1-.2 .5-.3 .4-.3-.1-.1 .8-.5-.9-.3-.3-.2 .4-.4-.6-.3 .2-.3 .2-.1 .9-.2 .1-.6-1-.2 .3-.1 .8-.5-.7-.1 .8-.5-1-.2 .7-.4-.3 0 .8-.3-.1-.4-.1-.1 .6-.4-.2-.5-.5 .2 1.2-.8-1-.2 .4-.3 0 .4 1.5-.9-1-.3 .1-.4 0 .7 1.6-1.3-1.2 .1 .7-.6-.2 .2 .7-.1 .5-.4 .1-.6-.1-.4 .1 0 .5-.3 .4-.7-.1 .4 .9-.5 .2z" fill="#111"/>
<path d="M77.8 436.9l.3-.4 .3-.3 .3-.4 .3-.3 .3-.3 .3-.3 .3-.3 .3-.3 .3-.3 .3-.2 .3-.2 .3-.3 .3-.2 .3-.2 .3-.2 .3-.1 .3-.2 .3-.2 .3-.1 .3-.2 .3-.1 .3-.2 .3-.1 .3-.1 .3-.1 .3-.1 .3-.2 .3-.1 .3 0 .3-.1 .3-.1 .3-.1 .3-.1 .3-.1 .3 0 .3-.1 .3-.1 .3 0 .3-.1 .3 0 .3-.1 .3 0 .3-.1 .3 0 .3-.1 .3 0 .3 0 .3-.1 .3 0 .3-.1 .3 0 .3 0 .3 0 .3-.1 .3 0 .3 0 .3 0 .3-.1 .3 0 .3 0 .3 0 .3 0 .3-.1 .3 0 .3 0 .3 0 .3 0 .3 0 .3 0 .3-.1 .3 0 .3 0 .3 0 .3 0 .3 0 .3 0 .3 0 .3 0 .3 0 .3-.1 .3 0 .3 0 .3 0" fill="none" stroke="#111" stroke-width="1.8"/>
<path d="M75.6 445l1.3-.1-.6-1 1.3 0 .3-.5 .3-.5-1.2-1.6 1.5 .5 .7-.2 .1-.5 .1-.7-.2-.8 .6-.1 .7 .1 .4-.3 .5-.1 0-.6 .3-.4 .4-.2-.1-.8 .4-.2 .2-.5 .9 .6 .4 0 .1-.6 .5 .1-.1-1.1 .4 0 .9 1 .1-.5 .5 .2 .3-.2 .2-.4 .1-.9 .7 1.1 .3-.2 .2-.4 .3-.2 .5 .3 .1-.7 .4 0 .2-.6 .3-.2 .2-.4 .5 1 .3-.4 .4 .1 .3 0 .3 .1 .4 .4 .3-.2 .2-.5 .4 .5 .3 0 .2-1.4 .4 .8 .3 .3 .2-1.5 .4 1.2 .4 .4 .2-.6 .4 .4 .3-.3 .1-1.7 .5 1.9 .3 .1 .3-.5 .3-.3 .3 0 .3 .3 .3-.2 .3 .1 .3-.3 .3-.1 .3 .4 .3 .3 .3-.6 .3-.3 .3 .5 .3 .3 .3-.8 .3 .5 .3-.5 .3 .2 .4 .6 .3-.1 .2-.6 .4 .5 .2-.9 .4 .2 .3 .3 .3-.2 .3-.3 .3 1 .3 0 .3-.8 .3 .2 .3 .7 .3-1.4 .3 .7 .3 .6 .6-.7 .6-.2 .6 .5 .6 .4 .6-.9 .6 .3 .6 .3 .6-.6 .6 .1 .6 1 .6-.5 .6 .1 .6 .1 .6-.2 .6-.2 .6-.2 .6 .2 .6 .4 .6-.3 .6 0 .6-.4 .6-.6 .6 1.1 .6-.3 .6 .5 .6 .1 .6-.2 .6-.4 .6-.7 .6 1.4 .6-.9 .6 .7 .6-.1 .6-.6 .6 .4 .6 .2 .6-.6 .6 .6 .6-.2 .6 .2 .6-1.3 .6 1.2 .6 .3 .6-.4 .6-.5 .6 .4 .6 .1 .6-.7 .6 .7 .6 .2 .6-1.3 .6 1.1 .6-.2 .6-.5 .6 .6 .6 .1 .6-.2 .6 .5 .6-.1 .6 .3 .6-.9 .6 .1 .6-.7 .6 1.5 .6-.4 .6 .1 .6-.1 .6-.3 .6 .6 .6-1.4 .6 1.4 .6-.4 .6-.2 .6 .5 .6-.2 .6 .1 .6 .3 .6-1 .6 .2 .6-.1 .6 .9 .6-.8 .6 .2 .6 .1 .6-.9 .6 .6 .6 .5 .6-.6 .6 .1 .6-.5 .6 .2 .6 .5 .6 0 .6-.7 .6 0 .6-.2 .6 1.2 .6 .3 .6-.6 .6-.4 .6 .9 .6-.3 .6-1.4 .6 1.3 .6 0 .6 0 .6 .1 .6-.1 .6-.7 .6 1.2 .6-.7 .6 .3 .6-.6 .6-1.4 .6 2.1 .6 .3 .6-.3 .6-.6 .6 .3 .6-.3 .6 .8 .6-.4 .6-.3 .6 .5 .6-.4 .6 .2 .6-.2 .6-1 .6 1.5 .6 0 .6 .1 .6-.5 .6-.2 .6 .1 .6 .1 .6 .5 .6-.9 .6 .4 .6 .1 .6 .1 .6 .3 .6-.5 .6-.6 .6 1.1 .6-.6 .6 .6 .6-.3 .6-.1 .6 .2 .6-.8 .6-.3 .6 1 .6-.3 .6 .3 .6-.1 .6 0 .6-.7 .6 1.1 .6-.3 .6-.6 .6 .4 .6 .1 .6 .4 .6-.8 .6 .9 .6 0 .6-1.2 .6 .7 .6 .4 .6-1.8 .6 1.1 .6 .6 .6 .1 .6-1.7 .6 1.6 .6-.6 .6-.3 .6 .8 .6-1.4 .6 1.7 .6-.7 .6 .1 .6-.3 .6 .6 .6-.1 .6-.6 .6 .1 .6 .4 .6 .5 .6-.7 .6 .7 .6-.3 .6-.6 .6-.2 .6 .6 .6-.4 .6 .4 .6 .2 .6-1.8 .6 2.1 .6 0 .6-.6 .6 .6 .6-.2 .6-.5 .6 .2 .6-.1 .6 .3 .6-.7 .6 .7 .6 0 .6 .2 .6-1.1 .6 .7 .6 .3 .6 .1 .6-.2 .6-.7 .6 .8 .6 .2 .6-.2 .6 .1 .6-1.9 .6 1.3 .6 .6 .6-.2 .6-.5 .6-.5 .6 .7 .6 .1 .6-1 .6 .1 .6 1.1 .6 .2 .6-.2 .6-.6 .6 .2 .6-.5 .6 1 .6-.5 .6 .5 .6 0 .6 .2 .6-.5 .6 .2 .6-.1 .6-.4 .6-.4 .6 .6 .6-.8 .6 .4 .6 .6 .6 .2 .6-.4 .6-.1 .6 .2 .6 .4 .6-.9 .6 .8 .6 0 .6 .1 .6-.1 .6-.6 .6-.4 .6 .5 .6 .4 .6-.3 .6 .6 .6-1.3 .6 .9 .6-.6 .6 .8 .6-.2 .6 .1 .6-.5 .6 .2 .6 .6 .6-.2 .6 .1 .6-1.1 .6 .5 .6-.9 .6 1.1 .6 0 .6 .3 .6-2.1 .6 2 .6 .2 .6-1 .6-.6 .6 0 .6 .9 .6 .4 .6 .2 .6-1 .6 .2 .6 1 .6-1.2 .6 .3 .6-.1 .6 .5 .6-.7 .6 .9 .6-.4 .6-.3 .6 .2 .6-.2 .6 .2 .6 .5 .6 .3 .6 0 .6-.5 .6-.3 .6 .2 .6-.5 .6 .1 .6 .5 .6-.2 .6 0 .6 .7 .6-.1 .6-1 .6 .8 .6 .2 .6-.2 .6-.4 .6-1 .6 1 .6 .6 .6-.2 .6 0 .6-.1 .6-.1 .6 .4 .6-.3 .6-.3 .6 .2 .6 .1 .6-.3 .6 .7 .6-.7 .6-.2 .6-.6 .6 .5 .6 0 .6 .8 .6 .2 .6-.4 .6 .2 .6-.5 .6 .5 .6-.1 .6 .3 .6-1.3 .6 .5 .6 .8 .6-.3 .6 0 .6-.2 .6-.5 .6 .9 .6-.6 .6 0 .6 0 .6-.9 .6 1.2 .6-.4 .6 .1 .6-.1 .6-.3 .6 .1 .6 .1 .6 .7 .6 .2 .6-.4 .6 0 .6-.5 .6 .3 .6 0 .6 .2 .6 0 .6-1.3 .6 .8 .6-.3 .6 1 .6-.6 .6 .4 .6-.4 .6 .7 .6-.9 .6 .4 .6-.2 .6-.1 .6 .5 .6 .1 .6 .3 .6-.4 .6-.8 .6 1 .6-.1 .6-.7 .6 .4 .6 .5 .6 0 .6-.4 .6 .2 .6-.3 .6 .5 .6 .1 .6-.7 .6-.5 .6 1.2 .6-.7 .6 .6 .6-.9 .6 .8 .6-.5 .6 .2 .6 .2 .6-.1 .6-.1 .6 .1 .6 .3 .6-.6 .6 .1 .6-.4 .6 .6 .6 .2 .6 .2 .6-1.5 .6 .8 .6 0 .6 .5 .6-.3 .6-.6 .6 1 .6 .1 .6-.5 .6-.6 .6 .3 .6-.5 .6-.2 .6-.3 .6 1.3 .6 .4 .6-.5 .6-.1 .6-.1 .6 .5 .6 .2 .6 .1 .6-.1 .6 .1 .6-.2 .6 .1 .6-.6 .6 .5 .6-1.2 .6 1.3 .6-.5 .6 .6 .6-.7 .6 .4 .6 .3 .6-.8 .6 .2 .6-.1 .6-.2 .6 .4 .6 .3 .6-.5 .6-.2 .6 .2 .6 .4 .6-.2 .6 0 .6 .5 .6-.6 .6-.3 .6 .2 .6 .4 .6-.1 .6-.1 .6 .1 .6 .3 .6 .1 .6-.6 .6 0 .6 .2 0 3.4-.6-.2-.6-.3-.6-.1-.6 .4-.6-.3-.6 .4-.6-.2-.6 1.2-.6-1.1-.6-.2-.6 0-.6 .2-.6-.2-.6 .2-.6 .3-.6-.5-.6 .2-.6 .5-.6-.8-.6 .3-.6-.2-.6 1.1-.6 0-.6-1.2-.6 .8-.6-.3-.6-.3-.6 0-.6-.2-.6 .4-.6 .5-.6-.8-.6 .2-.6 .1-.6-.4-.6 1-.6-.2-.6 .2-.6-.6-.6-.5-.6 .5-.6-.3-.6-.2-.6 .7-.6 .2-.6-.4-.6-.3-.6 .1-.6-.3-.6 .4-.6-.3-.6 .1-.6 1.4-.6-.9-.6-.4-.6-.3-.6 .1-.6 .1-.6 .4-.6 .5-.6-.4-.6 .1-.6 .6-.6-.9-.6-.5-.6 0-.6 1.5-.6-1.4-.6 0-.6 .5-.6-.3-.6-.2-.6 .6-.6 .7-.6-1.3-.6 .4-.6-.5-.6 1.8-.6-1.5-.6 .1-.6 0-.6 .1-.6-.5-.6 .3-.6 .1-.6 .9-.6-.6-.6-.4-.6 0-.6-.2-.6 .1-.6 .7-.6-.9-.6 1.7-.6-1.1-.6 .8-.6-.1-.6-.5-.6-.6-.6-.2-.6 1.7-.6-1.6-.6 .4-.6 .4-.6-.8-.6 .4-.6-.3-.6 .6-.6-.2-.6-.4-.6 .1-.6-.3-.6 .4-.6 .4-.6 .5-.6-.4-.6-.5-.6-.1-.6 0-.6-.3-.6 1.1-.6 .2-.6-.8-.6-.3-.6 1-.6-.6-.6 .5-.6 .4-.6-1.5-.6 .5-.6 .7-.6-1-.6 .1-.6 .6-.6-.3-.6-.3-.6 .7-.6-.4-.6-.5-.6 .3-.6 .7-.6-1.1-.6 .7-.6 1.1-.6-1.7-.6 1.4-.6-.9-.6 1.1-.6-.6-.6-1.1-.6 .6-.6 0-.6-.1-.6-.2-.6 .2-.6-.3-.6 0-.6 .1-.6 0-.6 .5-.6 .4-.6-.9-.6-.1-.6 .5-.6 .1-.6-.7-.6 .5-.6-.3-.6 .5-.6-.4-.6 .7-.6-1-.6 .7-.6-.5-.6 .4-.6-.5-.6 1-.6 0-.6-.1-.6-.4-.6 .2-.6-.3-.6 .1-.6 0-.6 .7-.6-1.3-.6 .1-.6 1.6-.6-.5-.6-.5-.6-.8-.6 .7-.6-.4-.6-.2-.6 1.9-.6-1.6-.6 1.1-.6-.3-.6-1-.6-.2-.6 .2-.6 1.9-.6-1.7-.6 1.3-.6-1-.6-.5-.6 .1-.6 .5-.6-.4-.6 0-.6 .3-.6 1-.6-1.1-.6-.4-.6 1.5-.6-1.3-.6 .1-.6-.3-.6-.2-.6 1.3-.6-.7-.6 .7-.6-1.1-.6 1-.6-.5-.6-.1-.6-.1-.6-.5-.6 .3-.6-.1-.6 .7-.6 .2-.6-1.1-.6 .9-.6-.5-.6 0-.6-.4-.6 .8-.6 .2-.6-1-.6 .3-.6 .4-.6 .9-.6-.6-.6-.3-.6-.5-.6 .9-.6-.8-.6-.1-.6-.2-.6 .9-.6-.4-.6-.4-.6 .6-.6-.3-.6 .8-.6-.2-.6 .1-.6-.4-.6-.1-.6 .5-.6-.7-.6 0-.6-.3-.6 .1-.6 .9-.6-.9-.6-.2-.6 .2-.6-.2-.6 .3-.6 .8-.6-.5-.6-.4-.6 1.1-.6-1.2-.6 1-.6-.9-.6 1.1-.6-.1-.6-1.2-.6 .7-.6 .5-.6-.2-.6 0-.6-1-.6 1.2-.6-.1-.6-1.1-.6 0-.6 .1-.6 0-.6 .5-.6 0-.6 0-.6-.6-.6 .4-.6 0-.6 1.8-.6-1-.6-1.2-.6 .1-.6 .3-.6 0-.6 .2-.6-.3-.6 .4-.6 .7-.6-.7-.6-.5-.6 .3-.6-.3-.6 .3-.6 .6-.6-.7-.6-.4-.6 .1-.6 .4-.6-.3-.6 .8-.6-.9-.6 .4-.6 .5-.6-.1-.6-.7-.6 .5-.6 .5-.6-1.2-.6 0-.6 .7-.6 0-.6-.3-.6 1.2-.6-1.3-.6 .2-.6-.4-.6-.1-.6 1.4-.6 .7-.6-1.8-.6-.3-.6 .6-.6 .3-.6-.8-.6 .5-.6 .9-.6-.9-.6-.4-.6-.1-.6 .6-.6-.7-.6 .5-.6-.3-.6-.1-.6 1.8-.6-1.9-.6 1.6-.6-.7-.6-.5-.6 .6-.6-.7-.6 1.5-.6-1.8-.6 .5-.6 .4-.6-.5-.6 .7-.6-.2-.6-.3-.6-.3-.6 1.8-.6-1.6-.6 .8-.6-1-.6-.2-.6-.1-.6 1.1-.6-.6-.6 .9-.6-1.2-.6 0-.6 2.4-.6-2-.6-.3-.6 .8-.6 .4-.6-.5-.6-.2-.6 .1-.6-.5-.6-.1-.6 1-.6-1.1-.6 .8-.6-1-.6 0-.6 0-.6 .4-.6-.2-.6 .4-.6-.5-.6 .2-.6-.1-.6 .5-.6-.2-.6 .5-.6-.7-.6 1.6-.6-1.6-.6 .2-.6 .2-.6 .8-.6-1.4-.6 .1-.6 0-.6-.1-.6 1-.6-.6-.6 1.3-.6-1.7-.6 .9-.6 1-.6-1.6-.6 1-.6-1.2-.6 0-.6 .3-.6-.5-.6 .3-.6 1-.6-.8-.6-.1-.6 .9-.6-1.2-.6 .1-.6 .3-.6 1.2-.6-1.7-.6 .5-.6 .5-.6-1-.6 1-.6-.9-.6 .2-.6 .5-.6-.2-.6 0-.6 .2-.6-.6-.6 .6-.6-.3-.6-.1-.6 .3-.6-.5-.6 .2-.6-.1-.6-.3-.6 .7-.6-.3-.6-.4-.6 1.7-.6-1.5-.6-.1-.6 0-.6 .4-.6-.5-.6 1.5-.6-.8-.6-.1-.6 .1-.6-.7-.6 .3-.6 .6-.6-.5-.6-.3-.6-.1-.6 .5-.6-.5-.6 .1-.6 2.2-.6-2.3-.6 .3-.6-.1-.6-.1-.6 .6-.6-.5-.6 1.2-.6-.8-.6-.4-.3 .6-.3-.2-.3-.2-.3-.1-.3-.2-.3 .1-.3 .4-.3-.1-.2 1.1-.3-.3-.4-1-.2 1.4-.4-1.4-.3 .5-.3-.6-.2 .9-.3 1-.3-1.1-.4-.7-.3-.1-.2 .6-.3-.2-.3-.2-.3 .1-.3 .9-.3-.1-.3 0-.3 0-.3-.5-.3-.4-.3 .2-.2 1.5-.3-.5-.4-.5-.2 .4-.4-1-.3 .5-.3-.5-.2 .9-.4-.6-.3 0-.2 .1-.1 2-.4-1.1-.4-.7-.3 .3-.3-.6-.3 .3-.1 1.3-.5-1.1-.3-.1-.3 0-.3 0 0 1.2-.6-1.3-.3 .1-.1 .8-.4-.3-.3-.2-.1 .9-.3-.2-.1 .7-.6-.9-.2 .2-.4-.2-.2 .3-.3 0 0 .9-.5-.5-.2 .4-.3-.1-.5-.3 .3 1.3-.6-.5-.4-.2 .1 .9-.5-.2-.5-.2-.1 .3 0 .6-.6-.3 .2 .8-1-.6 0 .5-.4 .1 .1 .6-.4 .1-.5 .1-.2 .3-.4 .3 .9 1.3-1.3-.5-.3 .3 .3 .8-1.1-.2 .2 .8-.5 .3 .3 .8-.9 .1-.5 .5z" fill="#111"/>
<path d="M77.8 446.2l.3-.6 .3-.5 .3-.5 .3-.5 .3-.4 .3-.5 .3-.4 .3-.4 .3-.3 .3-.4 .3-.3 .3-.4 .3-.3 .3-.2 .3-.3 .3-.3 .3-.2 .3-.3 .3-.2 .3-.2 .3-.2 .3-.2 .3-.2 .3-.2 .3-.1 .3-.2 .3-.2 .3-.1 .3-.1 .3-.2 .3-.1 .3-.1 .3-.1 .3-.1 .3-.1 .3-.1 .3-.1 .3-.1 .3-.1 .3-.1 .3 0 .3-.1 .3-.1 .3 0 .3-.1 .3-.1 .3 0 .3-.1 .3 0 .3-.1 .3 0 .3-.1 .3 0 .3 0 .3-.1 .3 0 .3 0 .3-.1 .3 0 .3 0 .3-.1 .3 0 .3 0 .3 0 .3-.1 .3 0 .3 0 .3 0 .3 0 .3-.1 .3 0 .3 0 .3 0 .3 0 .3 0 .3 0 .3-.1 .3 0 .3 0 .3 0 .3 0 .3 0 .3 0" fill="none" stroke="#111" stroke-width="2.3"/>
<path d="M76.3 441.6l.2-.5 .7 .5 .3-.1 .3-.4 0-.9 .7 .8 .2-.6 .4-.2 .4 .1 .1-.8 .7 .9 .2-.6 .4 .5 .4-.1 .1-.8 .4 .2 .5 .3 .1-.8 .5 .5 .2-.8 .5 .8 .1-1 .5 .9 .3-.1 .4-.1 .1-1.6 .3 .4 .5 1.3 .3-.2 .4 .1 .2-.6 .3-.1 .4 .6 .3-.3 .3 .2 .4 .1 .3-.1 .3-.3 .3-.3 .2-.3 .3-.5 .4 .8 .3 .3 .3-.5 .3-.1 .3-1 .3 .7 .3 .5 .4 .1 .3 .4 .3-.7 .2-.4 .4 1 .3-.1 .3-.2 .3-.8 .3 .3 .3 .7 .3-.4 .3-.5 .3-.4 .3 .3 .3 1.1 .3-1.3 .3 .8 .3 .2 .3-.4 .3 0 .4 .5 .3-.2 .3-.1 .3-.2 .3 .4 .3 .1 .3-.4 .3-.5 .3 .2 .3 .4 .3-.5 .3 .8 .3-.5 .3 .3 .3 .1 .3-.6 .3 .8 .3-.8 .3 0 .3 .6 .3-.6 .3 .6 .3-.9 .3-.4 .3 1.4 .3-.1 .3-.5 .3 .6 .3-.1 .3-.8 .3 .2 .3 .2 .6 .6 .6-1.2 .6 .2 .6 .5 .6 0 .6-1.1 .6 1.3 .6-.8 .6 .6 .6 .5 .6-1.1 .6 .1 .6 .1 .6-.2 .6 .8 .6-2.1 .6 2.3 .6-.1 .6-.3 .6 0 .6 .4 .6-1 .6-.8 .6 1.6 .6-.7 .6 .6 .6-1.1 .6 .6 .6 .2 .6 .5 .6-.7 .6 .8 .6-.2 .6 .1 .6-.7 .6 .6 .6 0 .6-.5 .6 .7 .6 0 .6 0 .6-.6 .6-.1 .6 .7 .6-.2 .6-.7 .6 .9 .6-.1 .6-.2 .6 0 .6-1.5 .6-.1 .6 1.4 .6 .3 .6 0 .6 .3 .6-.2 .6-.1 .6 .3 .6-.3 .6-.5 .6 0 .6 .7 .6 .1 .6-1.5 .6 1.3 .6-.3 .6-.9 .6 1.2 .6-.1 .6-.8 .6 .5 .6 .3 .6-.4 .6-.1 .6 .5 .6 0 .6 .3 .6-.8 .6 .5 .6-.7 .6 .9 .6-.1 .6-.9 .6 .3 .6 .3 .6 .4 .6-.3 .6-1 .6 .8 .6 .1 .6 .4 .6-.8 .6 .2 .6 .3 .6 .3 .6-.4 .6-.5 .6 .5 .6 .4 .6-.2 .6-.5 .6 .2 .6-.5 .6 .8 .6-1.3 .6 .8 .6 .4 .6 0 .6-1.6 .6 1.4 .6 0 .6 .5 .6-.1 .6 0 .6-.1 .6-.3 .6 .3 .6 .3 .6-.7 .6-.1 .6 .7 .6-.8 .6 .4 .6 .5 .6 0 .6-.8 .6-.1 .6 .2 .6 .2 .6 .4 .6 0 .6-.2 .6-.4 .6 .1 .6 .5 .6-1 .6 .5 .6-.2 .6 .6 .6-1.5 .6 1.6 .6-.1 .6-.3 .6 .4 .6-1.2 .6 .7 .6 .5 .6-.7 .6-.1 .6 .4 .6 0 .6 .2 .6 0 .6 0 .6-.4 .6 .6 .6-.9 .6 .1 .6 .7 .6-.6 .6-.6 .6 .5 .6 .6 .6-.8 .6 .2 .6-.2 .6 .7 .6-.1 .6 .5 .6-2 .6 .7 .6 .7 .6-.5 .6 .4 .6 0 .6-.5 .6 .8 .6-.9 .6 .7 .6-.5 .6 .8 .6 .3 .6-1.2 .6-.5 .6 1.6 .6-.1 .6-1 .6 .5 .6 .3 .6-.4 .6-.5 .6 .7 .6-.6 .6 1.2 .6-.3 .6 .1 .6-.1 .6 .2 .6-.9 .6 .9 .6-1 .6 .2 .6 .1 .6-.6 .6 .4 .6-.2 .6 .3 .6 .7 .6-.5 .6-.1 .6 .1 .6 .4 .6-.7 .6 .1 .6 .4 .6 .3 .6-.2 .6-.6 .6 .4 .6 .4 .6-.1 .6 .2 .6-.1 .6 .1 .6-.5 .6-.2 .6-.3 .6 .1 .6 1 .6-1.1 .6 1 .6-.9 .6 .9 .6-.4 .6-.1 .6-.3 .6 .5 .6-.1 .6 .3 .6 .1 .6-.1 .6 .1 .6-1.1 .6 .6 .6 .1 .6 .3 .6-.4 .6-1.2 .6 .8 .6 .6 .6-.7 .6 1 .6-.4 .6 .4 .6-.7 .6 .7 .6 0 .6-1.3 .6 .7 .6-.7 .6 .8 .6 .2 .6 .4 .6-.8 .6 .5 .6 0 .6-1.1 .6 1 .6-.1 .6-.4 .6-.7 .6 1 .6 .5 .6-.5 .6 .4 .6-.1 .6-.6 .6 .8 .6-.9 .6 .9 .6-.2 .6-.4 .6 0 .6 .6 .6-.2 .6-.5 .6 .5 .6 .2 .6-.9 .6-.3 .6 .2 .6 .6 .6 .1 .6-.5 .6 .9 .6-.3 .6-.8 .6 .7 .6 0 .6-.4 .6-.6 .6 1.2 .6-1.3 .6 .8 .6 .4 .6-.3 .6 .1 .6-.1 .6-.8 .6 .6 .6 .2 .6 .5 .6-1.1 .6-.2 .6 1.4 .6-.3 .6 .2 .6-.3 .6 .1 .6 0 .6-.9 .6 1 .6-.3 .6 .3 .6 0 .6-.8 .6 .7 .6-.8 .6 1 .6-1.4 .6 .8 .6-.8 .6 1.1 .6-.3 .6 0 .6-.5 .6-.5 .6 1.1 .6 .5 .6-.4 .6-.3 .6 .7 .6-.2 .6-.2 .6 .4 .6-.3 .6 0 .6-.3 .6 .7 .6-.4 .6-.1 .6 .5 .6-1.6 .6 .8 .6 .3 .6 0 .6-.4 .6-.3 .6-.1 .6 1.2 .6 0 .6-.1 .6 .1 .6-.7 .6 .8 .6-.2 .6-1.5 .6 .9 .6 .7 .6-.7 .6 .2 .6 .4 .6 .1 .6-.3 .6 .3 .6-.2 .6-1.7 .6 1.4 .6-.2 .6 .1 .6 .6 .6-1.4 .6 1.3 .6-.5 .6 .3 .6 0 .6 .2 .6-1.1 .6 .2 .6 .5 .6 .3 .6-.1 .6-.7 .6 .1 .6 .6 .6 .3 .6-.6 .6 .3 .6 .1 .6-.2 .6 .4 .6-.8 .6 .5 .6-.2 .6 .5 .6-.3 .6 .3 .6 0 .6 0 .6-.4 .6 .4 .6-.4 .6 .5 .6-1.1 .6 .7 .6-.8 .6 .1 .6 .8 .6-.8 .6 .5 .6 .4 .6 0 .6 .1 .6-.4 .6-.1 .6 .4 .6-1.1 .6 .8 .6 .1 .6-1.3 .6 1.6 .6-.7 .6-.5 .6 .6 .6 .4 .6 0 .6-.4 .6-.3 .6 .4 .6-.2 .6 .4 .6-.1 .6 .3 .6-.7 .6 .1 .6 0 .6 .1 .6-.1 .6 .1 .6 .3 .6 .3 .6-.9 .6 .8 .6 .1 .6-.9 .6 .8 .6-.5 .6-.3 .6 .6 .6 .1 .6-1.3 .6 1 .6 .5 .6-.8 .6 .9 .6-.5 .6-.5 .6 .2 .6 .5 .6 .3 .6-.8 .6 .5 .6-.2 .6 .3 .6 0 .6-1.3 .6 .2 .6 .2 .6 1 .6-.4 .6-.2 .6-.1 .6 .2 .6-.4 .6-.1 .6 .5 .6 .2 .6-.3 0 6.8-.6 .3-.6-.3-.6 .4-.6 .9-.6-1-.6-.4-.6 0-.6 0-.6 1.3-.6-1-.6 .2-.6-.4-.6 .5-.6 .2-.6-.7-.6-.1-.6 .4-.6 .5-.6 .6-.6-1-.6-.1-.6-.4-.6 .5-.6 .1-.6-.8-.6 0-.6 .9-.6-.5-.6-.1-.6 .4-.6-.6-.6 .8-.6-.2-.6-.2-.6 .1-.6-.3-.6-.2-.6 .9-.6-.6-.6 .4-.6-.5-.6 0-.6 .3-.6-.1-.6 0-.6 1.2-.6-1.4-.6 .2-.6 .4-.6-.2-.6-.4-.6 .4-.6 .1-.6 .7-.6-1-.6 .7-.6-1.2-.6 .1-.6 .2-.6 1.8-.6-.1-.6-1-.6-.9-.6 .4-.6 0-.6 .5-.6 0-.6-.1-.6-.4-.6 0-.6 0-.6 1.4-.6 0-.6-1.2-.6-.1-.6 .6-.6-.9-.6-.3-.6 2.1-.6-2-.6 .8-.6-.2-.6-.1-.6-.5-.6 .5-.6-.2-.6 .6-.6-.6-.6 .1-.6-.4-.6 0-.6 1-.6-.9-.6 .6-.6-.6-.6 .2-.6-.1-.6 .5-.6-.1-.6-.6-.6 1.1-.6 0-.6 .4-.6-1.6-.6 .8-.6 .5-.6-.9-.6-.3-.6 .8-.6-.4-.6 .4-.6-.5-.6 0-.6-.2-.6 .5-.6 .2-.6-.9-.6 .7-.6 1-.6-.4-.6-1.3-.6 .1-.6 .7-.6-.2-.6-.4-.6 .5-.6-.6-.6 .8-.6-.2-.6-.6-.6 1.5-.6-.9-.6-.2-.6-.4-.6 .1-.6 .2-.6 1-.6-.3-.6-1.1-.6 1.6-.6-.1-.6-.7-.6-.7-.6-.1-.6 .5-.6 .9-.6 .6-.6-2-.6 .3-.6 .6-.6-.1-.6-.4-.6 .6-.6-.6-.6-.3-.6 .8-.6-.6-.6-.2-.6 .2-.6 .5-.6-.7-.6 .7-.6-.6-.6 .1-.6 .7-.6 0-.6-.2-.6-.6-.6 .3-.6 1.5-.6-1.6-.6-.3-.6 1-.6-1-.6 1.4-.6-1.1-.6-.2-.6 .9-.6-.9-.6 .4-.6 .2-.6-.1-.6-.6-.6 .5-.6 .3-.6 1-.6-1.6-.6-.1-.6 0-.6 1.3-.6-.4-.6 .6-.6-.8-.6-.4-.6-.3-.6-.2-.6 .7-.6-.5-.6 .3-.6-.4-.6 .5-.6 .3-.6-.3-.6 .2-.6-.2-.6 .5-.6-.9-.6 .9-.6-.6-.6 .1-.6 .7-.6-1.2-.6 .4-.6 .2-.6-.3-.6-.4-.6 .6-.6 0-.6-.6-.6 .4-.6-.1-.6-.2-.6 1-.6-.1-.6 .4-.6-.2-.6-.8-.6 .1-.6 .5-.6-.1-.6-.8-.6 0-.6 .3-.6-.3-.6 .6-.6-.3-.6 .6-.6-.5-.6 .7-.6-.4-.6 0-.6-.7-.6 .4-.6 0-.6-.5-.6 1.3-.6-.9-.6 .6-.6-.7-.6 0-.6 .2-.6 1.2-.6-1-.6 .8-.6-.4-.6-.6-.6-.5-.6 .6-.6-.4-.6 .3-.6 .2-.6 1-.6-.8-.6-.7-.6 .7-.6-.8-.6 .7-.6-.4-.6 .3-.6-.5-.6 .2-.6 .8-.6-.6-.6-.6-.6 .3-.6-.1-.6 1.3-.6-.5-.6-.9-.6 .7-.6 .1-.6-.7-.6 1.4-.6-1.5-.6 1.2-.6-1.2-.6 .7-.6-.4-.6-.4-.6 .3-.6 .3-.6-.3-.6 .4-.6-.2-.6-.2-.6 .2-.6-.2-.6 1.5-.6-.9-.6 .7-.6-1.6-.6 .1-.6 0-.6-.1-.6 1.3-.6-.2-.6 .1-.6-.1-.6-.6-.6 0-.6 0-.6-.4-.6 .5-.6 .9-.6-1.5-.6 .1-.6 .2-.6 .5-.6-.1-.6-.1-.6-.6-.6 .7-.6-.7-.6 .7-.6 1.1-.6-.8-.6-1-.6 .4-.6 .1-.6 .3-.6 0-.6-.5-.6 .6-.6 1.2-.6-.2-.6-1.1-.6 .5-.6-1.2-.6 .5-.6 .5-.6-.3-.6-.2-.6-.5-.6 .6-.6-.4-.6 .4-.6-.7-.6 .2-.6 1.1-.6-.9-.6 2.4-.6-2.8-.6 .4-.6-.1-.6-.1-.6 .1-.6 .9-.6-1.2-.6 2.4-.6-1.6-.6-.1-.6-.1-.6 .1-.6-.4-.6-.3-.6 .3-.6 0-.6 .1-.6 .1-.6-.2-.6 .4-.6 .2-.6 .3-.6-.2-.6-.8-.6 1.1-.6-.8-.6 0-.6 .2-.6 .1-.6 .8-.6-1-.6 .5-.6-1-.6 .7-.6-.3-.6-.5-.6 .3-.6 .1-.6 1.8-.6-2.1-.6 1.4-.6-.9-.6 0-.6 0-.6 .8-.6-.8-.6-.4-.6 .3-.6-.3-.6 .3-.6 .3-.6 .7-.6-.6-.6-.7-.6 .4-.6 .1-.6-.7-.6 .8-.6-.1-.6-.5-.6 .1-.6 1.8-.6-1.2-.6 .2-.6-.7-.6-.1-.6 .2-.6-.5-.6 1.1-.6 .4-.6-.6-.6 1.4-.6-1.7-.6 .3-.6-.5-.6 .1-.6-.4-.6 .2-.6 .3-.6-.4-.6 .1-.6-.2-.6 .8-.6-.9-.6 .4-.6 .1-.6 1-.6-1.4-.6 .5-.6-.2-.6 .6-.6-.2-.6-.4-.6 0-.6-.2-.6 .1-.6 .3-.6 .4-.6-.9-.6 .3-.6-.4-.6 .6-.6 0-.6 .5-.6-.3-.6-.4-.6-.3-.6 .4-.6 .6-.6-.4-.6 0-.6 .1-.6 .1-.6 .2-.6-.7-.6 .1-.6-.3-.6-.1-.6 .6-.6-.1-.6-.3-.6 .5-.6-.7-.6 1.3-.6-1.1-.6-.3-.6 .7-.6 .5-.6-1-.6-.2-.6 .3-.6 .7-.6 .4-.6-.8-.6-.2-.6-.3-.6 .6-.6-.3-.3 0-.3 .2-.3 .4-.3-.4-.3 0-.3-.3-.3 0-.3-.2-.3 .5-.3-.2-.3 1.2-.3-1.5-.3 .2-.3 1.7-.3-1.7-.3 .8-.3 .9-.3-1.9-.3 0-.3 1-.3-.6-.3 0-.3 0-.3 .2-.3-.6-.3 .9-.2 .3-.4-1.1-.2 1.1-.4-1.1-.2 .3-.3-.1-.3 0-.3 .1-.3 .9-.3-1.2-.3 .3-.3-.3-.3 1-.3 .1-.3-.4-.3-.1-.3-.5-.3 .5-.3 .5-.3-.3-.3-.7-.3 .7-.3-.5-.3-.1-.2 .5-.3 .3-.3 .5-.4-1.3-.2 1-.3-.1-.3-.6-.3 .6-.3-.3-.2 .7-.4-.9-.2 .8-.3-.5-.4-.5-.2 .1-.2 1.5-.2 .3-.5-1.6-.3 .1-.2 .3-.2 .4-.2 .8-.5-1.3-.2 .4-.3-.1-.3-.4-.3-.2-.3 .5 .1 2-.6-2-.1 1.1-.4-.5-.1 .4-.5-.7 0 .9-.4-.4-.4-.6 .1 1.4-.6-.9-.3-.4-.2 .4-.2 .3-.1 .4-.5-.5 0 .8-.1 .3-.2 .2-.1 .4-.4-.2-.7-.8z" fill="#111"/>
<path d="M77.8 444.6l.3-.1 .3-.2 .3-.1 .3-.1 .3-.2 .3-.1 .3-.1 .3-.1 .3-.1 .3-.1 .3-.1 .3-.1 .3 0 .3-.1 .3-.1 .3-.1 .3 0 .3-.1 .3 0 .3-.1 .3-.1 .3 0 .3-.1 .3 0 .3 0 .3-.1 .3 0 .3-.1 .3 0 .3 0 .3-.1 .3 0 .3 0 .3-.1 .3 0 .3 0 .3 0 .3-.1 .3 0 .3 0 .3 0 .3 0 .3-.1 .3 0 .3 0 .3 0 .3 0 .3 0 .3 0 .3-.1 .3 0 .3 0 .3 0 .3 0 .3 0 .3 0 .3 0 .3 0 .3 0 .3-.1 .3 0 .3 0 .3 0 .3 0 .3 0 .3 0 .3 0 .3 0 .3 0 .3 0 .3 0 .3 0 .3 0 .3 0 .3 0 .3 0 .3 0 .3 0 .3 0 .3 0 .3 0 .3-.1 .3 0" fill="none" stroke="#111" stroke-width="2.6"/>
<path d="M77.8,485.0 L78.0,483.4 L78.3,481.9 L78.5,480.4 L78.8,479.0 L79.0,477.7 L79.3,476.3 L79.5,475.1 L79.8,473.9 L80.0,472.7 L80.3,471.6 L80.5,470.5 L80.8,469.5 L81.0,468.5 L81.3,467.5 L81.5,466.6 L81.8,465.7 L82.0,464.8 L82.3,464.0 L82.5,463.2 L82.8,462.5 L83.0,461.7 L83.3,461.0 L83.5,460.3 L83.8,459.7 L84.0,459.1 L84.3,458.5 L84.5,457.9 L84.8,457.3 L85.0,456.8 L85.3,456.2 L85.5,455.7 L85.8,455.3 L86.0,454.8 L86.3,454.4 L86.5,453.9 L86.8,453.5 L87.0,453.1 L87.3,452.7 L87.5,452.4 L87.8,452.0 L88.0,451.7 L88.3,451.4 L88.5,451.0 L88.8,450.7 L89.0,450.4 L89.3,450.2 L89.5,449.9 L89.8,449.6 L90.0,449.4 L90.3,449.1 L90.5,448.9 L90.8,448.7 L91.0,448.5 L91.3,448.3 L91.5,448.1 L91.8,447.9 L92.0,447.7 L92.3,447.5 L92.5,447.3 L92.8,447.2 L93.0,447.0 L93.3,446.9 L93.5,446.7 L93.8,446.6 L94.0,446.4 L94.3,446.3 L94.5,446.2 L94.8,446.1 L95.0,446.0 L95.3,445.8 L95.5,445.7 L95.8,445.6 L96.0,445.5 L96.3,445.4 L96.5,445.3 L96.8,445.3 L97.0,445.2 L97.3,445.1 L97.5,445.0 L97.8,444.9 L98.0,444.9 L98.3,444.8 L98.5,444.7 L98.8,444.7 L99.0,444.6 L99.3,444.5 L99.5,444.5 L99.8,444.4 L100.0,444.4 L100.3,444.3 L100.5,444.3 L100.8,444.2 L101.0,444.2 L101.3,444.1 L101.5,444.1 L101.8,444.0 L102.0,444.0 L102.3,444.0 L102.5,443.9 L102.8,443.9 L103.0,443.9 L103.3,443.8 L103.5,443.8 L103.8,443.8 L104.0,443.7 L104.3,443.7 L104.5,443.7 L104.8,443.7 L105.0,443.6 L105.3,443.6 L105.5,443.6 L105.8,443.6 L106.0,443.5 L106.3,443.5 L106.5,443.5 L106.8,443.5 L107.0,443.5 L107.3,443.4 L107.5,443.4 L107.8,443.4 L108.0,443.4 L108.3,443.4 L108.5,443.4 L108.8,443.4 L109.0,443.3 L109.3,443.3 L109.5,443.3 L109.8,443.3 L110.0,443.3 L110.3,443.3 L110.5,443.3 L110.8,443.3 L111.0,443.3 L111.3,443.2 L111.5,443.2 L111.8,443.2 L112.0,443.2 L112.3,443.2 L112.5,443.2 L112.8,443.2 L113.0,443.2 L113.3,443.2 L113.5,443.2 L113.8,443.2 L114.0,443.2 L114.3,443.2 L114.5,443.1 L114.8,443.1 L115.0,443.1 L115.3,443.1 L115.5,443.1 L115.8,443.1 L116.0,443.1 L116.3,443.1 L116.5,443.1 L116.8,443.1 L117.0,443.1 L117.3,443.1 L117.5,443.1" fill="none" stroke="#111" stroke-width="3.0" stroke-linejoin="round"/>
<line x1="77.80" y1="396.00" x2="77.80" y2="486.00" stroke="#111" stroke-width="1.8" />
<line x1="401.30" y1="396.00" x2="401.30" y2="445.00" stroke="#111" stroke-width="2.5" />
<path d="M400.3,440.5 L405.6,440.5 L405.8,447 L404.9,455 L405.5,462 L405.2,475 L405.8,490 L405.4,505 L405.3,515 L404,522 L402.6,526 L400.6,526 Z" fill="#111"/>
<line x1="395.00" y1="395.40" x2="417.70" y2="395.40" stroke="#111" stroke-width="1.8" />
<line x1="422.80" y1="410.30" x2="422.80" y2="433.10" stroke="#111" stroke-width="1.8" />
<line x1="422.80" y1="453.30" x2="422.80" y2="476.10" stroke="#111" stroke-width="1.8" />
<line x1="422.80" y1="496.30" x2="422.80" y2="519.10" stroke="#111" stroke-width="1.8" />
<line x1="387.80" y1="451.40" x2="387.80" y2="474.20" stroke="#111" stroke-width="1.8" />
<line x1="387.80" y1="494.40" x2="387.80" y2="517.20" stroke="#111" stroke-width="1.8" />
<line x1="401.40" y1="524.00" x2="423.50" y2="524.00" stroke="#111" stroke-width="1.8" />
<line x1="426.50" y1="398.40" x2="446.00" y2="377.60" stroke="#111" stroke-width="2.2" />
<line x1="422.50" y1="540.10" x2="458.20" y2="667.80" stroke="#111" stroke-width="2.2" stroke-dasharray="29 26"/>
<line x1="242.80" y1="485.30" x2="242.80" y2="516.30" stroke="#222" stroke-width="2.0" />
<line x1="242.00" y1="515.40" x2="309.20" y2="515.40" stroke="#222" stroke-width="2.0" />
<g transform="translate(208.65,507.30) scale(0.8119,1)"><text font-size="18.43" fill="#111" stroke="#111" stroke-width="0.43">2 µA</text></g>
<g transform="translate(247.59,532.60) scale(0.9898,1)"><text font-size="18.43" fill="#111" stroke="#111" stroke-width="0.35">2 s</text></g>
<g transform="translate(-1.45,576.70) scale(0.9684,1)"><text font-size="19.71" fill="#111" stroke="#111" stroke-width="0.36">+40 mV</text></g>
<line x1="65.70" y1="571.50" x2="81.50" y2="571.50" stroke="#4a4a4a" stroke-width="1.5" />
<line x1="81.50" y1="571.50" x2="81.50" y2="611.50" stroke="#4a4a4a" stroke-width="1.5" />
<line x1="81.50" y1="571.50" x2="401.50" y2="571.50" stroke="#4a4a4a" stroke-width="1.5" />
<line x1="81.50" y1="578.50" x2="401.50" y2="578.50" stroke="#4a4a4a" stroke-width="1.5" />
<line x1="81.50" y1="585.50" x2="401.50" y2="585.50" stroke="#4a4a4a" stroke-width="1.5" />
<line x1="81.50" y1="591.50" x2="401.50" y2="591.50" stroke="#4a4a4a" stroke-width="1.5" />
<line x1="81.50" y1="598.50" x2="401.50" y2="598.50" stroke="#4a4a4a" stroke-width="1.5" />
<line x1="81.50" y1="604.50" x2="401.50" y2="604.50" stroke="#4a4a4a" stroke-width="1.5" />
<line x1="81.50" y1="611.50" x2="401.50" y2="611.50" stroke="#4a4a4a" stroke-width="1.5" />
<line x1="401.50" y1="571.50" x2="401.50" y2="611.50" stroke="#4a4a4a" stroke-width="1.5" />
<line x1="401.50" y1="606.50" x2="412.20" y2="606.50" stroke="#4a4a4a" stroke-width="1.5" />
<rect x="459" y="359" width="310" height="310" fill="none" stroke="#111" stroke-width="2.1"/>
<g transform="translate(468.66,476.40) scale(0.7310,1)"><text font-size="28.84" fill="#111" stroke="#111" stroke-width="0.48">5 µA</text></g>
<line x1="530.10" y1="410.00" x2="530.10" y2="537.80" stroke="#111" stroke-width="3.5" />
<rect x="570.1" y="390.1" width="77" height="8.2" fill="#111"/>
<line x1="570.10" y1="400.90" x2="647.00" y2="400.90" stroke="#111" stroke-width="3.4" />
<line x1="570.10" y1="406.80" x2="647.00" y2="406.80" stroke="#111" stroke-width="3.4" />
<line x1="570.10" y1="413.50" x2="647.00" y2="413.50" stroke="#111" stroke-width="3.4" />
<line x1="570.10" y1="421.70" x2="647.00" y2="421.70" stroke="#111" stroke-width="3.4" />
<line x1="570.10" y1="431.20" x2="647.00" y2="431.20" stroke="#111" stroke-width="3.4" />
<line x1="570.10" y1="442.20" x2="647.00" y2="442.20" stroke="#111" stroke-width="3.4" />
<line x1="570.10" y1="454.00" x2="647.00" y2="454.00" stroke="#111" stroke-width="3.4" />
<line x1="570.10" y1="463.40" x2="647.00" y2="463.40" stroke="#111" stroke-width="5.0" />
<line x1="648.30" y1="390.00" x2="648.30" y2="605.90" stroke="#111" stroke-width="3.8" />
<line x1="648.00" y1="465.40" x2="741.50" y2="465.40" stroke="#111" stroke-width="4.0" />
<path d="M650.4,474.5 L651.4,474.2 L652.4,474.0 L653.4,473.8 L654.4,473.5 L655.4,473.3 L656.4,473.1 L657.4,472.9 L658.4,472.7 L659.4,472.5 L660.4,472.3 L661.4,472.1 L662.4,471.9 L663.4,471.7 L664.4,471.5 L665.4,471.4 L666.4,471.2 L667.4,471.0 L668.4,470.9 L669.4,470.7 L670.4,470.6 L671.4,470.4 L672.4,470.3 L673.4,470.2 L674.4,470.0 L675.4,469.9 L676.4,469.8 L677.4,469.7 L678.4,469.5 L679.4,469.4 L680.4,469.3 L681.4,469.2 L682.4,469.1 L683.4,469.0 L684.4,468.9 L685.4,468.8 L686.4,468.7 L687.4,468.6 L688.4,468.5 L689.4,468.4 L690.4,468.4 L691.4,468.3 L692.4,468.2 L693.4,468.1 L694.4,468.0 L695.4,468.0 L696.4,467.9 L697.4,467.8 L698.4,467.8 L699.4,467.7 L700.4,467.6 L701.4,467.6 L702.4,467.5 L703.4,467.4 L704.4,467.4 L705.4,467.3 L706.4,467.3 L707.4,467.2 L708.4,467.2 L709.4,467.1 L710.4,467.1 L711.4,467.0 L712.4,467.0 L713.4,466.9 L714.4,466.9 L715.4,466.9 L716.4,466.8 L717.4,466.8 L718.4,466.7 L719.4,466.7 L720.4,466.7 L721.4,466.6 L722.4,466.6 L723.4,466.6 L724.4,466.5 L725.4,466.5 L726.4,466.5 L727.4,466.4 L728.4,466.4 L729.4,466.4 L730.4,466.4 L731.4,466.3 L732.4,466.3 L733.4,466.3 L734.4,466.3 L735.4,466.2 L736.4,466.2 L737.4,466.2 L738.4,466.2 L739.4,466.1 L740.4,466.1 L741.4,466.1" fill="none" stroke="#111" stroke-width="3.9" stroke-linecap="round"/>
<path d="M650.4,507.2 L651.4,506.5 L652.4,505.9 L653.4,505.3 L654.4,504.6 L655.4,504.0 L656.4,503.4 L657.4,502.8 L658.4,502.2 L659.4,501.6 L660.4,501.0 L661.4,500.5 L662.4,499.9 L663.4,499.4 L664.4,498.8 L665.4,498.3 L666.4,497.8 L667.4,497.3 L668.4,496.8 L669.4,496.3 L670.4,495.8 L671.4,495.3 L672.4,494.8 L673.4,494.4 L674.4,493.9 L675.4,493.5 L676.4,493.0 L677.4,492.6 L678.4,492.2 L679.4,491.7 L680.4,491.3 L681.4,490.9 L682.4,490.5 L683.4,490.1 L684.4,489.7 L685.4,489.3 L686.4,489.0 L687.4,488.6 L688.4,488.2 L689.4,487.9 L690.4,487.5 L691.4,487.2 L692.4,486.8 L693.4,486.5 L694.4,486.1 L695.4,485.8 L696.4,485.5 L697.4,485.2 L698.4,484.9 L699.4,484.6 L700.4,484.3 L701.4,484.0 L702.4,483.7 L703.4,483.4 L704.4,483.1 L705.4,482.8 L706.4,482.5 L707.4,482.3 L708.4,482.0 L709.4,481.7 L710.4,481.5 L711.4,481.2 L712.4,481.0 L713.4,480.7 L714.4,480.5 L715.4,480.2 L716.4,480.0 L717.4,479.8 L718.4,479.6 L719.4,479.3 L720.4,479.1 L721.4,478.9 L722.4,478.7 L723.4,478.5 L724.4,478.3 L725.4,478.1 L726.4,477.9 L727.4,477.7 L728.4,477.5 L729.4,477.3 L730.4,477.1 L731.4,476.9 L732.4,476.7 L733.4,476.5 L734.4,476.4 L735.4,476.2 L736.4,476.0 L737.4,475.9 L738.4,475.7 L739.4,475.5 L740.4,475.4 L741.4,475.2" fill="none" stroke="#111" stroke-width="3.9" stroke-linecap="round"/>
<path d="M650.4,540.5 L651.4,539.9 L652.4,539.4 L653.4,538.8 L654.4,538.3 L655.4,537.7 L656.4,537.2 L657.4,536.6 L658.4,536.1 L659.4,535.5 L660.4,535.0 L661.4,534.5 L662.4,534.0 L663.4,533.4 L664.4,532.9 L665.4,532.4 L666.4,531.9 L667.4,531.4 L668.4,530.9 L669.4,530.4 L670.4,529.9 L671.4,529.4 L672.4,528.9 L673.4,528.5 L674.4,528.0 L675.4,527.5 L676.4,527.0 L677.4,526.6 L678.4,526.1 L679.4,525.7 L680.4,525.2 L681.4,524.7 L682.4,524.3 L683.4,523.9 L684.4,523.4 L685.4,523.0 L686.4,522.5 L687.4,522.1 L688.4,521.7 L689.4,521.2 L690.4,520.8 L691.4,520.4 L692.4,520.0 L693.4,519.6 L694.4,519.2 L695.4,518.8 L696.4,518.4 L697.4,518.0 L698.4,517.6 L699.4,517.2 L700.4,516.8 L701.4,516.4 L702.4,516.0 L703.4,515.6 L704.4,515.2 L705.4,514.9 L706.4,514.5 L707.4,514.1 L708.4,513.7 L709.4,513.4 L710.4,513.0 L711.4,512.7 L712.4,512.3 L713.4,511.9 L714.4,511.6 L715.4,511.2 L716.4,510.9 L717.4,510.6 L718.4,510.2 L719.4,509.9 L720.4,509.5 L721.4,509.2 L722.4,508.9 L723.4,508.5 L724.4,508.2 L725.4,507.9 L726.4,507.6 L727.4,507.2 L728.4,506.9 L729.4,506.6 L730.4,506.3 L731.4,506.0 L732.4,505.7 L733.4,505.4 L734.4,505.1 L735.4,504.8 L736.4,504.5 L737.4,504.2 L738.4,503.9 L739.4,503.6 L740.4,503.3 L741.4,503.0" fill="none" stroke="#111" stroke-width="3.9" stroke-linecap="round"/>
<path d="M650.4,562.8 L651.4,562.3 L652.4,561.9 L653.4,561.4 L654.4,560.9 L655.4,560.5 L656.4,560.0 L657.4,559.5 L658.4,559.1 L659.4,558.6 L660.4,558.2 L661.4,557.7 L662.4,557.3 L663.4,556.8 L664.4,556.4 L665.4,556.0 L666.4,555.5 L667.4,555.1 L668.4,554.7 L669.4,554.2 L670.4,553.8 L671.4,553.4 L672.4,552.9 L673.4,552.5 L674.4,552.1 L675.4,551.7 L676.4,551.3 L677.4,550.8 L678.4,550.4 L679.4,550.0 L680.4,549.6 L681.4,549.2 L682.4,548.8 L683.4,548.4 L684.4,548.0 L685.4,547.6 L686.4,547.2 L687.4,546.8 L688.4,546.4 L689.4,546.0 L690.4,545.6 L691.4,545.2 L692.4,544.8 L693.4,544.5 L694.4,544.1 L695.4,543.7 L696.4,543.3 L697.4,542.9 L698.4,542.6 L699.4,542.2 L700.4,541.8 L701.4,541.4 L702.4,541.1 L703.4,540.7 L704.4,540.3 L705.4,540.0 L706.4,539.6 L707.4,539.3 L708.4,538.9 L709.4,538.6 L710.4,538.2 L711.4,537.8 L712.4,537.5 L713.4,537.1 L714.4,536.8 L715.4,536.5 L716.4,536.1 L717.4,535.8 L718.4,535.4 L719.4,535.1 L720.4,534.7 L721.4,534.4 L722.4,534.1 L723.4,533.7 L724.4,533.4 L725.4,533.1 L726.4,532.8 L727.4,532.4 L728.4,532.1 L729.4,531.8 L730.4,531.5 L731.4,531.1 L732.4,530.8 L733.4,530.5 L734.4,530.2 L735.4,529.9 L736.4,529.6 L737.4,529.3 L738.4,528.9 L739.4,528.6 L740.4,528.3 L741.4,528.0" fill="none" stroke="#111" stroke-width="3.9" stroke-linecap="round"/>
<path d="M650.4,575.3 L651.4,574.9 L652.4,574.5 L653.4,574.1 L654.4,573.7 L655.4,573.3 L656.4,572.9 L657.4,572.5 L658.4,572.1 L659.4,571.7 L660.4,571.3 L661.4,570.9 L662.4,570.6 L663.4,570.2 L664.4,569.8 L665.4,569.4 L666.4,569.0 L667.4,568.6 L668.4,568.3 L669.4,567.9 L670.4,567.5 L671.4,567.1 L672.4,566.8 L673.4,566.4 L674.4,566.0 L675.4,565.6 L676.4,565.3 L677.4,564.9 L678.4,564.5 L679.4,564.2 L680.4,563.8 L681.4,563.5 L682.4,563.1 L683.4,562.7 L684.4,562.4 L685.4,562.0 L686.4,561.7 L687.4,561.3 L688.4,561.0 L689.4,560.6 L690.4,560.3 L691.4,559.9 L692.4,559.6 L693.4,559.2 L694.4,558.9 L695.4,558.5 L696.4,558.2 L697.4,557.8 L698.4,557.5 L699.4,557.2 L700.4,556.8 L701.4,556.5 L702.4,556.2 L703.4,555.8 L704.4,555.5 L705.4,555.2 L706.4,554.8 L707.4,554.5 L708.4,554.2 L709.4,553.9 L710.4,553.5 L711.4,553.2 L712.4,552.9 L713.4,552.6 L714.4,552.2 L715.4,551.9 L716.4,551.6 L717.4,551.3 L718.4,551.0 L719.4,550.7 L720.4,550.3 L721.4,550.0 L722.4,549.7 L723.4,549.4 L724.4,549.1 L725.4,548.8 L726.4,548.5 L727.4,548.2 L728.4,547.9 L729.4,547.6 L730.4,547.3 L731.4,547.0 L732.4,546.7 L733.4,546.4 L734.4,546.1 L735.4,545.8 L736.4,545.5 L737.4,545.2 L738.4,544.9 L739.4,544.6 L740.4,544.3 L741.4,544.0" fill="none" stroke="#111" stroke-width="3.9" stroke-linecap="round"/>
<path d="M650.4,583.0 L651.4,582.7 L652.4,582.3 L653.4,582.0 L654.4,581.6 L655.4,581.3 L656.4,580.9 L657.4,580.6 L658.4,580.2 L659.4,579.9 L660.4,579.6 L661.4,579.2 L662.4,578.9 L663.4,578.5 L664.4,578.2 L665.4,577.9 L666.4,577.5 L667.4,577.2 L668.4,576.9 L669.4,576.5 L670.4,576.2 L671.4,575.9 L672.4,575.6 L673.4,575.2 L674.4,574.9 L675.4,574.6 L676.4,574.3 L677.4,573.9 L678.4,573.6 L679.4,573.3 L680.4,573.0 L681.4,572.6 L682.4,572.3 L683.4,572.0 L684.4,571.7 L685.4,571.4 L686.4,571.1 L687.4,570.8 L688.4,570.4 L689.4,570.1 L690.4,569.8 L691.4,569.5 L692.4,569.2 L693.4,568.9 L694.4,568.6 L695.4,568.3 L696.4,568.0 L697.4,567.7 L698.4,567.4 L699.4,567.1 L700.4,566.8 L701.4,566.5 L702.4,566.2 L703.4,565.9 L704.4,565.6 L705.4,565.3 L706.4,565.0 L707.4,564.7 L708.4,564.4 L709.4,564.1 L710.4,563.8 L711.4,563.5 L712.4,563.2 L713.4,562.9 L714.4,562.6 L715.4,562.3 L716.4,562.0 L717.4,561.8 L718.4,561.5 L719.4,561.2 L720.4,560.9 L721.4,560.6 L722.4,560.3 L723.4,560.1 L724.4,559.8 L725.4,559.5 L726.4,559.2 L727.4,558.9 L728.4,558.7 L729.4,558.4 L730.4,558.1 L731.4,557.8 L732.4,557.6 L733.4,557.3 L734.4,557.0 L735.4,556.7 L736.4,556.5 L737.4,556.2 L738.4,555.9 L739.4,555.7 L740.4,555.4 L741.4,555.1" fill="none" stroke="#111" stroke-width="3.9" stroke-linecap="round"/>
<path d="M650.4,588.5 L651.4,588.2 L652.4,587.9 L653.4,587.6 L654.4,587.4 L655.4,587.1 L656.4,586.8 L657.4,586.5 L658.4,586.2 L659.4,585.9 L660.4,585.7 L661.4,585.4 L662.4,585.1 L663.4,584.8 L664.4,584.5 L665.4,584.3 L666.4,584.0 L667.4,583.7 L668.4,583.4 L669.4,583.2 L670.4,582.9 L671.4,582.6 L672.4,582.3 L673.4,582.1 L674.4,581.8 L675.4,581.5 L676.4,581.2 L677.4,581.0 L678.4,580.7 L679.4,580.4 L680.4,580.2 L681.4,579.9 L682.4,579.6 L683.4,579.4 L684.4,579.1 L685.4,578.8 L686.4,578.6 L687.4,578.3 L688.4,578.0 L689.4,577.8 L690.4,577.5 L691.4,577.3 L692.4,577.0 L693.4,576.7 L694.4,576.5 L695.4,576.2 L696.4,576.0 L697.4,575.7 L698.4,575.4 L699.4,575.2 L700.4,574.9 L701.4,574.7 L702.4,574.4 L703.4,574.2 L704.4,573.9 L705.4,573.7 L706.4,573.4 L707.4,573.2 L708.4,572.9 L709.4,572.6 L710.4,572.4 L711.4,572.1 L712.4,571.9 L713.4,571.7 L714.4,571.4 L715.4,571.2 L716.4,570.9 L717.4,570.7 L718.4,570.4 L719.4,570.2 L720.4,569.9 L721.4,569.7 L722.4,569.4 L723.4,569.2 L724.4,569.0 L725.4,568.7 L726.4,568.5 L727.4,568.2 L728.4,568.0 L729.4,567.8 L730.4,567.5 L731.4,567.3 L732.4,567.0 L733.4,566.8 L734.4,566.6 L735.4,566.3 L736.4,566.1 L737.4,565.9 L738.4,565.6 L739.4,565.4 L740.4,565.2 L741.4,564.9" fill="none" stroke="#111" stroke-width="3.9" stroke-linecap="round"/>
<path d="M650.4,592.7 L651.4,592.5 L652.4,592.2 L653.4,592.0 L654.4,591.7 L655.4,591.5 L656.4,591.3 L657.4,591.0 L658.4,590.8 L659.4,590.5 L660.4,590.3 L661.4,590.1 L662.4,589.8 L663.4,589.6 L664.4,589.4 L665.4,589.1 L666.4,588.9 L667.4,588.7 L668.4,588.4 L669.4,588.2 L670.4,588.0 L671.4,587.7 L672.4,587.5 L673.4,587.3 L674.4,587.0 L675.4,586.8 L676.4,586.6 L677.4,586.3 L678.4,586.1 L679.4,585.9 L680.4,585.7 L681.4,585.4 L682.4,585.2 L683.4,585.0 L684.4,584.8 L685.4,584.5 L686.4,584.3 L687.4,584.1 L688.4,583.8 L689.4,583.6 L690.4,583.4 L691.4,583.2 L692.4,583.0 L693.4,582.7 L694.4,582.5 L695.4,582.3 L696.4,582.1 L697.4,581.8 L698.4,581.6 L699.4,581.4 L700.4,581.2 L701.4,581.0 L702.4,580.7 L703.4,580.5 L704.4,580.3 L705.4,580.1 L706.4,579.9 L707.4,579.7 L708.4,579.4 L709.4,579.2 L710.4,579.0 L711.4,578.8 L712.4,578.6 L713.4,578.4 L714.4,578.1 L715.4,577.9 L716.4,577.7 L717.4,577.5 L718.4,577.3 L719.4,577.1 L720.4,576.9 L721.4,576.7 L722.4,576.5 L723.4,576.2 L724.4,576.0 L725.4,575.8 L726.4,575.6 L727.4,575.4 L728.4,575.2 L729.4,575.0 L730.4,574.8 L731.4,574.6 L732.4,574.4 L733.4,574.2 L734.4,574.0 L735.4,573.7 L736.4,573.5 L737.4,573.3 L738.4,573.1 L739.4,572.9 L740.4,572.7 L741.4,572.5" fill="none" stroke="#111" stroke-width="3.9" stroke-linecap="round"/>
<path d="M650.4,596.9 L651.4,596.7 L652.4,596.5 L653.4,596.3 L654.4,596.0 L655.4,595.8 L656.4,595.6 L657.4,595.4 L658.4,595.2 L659.4,595.0 L660.4,594.8 L661.4,594.6 L662.4,594.4 L663.4,594.2 L664.4,593.9 L665.4,593.7 L666.4,593.5 L667.4,593.3 L668.4,593.1 L669.4,592.9 L670.4,592.7 L671.4,592.5 L672.4,592.3 L673.4,592.1 L674.4,591.9 L675.4,591.7 L676.4,591.5 L677.4,591.3 L678.4,591.0 L679.4,590.8 L680.4,590.6 L681.4,590.4 L682.4,590.2 L683.4,590.0 L684.4,589.8 L685.4,589.6 L686.4,589.4 L687.4,589.2 L688.4,589.0 L689.4,588.8 L690.4,588.6 L691.4,588.4 L692.4,588.2 L693.4,588.0 L694.4,587.8 L695.4,587.6 L696.4,587.4 L697.4,587.2 L698.4,587.0 L699.4,586.8 L700.4,586.6 L701.4,586.4 L702.4,586.2 L703.4,586.0 L704.4,585.8 L705.4,585.7 L706.4,585.5 L707.4,585.3 L708.4,585.1 L709.4,584.9 L710.4,584.7 L711.4,584.5 L712.4,584.3 L713.4,584.1 L714.4,583.9 L715.4,583.7 L716.4,583.5 L717.4,583.3 L718.4,583.1 L719.4,582.9 L720.4,582.8 L721.4,582.6 L722.4,582.4 L723.4,582.2 L724.4,582.0 L725.4,581.8 L726.4,581.6 L727.4,581.4 L728.4,581.2 L729.4,581.1 L730.4,580.9 L731.4,580.7 L732.4,580.5 L733.4,580.3 L734.4,580.1 L735.4,579.9 L736.4,579.7 L737.4,579.6 L738.4,579.4 L739.4,579.2 L740.4,579.0 L741.4,578.8" fill="none" stroke="#111" stroke-width="3.9" stroke-linecap="round"/>
<path d="M650.4,599.6 L651.4,599.4 L652.4,599.2 L653.4,599.1 L654.4,598.9 L655.4,598.7 L656.4,598.5 L657.4,598.4 L658.4,598.2 L659.4,598.0 L660.4,597.8 L661.4,597.7 L662.4,597.5 L663.4,597.3 L664.4,597.1 L665.4,597.0 L666.4,596.8 L667.4,596.6 L668.4,596.4 L669.4,596.3 L670.4,596.1 L671.4,595.9 L672.4,595.7 L673.4,595.6 L674.4,595.4 L675.4,595.2 L676.4,595.0 L677.4,594.9 L678.4,594.7 L679.4,594.5 L680.4,594.4 L681.4,594.2 L682.4,594.0 L683.4,593.8 L684.4,593.7 L685.4,593.5 L686.4,593.3 L687.4,593.2 L688.4,593.0 L689.4,592.8 L690.4,592.7 L691.4,592.5 L692.4,592.3 L693.4,592.1 L694.4,592.0 L695.4,591.8 L696.4,591.6 L697.4,591.5 L698.4,591.3 L699.4,591.1 L700.4,591.0 L701.4,590.8 L702.4,590.6 L703.4,590.5 L704.4,590.3 L705.4,590.1 L706.4,590.0 L707.4,589.8 L708.4,589.6 L709.4,589.5 L710.4,589.3 L711.4,589.2 L712.4,589.0 L713.4,588.8 L714.4,588.7 L715.4,588.5 L716.4,588.3 L717.4,588.2 L718.4,588.0 L719.4,587.8 L720.4,587.7 L721.4,587.5 L722.4,587.4 L723.4,587.2 L724.4,587.0 L725.4,586.9 L726.4,586.7 L727.4,586.5 L728.4,586.4 L729.4,586.2 L730.4,586.1 L731.4,585.9 L732.4,585.7 L733.4,585.6 L734.4,585.4 L735.4,585.3 L736.4,585.1 L737.4,584.9 L738.4,584.8 L739.4,584.6 L740.4,584.5 L741.4,584.3" fill="none" stroke="#111" stroke-width="3.9" stroke-linecap="round"/>
<path d="M650.4,604.5 L651.4,604.3 L652.4,604.1 L653.4,603.8 L654.4,603.6 L655.4,603.4 L656.4,603.2 L657.4,603.0 L658.4,602.7 L659.4,602.5 L660.4,602.3 L661.4,602.1 L662.4,601.9 L663.4,601.6 L664.4,601.4 L665.4,601.2 L666.4,601.0 L667.4,600.8 L668.4,600.6 L669.4,600.4 L670.4,600.1 L671.4,599.9 L672.4,599.7 L673.4,599.5 L674.4,599.3 L675.4,599.1 L676.4,598.9 L677.4,598.6 L678.4,598.4 L679.4,598.2 L680.4,598.0 L681.4,597.8 L682.4,597.6 L683.4,597.4 L684.4,597.2 L685.4,597.0 L686.4,596.7 L687.4,596.5 L688.4,596.3 L689.4,596.1 L690.4,595.9 L691.4,595.7 L692.4,595.5 L693.4,595.3 L694.4,595.1 L695.4,594.9 L696.4,594.7 L697.4,594.5 L698.4,594.3 L699.4,594.0 L700.4,593.8 L701.4,593.6 L702.4,593.4 L703.4,593.2 L704.4,593.0 L705.4,592.8 L706.4,592.6 L707.4,592.4 L708.4,592.2 L709.4,592.0 L710.4,591.8 L711.4,591.6 L712.4,591.4 L713.4,591.2 L714.4,591.0 L715.4,590.8 L716.4,590.6 L717.4,590.4 L718.4,590.2 L719.4,590.0 L720.4,589.8 L721.4,589.6 L722.4,589.4 L723.4,589.2 L724.4,589.0 L725.4,588.8 L726.4,588.6 L727.4,588.4 L728.4,588.2 L729.4,588.0 L730.4,587.8 L731.4,587.7 L732.4,587.5 L733.4,587.3 L734.4,587.1 L735.4,586.9 L736.4,586.7 L737.4,586.5 L738.4,586.3 L739.4,586.1 L740.4,585.9 L741.4,585.7" fill="none" stroke="#111" stroke-width="3.9" stroke-linecap="round"/>
<path d="M635.2,390.1 L636.8,385.1 L638.4,390.1Z" fill="#111"/>
<path d="M594.9,400.9 L596.5,405.9 L598.1,400.9Z" fill="#111"/>
<path d="M615.7,406.8 L617.3,412.8 L618.9,406.8Z" fill="#111"/>
<path d="M630.1,406.8 L631.7,411.8 L633.3,406.8Z" fill="#111"/>
<path d="M584.8,413.5 L586.4,420.5 L588.0,413.5Z" fill="#111"/>
<path d="M631.9,413.5 L633.5,418.5 L635.1,413.5Z" fill="#111"/>
<path d="M585.3,421.7 L586.9,427.7 L588.5,421.7Z" fill="#111"/>
<path d="M609.1,431.2 L610.7,427.2 L612.3,431.2Z" fill="#111"/>
<path d="M572.2,454.0 L573.8,450.0 L575.4,454.0Z" fill="#111"/>
<path d="M602.4,454.0 L604.0,450.0 L605.6,454.0Z" fill="#111"/>
<path d="M582.4,463.0 L584.0,460.0 L585.6,463.0Z" fill="#111"/>
<path d="M594.4,463.0 L596.0,460.0 L597.6,463.0Z" fill="#111"/>
<path d="M626.4,463.0 L628.0,460.0 L629.6,463.0Z" fill="#111"/>
<path d="M687.9,465.4 L689.5,460.4 L691.1,465.4Z" fill="#111"/>
<path d="M715.4,465.4 L717.0,459.4 L718.6,465.4Z" fill="#111"/>
<path d="M727.4,465.4 L729.0,460.4 L730.6,465.4Z" fill="#111"/>
<path d="M734.0,465.4 L735.6,460.4 L737.2,465.4Z" fill="#111"/>
<path d="M714.2,466.5 L715.8,472.5 L717.4,466.5Z" fill="#111"/>
<path d="M723.2,467.0 L724.8,472.0 L726.4,467.0Z" fill="#111"/>
<path d="M727.6,502.6 L729.2,497.6 L730.8,502.6Z" fill="#111"/>
<path d="M718.0,563.0 L719.6,568.0 L721.2,563.0Z" fill="#111"/>
<path d="M709.4,569.0 L711.0,564.0 L712.6,569.0Z" fill="#111"/>
<path d="M664.9,581.0 L666.5,576.0 L668.1,581.0Z" fill="#111"/>
<path d="M721.4,575.0 L723.0,570.0 L724.6,575.0Z" fill="#111"/>
<path d="M712.4,586.0 L714.0,581.0 L715.6,586.0Z" fill="#111"/>
<path d="M694.9,592.0 L696.5,597.0 L698.1,592.0Z" fill="#111"/>
<line x1="638.40" y1="625.30" x2="735.60" y2="625.30" stroke="#111" stroke-width="3.5" />
<g transform="translate(644.98,657.90) scale(0.9721,1)"><text font-size="27.71" fill="#111" stroke="#111" stroke-width="0.36">100 ms</text><rect x="1.39" y="-3.60" width="5.40" height="5.27" fill="#fff"/><rect x="9.56" y="-3.60" width="4.99" height="5.27" fill="#fff"/></g>
<g transform="translate(0.04,739.70) scale(0.8345,1)"><text font-size="44.35" fill="#111" stroke="#111" stroke-width="0.42">B</text></g>
<line x1="124.30" y1="740.70" x2="124.30" y2="1177.00" stroke="#111" stroke-width="3.5" />
<line x1="122.60" y1="1175.20" x2="774.80" y2="1175.20" stroke="#111" stroke-width="3.5" />
<line x1="108.50" y1="1175.30" x2="124.30" y2="1175.30" stroke="#111" stroke-width="3.5" />
<line x1="108.50" y1="1088.70" x2="124.30" y2="1088.70" stroke="#111" stroke-width="3.5" />
<line x1="108.50" y1="1002.10" x2="124.30" y2="1002.10" stroke="#111" stroke-width="3.5" />
<line x1="108.50" y1="915.50" x2="124.30" y2="915.50" stroke="#111" stroke-width="3.5" />
<line x1="108.50" y1="828.90" x2="124.30" y2="828.90" stroke="#111" stroke-width="3.5" />
<line x1="108.50" y1="742.30" x2="124.30" y2="742.30" stroke="#111" stroke-width="3.5" />
<line x1="124.40" y1="1175.20" x2="124.40" y2="1189.80" stroke="#111" stroke-width="3.5" />
<line x1="254.18" y1="1175.20" x2="254.18" y2="1189.80" stroke="#111" stroke-width="3.5" />
<line x1="383.95" y1="1175.20" x2="383.95" y2="1189.80" stroke="#111" stroke-width="3.5" />
<line x1="513.73" y1="1175.20" x2="513.73" y2="1189.80" stroke="#111" stroke-width="3.5" />
<line x1="643.50" y1="1175.20" x2="643.50" y2="1189.80" stroke="#111" stroke-width="3.5" />
<line x1="773.27" y1="1175.20" x2="773.27" y2="1189.80" stroke="#111" stroke-width="3.5" />
<g transform="translate(61.31,754.30) scale(1.0032,1)"><text font-size="29.71" fill="#111" stroke="#111" stroke-width="0.35">1.0</text><rect x="1.49" y="-3.86" width="5.79" height="5.65" fill="#fff"/><rect x="10.25" y="-3.86" width="5.35" height="5.65" fill="#fff"/></g>
<g transform="translate(61.46,840.90) scale(1.0032,1)"><text font-size="29.71" fill="#111" stroke="#111" stroke-width="0.35">0.8</text></g>
<g transform="translate(61.46,927.50) scale(1.0032,1)"><text font-size="29.71" fill="#111" stroke="#111" stroke-width="0.35">0.6</text></g>
<g transform="translate(61.16,1014.10) scale(1.0032,1)"><text font-size="29.71" fill="#111" stroke="#111" stroke-width="0.35">0.4</text></g>
<g transform="translate(61.75,1100.70) scale(1.0032,1)"><text font-size="29.71" fill="#111" stroke="#111" stroke-width="0.35">0.2</text></g>
<g transform="translate(61.31,1187.30) scale(1.0032,1)"><text font-size="29.71" fill="#111" stroke="#111" stroke-width="0.35">0.0</text></g>
<g transform="translate(90.35,1222.80) scale(1.0536,1)"><text font-size="28.57" fill="#111" stroke="#111" stroke-width="0.33">-100</text><rect x="10.94" y="-3.71" width="5.57" height="5.43" fill="#fff"/><rect x="19.37" y="-3.71" width="5.14" height="5.43" fill="#fff"/></g>
<g transform="translate(228.82,1222.80) scale(1.0732,1)"><text font-size="28.57" fill="#111" stroke="#111" stroke-width="0.33">-75</text></g>
<g transform="translate(359.53,1222.80) scale(1.0692,1)"><text font-size="28.57" fill="#111" stroke="#111" stroke-width="0.33">-50</text></g>
<g transform="translate(488.82,1222.80) scale(1.0732,1)"><text font-size="28.57" fill="#111" stroke="#111" stroke-width="0.33">-25</text></g>
<g transform="translate(634.45,1222.80) scale(1.0938,1)"><text font-size="28.57" fill="#111" stroke="#111" stroke-width="0.32">0</text></g>
<g transform="translate(755.00,1222.80) scale(1.0534,1)"><text font-size="28.57" fill="#111" stroke="#111" stroke-width="0.33">25</text></g>
<g transform="translate(366.83,1277.80) scale(0.9635,1)"><text font-size="35.65" fill="#111" stroke="#111" stroke-width="0.36">V</text></g>
<g transform="translate(388.47,1283.30) scale(0.9691,1)"><text font-size="33.89" fill="#111" stroke="#111" stroke-width="0.36">mem</text></g>
<g transform="translate(470.61,1277.90) scale(0.9286,1)"><text font-size="35.65" fill="#111" stroke="#111" stroke-width="0.38">(mV)</text></g>
<g transform="translate(28.40,978.22) rotate(-90) scale(0.9965,1)"><text font-size="33.66" fill="#111" stroke="#111" stroke-width="0.80">I/I</text></g>
<g transform="translate(35.60,950.97) rotate(-90) scale(1.0146,1)"><text font-size="32.96" fill="#111" stroke="#111" stroke-width="0.79">max</text></g>
<line x1="643.50" y1="742.05" x2="643.50" y2="1174.00" stroke="#111" stroke-width="3.4" stroke-dasharray="4.5 11.8" stroke-linecap="round"/>
<path d="M124.4,1175.3 L127.0,1175.3 L129.6,1175.3 L132.2,1175.3 L134.8,1175.3 L137.4,1175.3 L140.0,1175.3 L142.6,1175.3 L145.2,1175.3 L147.8,1175.3 L150.4,1175.3 L153.0,1175.3 L155.5,1175.3 L158.1,1175.3 L160.7,1175.3 L163.3,1175.3 L165.9,1175.3 L168.5,1175.3 L171.1,1175.3 L173.7,1175.3 L176.3,1175.3 L178.9,1175.3 L181.5,1175.3 L184.1,1175.2 L186.7,1175.2 L189.3,1175.2 L191.9,1175.2 L194.5,1175.2 L197.1,1175.2 L199.7,1175.2 L202.3,1175.2 L204.9,1175.2 L207.5,1175.2 L210.1,1175.2 L212.6,1175.2 L215.2,1175.2 L217.8,1175.2 L220.4,1175.2 L223.0,1175.2 L225.6,1175.1 L228.2,1175.1 L230.8,1175.1 L233.4,1175.1 L236.0,1175.1 L238.6,1175.1 L241.2,1175.1 L243.8,1175.0 L246.4,1175.0 L249.0,1175.0 L251.6,1175.0 L254.2,1175.0 L256.8,1174.9 L259.4,1174.9 L262.0,1174.9 L264.6,1174.9 L267.2,1174.8 L269.7,1174.8 L272.3,1174.8 L274.9,1174.7 L277.5,1174.7 L280.1,1174.7 L282.7,1174.6 L285.3,1174.6 L287.9,1174.5 L290.5,1174.5 L293.1,1174.4 L295.7,1174.3 L298.3,1174.3 L300.9,1174.2 L303.5,1174.1 L306.1,1174.0 L308.7,1173.9 L311.3,1173.9 L313.9,1173.8 L316.5,1173.6 L319.1,1173.5 L321.7,1173.4 L324.3,1173.3 L326.8,1173.1 L329.4,1173.0 L332.0,1172.8 L334.6,1172.7 L337.2,1172.5 L339.8,1172.3 L342.4,1172.1 L345.0,1171.8 L347.6,1171.6 L350.2,1171.3 L352.8,1171.1 L355.4,1170.8 L358.0,1170.5 L360.6,1170.1 L363.2,1169.8 L365.8,1169.4 L368.4,1169.0 L371.0,1168.5 L373.6,1168.1 L376.2,1167.6 L378.8,1167.1 L381.4,1166.5 L383.9,1165.9 L386.5,1165.3 L389.1,1164.6 L391.7,1163.8 L394.3,1163.1 L396.9,1162.2 L399.5,1161.3 L402.1,1160.4 L404.7,1159.4 L407.3,1158.3 L409.9,1157.2 L412.5,1156.0 L415.1,1154.7 L417.7,1153.3 L420.3,1151.9 L422.9,1150.3 L425.5,1148.7 L428.1,1147.0 L430.7,1145.1 L433.3,1143.2 L435.9,1141.1 L438.5,1138.9 L441.1,1136.6 L443.6,1134.2 L446.2,1131.6 L448.8,1128.9 L451.4,1126.0 L454.0,1123.0 L456.6,1119.8 L459.2,1116.4 L461.8,1112.9 L464.4,1109.2 L467.0,1105.4 L469.6,1101.3 L472.2,1097.1 L474.8,1092.7 L477.4,1088.1 L480.0,1083.3 L482.6,1078.3 L485.2,1073.2 L487.8,1067.8 L490.4,1062.3 L493.0,1056.6 L495.6,1050.7 L498.2,1044.6 L500.7,1038.4 L503.3,1032.0 L505.9,1025.5 L508.5,1018.9 L511.1,1012.1 L513.7,1005.2 L516.3,998.2 L518.9,991.2 L521.5,984.0 L524.1,976.9 L526.7,969.6 L529.3,962.4 L531.9,955.2 L534.5,947.9 L537.1,940.8 L539.7,933.6 L542.3,926.5 L544.9,919.5 L547.5,912.6 L550.1,905.8 L552.7,899.1 L555.3,892.5 L557.8,886.1 L560.4,879.8 L563.0,873.7 L565.6,867.7 L568.2,861.9 L570.8,856.3 L573.4,850.9 L576.0,845.7 L578.6,840.6 L581.2,835.7 L583.8,831.1 L586.4,826.6 L589.0,822.3 L591.6,818.2 L594.2,814.2 L596.8,810.5 L599.4,806.9 L602.0,803.5 L604.6,800.2 L607.2,797.1 L609.8,794.2 L612.4,791.4 L614.9,788.8 L617.5,786.3 L620.1,783.9 L622.7,781.7 L625.3,779.6 L627.9,777.6 L630.5,775.7 L633.1,773.9 L635.7,772.2 L638.3,770.6 L640.9,769.2 L643.5,767.8 L646.1,766.4 L648.7,765.2 L651.3,764.0 L653.9,762.9 L656.5,761.9 L659.1,761.0 L661.7,760.0 L664.3,759.2 L666.9,758.4 L669.5,757.6 L672.1,756.9 L674.6,756.3 L677.2,755.7 L679.8,755.1 L682.4,754.5 L685.0,754.0 L687.6,753.6 L690.2,753.1 L692.8,752.7 L695.4,752.3 L698.0,751.9 L700.6,751.6 L703.2,751.3 L705.8,751.0 L708.4,750.7 L711.0,750.4 L713.6,750.2 L716.2,750.0 L718.8,749.7 L721.4,749.5 L724.0,749.3 L726.6,749.2 L729.2,749.0 L731.7,748.9 L734.3,748.7 L736.9,748.6 L739.5,748.4 L742.1,748.3 L744.7,748.2 L747.3,748.1 L749.9,748.0 L752.5,747.9 L755.1,747.8 L757.7,747.8 L760.3,747.7 L762.9,747.6 L765.5,747.6 L768.1,747.5 L770.7,747.4 L773.3,747.4" fill="none" stroke="#111" stroke-width="3.6" />
<path d="M124.4,1175.3 L127.0,1175.3 L129.6,1175.2 L132.2,1175.2 L134.8,1175.2 L137.4,1175.2 L140.0,1175.2 L142.6,1175.2 L145.2,1175.2 L147.8,1175.2 L150.4,1175.2 L153.0,1175.2 L155.5,1175.2 L158.1,1175.2 L160.7,1175.2 L163.3,1175.2 L165.9,1175.2 L168.5,1175.2 L171.1,1175.2 L173.7,1175.2 L176.3,1175.2 L178.9,1175.1 L181.5,1175.1 L184.1,1175.1 L186.7,1175.1 L189.3,1175.1 L191.9,1175.1 L194.5,1175.1 L197.1,1175.1 L199.7,1175.1 L202.3,1175.0 L204.9,1175.0 L207.5,1175.0 L210.1,1175.0 L212.6,1175.0 L215.2,1175.0 L217.8,1174.9 L220.4,1174.9 L223.0,1174.9 L225.6,1174.9 L228.2,1174.8 L230.8,1174.8 L233.4,1174.8 L236.0,1174.8 L238.6,1174.7 L241.2,1174.7 L243.8,1174.7 L246.4,1174.6 L249.0,1174.6 L251.6,1174.5 L254.2,1174.5 L256.8,1174.4 L259.4,1174.4 L262.0,1174.3 L264.6,1174.3 L267.2,1174.2 L269.7,1174.2 L272.3,1174.1 L274.9,1174.0 L277.5,1173.9 L280.1,1173.9 L282.7,1173.8 L285.3,1173.7 L287.9,1173.6 L290.5,1173.5 L293.1,1173.4 L295.7,1173.3 L298.3,1173.1 L300.9,1173.0 L303.5,1172.9 L306.1,1172.7 L308.7,1172.6 L311.3,1172.4 L313.9,1172.3 L316.5,1172.1 L319.1,1171.9 L321.7,1171.7 L324.3,1171.5 L326.8,1171.3 L329.4,1171.0 L332.0,1170.8 L334.6,1170.5 L337.2,1170.2 L339.8,1169.9 L342.4,1169.6 L345.0,1169.3 L347.6,1168.9 L350.2,1168.6 L352.8,1168.2 L355.4,1167.8 L358.0,1167.3 L360.6,1166.9 L363.2,1166.4 L365.8,1165.9 L368.4,1165.3 L371.0,1164.7 L373.6,1164.1 L376.2,1163.5 L378.8,1162.8 L381.4,1162.1 L383.9,1161.3 L386.5,1160.5 L389.1,1159.7 L391.7,1158.8 L394.3,1157.9 L396.9,1156.9 L399.5,1155.8 L402.1,1154.7 L404.7,1153.6 L407.3,1152.4 L409.9,1151.1 L412.5,1149.8 L415.1,1148.3 L417.7,1146.8 L420.3,1145.3 L422.9,1143.6 L425.5,1141.9 L428.1,1140.1 L430.7,1138.2 L433.3,1136.2 L435.9,1134.1 L438.5,1131.9 L441.1,1129.6 L443.6,1127.2 L446.2,1124.7 L448.8,1122.1 L451.4,1119.4 L454.0,1116.5 L456.6,1113.5 L459.2,1110.4 L461.8,1107.2 L464.4,1103.8 L467.0,1100.4 L469.6,1096.7 L472.2,1093.0 L474.8,1089.1 L477.4,1085.1 L480.0,1080.9 L482.6,1076.6 L485.2,1072.2 L487.8,1067.6 L490.4,1062.9 L493.0,1058.1 L495.6,1053.1 L498.2,1048.0 L500.7,1042.8 L503.3,1037.5 L505.9,1032.1 L508.5,1026.5 L511.1,1020.9 L513.7,1015.2 L516.3,1009.4 L518.9,1003.5 L521.5,997.6 L524.1,991.6 L526.7,985.5 L529.3,979.4 L531.9,973.3 L534.5,967.1 L537.1,961.0 L539.7,954.8 L542.3,948.7 L544.9,942.5 L547.5,936.4 L550.1,930.4 L552.7,924.4 L555.3,918.4 L557.8,912.5 L560.4,906.7 L563.0,901.0 L565.6,895.4 L568.2,889.9 L570.8,884.4 L573.4,879.1 L576.0,873.9 L578.6,868.8 L581.2,863.9 L583.8,859.0 L586.4,854.3 L589.0,849.8 L591.6,845.3 L594.2,841.0 L596.8,836.9 L599.4,832.8 L602.0,829.0 L604.6,825.2 L607.2,821.6 L609.8,818.1 L612.4,814.7 L614.9,811.5 L617.5,808.4 L620.1,805.4 L622.7,802.6 L625.3,799.8 L627.9,797.2 L630.5,794.7 L633.1,792.3 L635.7,790.0 L638.3,787.8 L640.9,785.7 L643.5,783.7 L646.1,781.8 L648.7,780.0 L651.3,778.3 L653.9,776.7 L656.5,775.1 L659.1,773.6 L661.7,772.2 L664.3,770.8 L666.9,769.6 L669.5,768.3 L672.1,767.2 L674.6,766.1 L677.2,765.0 L679.8,764.1 L682.4,763.1 L685.0,762.2 L687.6,761.4 L690.2,760.6 L692.8,759.8 L695.4,759.1 L698.0,758.4 L700.6,757.8 L703.2,757.2 L705.8,756.6 L708.4,756.1 L711.0,755.6 L713.6,755.1 L716.2,754.6 L718.8,754.2 L721.4,753.8 L724.0,753.4 L726.6,753.0 L729.2,752.6 L731.7,752.3 L734.3,752.0 L736.9,751.7 L739.5,751.4 L742.1,751.2 L744.7,750.9 L747.3,750.7 L749.9,750.4 L752.5,750.2 L755.1,750.0 L757.7,749.8 L760.3,749.7 L762.9,749.5 L765.5,749.3 L768.1,749.2 L770.7,749.0 L773.3,748.9" fill="none" stroke="#111" stroke-width="3.6" />
<path d="M124.4,1175.2 L127.0,1175.2 L129.6,1175.2 L132.2,1175.2 L134.8,1175.2 L137.4,1175.2 L140.0,1175.2 L142.6,1175.2 L145.2,1175.2 L147.8,1175.2 L150.4,1175.1 L153.0,1175.1 L155.5,1175.1 L158.1,1175.1 L160.7,1175.1 L163.3,1175.0 L165.9,1175.0 L168.5,1175.0 L171.1,1175.0 L173.7,1174.9 L176.3,1174.9 L178.9,1174.9 L181.5,1174.8 L184.1,1174.8 L186.7,1174.7 L189.3,1174.7 L191.9,1174.6 L194.5,1174.5 L197.1,1174.5 L199.7,1174.4 L202.3,1174.3 L204.9,1174.2 L207.5,1174.1 L210.1,1174.0 L212.6,1173.9 L215.2,1173.7 L217.8,1173.6 L220.4,1173.4 L223.0,1173.3 L225.6,1173.1 L228.2,1172.8 L230.8,1172.6 L233.4,1172.4 L236.0,1172.1 L238.6,1171.8 L241.2,1171.4 L243.8,1171.1 L246.4,1170.7 L249.0,1170.2 L251.6,1169.8 L254.2,1169.3 L256.8,1168.7 L259.4,1168.1 L262.0,1167.4 L264.6,1166.7 L267.2,1165.9 L269.7,1165.0 L272.3,1164.0 L274.9,1163.0 L277.5,1161.8 L280.1,1160.6 L282.7,1159.3 L285.3,1157.8 L287.9,1156.2 L290.5,1154.5 L293.1,1152.6 L295.7,1150.6 L298.3,1148.3 L300.9,1146.0 L303.5,1143.4 L306.1,1140.6 L308.7,1137.6 L311.3,1134.3 L313.9,1130.8 L316.5,1127.0 L319.1,1123.0 L321.7,1118.7 L324.3,1114.1 L326.8,1109.1 L329.4,1103.9 L332.0,1098.3 L334.6,1092.4 L337.2,1086.1 L339.8,1079.5 L342.4,1072.6 L345.0,1065.3 L347.6,1057.6 L350.2,1049.7 L352.8,1041.5 L355.4,1032.9 L358.0,1024.1 L360.6,1015.1 L363.2,1005.8 L365.8,996.4 L368.4,986.8 L371.0,977.1 L373.6,967.3 L376.2,957.5 L378.8,947.7 L381.4,937.9 L383.9,928.3 L386.5,918.7 L389.1,909.4 L391.7,900.2 L394.3,891.2 L396.9,882.5 L399.5,874.1 L402.1,866.0 L404.7,858.2 L407.3,850.7 L409.9,843.5 L412.5,836.7 L415.1,830.2 L417.7,824.1 L420.3,818.3 L422.9,812.9 L425.5,807.8 L428.1,803.0 L430.7,798.4 L433.3,794.2 L435.9,790.3 L438.5,786.7 L441.1,783.3 L443.6,780.1 L446.2,777.2 L448.8,774.5 L451.4,772.0 L454.0,769.6 L456.6,767.5 L459.2,765.5 L461.8,763.7 L464.4,762.0 L467.0,760.5 L469.6,759.1 L472.2,757.8 L474.8,756.6 L477.4,755.5 L480.0,754.5 L482.6,753.6 L485.2,752.7 L487.8,751.9 L490.4,751.2 L493.0,750.6 L495.6,750.0 L498.2,749.4 L500.7,748.9 L503.3,748.5 L505.9,748.1 L508.5,747.7 L511.1,747.3 L513.7,747.0 L516.3,746.7 L518.9,746.4 L521.5,746.2 L524.1,746.0 L526.7,745.8 L529.3,745.6 L531.9,745.4 L534.5,745.2 L537.1,745.1 L539.7,745.0 L542.3,744.9 L544.9,744.7 L547.5,744.6 L550.1,744.6 L552.7,744.5 L555.3,744.4 L557.8,744.3 L560.4,744.3 L563.0,744.2 L565.6,744.2 L568.2,744.1 L570.8,744.1 L573.4,744.0 L576.0,744.0 L578.6,744.0 L581.2,743.9 L583.8,743.9 L586.4,743.9 L589.0,743.8 L591.6,743.8 L594.2,743.8 L596.8,743.8 L599.4,743.8 L602.0,743.8 L604.6,743.7 L607.2,743.7 L609.8,743.7 L612.4,743.7 L614.9,743.7 L617.5,743.7 L620.1,743.7 L622.7,743.7 L625.3,743.7 L627.9,743.7 L630.5,743.7 L633.1,743.7 L635.7,743.6 L638.3,743.6 L640.9,743.6 L643.5,743.6" fill="none" stroke="#111" stroke-width="3.6" stroke-dasharray="25 17" stroke-dashoffset="18.5"/>
<path d="M124.4,1175.1 L127.0,1175.1 L129.6,1175.1 L132.2,1175.0 L134.8,1175.0 L137.4,1175.0 L140.0,1175.0 L142.6,1174.9 L145.2,1174.9 L147.8,1174.8 L150.4,1174.8 L153.0,1174.8 L155.5,1174.7 L158.1,1174.7 L160.7,1174.6 L163.3,1174.6 L165.9,1174.5 L168.5,1174.4 L171.1,1174.3 L173.7,1174.3 L176.3,1174.2 L178.9,1174.1 L181.5,1173.9 L184.1,1173.8 L186.7,1173.7 L189.3,1173.6 L191.9,1173.4 L194.5,1173.2 L197.1,1173.1 L199.7,1172.9 L202.3,1172.6 L204.9,1172.4 L207.5,1172.2 L210.1,1171.9 L212.6,1171.6 L215.2,1171.3 L217.8,1170.9 L220.4,1170.5 L223.0,1170.1 L225.6,1169.6 L228.2,1169.2 L230.8,1168.6 L233.4,1168.0 L236.0,1167.4 L238.6,1166.7 L241.2,1166.0 L243.8,1165.2 L246.4,1164.3 L249.0,1163.4 L251.6,1162.3 L254.2,1161.2 L256.8,1160.0 L259.4,1158.7 L262.0,1157.3 L264.6,1155.8 L267.2,1154.2 L269.7,1152.4 L272.3,1150.5 L274.9,1148.4 L277.5,1146.2 L280.1,1143.8 L282.7,1141.2 L285.3,1138.5 L287.9,1135.5 L290.5,1132.4 L293.1,1129.0 L295.7,1125.4 L298.3,1121.5 L300.9,1117.4 L303.5,1113.0 L306.1,1108.3 L308.7,1103.4 L311.3,1098.2 L313.9,1092.7 L316.5,1086.8 L319.1,1080.7 L321.7,1074.3 L324.3,1067.6 L326.8,1060.6 L329.4,1053.4 L332.0,1045.8 L334.6,1038.0 L337.2,1029.9 L339.8,1021.7 L342.4,1013.2 L345.0,1004.5 L347.6,995.7 L350.2,986.7 L352.8,977.7 L355.4,968.6 L358.0,959.4 L360.6,950.3 L363.2,941.2 L365.8,932.2 L368.4,923.2 L371.0,914.4 L373.6,905.7 L376.2,897.2 L378.8,889.0 L381.4,880.9 L383.9,873.1 L386.5,865.5 L389.1,858.3 L391.7,851.3 L394.3,844.6 L396.9,838.2 L399.5,832.1 L402.1,826.2 L404.7,820.7 L407.3,815.5 L409.9,810.6 L412.5,805.9 L415.1,801.5 L417.7,797.4 L420.3,793.5 L422.9,789.9 L425.5,786.5 L428.1,783.4 L430.7,780.4 L433.3,777.7 L435.9,775.1 L438.5,772.7 L441.1,770.5 L443.6,768.4 L446.2,766.5 L448.8,764.7 L451.4,763.1 L454.0,761.6 L456.6,760.2 L459.2,758.9 L461.8,757.7 L464.4,756.6 L467.0,755.5 L469.6,754.6 L472.2,753.7 L474.8,752.9 L477.4,752.2 L480.0,751.5 L482.6,750.9 L485.2,750.3 L487.8,749.7 L490.4,749.3 L493.0,748.8 L495.6,748.4 L498.2,748.0 L500.7,747.6 L503.3,747.3 L505.9,747.0 L508.5,746.7 L511.1,746.5 L513.7,746.3 L516.3,746.0 L518.9,745.8 L521.5,745.7 L524.1,745.5 L526.7,745.3 L529.3,745.2 L531.9,745.1 L534.5,745.0 L537.1,744.8 L539.7,744.7 L542.3,744.6 L544.9,744.6 L547.5,744.5 L550.1,744.4 L552.7,744.3 L555.3,744.3 L557.8,744.2 L560.4,744.2 L563.0,744.1 L565.6,744.1 L568.2,744.0 L570.8,744.0 L573.4,744.0 L576.0,743.9 L578.6,743.9 L581.2,743.9 L583.8,743.9 L586.4,743.8 L589.0,743.8 L591.6,743.8 L594.2,743.8 L596.8,743.8 L599.4,743.8 L602.0,743.7 L604.6,743.7 L607.2,743.7 L609.8,743.7 L612.4,743.7 L614.9,743.7 L617.5,743.7 L620.1,743.7 L622.7,743.7 L625.3,743.7 L627.9,743.7 L630.5,743.7 L633.1,743.7 L635.7,743.6 L638.3,743.6 L640.9,743.6 L643.5,743.6" fill="none" stroke="#111" stroke-width="3.6" stroke-dasharray="25 17" stroke-dashoffset="25"/>
<rect x="113.70" y="1162.00" width="21.4" height="21.4" fill="none" stroke="#111" stroke-width="3.3" stroke-linejoin="round"/>
<rect x="165.61" y="1160.27" width="21.4" height="21.4" fill="none" stroke="#111" stroke-width="3.3" stroke-linejoin="round"/>
<rect x="217.52" y="1160.27" width="21.4" height="21.4" fill="none" stroke="#111" stroke-width="3.3" stroke-linejoin="round"/>
<rect x="269.43" y="1155.94" width="21.4" height="21.4" fill="none" stroke="#111" stroke-width="3.3" stroke-linejoin="round"/>
<line x1="332.04" y1="1088.56" x2="332.04" y2="1093.15" stroke="#111" stroke-width="3.2" />
<line x1="332.04" y1="1114.56" x2="332.04" y2="1119.15" stroke="#111" stroke-width="3.2" />
<line x1="319.64" y1="1088.56" x2="344.44" y2="1088.56" stroke="#111" stroke-width="3.2" />
<line x1="319.64" y1="1119.15" x2="344.44" y2="1119.15" stroke="#111" stroke-width="3.2" />
<rect x="321.34" y="1093.15" width="21.4" height="21.4" fill="none" stroke="#111" stroke-width="3.3" stroke-linejoin="round"/>
<line x1="383.95" y1="903.19" x2="383.95" y2="915.19" stroke="#111" stroke-width="3.2" />
<line x1="383.95" y1="936.59" x2="383.95" y2="948.59" stroke="#111" stroke-width="3.2" />
<line x1="371.55" y1="903.19" x2="396.35" y2="903.19" stroke="#111" stroke-width="3.2" />
<line x1="371.55" y1="948.59" x2="396.35" y2="948.59" stroke="#111" stroke-width="3.2" />
<rect x="373.25" y="915.19" width="21.4" height="21.4" fill="none" stroke="#111" stroke-width="3.3" stroke-linejoin="round"/>
<rect x="425.16" y="773.60" width="21.4" height="21.4" fill="none" stroke="#111" stroke-width="3.3" stroke-linejoin="round"/>
<rect x="477.07" y="734.63" width="21.4" height="21.4" fill="none" stroke="#111" stroke-width="3.3" stroke-linejoin="round"/>
<rect x="528.98" y="735.93" width="21.4" height="21.4" fill="none" stroke="#111" stroke-width="3.3" stroke-linejoin="round"/>
<rect x="580.89" y="742.86" width="21.4" height="21.4" fill="none" stroke="#111" stroke-width="3.3" stroke-linejoin="round"/>
<rect x="632.80" y="731.60" width="21.4" height="21.4" fill="none" stroke="#111" stroke-width="3.3" stroke-linejoin="round"/>
<circle cx="124.40" cy="1175.30" r="11" fill="none" stroke="#111" stroke-width="3.3"/>
<circle cx="176.31" cy="1175.30" r="11" fill="none" stroke="#111" stroke-width="3.3"/>
<circle cx="228.22" cy="1168.81" r="11" fill="none" stroke="#111" stroke-width="3.3"/>
<circle cx="280.13" cy="1145.42" r="11" fill="none" stroke="#111" stroke-width="3.3"/>
<line x1="332.04" y1="1023.10" x2="332.04" y2="1035.70" stroke="#111" stroke-width="3.2" />
<line x1="332.04" y1="1057.70" x2="332.04" y2="1070.30" stroke="#111" stroke-width="3.2" />
<line x1="319.64" y1="1023.10" x2="344.44" y2="1023.10" stroke="#111" stroke-width="3.2" />
<line x1="319.64" y1="1070.30" x2="344.44" y2="1070.30" stroke="#111" stroke-width="3.2" />
<circle cx="332.04" cy="1046.70" r="11" fill="none" stroke="#111" stroke-width="3.3"/>
<line x1="383.95" y1="847.93" x2="383.95" y2="862.93" stroke="#111" stroke-width="3.2" />
<line x1="383.95" y1="884.93" x2="383.95" y2="899.93" stroke="#111" stroke-width="3.2" />
<line x1="371.55" y1="847.93" x2="396.35" y2="847.93" stroke="#111" stroke-width="3.2" />
<line x1="371.55" y1="899.93" x2="396.35" y2="899.93" stroke="#111" stroke-width="3.2" />
<circle cx="383.95" cy="873.93" r="11" fill="none" stroke="#111" stroke-width="3.3"/>
<circle cx="435.86" cy="775.64" r="11" fill="none" stroke="#111" stroke-width="3.3"/>
<circle cx="487.77" cy="745.33" r="11" fill="none" stroke="#111" stroke-width="3.3"/>
<circle cx="539.68" cy="745.33" r="11" fill="none" stroke="#111" stroke-width="3.3"/>
<circle cx="591.59" cy="740.13" r="11" fill="none" stroke="#111" stroke-width="3.3"/>
<circle cx="643.50" cy="743.17" r="11" fill="none" stroke="#111" stroke-width="3.3"/>
<circle cx="695.41" cy="740.57" r="11" fill="none" stroke="#111" stroke-width="3.3"/>
<circle cx="747.32" cy="740.57" r="11" fill="none" stroke="#111" stroke-width="3.3"/>
<rect x="269.23" y="1165.27" width="21.8" height="21.8" fill="#111"/>
<rect x="321.14" y="1163.10" width="21.8" height="21.8" fill="#111"/>
<rect x="373.05" y="1152.71" width="21.8" height="21.8" fill="#111"/>
<rect x="424.96" y="1124.13" width="21.8" height="21.8" fill="#111"/>
<line x1="487.77" y1="1045.05" x2="487.77" y2="1083.85" stroke="#111" stroke-width="3.2" />
<line x1="475.37" y1="1045.05" x2="500.17" y2="1045.05" stroke="#111" stroke-width="3.2" />
<line x1="475.37" y1="1083.85" x2="500.17" y2="1083.85" stroke="#111" stroke-width="3.2" />
<rect x="476.87" y="1053.55" width="21.8" height="21.8" fill="#111"/>
<line x1="539.68" y1="920.08" x2="539.68" y2="965.48" stroke="#111" stroke-width="3.2" />
<line x1="527.28" y1="920.08" x2="552.08" y2="920.08" stroke="#111" stroke-width="3.2" />
<line x1="527.28" y1="965.48" x2="552.08" y2="965.48" stroke="#111" stroke-width="3.2" />
<rect x="528.78" y="931.88" width="21.8" height="21.8" fill="#111"/>
<line x1="591.59" y1="801.41" x2="591.59" y2="830.41" stroke="#111" stroke-width="3.2" />
<line x1="579.19" y1="801.41" x2="603.99" y2="801.41" stroke="#111" stroke-width="3.2" />
<line x1="579.19" y1="830.41" x2="603.99" y2="830.41" stroke="#111" stroke-width="3.2" />
<rect x="580.69" y="805.01" width="21.8" height="21.8" fill="#111"/>
<rect x="632.60" y="751.32" width="21.8" height="21.8" fill="#111"/>
<rect x="684.51" y="748.72" width="21.8" height="21.8" fill="#111"/>
<rect x="736.42" y="742.23" width="21.8" height="21.8" fill="#111"/>
<circle cx="176.31" cy="1176.17" r="11.4" fill="#111"/>
<circle cx="228.22" cy="1167.94" r="11.4" fill="#111"/>
<circle cx="280.13" cy="1164.47" r="11.4" fill="#111"/>
<circle cx="332.04" cy="1162.74" r="11.4" fill="#111"/>
<circle cx="383.95" cy="1146.72" r="11.4" fill="#111"/>
<circle cx="435.86" cy="1123.77" r="11.4" fill="#111"/>
<circle cx="487.77" cy="1058.39" r="11.4" fill="#111"/>
<circle cx="539.68" cy="962.70" r="11.4" fill="#111"/>
<circle cx="591.59" cy="844.05" r="11.4" fill="#111"/>
<circle cx="643.50" cy="778.24" r="11.4" fill="#111"/>
<circle cx="695.41" cy="755.29" r="11.4" fill="#111"/>
<circle cx="747.32" cy="755.29" r="11.4" fill="#111"/>
<line x1="127.90" y1="720.50" x2="181.70" y2="720.50" stroke="#111" stroke-width="3.0" />
<rect x="143.8" y="709.4" width="21.3" height="21.7" fill="#111"/>
<line x1="124.30" y1="755.40" x2="181.70" y2="755.40" stroke="#111" stroke-width="3.0" />
<circle cx="154.6" cy="755.7" r="11" fill="#111"/>
<line x1="130.20" y1="789.00" x2="156.70" y2="789.00" stroke="#111" stroke-width="3.0" />
<line x1="171.10" y1="789.00" x2="184.00" y2="789.00" stroke="#111" stroke-width="3.0" />
<rect x="142.6" y="778.3" width="21" height="21.3" fill="none" stroke="#111" stroke-width="3.2" stroke-linejoin="round"/>
<line x1="124.30" y1="822.30" x2="152.90" y2="822.30" stroke="#111" stroke-width="3.0" />
<line x1="165.10" y1="822.30" x2="180.20" y2="822.30" stroke="#111" stroke-width="3.0" />
<circle cx="154.5" cy="823.6" r="9.3" fill="none" stroke="#111" stroke-width="3.2"/>
<g transform="translate(188.00,727.30) scale(1.1359,1)"><text font-size="20.28" fill="#111" stroke="#111" stroke-width="0.31">wildtype activation</text></g>
<g transform="translate(189.56,760.60) scale(1.0743,1)"><text font-size="21.57" fill="#111" stroke="#111" stroke-width="0.33">S631A activation</text><rect x="39.46" y="-2.80" width="4.21" height="4.10" fill="#fff"/><rect x="45.82" y="-2.80" width="3.88" height="4.10" fill="#fff"/></g>
<g transform="translate(187.20,797.80) scale(1.0967,1)"><text font-size="21.10" fill="#111" stroke="#111" stroke-width="0.32">wildtype deactivation</text></g>
<g transform="translate(188.95,832.60) scale(1.0650,1)"><text font-size="21.86" fill="#111" stroke="#111" stroke-width="0.33">S631A deactivation</text><rect x="39.98" y="-2.84" width="4.26" height="4.15" fill="#fff"/><rect x="46.43" y="-2.84" width="3.93" height="4.15" fill="#fff"/></g>
</svg>
</body></html>
